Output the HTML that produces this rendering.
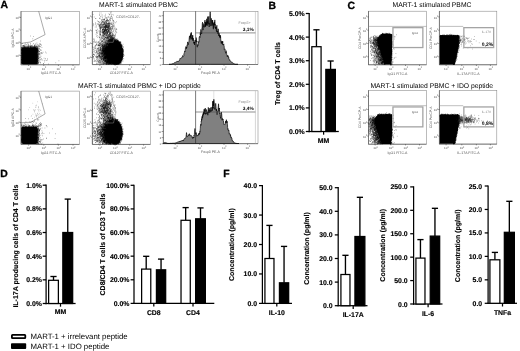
<!DOCTYPE html>
<html><head><meta charset="utf-8"><title>Figure</title>
<style>
html,body{margin:0;padding:0;background:#fff;}
body{width:520px;height:351px;overflow:hidden;font-family:"Liberation Sans",sans-serif;}
svg{display:block;will-change:transform;}
svg text{font-family:"Liberation Sans",sans-serif;text-rendering:geometricPrecision;}
</style></head><body>
<svg width="520" height="351" viewBox="0 0 520 351">
<rect width="520" height="351" fill="#fff"/>
<text x="0.5" y="8.4" font-size="10.4" font-weight="bold" text-anchor="start" fill="#000" stroke="#000" stroke-width="0.3">A</text>
<text x="268.6" y="8.9" font-size="10.4" font-weight="bold" text-anchor="start" fill="#000" stroke="#000" stroke-width="0.3">B</text>
<text x="347.4" y="8.6" font-size="10.4" font-weight="bold" text-anchor="start" fill="#000" stroke="#000" stroke-width="0.3">C</text>
<text x="0.2" y="176.6" font-size="10.4" font-weight="bold" text-anchor="start" fill="#000" stroke="#000" stroke-width="0.3">D</text>
<text x="90.7" y="177.0" font-size="10.4" font-weight="bold" text-anchor="start" fill="#000" stroke="#000" stroke-width="0.3">E</text>
<text x="223.2" y="177.0" font-size="10.4" font-weight="bold" text-anchor="start" fill="#000" stroke="#000" stroke-width="0.3">F</text>
<text x="138.5" y="7.4" font-size="6.78" font-weight="normal" text-anchor="middle" fill="#000">MART-1 stimulated PBMC</text>
<text x="139.4" y="87.6" font-size="6.78" font-weight="normal" text-anchor="middle" fill="#000">MART-1 stimulated PBMC + IDO peptide</text>
<text x="432" y="7.4" font-size="6.78" font-weight="normal" text-anchor="middle" fill="#000">MART-1 stimulated PBMC</text>
<text x="431.8" y="88.2" font-size="6.78" font-weight="normal" text-anchor="middle" fill="#000">MART-1 stimulated PBMC + IDO peptide</text>
<rect x="21.0" y="11.3" width="58.5" height="53.5" fill="#fff" stroke="#858585" stroke-width="0.55"/>
<path d="M21.0,11.3V64.8H79.5" fill="none" stroke="#4a4a4a" stroke-width="0.6"/>
<polyline points="21,43.4 30.5,42 45.1,34.6 38.7,11.3" fill="none" stroke="#444" stroke-width="0.45"/>
<rect x="21.3" y="47.199999999999996" width="16.3" height="17.300000000000004" rx="1.8" fill="#000"/>
<path d="M30 36h.5M33.2 36.5h.5M32.6 38.75h.5M40.1 41h.5M36.7 43h.5M24.9 43.25h.5M22.2 43.5h.5m7.3 0h.5m2.5 0h.5M27.1 43.75h.5m8 0h.5m3.4 0h.5M28.4 44h.5m11.2 0h.5M39.9 44.25h.5M26.1 44.5h.5m1.3 0h.5m6.5 0h.5m5.3 0h.5M25.4 44.75h.5m4.5 0h.5m6 0h.5m1.4 0h.5M24.6 45h.5m7.6 0h.5m.8 0h.5m2.3 0h.5M24.5 45.25h.5m3.4 0h.5m8.9 0h.5m3.1 0h.5M22.3 45.5h.5m.4 0h.5m-.4 0h.5M23.2 45.75h.5m.5 0h.5m2.2 0h.5m1 0h.5m1.8 0h.5m.5 0h.5m-.1 0h.5m1.6 0h.5m-.3 0h.5m-.2 0h.5m.4 0h.5m2.3 0h.5M23.3 46h.5m1.4 0h.5m.9 0h.5m.9 0h.5m.2 0h.5m-.3 0h.5m.2 0h.5m-.2 0h.5m-.2 0h.5m.3 0h.5m-.3 0h.5m-.4 0h.5m2.2 0h.5m1.9 0h.5m1.7 0h.5m0 0h.5m-.3 0h.5M22.3 46.25h.5m.7 0h.5m.3 0h.5m2 0h.5m3.1 0h.5m3.4 0h.5m-.4 0h.5m-.3 0h.5m.3 0h.5m-.3 0h.5m.1 0h.5m3.9 0h.5M24.7 46.5h.5m.2 0h.5m2.3 0h.5m-.1 0h.5m-.4 0h.5m.1 0h.5m.6 0h.5m1.1 0h.5m1 0h.5m-.3 0h.5m-.2 0h.5m2.3 0h.5m.2 0h.5m.6 0h.5M23.2 46.75h.5m.5 0h.5m.9 0h.5m.4 0h.5m-.2 0h.5m0 0h.5m2.3 0h.5m-.2 0h.5m0 0h.5m.1 0h.5m-.3 0h.5m0 0h.5m.2 0h.5m2.5 0h.5m.5 0h.5m1.7 0h.5m.6 0h.5M22.3 47h.5m.5 0h.5m0 0h.5m-.2 0h.5m-.4 0h.5m-.2 0h.5m-.3 0h.5m1.5 0h.5m-.2 0h.5m.7 0h.5m0 0h.5m.7 0h.5m.2 0h.5m-.1 0h.5m.7 0h.5m-.1 0h.5m.7 0h.5m.9 0h.5m-.2 0h.5m-.3 0h.5m-.1 0h.5m-.2 0h.5m1.8 0h.5M21.6 47.25h.5m.2 0h.5m.6 0h.5m-.1 0h.5m1.9 0h.5m.3 0h.5m-.3 0h.5m-.4 0h.5m.9 0h.5m1 0h.5m-.2 0h.5m1.7 0h.5m.3 0h.5m-.3 0h.5m-.4 0h.5m.4 0h.5m-.2 0h.5m.4 0h.5m.9 0h.5m0 0h.5M21.6 47.5h.5m-.3 0h.5m2 0h.5m-.1 0h.5m0 0h.5m-.3 0h.5m2.3 0h.5m-.2 0h.5m1 0h.5m-.1 0h.5m.3 0h.5m.3 0h.5m.7 0h.5m.3 0h.5m-.2 0h.5m-.2 0h.5m6.6 0h.5M21.6 47.75h.5m3.7 0h.5m5 0h.5m1.3 0h.5m.7 0h.5m.4 0h.5m1.1 0h.5m-.3 0h.5m0 0h.5m-.3 0h.5M21.6 48h.5M21.2 48.25h.5m0 0h.5m14.4 0h.5m0 0h.5m-.3 0h.5m-.1 0h.5m.4 0h.5M36.8 48.5h.5m2.2 0h.5M36.5 48.75h.5m0 0h.5m1.1 0h.5M37.1 49h.5m-.4 0h.5m-.4 0h.5m.8 0h.5M37.6 49.25h.5m.3 0h.5m.4 0h.5M21.2 49.5h.5m-.2 0h.5m14.9 0h.5m-.1 0h.5m2.5 0h.5M21.2 49.75h.5m-.3 0h.5m15.1 0h.5m-.1 0h.5m-.4 0h.5M37.3 50h.5m-.4 0h.5m-.2 0h.5m-.3 0h.5M21.3 50.25h.5m-.3 0h.5m-.4 0h.5m15.3 0h.5m.2 0h.5m2.8 0h.5M21.7 50.5h.5m-.4 0h.5m14.3 0h.5m-.1 0h.5m2.9 0h.5M36.7 50.75h.5m-.4 0h.5m.1 0h.5m-.4 0h.5m.2 0h.5m-.1 0h.5M36.6 51h.5m-.1 0h.5m.1 0h.5m-.3 0h.5m.1 0h.5M37 51.25h.5m.1 0h.5m-.4 0h.5m.4 0h.5m-.1 0h.5M21.1 51.5h.5m15.7 0h.5m.2 0h.5m.3 0h.5m-.2 0h.5M37.3 51.75h.5m-.4 0h.5m1.3 0h.5M21.5 52h.5m14.6 0h.5m-.3 0h.5m-.4 0h.5m7.8 0h.5M21.2 52.25h.5m14.8 0h.5m.4 0h.5m4.9 0h.5M21 52.5h.5m15.5 0h.5m.1 0h.5m-.4 0h.5m-.3 0h.5m3.1 0h.5M38.3 52.75h.5m1.3 0h.5M21.2 53h.5m0 0h.5m14.9 0h.5m.1 0h.5m.3 0h.5m.5 0h.5m5.9 0h.5M36.6 53.25h.5m4.3 0h.5m-.2 0h.5m-.3 0h.5M21.2 53.5h.5m-.1 0h.5m17.3 0h.5M21.6 53.75h.5m-.4 0h.5m14.7 0h.5m.1 0h.5m-.3 0h.5m.1 0h.5m1.1 0h.5M36.9 54h.5m.3 0h.5m-.4 0h.5m.1 0h.5m-.4 0h.5m-.4 0h.5m.3 0h.5M37 54.25h.5m-.2 0h.5M21.8 54.5h.5m14.3 0h.5m.4 0h.5m1.3 0h.5M36.5 54.75h.5m-.2 0h.5m-.1 0h.5m.2 0h.5m-.3 0h.5m.2 0h.5M21.1 55h.5m15 0h.5m.3 0h.5m2.7 0h.5M21.3 55.25h.5m14.8 0h.5m-.1 0h.5M21.4 55.5h.5m15.5 0h.5M36.7 55.75h.5m.2 0h.5m-.2 0h.5m-.2 0h.5m-.1 0h.5M21.4 56h.5m15.4 0h.5m-.4 0h.5m.7 0h.5m-.2 0h.5M21.4 56.25h.5m15.1 0h.5m-.4 0h.5m-.4 0h.5m.1 0h.5M37.1 56.5h.5m3.1 0h.5M21.3 56.75h.5m16 0h.5m-.2 0h.5M36.6 57h.5m-.1 0h.5m.1 0h.5m0 0h.5M21 57.25h.5m-.4 0h.5m15.1 0h.5m0 0h.5m-.4 0h.5M21.3 57.5h.5m14.8 0h.5m0 0h.5m1.5 0h.5m.4 0h.5M37.2 57.75h.5m.3 0h.5m-.2 0h.5m.2 0h.5M21.7 58h.5m14.7 0h.5m-.3 0h.5m.5 0h.5M36.5 58.25h.5m0 0h.5m-.3 0h.5m.2 0h.5m5.4 0h.5M21.8 58.5h.5m15.5 0h.5m-.3 0h.5m.2 0h.5m2.2 0h.5m3.4 0h.5M36.9 58.75h.5m.6 0h.5m8.6 0h.5M21 59h.5m-.3 0h.5m14.8 0h.5m-.4 0h.5m0 0h.5M21.2 59.25h.5m-.1 0h.5m14.5 0h.5m.2 0h.5m-.4 0h.5m-.2 0h.5m.4 0h.5m1 0h.5M21 59.5h.5m.1 0h.5m14.7 0h.5m-.4 0h.5m-.1 0h.5M21.6 59.75h.5m-.4 0h.5m14.6 0h.5m-.1 0h.5m0 0h.5m1.4 0h.5m1.1 0h.5M36.6 60h.5m1.4 0h.5m.8 0h.5m2 0h.5m2.1 0h.5m1.6 0h.5M36.6 60.25h.5M21.4 60.5h.5m-.4 0h.5m15.1 0h.5m-.2 0h.5m-.2 0h.5m.1 0h.5m5.1 0h.5m2 0h.5M36.7 60.75h.5m21.5 0h.5M21.6 61h.5m14.6 0h.5m-.4 0h.5m-.1 0h.5m.8 0h.5m0 0h.5M21.3 61.25h.5m14.7 0h.5m.2 0h.5m-.2 0h.5m-.3 0h.5m-.3 0h.5M36.7 61.5h.5m.2 0h.5M21.5 61.75h.5m14.5 0h.5m0 0h.5m.1 0h.5m-.3 0h.5M21.2 62h.5m15.3 0h.5m1.2 0h.5m.6 0h.5m4.2 0h.5M37.4 62.25h.5M21.8 62.5h.5m16.2 0h.5m.9 0h.5M21.4 62.75h.5m16.1 0h.5m-.1 0h.5m16.7 0h.5M21.1 63h.5m-.3 0h.5m-.3 0h.5m14.6 0h.5m-.1 0h.5m-.3 0h.5m0 0h.5m-.3 0h.5m1.7 0h.5M37 63.25h.5m.2 0h.5M21.1 63.5h.5m15 0h.5m-.4 0h.5m1.3 0h.5m4.2 0h.5M36.9 63.75h.5m-.3 0h.5m5.8 0h.5M36.8 64h.5m.3 0h.5m10.2 0h.5M36.6 64.5h.5" stroke="#000" stroke-width="0.5" fill="none" opacity="1.0"/>
<path d="" stroke="#777" stroke-width="0.5" fill="none" opacity="1.0"/>
<text x="45.2" y="18.5" font-size="3.2" font-weight="normal" text-anchor="start" fill="#555">IgG1</text>
<line x1="28.6" y1="64.8" x2="28.6" y2="66.0" stroke="#333" stroke-width="0.5"/>
<text x="26.6" y="69.8" font-size="3.0" font-weight="normal" text-anchor="start" fill="#555">10</text>
<text x="29.900000000000002" y="68.39999999999999" font-size="2.2" font-weight="normal" text-anchor="start" fill="#555">2</text>
<line x1="43.8" y1="64.8" x2="43.8" y2="66.0" stroke="#333" stroke-width="0.5"/>
<text x="41.8" y="69.8" font-size="3.0" font-weight="normal" text-anchor="start" fill="#555">10</text>
<text x="45.099999999999994" y="68.39999999999999" font-size="2.2" font-weight="normal" text-anchor="start" fill="#555">2</text>
<line x1="58.4" y1="64.8" x2="58.4" y2="66.0" stroke="#333" stroke-width="0.5"/>
<text x="56.4" y="69.8" font-size="3.0" font-weight="normal" text-anchor="start" fill="#555">10</text>
<text x="59.699999999999996" y="68.39999999999999" font-size="2.2" font-weight="normal" text-anchor="start" fill="#555">2</text>
<line x1="73.0" y1="64.8" x2="73.0" y2="66.0" stroke="#333" stroke-width="0.5"/>
<text x="71.0" y="69.8" font-size="3.0" font-weight="normal" text-anchor="start" fill="#555">10</text>
<text x="74.3" y="68.39999999999999" font-size="2.2" font-weight="normal" text-anchor="start" fill="#555">2</text>
<line x1="19.8" y1="17.4" x2="21.0" y2="17.4" stroke="#333" stroke-width="0.5"/>
<text x="15.4" y="19.0" font-size="3.0" font-weight="normal" text-anchor="start" fill="#555">10</text>
<text x="18.5" y="17.5" font-size="2.2" font-weight="normal" text-anchor="start" fill="#555">2</text>
<line x1="19.8" y1="30.1" x2="21.0" y2="30.1" stroke="#333" stroke-width="0.5"/>
<text x="15.4" y="31.700000000000003" font-size="3.0" font-weight="normal" text-anchor="start" fill="#555">10</text>
<text x="18.5" y="30.200000000000003" font-size="2.2" font-weight="normal" text-anchor="start" fill="#555">2</text>
<line x1="19.8" y1="42.8" x2="21.0" y2="42.8" stroke="#333" stroke-width="0.5"/>
<text x="15.4" y="44.4" font-size="3.0" font-weight="normal" text-anchor="start" fill="#555">10</text>
<text x="18.5" y="42.9" font-size="2.2" font-weight="normal" text-anchor="start" fill="#555">2</text>
<line x1="19.8" y1="55.5" x2="21.0" y2="55.5" stroke="#333" stroke-width="0.5"/>
<text x="15.4" y="57.1" font-size="3.0" font-weight="normal" text-anchor="start" fill="#555">10</text>
<text x="18.5" y="55.6" font-size="2.2" font-weight="normal" text-anchor="start" fill="#555">2</text>
<text x="50.8" y="74.2" font-size="3.5" font-weight="normal" text-anchor="middle" fill="#555">IgG1 FITC-A</text>
<text x="13.7" y="38.05" font-size="3.5" font-weight="normal" text-anchor="middle" fill="#555" transform="rotate(-90 13.7 38.05)">IgG1 APC-A</text>
<rect x="21.0" y="91.1" width="58.5" height="53.30000000000001" fill="#fff" stroke="#858585" stroke-width="0.55"/>
<path d="M21.0,91.1V144.4H79.5" fill="none" stroke="#4a4a4a" stroke-width="0.6"/>
<polyline points="21,122.8 31.1,122.2 45.1,113.9 38.7,91.1" fill="none" stroke="#444" stroke-width="0.45"/>
<rect x="21.3" y="126.80000000000001" width="16.3" height="17.299999999999983" rx="1.8" fill="#000"/>
<path d="M36.2 115.25h.5M25.1 118.5h.5m6.8 0h.5M28.4 118.75h.5M37.4 119.75h.5m.7 0h.5M34.4 120h.5m2.8 0h.5M32.5 121.5h.5m-.2 0h.5m1.2 0h.5M25.7 121.75h.5m5 0h.5M29.3 122h.5M30.5 122.25h.5M33.5 122.5h.5m6.1 0h.5M35.7 123h.5M31.9 123.25h.5m3.7 0h.5M24.5 123.75h.5m14.3 0h.5m-.2 0h.5m.6 0h.5m-.2 0h.5M27.7 124h.5M22.7 124.25h.5m2.3 0h.5m-.3 0h.5m14.3 0h.5m.3 0h.5M40.5 124.5h.5M21.3 124.75h.5m10.3 0h.5m.4 0h.5m1.7 0h.5m2.5 0h.5m1.9 0h.5M28.3 125h.5m3.8 0h.5m6.7 0h.5M21.5 125.25h.5m1 0h.5m1.1 0h.5m.9 0h.5m1.2 0h.5m4.2 0h.5m1.7 0h.5m-.3 0h.5m3.4 0h.5M22.9 125.5h.5m-.3 0h.5m.8 0h.5m4.4 0h.5m-.1 0h.5m9.6 0h.5m.7 0h.5m4.4 0h.5M28.2 125.75h.5m.6 0h.5m2.3 0h.5m-.1 0h.5m-.3 0h.5m-.3 0h.5m2.8 0h.5m.4 0h.5m1.1 0h.5m6.9 0h.5M21.5 126h.5m-.3 0h.5m.4 0h.5m.9 0h.5m1 0h.5m3.1 0h.5m1.4 0h.5m1.3 0h.5m.2 0h.5m-.4 0h.5m-.1 0h.5m1.2 0h.5m.1 0h.5m1.6 0h.5m-.1 0h.5m-.4 0h.5m.9 0h.5M22.2 126.25h.5m2.2 0h.5m.2 0h.5m.3 0h.5m-.3 0h.5m1.4 0h.5m1 0h.5m.4 0h.5m.7 0h.5m.3 0h.5m.2 0h.5m1.7 0h.5M25.5 126.5h.5m2.1 0h.5m1.1 0h.5m2.7 0h.5m1.8 0h.5m0 0h.5m.8 0h.5m-.4 0h.5m.3 0h.5M21.9 126.75h.5m-.1 0h.5m.1 0h.5m-.2 0h.5m-.2 0h.5m1 0h.5m1.1 0h.5m-.4 0h.5m.9 0h.5m.3 0h.5m-.2 0h.5m-.3 0h.5m0 0h.5m.7 0h.5m1.4 0h.5m-.3 0h.5m0 0h.5m0 0h.5m2.1 0h.5m-.2 0h.5m.3 0h.5m1.4 0h.5m6.5 0h.5M24 127h.5m0 0h.5m-.4 0h.5m0 0h.5m.8 0h.5m0 0h.5m.5 0h.5m.2 0h.5m-.1 0h.5m1.8 0h.5m0 0h.5m2.3 0h.5m-.3 0h.5m-.4 0h.5m.6 0h.5m-.2 0h.5m-.3 0h.5m-.1 0h.5m.7 0h.5M22.9 127.25h.5m-.4 0h.5m2.4 0h.5m-.3 0h.5m.2 0h.5m-.2 0h.5m.9 0h.5m1.6 0h.5m-.4 0h.5m-.1 0h.5m.4 0h.5m0 0h.5m-.1 0h.5m0 0h.5M21.1 127.5h.5m16.2 0h.5M21.6 127.75h.5M41.8 128h.5m2.4 0h.5M38.4 128.25h.5m-.3 0h.5M21 128.5h.5m.2 0h.5m14.5 0h.5m1 0h.5m1.7 0h.5M36.9 128.75h.5m.4 0h.5m.3 0h.5m13.2 0h.5M36.9 129h.5m0 0h.5m1.8 0h.5M21.2 129.25h.5m14.8 0h.5m-.3 0h.5m-.1 0h.5m.8 0h.5M37 129.5h.5m.1 0h.5m-.4 0h.5m-.3 0h.5m.2 0h.5m.4 0h.5m-.1 0h.5M21.2 129.75h.5m15.6 0h.5m-.4 0h.5M37.1 130h.5m0 0h.5m.6 0h.5m-.3 0h.5M37.1 130.25h.5m.7 0h.5m.4 0h.5m-.2 0h.5M21.3 130.5h.5m14.9 0h.5m-.4 0h.5m-.2 0h.5m-.3 0h.5m.3 0h.5m.7 0h.5M21.7 130.75h.5m14.7 0h.5m.1 0h.5m-.3 0h.5m.8 0h.5m-.4 0h.5m2.1 0h.5M21.3 131h.5m-.1 0h.5m14.6 0h.5m-.2 0h.5m-.4 0h.5m-.1 0h.5m-.3 0h.5m.4 0h.5M21.6 131.25h.5m14.4 0h.5m-.1 0h.5m.6 0h.5m.5 0h.5M37.2 131.5h.5m-.3 0h.5m.8 0h.5M36.7 131.75h.5m-.2 0h.5M21.4 132h.5m-.2 0h.5m14.7 0h.5m-.1 0h.5m0 0h.5m-.4 0h.5m-.4 0h.5M21.2 132.25h.5m-.1 0h.5m14.6 0h.5m.1 0h.5m0 0h.5m.1 0h.5m3.4 0h.5M37.6 132.5h.5m-.3 0h.5M21.5 132.75h.5m14.9 0h.5m-.4 0h.5M36.5 133h.5m0 0h.5m1.7 0h.5m-.3 0h.5m9.5 0h.5M21 133.25h.5m.2 0h.5m15.2 0h.5m.5 0h.5m.5 0h.5m1.8 0h.5M37.6 133.5h.5m5.6 0h.5M21.1 133.75h.5m14.9 0h.5m-.4 0h.5m.1 0h.5m1.6 0h.5m2 0h.5m12.8 0h.5M36.9 134h.5m-.1 0h.5m-.4 0h.5m-.1 0h.5m-.4 0h.5m-.2 0h.5M21.5 134.25h.5m-.4 0h.5m-.3 0h.5m14.7 0h.5m.1 0h.5m.3 0h.5m-.1 0h.5M38.8 134.5h.5M21.7 134.75h.5m14.4 0h.5m-.4 0h.5m-.4 0h.5m-.2 0h.5m0 0h.5m.6 0h.5M21.4 135h.5m14.9 0h.5m-.3 0h.5m0 0h.5m.4 0h.5m-.4 0h.5M21.6 135.25h.5m14.4 0h.5m1.5 0h.5m1.6 0h.5M21.5 135.5h.5m14.6 0h.5m.1 0h.5M36.9 135.75h.5m.4 0h.5m.1 0h.5m0 0h.5m0 0h.5m2.4 0h.5M21.7 136h.5m16.4 0h.5M21 136.25h.5m15.4 0h.5m.1 0h.5m1.1 0h.5M36.6 136.75h.5m1.2 0h.5M21.4 137h.5m14.8 0h.5m-.2 0h.5m-.4 0h.5m-.4 0h.5m-.1 0h.5m-.3 0h.5m.5 0h.5M21.2 137.25h.5m16.3 0h.5m-.2 0h.5m-.3 0h.5M36.9 137.5h.5m-.3 0h.5m-.1 0h.5m-.2 0h.5M36.5 137.75h.5m1.1 0h.5m-.3 0h.5m1.4 0h.5M21.3 138h.5m16 0h.5m.3 0h.5m7.3 0h.5M21.5 138.25h.5m14.7 0h.5m-.1 0h.5m-.3 0h.5m-.1 0h.5m-.3 0h.5M21.7 138.5h.5m15.6 0h.5m.3 0h.5m7.2 0h.5m8 0h.5M21.6 138.75h.5m15.1 0h.5m0 0h.5m-.1 0h.5M37.1 139h.5m.1 0h.5m.8 0h.5m3.8 0h.5M21.3 139.25h.5m-.4 0h.5m16.3 0h.5m1 0h.5M21.1 139.5h.5m-.2 0h.5m16 0h.5m.1 0h.5m2.5 0h.5M21.2 139.75h.5m15.2 0h.5m-.4 0h.5m.5 0h.5m-.2 0h.5m1.4 0h.5m1.3 0h.5M21.1 140h.5m15 0h.5m-.1 0h.5m-.3 0h.5m.4 0h.5M21.4 140.25h.5m14.7 0h.5m.8 0h.5m2.4 0h.5M37.1 140.5h.5m-.2 0h.5m.2 0h.5M21.2 140.75h.5m14.8 0h.5M21.3 141h.5m-.3 0h.5m14.7 0h.5m-.4 0h.5m-.1 0h.5m.8 0h.5m.1 0h.5m.7 0h.5m0 0h.5M21.7 141.25h.5m14.4 0h.5m.8 0h.5M36.6 141.5h.5m1.5 0h.5m.1 0h.5m-.4 0h.5m.2 0h.5M36.6 141.75h.5m.2 0h.5m-.2 0h.5m-.2 0h.5m.7 0h.5M36.6 142h.5m-.2 0h.5M36.8 142.25h.5M37.4 142.5h.5m-.2 0h.5M36.6 142.75h.5m.5 0h.5m-.3 0h.5m-.4 0h.5m1.7 0h.5m-.3 0h.5M37.2 143h.5m0 0h.5m.9 0h.5m3 0h.5M21.3 143.25h.5m15.8 0h.5m-.4 0h.5m-.4 0h.5m0 0h.5M36.8 143.5h.5m.8 0h.5M37.1 143.75h.5m3.2 0h.5M36.6 144h.5m1.3 0h.5m0 0h.5m1.6 0h.5m16.2 0h.5" stroke="#000" stroke-width="0.5" fill="none" opacity="1.0"/>
<path d="M37 101.75h.5M32.6 103.25h.5M42.5 103.75h.5M36.4 105h.5M35.1 105.75h.5m.9 0h.5M38.5 106.75h.5M38.5 107h.5M35.2 107.25h.5M29.1 107.5h.5m6.1 0h.5m1.8 0h.5M38.6 109h.5M33.3 109.5h.5m3.9 0h.5M28.5 109.75h.5m6.2 0h.5m4 0h.5M34.6 110h.5M33.7 110.5h.5m4.3 0h.5m1 0h.5M34.5 110.75h.5M34.4 111.25h.5M38.7 111.75h.5M34.5 112h.5M37 113.25h.5M37.1 113.5h.5m1.4 0h.5M35 113.75h.5M32.7 114.25h.5M38.4 114.5h.5M40.7 114.75h.5M35.2 115h.5m1.7 0h.5m1.8 0h.5M36.8 115.25h.5M31.1 115.5h.5M35.8 116h.5M38.1 116.25h.5M30.9 116.5h.5m5.1 0h.5M36.2 117h.5M34.1 117.25h.5M37.2 119h.5" stroke="#777" stroke-width="0.5" fill="none" opacity="1.0"/>
<text x="45.2" y="98.3" font-size="3.2" font-weight="normal" text-anchor="start" fill="#555">IgG1</text>
<line x1="28.6" y1="144.4" x2="28.6" y2="145.6" stroke="#333" stroke-width="0.5"/>
<text x="26.6" y="149.4" font-size="3.0" font-weight="normal" text-anchor="start" fill="#555">10</text>
<text x="29.900000000000002" y="148.0" font-size="2.2" font-weight="normal" text-anchor="start" fill="#555">2</text>
<line x1="43.8" y1="144.4" x2="43.8" y2="145.6" stroke="#333" stroke-width="0.5"/>
<text x="41.8" y="149.4" font-size="3.0" font-weight="normal" text-anchor="start" fill="#555">10</text>
<text x="45.099999999999994" y="148.0" font-size="2.2" font-weight="normal" text-anchor="start" fill="#555">2</text>
<line x1="58.4" y1="144.4" x2="58.4" y2="145.6" stroke="#333" stroke-width="0.5"/>
<text x="56.4" y="149.4" font-size="3.0" font-weight="normal" text-anchor="start" fill="#555">10</text>
<text x="59.699999999999996" y="148.0" font-size="2.2" font-weight="normal" text-anchor="start" fill="#555">2</text>
<line x1="73.0" y1="144.4" x2="73.0" y2="145.6" stroke="#333" stroke-width="0.5"/>
<text x="71.0" y="149.4" font-size="3.0" font-weight="normal" text-anchor="start" fill="#555">10</text>
<text x="74.3" y="148.0" font-size="2.2" font-weight="normal" text-anchor="start" fill="#555">2</text>
<line x1="19.8" y1="97.19999999999999" x2="21.0" y2="97.19999999999999" stroke="#333" stroke-width="0.5"/>
<text x="15.4" y="98.79999999999998" font-size="3.0" font-weight="normal" text-anchor="start" fill="#555">10</text>
<text x="18.5" y="97.29999999999998" font-size="2.2" font-weight="normal" text-anchor="start" fill="#555">2</text>
<line x1="19.8" y1="109.89999999999999" x2="21.0" y2="109.89999999999999" stroke="#333" stroke-width="0.5"/>
<text x="15.4" y="111.49999999999999" font-size="3.0" font-weight="normal" text-anchor="start" fill="#555">10</text>
<text x="18.5" y="109.99999999999999" font-size="2.2" font-weight="normal" text-anchor="start" fill="#555">2</text>
<line x1="19.8" y1="122.6" x2="21.0" y2="122.6" stroke="#333" stroke-width="0.5"/>
<text x="15.4" y="124.19999999999999" font-size="3.0" font-weight="normal" text-anchor="start" fill="#555">10</text>
<text x="18.5" y="122.69999999999999" font-size="2.2" font-weight="normal" text-anchor="start" fill="#555">2</text>
<line x1="19.8" y1="135.3" x2="21.0" y2="135.3" stroke="#333" stroke-width="0.5"/>
<text x="15.4" y="136.9" font-size="3.0" font-weight="normal" text-anchor="start" fill="#555">10</text>
<text x="18.5" y="135.4" font-size="2.2" font-weight="normal" text-anchor="start" fill="#555">2</text>
<text x="50.8" y="153.8" font-size="3.5" font-weight="normal" text-anchor="middle" fill="#555">IgG1 FITC-A</text>
<text x="13.7" y="117.75" font-size="3.5" font-weight="normal" text-anchor="middle" fill="#555" transform="rotate(-90 13.7 117.75)">IgG1 APC-A</text>
<rect x="92.3" y="11.3" width="58.2" height="53.3" fill="#fff" stroke="#858585" stroke-width="0.55"/>
<path d="M92.3,11.3V64.6H150.5" fill="none" stroke="#4a4a4a" stroke-width="0.6"/>
<clipPath id="cp9211"><rect x="92.3" y="11.3" width="58.2" height="53.0"/></clipPath>
<ellipse cx="114.2" cy="53" rx="7.4" ry="11.2" fill="#000" clip-path="url(#cp9211)"/>
<path d="M111.3 12h.5M99.2 13h.5m1.1 0h.5M108.7 13.75h.5M105.2 14.25h.5M92.8 14.5h.5m15.9 0h.5m2.1 0h.5M99 14.75h.5m9.6 0h.5M100.9 15h.5m1.1 0h.5m10.5 0h.5M99.1 15.25h.5M105.2 15.75h.5M103.9 16h.5M110.7 16.5h.5m.1 0h.5M100 16.75h.5m.3 0h.5m6.5 0h.5M93.9 17h.5m7.7 0h.5m2.6 0h.5m2.6 0h.5M108.8 17.25h.5M106.8 17.5h.5m2.6 0h.5M105.7 17.75h.5m.1 0h.5M99.4 18h.5m2.5 0h.5m9.5 0h.5M104.7 18.25h.5m4.9 0h.5M95.1 18.5h.5m.1 0h.5m3.2 0h.5m6 0h.5m3.5 0h.5m.8 0h.5M99.9 18.75h.5M107.2 19h.5m2 0h.5M103.7 19.25h.5m-.3 0h.5m0 0h.5m1.8 0h.5M103.4 19.5h.5m.2 0h.5m2.9 0h.5M101.4 19.75h.5m-.2 0h.5m0 0h.5m.5 0h.5m.4 0h.5m4.9 0h.5m-.3 0h.5m-.3 0h.5M102.1 20h.5m3.4 0h.5m.8 0h.5m4.5 0h.5M104 20.25h.5M101.1 20.5h.5m4.2 0h.5m-.2 0h.5m.4 0h.5m.1 0h.5m-.3 0h.5m-.2 0h.5m1.4 0h.5m2.7 0h.5M103.1 20.75h.5m2.4 0h.5m.2 0h.5m.6 0h.5m.4 0h.5m4.2 0h.5M97.4 21h.5m7 0h.5m1.2 0h.5m2.7 0h.5M105.6 21.25h.5m.1 0h.5m-.3 0h.5m1 0h.5m4.8 0h.5M98.3 21.5h.5m3 0h.5m-.3 0h.5m.2 0h.5m3.9 0h.5M98 21.75h.5m2.2 0h.5m2.2 0h.5m.6 0h.5m-.3 0h.5m.1 0h.5m2.9 0h.5m7.1 0h.5M101.9 22h.5m-.1 0h.5m.2 0h.5m1.6 0h.5m3.7 0h.5m4.2 0h.5M99.1 22.25h.5m-.3 0h.5m2.7 0h.5m.6 0h.5m.9 0h.5m5.3 0h.5M100.9 22.5h.5m1.9 0h.5m.4 0h.5m1.4 0h.5m1.7 0h.5M95.4 22.75h.5m5.4 0h.5m2.3 0h.5m0 0h.5m-.4 0h.5m.7 0h.5m-.3 0h.5m-.2 0h.5m2 0h.5m6 0h.5M101.2 23h.5m.2 0h.5m3.4 0h.5m3.3 0h.5m-.4 0h.5m.7 0h.5m.8 0h.5M98 23.25h.5m5.5 0h.5m1.8 0h.5m.2 0h.5m.2 0h.5m-.1 0h.5m0 0h.5M96.9 23.5h.5m4.2 0h.5m1.6 0h.5m-.2 0h.5m1.3 0h.5m.7 0h.5m.3 0h.5m.1 0h.5m-.1 0h.5m-.2 0h.5m.5 0h.5m2.5 0h.5M93.1 23.75h.5m1.6 0h.5m5.1 0h.5m2.2 0h.5m.4 0h.5m1.3 0h.5m1 0h.5m.3 0h.5m.1 0h.5m1.4 0h.5M99.9 24h.5m2.5 0h.5m.6 0h.5m.4 0h.5m-.4 0h.5m0 0h.5m-.4 0h.5m.5 0h.5m-.3 0h.5m.5 0h.5m-.1 0h.5m.8 0h.5m-.2 0h.5m.4 0h.5m.4 0h.5M99 24.25h.5m.3 0h.5m-.3 0h.5m1.2 0h.5m1.7 0h.5m-.4 0h.5m1.9 0h.5m.4 0h.5m1.2 0h.5m3.3 0h.5M96.9 24.5h.5m.9 0h.5m1.5 0h.5m.7 0h.5m.5 0h.5m-.3 0h.5m-.4 0h.5m.1 0h.5m-.1 0h.5m1.6 0h.5m.6 0h.5m.6 0h.5m2.6 0h.5M93 24.75h.5m1.4 0h.5m3.1 0h.5m.7 0h.5m1.4 0h.5m1.4 0h.5m.3 0h.5m.1 0h.5m-.4 0h.5m3.1 0h.5m.6 0h.5m1.9 0h.5M99.7 25h.5m2.9 0h.5m1.6 0h.5m.8 0h.5m.6 0h.5m1.5 0h.5m-.3 0h.5m1.5 0h.5M100.8 25.25h.5m.4 0h.5m-.4 0h.5m1.2 0h.5m1.3 0h.5m.7 0h.5m-.4 0h.5m.2 0h.5m0 0h.5m-.4 0h.5m-.4 0h.5m.1 0h.5m-.4 0h.5m.3 0h.5M99.6 25.5h.5m4.7 0h.5m-.1 0h.5m-.1 0h.5m.2 0h.5m0 0h.5m-.3 0h.5m.6 0h.5m.8 0h.5m2.2 0h.5m.9 0h.5M92.9 25.75h.5m2.7 0h.5m2.8 0h.5m-.3 0h.5m1.8 0h.5m-.1 0h.5m1.8 0h.5m.6 0h.5m.1 0h.5m-.3 0h.5m2.2 0h.5M98.7 26h.5m-.3 0h.5m.1 0h.5m-.2 0h.5m0 0h.5m-.3 0h.5m1.7 0h.5m1.7 0h.5m-.1 0h.5m.3 0h.5m-.2 0h.5m.5 0h.5m.8 0h.5M100 26.25h.5m1.1 0h.5m.2 0h.5m.4 0h.5m.1 0h.5m.4 0h.5m-.1 0h.5m-.4 0h.5m0 0h.5m1.1 0h.5m.4 0h.5m.7 0h.5m-.3 0h.5m3.1 0h.5m-.3 0h.5M104.4 26.5h.5m-.3 0h.5m-.1 0h.5m.2 0h.5m.2 0h.5m-.1 0h.5m-.3 0h.5m.1 0h.5m-.2 0h.5m-.2 0h.5m-.2 0h.5m-.4 0h.5m-.2 0h.5m-.3 0h.5m1.8 0h.5m.3 0h.5M99.4 26.75h.5m1.3 0h.5m-.1 0h.5m0 0h.5m.7 0h.5m-.3 0h.5m.5 0h.5m.3 0h.5m.3 0h.5m-.3 0h.5m4.3 0h.5m.7 0h.5M94.9 27h.5m.9 0h.5m4.2 0h.5m2.2 0h.5m0 0h.5m-.3 0h.5m-.1 0h.5m-.1 0h.5m.3 0h.5m-.3 0h.5m.1 0h.5m.5 0h.5m1.4 0h.5m.1 0h.5M99.2 27.25h.5m-.1 0h.5m.2 0h.5m0 0h.5m3.2 0h.5m.3 0h.5m-.4 0h.5m-.1 0h.5m-.4 0h.5m-.3 0h.5m.4 0h.5m-.3 0h.5m-.1 0h.5m-.2 0h.5m-.1 0h.5m1.1 0h.5m.5 0h.5m.6 0h.5m.3 0h.5M102.7 27.5h.5m.1 0h.5m.4 0h.5m.2 0h.5m.1 0h.5m.2 0h.5m.2 0h.5m.1 0h.5m-.3 0h.5m-.3 0h.5m-.4 0h.5m-.3 0h.5m0 0h.5m0 0h.5M100 27.75h.5m-.3 0h.5m-.4 0h.5m.2 0h.5m.2 0h.5m-.3 0h.5m.2 0h.5m-.2 0h.5m.9 0h.5m.5 0h.5m.1 0h.5m.3 0h.5m.6 0h.5m.8 0h.5m.8 0h.5M100.6 28h.5m-.4 0h.5m.3 0h.5m.2 0h.5m.9 0h.5m-.2 0h.5m.2 0h.5m-.1 0h.5m2 0h.5m2.5 0h.5m1.2 0h.5m0 0h.5M99.6 28.25h.5m.4 0h.5m2.7 0h.5m.7 0h.5m-.1 0h.5m1.9 0h.5m.6 0h.5M100.6 28.5h.5m2 0h.5m1.3 0h.5m-.3 0h.5m-.2 0h.5m2.1 0h.5m-.3 0h.5m.1 0h.5m.2 0h.5m1.4 0h.5m.4 0h.5m3.2 0h.5M99.1 28.75h.5m.8 0h.5m4.3 0h.5m-.1 0h.5m.9 0h.5m1.2 0h.5m-.3 0h.5m.6 0h.5m-.2 0h.5m3 0h.5M103.2 29h.5m0 0h.5m2.3 0h.5m-.1 0h.5m-.1 0h.5m.7 0h.5m.1 0h.5m.7 0h.5m0 0h.5m.2 0h.5m0 0h.5m1.8 0h.5M97.1 29.25h.5m2.7 0h.5m1.7 0h.5m.3 0h.5m-.1 0h.5m.9 0h.5m-.4 0h.5m.5 0h.5m-.2 0h.5m-.1 0h.5m.3 0h.5m.2 0h.5m.2 0h.5m.8 0h.5m-.2 0h.5m1.4 0h.5M100 29.5h.5m1.5 0h.5m-.3 0h.5m-.3 0h.5m-.4 0h.5m.2 0h.5m0 0h.5m0 0h.5m.3 0h.5m0 0h.5m-.3 0h.5m.1 0h.5m.3 0h.5m-.3 0h.5m-.1 0h.5m.7 0h.5m.1 0h.5m6.1 0h.5m0 0h.5M99.9 29.75h.5m2.4 0h.5m0 0h.5m.2 0h.5m0 0h.5m.4 0h.5m.6 0h.5m-.1 0h.5m1.1 0h.5M104.2 30h.5m-.3 0h.5m.2 0h.5m-.1 0h.5m.6 0h.5m-.2 0h.5m.7 0h.5m2.1 0h.5m-.4 0h.5m2.2 0h.5M95.6 30.25h.5m.5 0h.5m3.4 0h.5m.8 0h.5m.2 0h.5m-.2 0h.5m.3 0h.5m.2 0h.5m-.1 0h.5m-.1 0h.5m-.1 0h.5m-.3 0h.5m-.2 0h.5m2.1 0h.5m1.9 0h.5M96 30.5h.5m7.9 0h.5m-.4 0h.5m-.4 0h.5m-.4 0h.5m-.4 0h.5m.6 0h.5m-.4 0h.5m-.2 0h.5m1.3 0h.5m-.2 0h.5m-.1 0h.5M100.5 30.75h.5m.7 0h.5m-.2 0h.5m3 0h.5m.3 0h.5m-.2 0h.5m.7 0h.5m-.4 0h.5m-.4 0h.5m.6 0h.5m.1 0h.5m1.3 0h.5m.9 0h.5m1.4 0h.5M97.9 31h.5m.7 0h.5m-.4 0h.5m2.8 0h.5m.1 0h.5m.1 0h.5m-.2 0h.5m-.4 0h.5m-.1 0h.5m-.1 0h.5m-.1 0h.5m.6 0h.5m.4 0h.5m-.2 0h.5m-.1 0h.5m-.2 0h.5m.5 0h.5m-.1 0h.5M99.7 31.25h.5m0 0h.5m1.3 0h.5m.5 0h.5m1.7 0h.5m-.2 0h.5m.3 0h.5m.3 0h.5m1.1 0h.5m1 0h.5m.1 0h.5M103.3 31.5h.5m0 0h.5m-.1 0h.5m-.3 0h.5m-.4 0h.5m-.3 0h.5m1.3 0h.5m-.4 0h.5m1.3 0h.5m-.1 0h.5m2.5 0h.5m.9 0h.5m1.9 0h.5M96.5 31.75h.5m3.2 0h.5m.1 0h.5m1 0h.5m.6 0h.5m-.4 0h.5m.1 0h.5m-.3 0h.5m1.6 0h.5m.3 0h.5m-.1 0h.5m-.3 0h.5m-.3 0h.5m1 0h.5M97.6 32h.5m2 0h.5m1.2 0h.5m.1 0h.5m-.2 0h.5m.5 0h.5m-.3 0h.5m.5 0h.5m.7 0h.5m.1 0h.5m-.3 0h.5m.7 0h.5m1.7 0h.5M100.8 32.25h.5m1.9 0h.5m.1 0h.5m2.6 0h.5m-.2 0h.5m0 0h.5m.5 0h.5m0 0h.5m-.1 0h.5m1 0h.5m.9 0h.5M96.7 32.5h.5m1.8 0h.5m2.7 0h.5m-.4 0h.5m.5 0h.5m1.1 0h.5m-.1 0h.5m.2 0h.5m.7 0h.5m1 0h.5m.3 0h.5m.3 0h.5m5.8 0h.5M96 32.75h.5m4.2 0h.5m1.3 0h.5m0 0h.5m.2 0h.5m.3 0h.5m-.2 0h.5m-.2 0h.5m0 0h.5m-.2 0h.5m-.1 0h.5m.6 0h.5m-.3 0h.5m-.4 0h.5m1.9 0h.5m-.2 0h.5m.1 0h.5m-.3 0h.5m2.1 0h.5M102.9 33h.5m-.3 0h.5m-.4 0h.5m-.3 0h.5m2 0h.5m-.4 0h.5m3.3 0h.5M99.5 33.25h.5m-.1 0h.5m.1 0h.5m1.8 0h.5m-.4 0h.5m.3 0h.5m-.4 0h.5m.2 0h.5m-.4 0h.5m.2 0h.5m1.2 0h.5m-.2 0h.5m1.5 0h.5m.5 0h.5m0 0h.5m.8 0h.5M96.9 33.5h.5m4.6 0h.5m3 0h.5m-.4 0h.5m.7 0h.5m0 0h.5m-.4 0h.5m1.6 0h.5m-.2 0h.5m-.3 0h.5m0 0h.5M103.9 33.75h.5m-.3 0h.5m1.1 0h.5m.2 0h.5m.2 0h.5m1.2 0h.5m-.2 0h.5m-.2 0h.5m2.5 0h.5M104.1 34h.5m-.3 0h.5m-.1 0h.5m1.1 0h.5m.5 0h.5m1.1 0h.5m1 0h.5m1.7 0h.5m-.2 0h.5M95.8 34.25h.5m3 0h.5m-.3 0h.5m.3 0h.5m2.3 0h.5m.9 0h.5m.4 0h.5m-.3 0h.5m0 0h.5m2.4 0h.5m2.7 0h.5M100 34.5h.5m-.3 0h.5m-.1 0h.5m1.1 0h.5m.3 0h.5m.1 0h.5m0 0h.5m.2 0h.5m1.1 0h.5m.7 0h.5m-.1 0h.5m-.4 0h.5m.6 0h.5m1 0h.5m.5 0h.5m1 0h.5M104.7 34.75h.5m1 0h.5m2 0h.5m.1 0h.5m2.1 0h.5m3.1 0h.5M102.5 35h.5m1.1 0h.5m2.2 0h.5m-.4 0h.5m1.9 0h.5m.3 0h.5m-.1 0h.5m-.4 0h.5M100.4 35.25h.5m2.1 0h.5m.5 0h.5m.9 0h.5m1.1 0h.5m.5 0h.5m.6 0h.5m-.4 0h.5m.3 0h.5m-.2 0h.5m1.6 0h.5m.8 0h.5m-.3 0h.5M96.9 35.5h.5m2.5 0h.5m1.3 0h.5m.3 0h.5m.1 0h.5m-.2 0h.5m1.1 0h.5m.5 0h.5m-.1 0h.5m-.3 0h.5m.1 0h.5m2.4 0h.5m.5 0h.5m.8 0h.5m1 0h.5M102.5 35.75h.5m.2 0h.5m2.4 0h.5m1.7 0h.5m-.2 0h.5m.3 0h.5m0 0h.5m.5 0h.5m.6 0h.5m-.3 0h.5m-.3 0h.5m.4 0h.5M99.5 36h.5m3.2 0h.5m.6 0h.5m.5 0h.5m2.3 0h.5m-.4 0h.5m-.3 0h.5m.9 0h.5m.8 0h.5m0 0h.5m-.4 0h.5m1.1 0h.5m0 0h.5m1 0h.5M96.5 36.25h.5m4.2 0h.5m.1 0h.5m4.5 0h.5m-.4 0h.5m1 0h.5m.3 0h.5m.9 0h.5m.1 0h.5m2.1 0h.5M103.1 36.5h.5m1 0h.5m2.1 0h.5m1.1 0h.5m-.2 0h.5m-.2 0h.5m-.2 0h.5m.6 0h.5M98.7 36.75h.5m2.9 0h.5m.3 0h.5m.4 0h.5m5.4 0h.5m.1 0h.5m-.3 0h.5m.2 0h.5m-.3 0h.5m-.1 0h.5m-.2 0h.5m0 0h.5M100.3 37h.5m3.3 0h.5m0 0h.5m.1 0h.5m.2 0h.5m-.1 0h.5m.2 0h.5m-.4 0h.5m0 0h.5m-.1 0h.5m0 0h.5m.1 0h.5m.4 0h.5m.3 0h.5m.5 0h.5m1.7 0h.5M97.2 37.25h.5m3.7 0h.5m.4 0h.5m2.5 0h.5m.9 0h.5m.2 0h.5m.9 0h.5m-.4 0h.5m.8 0h.5m-.1 0h.5m-.1 0h.5m-.1 0h.5m2.2 0h.5M99.2 37.5h.5m-.3 0h.5m3.1 0h.5m1.4 0h.5m-.2 0h.5m-.4 0h.5m.3 0h.5m.1 0h.5m-.3 0h.5m.6 0h.5m0 0h.5m1.5 0h.5m.2 0h.5m0 0h.5m-.3 0h.5m-.2 0h.5m.1 0h.5m.3 0h.5m.3 0h.5M101.5 37.75h.5m3.2 0h.5m1.3 0h.5m-.4 0h.5m.3 0h.5m.2 0h.5m1.5 0h.5m-.1 0h.5m1.1 0h.5m.8 0h.5M99.5 38h.5m1 0h.5m.7 0h.5m1.1 0h.5m1.1 0h.5m1.3 0h.5m-.3 0h.5m1.4 0h.5m-.2 0h.5m-.2 0h.5m-.2 0h.5m-.4 0h.5m.4 0h.5m.4 0h.5m-.4 0h.5m-.1 0h.5m0 0h.5m-.4 0h.5m.1 0h.5M100.4 38.25h.5m3.6 0h.5m.9 0h.5m-.4 0h.5m-.4 0h.5m.4 0h.5m.1 0h.5m1.3 0h.5m1.7 0h.5m.6 0h.5m-.4 0h.5m-.3 0h.5m-.3 0h.5m1.9 0h.5M102.1 38.5h.5m0 0h.5m1.4 0h.5m.7 0h.5m.3 0h.5m0 0h.5m1 0h.5m1.6 0h.5m.3 0h.5m-.2 0h.5m.3 0h.5m1 0h.5M93.6 38.75h.5m7.3 0h.5m1.6 0h.5m.4 0h.5m2.9 0h.5m-.3 0h.5m-.3 0h.5m0 0h.5m1.3 0h.5m-.2 0h.5m-.2 0h.5m0 0h.5m-.2 0h.5m-.1 0h.5m0 0h.5m0 0h.5m-.4 0h.5m-.3 0h.5m-.4 0h.5m-.3 0h.5m-.2 0h.5m1 0h.5M103.2 39h.5m.2 0h.5m4 0h.5m.5 0h.5m-.1 0h.5m-.3 0h.5m-.4 0h.5m-.4 0h.5m0 0h.5m-.2 0h.5m-.1 0h.5m.1 0h.5m-.2 0h.5m-.4 0h.5m0 0h.5m0 0h.5m.1 0h.5m2.6 0h.5M94.2 39.25h.5m6 0h.5m2.8 0h.5m2.3 0h.5m2.5 0h.5m.7 0h.5m-.2 0h.5m.3 0h.5m0 0h.5m-.4 0h.5m.3 0h.5m-.4 0h.5m-.1 0h.5m.8 0h.5M103.2 39.5h.5m.6 0h.5m1.7 0h.5m.5 0h.5m-.2 0h.5m.4 0h.5m-.2 0h.5m.3 0h.5m-.3 0h.5m-.3 0h.5m.9 0h.5m.4 0h.5m1.5 0h.5m-.2 0h.5m-.3 0h.5m.7 0h.5m-.4 0h.5m-.2 0h.5M93.3 39.75h.5m6.7 0h.5m2.5 0h.5m-.4 0h.5m1 0h.5m0 0h.5m.6 0h.5m1.7 0h.5m-.4 0h.5m-.3 0h.5m-.3 0h.5m-.4 0h.5m.1 0h.5m-.2 0h.5m-.1 0h.5m-.3 0h.5m-.3 0h.5m-.3 0h.5m.1 0h.5m-.3 0h.5m-.2 0h.5m-.3 0h.5m-.4 0h.5m.2 0h.5m-.4 0h.5m-.4 0h.5m-.2 0h.5m-.3 0h.5m-.4 0h.5m-.3 0h.5m.3 0h.5m.7 0h.5M99.2 40h.5m1.6 0h.5m.8 0h.5m1.6 0h.5m3.1 0h.5m-.3 0h.5m-.3 0h.5m-.4 0h.5m.3 0h.5m-.2 0h.5m-.3 0h.5m-.2 0h.5m-.3 0h.5m-.2 0h.5m0 0h.5m-.2 0h.5m-.3 0h.5m0 0h.5m-.4 0h.5m-.3 0h.5m-.4 0h.5m.5 0h.5m.1 0h.5m.2 0h.5m.1 0h.5m.7 0h.5m.2 0h.5M100.3 40.25h.5m3.6 0h.5m.7 0h.5m.2 0h.5m.6 0h.5m.6 0h.5m.1 0h.5m-.3 0h.5m-.2 0h.5m-.3 0h.5m.1 0h.5m0 0h.5m-.4 0h.5m-.4 0h.5m-.2 0h.5m.2 0h.5m.7 0h.5m0 0h.5m0 0h.5m-.4 0h.5m-.2 0h.5m-.4 0h.5m0 0h.5m1.8 0h.5m-.3 0h.5M102.3 40.5h.5m2.5 0h.5m.3 0h.5m.8 0h.5m-.3 0h.5m0 0h.5m.1 0h.5m-.4 0h.5m1 0h.5m-.3 0h.5m-.4 0h.5m-.2 0h.5m-.2 0h.5m0 0h.5m-.2 0h.5m-.4 0h.5m-.2 0h.5m.1 0h.5m.1 0h.5m-.2 0h.5m.1 0h.5m-.4 0h.5m-.2 0h.5m-.4 0h.5m-.3 0h.5m-.3 0h.5m.5 0h.5m-.2 0h.5m-.3 0h.5m-.1 0h.5m-.4 0h.5m0 0h.5M101.4 40.75h.5m.3 0h.5m.7 0h.5m2.6 0h.5m.2 0h.5m.3 0h.5m-.2 0h.5m-.2 0h.5m-.3 0h.5m0 0h.5m-.3 0h.5m-.1 0h.5m0 0h.5m-.1 0h.5m-.2 0h.5m-.1 0h.5m-.4 0h.5m-.1 0h.5m.9 0h.5m.5 0h.5m-.3 0h.5m-.4 0h.5m-.2 0h.5m1 0h.5m-.1 0h.5m-.2 0h.5m-.2 0h.5m.1 0h.5M94 41h.5m0 0h.5m8.9 0h.5m2.3 0h.5m-.4 0h.5m-.4 0h.5m.7 0h.5m0 0h.5m-.3 0h.5m.2 0h.5m.2 0h.5m-.3 0h.5m-.1 0h.5m0 0h.5m.1 0h.5m-.1 0h.5m-.2 0h.5m-.3 0h.5m-.4 0h.5m-.4 0h.5m.1 0h.5m.2 0h.5m-.4 0h.5m-.3 0h.5m-.3 0h.5m-.2 0h.5m-.4 0h.5m-.4 0h.5m-.4 0h.5m-.4 0h.5m-.4 0h.5m-.2 0h.5m-.4 0h.5m-.4 0h.5m-.3 0h.5m.2 0h.5M95.9 41.25h.5m2.8 0h.5m1.2 0h.5m.6 0h.5m1.7 0h.5m1.9 0h.5m.9 0h.5m-.3 0h.5m-.1 0h.5m-.4 0h.5m.2 0h.5m0 0h.5m-.3 0h.5m-.4 0h.5m-.2 0h.5m-.3 0h.5m-.3 0h.5m-.2 0h.5m-.4 0h.5m-.2 0h.5m.4 0h.5m-.4 0h.5m0 0h.5m-.2 0h.5m-.4 0h.5m-.3 0h.5m-.2 0h.5m-.2 0h.5m-.4 0h.5m0 0h.5m-.1 0h.5m-.1 0h.5m-.2 0h.5m-.4 0h.5m-.4 0h.5m-.4 0h.5m-.4 0h.5m-.2 0h.5m-.4 0h.5m-.4 0h.5m-.4 0h.5m0 0h.5m-.4 0h.5m-.4 0h.5m-.1 0h.5m-.3 0h.5M93.5 41.5h.5m7.2 0h.5m.1 0h.5m0 0h.5m0 0h.5m2.6 0h.5m1.2 0h.5m.5 0h.5m-.1 0h.5m-.4 0h.5m0 0h.5m-.3 0h.5m-.2 0h.5m-.4 0h.5m0 0h.5m-.2 0h.5m-.2 0h.5m-.3 0h.5m-.2 0h.5m-.2 0h.5m.6 0h.5m-.4 0h.5m-.4 0h.5m-.3 0h.5m0 0h.5m-.4 0h.5m-.4 0h.5m-.4 0h.5m-.4 0h.5m-.4 0h.5m-.3 0h.5m-.4 0h.5m-.4 0h.5m-.4 0h.5m-.1 0h.5m0 0h.5m-.4 0h.5m-.2 0h.5m-.4 0h.5m-.4 0h.5m-.4 0h.5m-.4 0h.5m-.4 0h.5m-.4 0h.5m-.4 0h.5m-.2 0h.5m-.4 0h.5m-.2 0h.5m-.4 0h.5m-.4 0h.5m1.2 0h.5M98.5 41.75h.5m2.7 0h.5m-.1 0h.5m2.5 0h.5m-.3 0h.5m.8 0h.5m0 0h.5m-.3 0h.5m-.4 0h.5m.6 0h.5m-.2 0h.5m.1 0h.5m-.2 0h.5m-.3 0h.5m0 0h.5m.6 0h.5m-.3 0h.5m-.3 0h.5m-.3 0h.5m-.2 0h.5m-.4 0h.5m-.3 0h.5m0 0h.5m.6 0h.5m-.4 0h.5m-.4 0h.5m-.4 0h.5m-.4 0h.5m-.4 0h.5m-.4 0h.5m-.4 0h.5m-.4 0h.5m-.3 0h.5m-.4 0h.5m-.3 0h.5m-.3 0h.5m-.1 0h.5m-.2 0h.5m-.4 0h.5m-.4 0h.5m.1 0h.5m.6 0h.5m-.2 0h.5m-.1 0h.5m.8 0h.5M97.9 42h.5m6.1 0h.5m-.2 0h.5m-.3 0h.5m0 0h.5m1.6 0h.5m-.2 0h.5m-.1 0h.5m-.3 0h.5m-.1 0h.5m-.4 0h.5m-.3 0h.5m.4 0h.5m.3 0h.5m-.3 0h.5m-.4 0h.5m0 0h.5m.1 0h.5m0 0h.5m.5 0h.5m-.3 0h.5m-.2 0h.5m-.3 0h.5m-.3 0h.5m-.3 0h.5m-.3 0h.5m-.4 0h.5m-.4 0h.5m-.4 0h.5m-.3 0h.5m-.4 0h.5m0 0h.5m-.4 0h.5m-.2 0h.5m-.4 0h.5m-.3 0h.5m-.4 0h.5m-.4 0h.5m-.4 0h.5m-.3 0h.5m-.4 0h.5m.3 0h.5m-.3 0h.5m-.4 0h.5m-.1 0h.5m-.3 0h.5m.3 0h.5m.2 0h.5M95.3 42.25h.5m2.8 0h.5m2 0h.5m1.7 0h.5m-.2 0h.5m.3 0h.5m.5 0h.5m-.3 0h.5m-.3 0h.5m1 0h.5m-.3 0h.5m0 0h.5m-.2 0h.5m.3 0h.5m-.4 0h.5m-.2 0h.5m-.3 0h.5m-.3 0h.5m-.4 0h.5m-.3 0h.5m.4 0h.5m-.1 0h.5m-.2 0h.5m-.4 0h.5m-.4 0h.5m-.4 0h.5m-.4 0h.5m.4 0h.5m-.3 0h.5m.2 0h.5m-.2 0h.5m0 0h.5m-.4 0h.5m-.2 0h.5m-.4 0h.5m-.2 0h.5m-.2 0h.5m-.2 0h.5m-.4 0h.5m-.3 0h.5m-.4 0h.5m-.4 0h.5m-.4 0h.5m-.4 0h.5m-.3 0h.5m-.4 0h.5m-.3 0h.5m-.4 0h.5m-.4 0h.5m0 0h.5m-.4 0h.5m-.4 0h.5m-.3 0h.5m-.4 0h.5m-.4 0h.5m-.2 0h.5m.2 0h.5M99.9 42.5h.5m3.1 0h.5m.5 0h.5m0 0h.5m-.3 0h.5m-.4 0h.5m-.4 0h.5m.2 0h.5m0 0h.5m.2 0h.5m-.2 0h.5m-.2 0h.5m-.1 0h.5m-.3 0h.5m-.3 0h.5m.3 0h.5m-.3 0h.5m-.3 0h.5m-.4 0h.5m-.1 0h.5m-.3 0h.5m-.3 0h.5m.4 0h.5m-.3 0h.5m-.3 0h.5m-.2 0h.5m2.8 0h.5m-.4 0h.5m-.3 0h.5m-.4 0h.5m-.4 0h.5m-.4 0h.5m-.4 0h.5m-.4 0h.5m-.3 0h.5m-.2 0h.5m-.1 0h.5m.2 0h.5m.3 0h.5m-.4 0h.5m-.1 0h.5m-.3 0h.5m-.2 0h.5m0 0h.5M103.8 42.75h.5m1.6 0h.5m-.3 0h.5m0 0h.5m.5 0h.5m-.4 0h.5m-.2 0h.5m-.4 0h.5m0 0h.5m-.1 0h.5m-.3 0h.5m-.3 0h.5m-.2 0h.5m-.3 0h.5m-.4 0h.5m-.3 0h.5m0 0h.5m-.2 0h.5m-.1 0h.5m.1 0h.5m4.2 0h.5m-.3 0h.5m-.3 0h.5m-.4 0h.5m-.1 0h.5m-.4 0h.5m-.4 0h.5m-.4 0h.5m-.3 0h.5m-.4 0h.5m-.4 0h.5m-.3 0h.5m-.3 0h.5m-.2 0h.5m.1 0h.5m.2 0h.5m-.3 0h.5m-.3 0h.5M98.6 43h.5m1.7 0h.5m3.4 0h.5m-.4 0h.5m0 0h.5m.7 0h.5m.6 0h.5m-.3 0h.5m-.3 0h.5m-.4 0h.5m.3 0h.5m.2 0h.5m-.3 0h.5m0 0h.5m-.1 0h.5m-.4 0h.5m.5 0h.5m4.5 0h.5m-.3 0h.5m-.3 0h.5m-.4 0h.5m-.4 0h.5m-.4 0h.5m-.3 0h.5m-.4 0h.5m-.2 0h.5m-.4 0h.5m-.3 0h.5m-.4 0h.5m-.4 0h.5m-.2 0h.5m-.3 0h.5m-.1 0h.5M99.3 43.25h.5m.2 0h.5m2.1 0h.5m2.7 0h.5m.3 0h.5m-.3 0h.5m0 0h.5m-.2 0h.5m.2 0h.5m-.3 0h.5m0 0h.5m-.2 0h.5m-.4 0h.5m-.4 0h.5m-.4 0h.5m-.1 0h.5m0 0h.5m0 0h.5m-.4 0h.5m5.6 0h.5m-.3 0h.5m-.4 0h.5m-.4 0h.5m-.4 0h.5m-.4 0h.5m-.4 0h.5m-.4 0h.5m-.3 0h.5m-.4 0h.5m-.4 0h.5m-.4 0h.5m-.3 0h.5m-.3 0h.5m-.2 0h.5m-.4 0h.5m-.4 0h.5m-.4 0h.5m-.2 0h.5m-.3 0h.5m-.3 0h.5M99.5 43.5h.5m-.2 0h.5m2.4 0h.5m.4 0h.5m.1 0h.5m.7 0h.5m-.2 0h.5m-.4 0h.5m.3 0h.5m0 0h.5m-.3 0h.5m-.3 0h.5m-.4 0h.5m.6 0h.5m.2 0h.5m-.4 0h.5m-.3 0h.5m.1 0h.5m-.2 0h.5m-.4 0h.5m-.4 0h.5m6.1 0h.5m0 0h.5m-.4 0h.5m-.3 0h.5m-.3 0h.5m0 0h.5m-.4 0h.5m-.4 0h.5m-.4 0h.5m-.4 0h.5m-.4 0h.5m0 0h.5M96.5 43.75h.5m2.7 0h.5m-.4 0h.5m.6 0h.5m1.2 0h.5m3.6 0h.5m-.3 0h.5m-.3 0h.5m.2 0h.5m.7 0h.5m-.4 0h.5m-.1 0h.5m-.3 0h.5m-.1 0h.5m-.4 0h.5m7.3 0h.5m-.4 0h.5m-.3 0h.5m-.4 0h.5m-.2 0h.5m-.3 0h.5m-.3 0h.5m-.4 0h.5m-.4 0h.5m.5 0h.5m-.4 0h.5M92.8 44h.5m3.5 0h.5m5.2 0h.5m.3 0h.5m.6 0h.5m.4 0h.5m-.3 0h.5m.2 0h.5m-.2 0h.5m.6 0h.5m-.3 0h.5m-.2 0h.5m.3 0h.5m-.1 0h.5m-.2 0h.5m-.4 0h.5m-.3 0h.5m-.3 0h.5m-.2 0h.5m7.3 0h.5m-.4 0h.5m-.3 0h.5m-.2 0h.5m-.4 0h.5m-.3 0h.5m.1 0h.5m-.1 0h.5m.9 0h.5M97.8 44.25h.5m.4 0h.5m1.2 0h.5m0 0h.5m-.1 0h.5m-.1 0h.5m.1 0h.5m2.4 0h.5m.1 0h.5m-.3 0h.5m-.4 0h.5m-.1 0h.5m-.3 0h.5m-.4 0h.5m-.3 0h.5m-.1 0h.5m-.3 0h.5m-.4 0h.5m-.1 0h.5m0 0h.5m-.4 0h.5m-.3 0h.5m-.4 0h.5m-.2 0h.5m-.4 0h.5m-.2 0h.5m0 0h.5m7.8 0h.5m-.4 0h.5m-.3 0h.5m-.4 0h.5m-.4 0h.5m-.4 0h.5m-.4 0h.5m-.4 0h.5m-.2 0h.5m-.4 0h.5m-.3 0h.5m-.4 0h.5m0 0h.5m.5 0h.5m.8 0h.5M99.6 44.5h.5m2.4 0h.5m.6 0h.5m0 0h.5m.1 0h.5m-.1 0h.5m1.4 0h.5m-.3 0h.5m.3 0h.5m-.3 0h.5m-.3 0h.5m-.2 0h.5m0 0h.5m-.3 0h.5m-.2 0h.5m-.4 0h.5m-.4 0h.5m7.9 0h.5m-.2 0h.5m-.4 0h.5m-.4 0h.5m-.4 0h.5m-.3 0h.5m-.4 0h.5m-.4 0h.5m-.4 0h.5m-.3 0h.5m-.4 0h.5m-.3 0h.5m-.2 0h.5M96.1 44.75h.5m-.1 0h.5m1.6 0h.5m1.4 0h.5m-.2 0h.5m1.6 0h.5m0 0h.5m.6 0h.5m.8 0h.5m-.2 0h.5m-.1 0h.5m-.3 0h.5m.1 0h.5m-.2 0h.5m-.4 0h.5m-.1 0h.5m-.4 0h.5m-.2 0h.5m-.1 0h.5m-.1 0h.5m8.7 0h.5m-.2 0h.5m-.3 0h.5m-.3 0h.5m-.4 0h.5m-.4 0h.5m0 0h.5m-.1 0h.5m0 0h.5m-.3 0h.5M96.1 45h.5m2.3 0h.5m1.5 0h.5m.4 0h.5m1.2 0h.5m-.1 0h.5m-.2 0h.5m-.3 0h.5m0 0h.5m.3 0h.5m-.4 0h.5m-.2 0h.5m.7 0h.5m-.1 0h.5m-.3 0h.5m-.3 0h.5m-.4 0h.5m-.1 0h.5m9.8 0h.5m-.3 0h.5m-.3 0h.5m-.4 0h.5m-.3 0h.5m-.4 0h.5m-.4 0h.5m-.4 0h.5m-.4 0h.5m-.1 0h.5m-.4 0h.5m-.4 0h.5m-.4 0h.5m-.4 0h.5m-.2 0h.5m-.4 0h.5M95.5 45.25h.5m1.9 0h.5m-.1 0h.5m-.3 0h.5m.4 0h.5m0 0h.5m1.5 0h.5m0 0h.5m.9 0h.5m-.1 0h.5m.1 0h.5m-.4 0h.5m-.2 0h.5m.2 0h.5m-.2 0h.5m1.1 0h.5m.1 0h.5m-.3 0h.5m-.3 0h.5m-.4 0h.5m-.4 0h.5m-.4 0h.5m-.3 0h.5m9.2 0h.5m-.4 0h.5m-.3 0h.5m.1 0h.5m-.3 0h.5m-.2 0h.5m-.4 0h.5m-.3 0h.5m-.4 0h.5m1.1 0h.5M97.9 45.5h.5m.4 0h.5m.2 0h.5m-.1 0h.5m1.3 0h.5m-.2 0h.5m-.1 0h.5m.4 0h.5m-.1 0h.5m.3 0h.5m-.2 0h.5m-.2 0h.5m.1 0h.5m0 0h.5m-.2 0h.5m.1 0h.5m0 0h.5m-.1 0h.5m.2 0h.5m10 0h.5m-.4 0h.5m-.3 0h.5m0 0h.5m-.4 0h.5m-.3 0h.5m-.1 0h.5m-.4 0h.5m-.2 0h.5m-.2 0h.5M95.3 45.75h.5m1.8 0h.5m.6 0h.5m-.2 0h.5m2.6 0h.5m-.2 0h.5m-.3 0h.5m1.2 0h.5m-.4 0h.5m1.2 0h.5m.5 0h.5m0 0h.5m-.3 0h.5m-.4 0h.5m-.1 0h.5m-.4 0h.5m-.1 0h.5m10 0h.5m-.3 0h.5m-.4 0h.5m-.4 0h.5m-.3 0h.5m-.2 0h.5m-.4 0h.5m-.4 0h.5m.1 0h.5m.5 0h.5M94.8 46h.5m3.6 0h.5m2 0h.5m-.4 0h.5m.1 0h.5m.8 0h.5m0 0h.5m.8 0h.5m-.1 0h.5m-.2 0h.5m0 0h.5m-.4 0h.5m-.3 0h.5m-.4 0h.5m.2 0h.5m-.1 0h.5m-.4 0h.5m-.1 0h.5m-.4 0h.5m0 0h.5m9.9 0h.5m-.4 0h.5m-.4 0h.5m-.4 0h.5m-.3 0h.5m-.4 0h.5m-.4 0h.5m-.2 0h.5m-.4 0h.5m-.2 0h.5m0 0h.5m-.3 0h.5M92.4 46.25h.5m2.5 0h.5m4.1 0h.5m1.3 0h.5m.1 0h.5m-.3 0h.5m-.1 0h.5m-.4 0h.5m-.2 0h.5m.1 0h.5m-.4 0h.5m-.4 0h.5m-.3 0h.5m0 0h.5m-.2 0h.5m-.4 0h.5m-.3 0h.5m-.2 0h.5m-.2 0h.5m-.2 0h.5m-.1 0h.5m-.1 0h.5m0 0h.5m-.3 0h.5m-.3 0h.5m-.3 0h.5m-.3 0h.5m-.4 0h.5m11.1 0h.5m-.4 0h.5m-.3 0h.5m-.1 0h.5m-.3 0h.5m-.3 0h.5m-.2 0h.5m-.3 0h.5M101.2 46.5h.5m.2 0h.5m-.1 0h.5m.4 0h.5m-.4 0h.5m-.3 0h.5m.4 0h.5m-.2 0h.5m.5 0h.5m-.4 0h.5m.2 0h.5m-.4 0h.5m-.1 0h.5m.4 0h.5m-.4 0h.5m-.4 0h.5m-.4 0h.5m-.4 0h.5m-.3 0h.5m10.7 0h.5m-.3 0h.5m-.4 0h.5m-.4 0h.5m-.3 0h.5m-.4 0h.5m.1 0h.5m-.4 0h.5m.3 0h.5M100.9 46.75h.5m1.2 0h.5m.7 0h.5m-.3 0h.5m.2 0h.5m.9 0h.5m.3 0h.5m-.4 0h.5m0 0h.5m-.3 0h.5m-.4 0h.5m-.4 0h.5m-.4 0h.5m-.4 0h.5m-.4 0h.5m-.4 0h.5m11.2 0h.5m-.4 0h.5m-.4 0h.5m-.4 0h.5m-.3 0h.5m-.4 0h.5m-.3 0h.5m.3 0h.5m-.4 0h.5m1.3 0h.5M94.1 47h.5m8.4 0h.5m.1 0h.5m.2 0h.5m.5 0h.5m-.1 0h.5m-.3 0h.5m0 0h.5m-.3 0h.5m-.4 0h.5m-.3 0h.5m-.3 0h.5m-.1 0h.5m-.4 0h.5m-.3 0h.5m-.4 0h.5m-.4 0h.5m-.4 0h.5m-.4 0h.5m11.4 0h.5m-.2 0h.5m-.4 0h.5m-.4 0h.5m-.3 0h.5m-.3 0h.5m-.3 0h.5m-.4 0h.5M93.6 47.25h.5m4.6 0h.5m.2 0h.5m.3 0h.5m-.3 0h.5m.6 0h.5m.5 0h.5m.2 0h.5m.1 0h.5m-.4 0h.5m.2 0h.5m-.4 0h.5m-.4 0h.5m-.4 0h.5m-.1 0h.5m-.4 0h.5m-.4 0h.5m-.4 0h.5m-.2 0h.5m-.1 0h.5m-.4 0h.5m-.1 0h.5m-.4 0h.5m-.4 0h.5m0 0h.5m-.4 0h.5m-.3 0h.5m11.8 0h.5m-.4 0h.5m-.2 0h.5m-.3 0h.5m-.3 0h.5m-.3 0h.5m-.3 0h.5m-.2 0h.5m0 0h.5m.4 0h.5M92.6 47.5h.5m4.8 0h.5m1.9 0h.5m1.9 0h.5m-.4 0h.5m-.4 0h.5m-.4 0h.5m-.3 0h.5m2 0h.5m-.3 0h.5m-.3 0h.5m-.4 0h.5m-.1 0h.5m-.4 0h.5m-.3 0h.5m-.4 0h.5m.1 0h.5m-.4 0h.5m-.4 0h.5m-.4 0h.5m-.2 0h.5m11.6 0h.5m-.3 0h.5m-.4 0h.5m-.4 0h.5m-.2 0h.5m-.3 0h.5m-.4 0h.5m-.2 0h.5M94.8 47.75h.5m5.1 0h.5m1.2 0h.5m-.1 0h.5m-.4 0h.5m-.4 0h.5m.2 0h.5m-.1 0h.5m-.2 0h.5m-.4 0h.5m-.3 0h.5m.4 0h.5m-.1 0h.5m-.4 0h.5m-.2 0h.5m-.4 0h.5m0 0h.5m0 0h.5m-.3 0h.5m-.3 0h.5m-.3 0h.5m-.4 0h.5m-.4 0h.5m11.7 0h.5m-.4 0h.5m-.3 0h.5m-.4 0h.5m-.3 0h.5m-.4 0h.5m-.3 0h.5m-.4 0h.5m-.3 0h.5m-.4 0h.5M95.7 48h.5m2.6 0h.5m1 0h.5m1.2 0h.5m-.3 0h.5m.2 0h.5m1 0h.5m-.3 0h.5m-.2 0h.5m-.3 0h.5m0 0h.5m0 0h.5m-.4 0h.5m-.3 0h.5m-.4 0h.5m-.4 0h.5m-.4 0h.5m-.1 0h.5m-.4 0h.5m-.3 0h.5m-.3 0h.5m-.4 0h.5m12.4 0h.5m-.4 0h.5m-.4 0h.5m-.3 0h.5m-.4 0h.5m-.4 0h.5m-.3 0h.5m-.4 0h.5m-.3 0h.5m.5 0h.5M95.6 48.25h.5m1.8 0h.5m1.7 0h.5m0 0h.5m.2 0h.5m-.2 0h.5m-.1 0h.5m-.1 0h.5m.5 0h.5m-.1 0h.5m-.2 0h.5m.1 0h.5m-.4 0h.5m-.3 0h.5m-.3 0h.5m-.4 0h.5m-.4 0h.5m-.4 0h.5m-.2 0h.5m-.4 0h.5m-.2 0h.5m-.3 0h.5m-.1 0h.5m-.1 0h.5m.1 0h.5m-.4 0h.5m12 0h.5m.1 0h.5m-.4 0h.5m-.4 0h.5m-.4 0h.5m0 0h.5m-.1 0h.5M94.8 48.5h.5m1.9 0h.5m-.2 0h.5m.2 0h.5m2.1 0h.5m.7 0h.5m.2 0h.5m-.2 0h.5m-.1 0h.5m-.4 0h.5m-.4 0h.5m-.3 0h.5m-.1 0h.5m-.3 0h.5m-.3 0h.5m-.3 0h.5m-.2 0h.5m.4 0h.5m-.2 0h.5m-.4 0h.5m-.1 0h.5m-.4 0h.5m-.3 0h.5m-.3 0h.5m-.2 0h.5m-.2 0h.5m12.3 0h.5m-.4 0h.5m-.4 0h.5m-.2 0h.5m-.4 0h.5m-.3 0h.5m0 0h.5m-.1 0h.5m-.3 0h.5M99.6 48.75h.5m-.3 0h.5m-.2 0h.5m1.1 0h.5m-.2 0h.5m1.2 0h.5m-.1 0h.5m.1 0h.5m-.4 0h.5m-.4 0h.5m.3 0h.5m-.4 0h.5m-.3 0h.5m-.2 0h.5m-.3 0h.5m-.4 0h.5m-.3 0h.5m-.4 0h.5m-.2 0h.5m-.4 0h.5m-.3 0h.5m-.3 0h.5m12.4 0h.5m-.4 0h.5m-.2 0h.5m-.4 0h.5m-.4 0h.5m.1 0h.5m-.4 0h.5M92.9 49h.5m.7 0h.5m2.2 0h.5m.6 0h.5m-.4 0h.5m4.4 0h.5m-.4 0h.5m0 0h.5m-.4 0h.5m.9 0h.5m-.4 0h.5m-.3 0h.5m-.4 0h.5m-.4 0h.5m-.3 0h.5m-.3 0h.5m-.4 0h.5m-.4 0h.5m-.4 0h.5m-.4 0h.5m-.3 0h.5m-.2 0h.5m-.4 0h.5m-.2 0h.5m0 0h.5m12.7 0h.5m-.4 0h.5m.1 0h.5m-.4 0h.5m-.3 0h.5m-.2 0h.5m-.4 0h.5m-.1 0h.5M100.6 49.25h.5m.1 0h.5m.2 0h.5m.2 0h.5m-.4 0h.5m-.3 0h.5m-.3 0h.5m-.4 0h.5m-.2 0h.5m.1 0h.5m.2 0h.5m-.3 0h.5m-.2 0h.5m0 0h.5m-.3 0h.5m-.3 0h.5m-.2 0h.5m-.3 0h.5m-.4 0h.5m-.1 0h.5m-.4 0h.5m-.4 0h.5m-.4 0h.5m12.8 0h.5m-.3 0h.5m-.4 0h.5m-.3 0h.5m-.4 0h.5m-.4 0h.5m-.1 0h.5m-.2 0h.5m-.4 0h.5M93.1 49.5h.5m6.4 0h.5m1.5 0h.5m-.3 0h.5m.6 0h.5m0 0h.5m-.1 0h.5m-.4 0h.5m-.2 0h.5m-.2 0h.5m-.4 0h.5m-.1 0h.5m-.1 0h.5m-.4 0h.5m-.4 0h.5m-.3 0h.5m-.4 0h.5m-.3 0h.5m-.4 0h.5m-.4 0h.5m-.2 0h.5m-.3 0h.5m13.1 0h.5m-.4 0h.5m-.4 0h.5m-.1 0h.5m-.1 0h.5m-.4 0h.5m-.4 0h.5m.3 0h.5m-.4 0h.5M98 49.75h.5m.3 0h.5m.2 0h.5m.1 0h.5m-.1 0h.5m-.3 0h.5m-.2 0h.5m.8 0h.5m-.3 0h.5m-.3 0h.5m.4 0h.5m.2 0h.5m-.3 0h.5m-.4 0h.5m.3 0h.5m-.4 0h.5m-.4 0h.5m-.1 0h.5m.1 0h.5m-.4 0h.5m-.2 0h.5m-.4 0h.5m-.4 0h.5m-.1 0h.5m13.1 0h.5m-.4 0h.5m-.4 0h.5m-.4 0h.5m-.4 0h.5m-.3 0h.5m0 0h.5m-.4 0h.5M96 50h.5m.4 0h.5m.1 0h.5m1.4 0h.5m.1 0h.5m-.1 0h.5m0 0h.5m1.1 0h.5m-.1 0h.5m-.3 0h.5m.1 0h.5m-.4 0h.5m-.2 0h.5m-.1 0h.5m-.3 0h.5m-.4 0h.5m-.2 0h.5m-.1 0h.5m-.3 0h.5m-.4 0h.5m-.4 0h.5m-.3 0h.5m0 0h.5m-.3 0h.5m-.4 0h.5m0 0h.5m-.4 0h.5m12.9 0h.5m.2 0h.5m-.4 0h.5m-.1 0h.5m-.3 0h.5m.3 0h.5M95 50.25h.5m4.1 0h.5m0 0h.5m.3 0h.5m.4 0h.5m-.4 0h.5m-.4 0h.5m-.3 0h.5m-.4 0h.5m-.3 0h.5m.3 0h.5m-.3 0h.5m-.3 0h.5m-.2 0h.5m-.3 0h.5m-.4 0h.5m.8 0h.5m-.3 0h.5m-.3 0h.5m-.4 0h.5m-.4 0h.5m-.2 0h.5m-.2 0h.5m-.1 0h.5m-.3 0h.5m13.4 0h.5m-.4 0h.5m-.3 0h.5m-.3 0h.5m-.4 0h.5m-.3 0h.5m-.4 0h.5m-.3 0h.5m-.3 0h.5m-.4 0h.5m-.2 0h.5M93.9 50.5h.5m4 0h.5m-.1 0h.5m1.1 0h.5m.8 0h.5m-.3 0h.5m-.2 0h.5m.9 0h.5m-.4 0h.5m-.4 0h.5m-.4 0h.5m.4 0h.5m-.2 0h.5m-.2 0h.5m.2 0h.5m-.4 0h.5m-.3 0h.5m-.4 0h.5m-.4 0h.5m-.2 0h.5m-.4 0h.5m-.4 0h.5m13.7 0h.5m-.4 0h.5m-.4 0h.5m-.4 0h.5m-.4 0h.5m-.2 0h.5M96.5 50.75h.5m1.2 0h.5m.8 0h.5m.7 0h.5m.3 0h.5m.3 0h.5m-.1 0h.5m-.1 0h.5m-.1 0h.5m-.4 0h.5m-.4 0h.5m-.4 0h.5m-.4 0h.5m-.3 0h.5m-.3 0h.5m-.2 0h.5m-.1 0h.5m-.2 0h.5m-.3 0h.5m-.4 0h.5m-.4 0h.5m.3 0h.5m.2 0h.5m13.4 0h.5m-.2 0h.5m-.4 0h.5m-.2 0h.5m-.2 0h.5m-.4 0h.5m0 0h.5m.1 0h.5M101 51h.5m.7 0h.5m-.3 0h.5m-.2 0h.5m.2 0h.5m-.4 0h.5m-.3 0h.5m-.4 0h.5m.2 0h.5m-.4 0h.5m-.4 0h.5m-.4 0h.5m-.2 0h.5m-.4 0h.5m-.3 0h.5m-.4 0h.5m.1 0h.5m-.4 0h.5m-.1 0h.5m-.3 0h.5m-.3 0h.5m-.3 0h.5m-.4 0h.5m-.4 0h.5m13.3 0h.5m-.4 0h.5m-.3 0h.5m-.3 0h.5m-.4 0h.5m1 0h.5M93.3 51.25h.5m7.6 0h.5m-.2 0h.5m.2 0h.5m0 0h.5m-.4 0h.5m-.4 0h.5m0 0h.5m-.2 0h.5m0 0h.5m0 0h.5m0 0h.5m-.3 0h.5m-.3 0h.5m-.4 0h.5m-.4 0h.5m-.4 0h.5m-.1 0h.5m-.3 0h.5m-.3 0h.5m-.4 0h.5m-.4 0h.5m-.3 0h.5m13.2 0h.5m-.4 0h.5m-.4 0h.5m-.4 0h.5m-.4 0h.5m.3 0h.5m-.4 0h.5m.2 0h.5M96.6 51.5h.5m1.7 0h.5m.9 0h.5m.6 0h.5m-.1 0h.5m-.1 0h.5m.1 0h.5m-.4 0h.5m-.2 0h.5m-.1 0h.5m-.1 0h.5m-.4 0h.5m-.1 0h.5m-.1 0h.5m-.1 0h.5m-.1 0h.5m-.4 0h.5m-.4 0h.5m-.4 0h.5m-.1 0h.5m-.3 0h.5m-.4 0h.5m-.2 0h.5m-.1 0h.5m13.6 0h.5m-.3 0h.5m-.4 0h.5m-.4 0h.5m-.4 0h.5m-.4 0h.5m-.4 0h.5m-.4 0h.5m0 0h.5m-.2 0h.5M94.4 51.75h.5m1.5 0h.5m.6 0h.5m-.2 0h.5m-.4 0h.5m4.9 0h.5m-.4 0h.5m-.1 0h.5m-.3 0h.5m-.4 0h.5m.2 0h.5m-.3 0h.5m-.2 0h.5m-.2 0h.5m-.3 0h.5m-.2 0h.5m-.3 0h.5m-.3 0h.5m-.4 0h.5m-.3 0h.5m-.4 0h.5m-.3 0h.5m13.6 0h.5m-.1 0h.5m-.3 0h.5m-.2 0h.5M96.1 52h.5m2.3 0h.5m.4 0h.5m1.4 0h.5m-.2 0h.5m-.4 0h.5m.5 0h.5m-.4 0h.5m-.3 0h.5m-.1 0h.5m-.3 0h.5m.2 0h.5m-.2 0h.5m-.4 0h.5m-.2 0h.5m-.3 0h.5m-.3 0h.5m-.3 0h.5m-.2 0h.5m-.4 0h.5m-.3 0h.5m-.4 0h.5m-.4 0h.5m-.4 0h.5m13.9 0h.5m-.1 0h.5m-.3 0h.5m-.2 0h.5m-.4 0h.5m0 0h.5M92.4 52.25h.5m.9 0h.5m2.1 0h.5m1.8 0h.5m1.1 0h.5m-.4 0h.5m.7 0h.5m-.1 0h.5m-.1 0h.5m.3 0h.5m-.4 0h.5m-.4 0h.5m-.3 0h.5m-.1 0h.5m.4 0h.5m.1 0h.5m-.3 0h.5m-.4 0h.5m-.4 0h.5m-.3 0h.5m-.2 0h.5m-.4 0h.5m-.2 0h.5m-.4 0h.5m-.4 0h.5m-.3 0h.5m13.4 0h.5m-.4 0h.5m-.4 0h.5m-.4 0h.5m-.1 0h.5m-.3 0h.5m-.4 0h.5m-.4 0h.5m0 0h.5m-.2 0h.5M96.8 52.5h.5m2.4 0h.5m.6 0h.5m.5 0h.5m-.2 0h.5m.7 0h.5m-.1 0h.5m-.3 0h.5m.1 0h.5m-.3 0h.5m-.1 0h.5m-.4 0h.5m-.3 0h.5m0 0h.5m-.4 0h.5m-.4 0h.5m-.1 0h.5m-.4 0h.5m-.4 0h.5m-.4 0h.5m-.2 0h.5m13.6 0h.5m-.2 0h.5m-.3 0h.5m-.2 0h.5M95 52.75h.5m3.8 0h.5m1.4 0h.5m-.1 0h.5m0 0h.5m-.4 0h.5m-.3 0h.5m.3 0h.5m-.1 0h.5m-.2 0h.5m-.4 0h.5m-.4 0h.5m-.1 0h.5m.3 0h.5m-.3 0h.5m.1 0h.5m-.4 0h.5m-.3 0h.5m-.4 0h.5m-.3 0h.5m-.4 0h.5m-.4 0h.5m-.3 0h.5m-.4 0h.5m13.4 0h.5m-.4 0h.5m-.3 0h.5m.1 0h.5m-.4 0h.5m-.4 0h.5m.2 0h.5M95.7 53h.5m1.3 0h.5m1 0h.5m-.4 0h.5m0 0h.5m.4 0h.5m-.1 0h.5m-.3 0h.5m.5 0h.5m1.3 0h.5m-.4 0h.5m-.4 0h.5m.1 0h.5m-.2 0h.5m-.3 0h.5m-.4 0h.5m-.1 0h.5m-.4 0h.5m-.3 0h.5m-.4 0h.5m-.4 0h.5m-.4 0h.5m-.2 0h.5m-.2 0h.5m-.3 0h.5m13.8 0h.5m-.4 0h.5m-.4 0h.5m-.4 0h.5m-.4 0h.5m-.4 0h.5m-.4 0h.5m-.2 0h.5m.1 0h.5M98.6 53.25h.5m0 0h.5m1.2 0h.5m-.4 0h.5m-.1 0h.5m-.1 0h.5m.4 0h.5m0 0h.5m0 0h.5m-.2 0h.5m-.2 0h.5m-.3 0h.5m-.4 0h.5m.5 0h.5m-.4 0h.5m-.2 0h.5m-.3 0h.5m-.3 0h.5m-.4 0h.5m-.3 0h.5m-.2 0h.5m-.2 0h.5m13.7 0h.5m-.1 0h.5m-.4 0h.5m-.4 0h.5m0 0h.5M97 53.5h.5m.9 0h.5m1.6 0h.5m-.1 0h.5m-.2 0h.5m-.2 0h.5m.1 0h.5m-.4 0h.5m-.2 0h.5m-.4 0h.5m-.3 0h.5m-.2 0h.5m.5 0h.5m-.3 0h.5m-.3 0h.5m-.3 0h.5m0 0h.5m-.3 0h.5m-.4 0h.5m-.2 0h.5m-.4 0h.5m-.3 0h.5m-.2 0h.5m-.2 0h.5m-.4 0h.5m-.3 0h.5m-.4 0h.5m13.5 0h.5m-.4 0h.5m-.4 0h.5m0 0h.5m-.3 0h.5m-.4 0h.5m-.4 0h.5m.2 0h.5M96.9 53.75h.5m1.4 0h.5m.7 0h.5m0 0h.5m.5 0h.5m0 0h.5m-.4 0h.5m-.3 0h.5m.5 0h.5m-.3 0h.5m-.4 0h.5m.2 0h.5m-.4 0h.5m-.2 0h.5m-.2 0h.5m-.3 0h.5m.1 0h.5m-.4 0h.5m-.4 0h.5m-.4 0h.5m-.3 0h.5m.2 0h.5m13.8 0h.5m-.4 0h.5m-.4 0h.5m-.4 0h.5m-.4 0h.5m-.1 0h.5m-.4 0h.5m-.4 0h.5m-.3 0h.5m-.4 0h.5m-.4 0h.5M93.1 54h.5m4.9 0h.5m.8 0h.5m1.7 0h.5m.7 0h.5m-.4 0h.5m.1 0h.5m-.4 0h.5m.2 0h.5m-.2 0h.5m-.3 0h.5m-.4 0h.5m.7 0h.5m-.1 0h.5m-.4 0h.5m-.2 0h.5m13.5 0h.5m0 0h.5m-.4 0h.5m.4 0h.5M93.8 54.25h.5m1.8 0h.5m4.2 0h.5m.2 0h.5m1.2 0h.5m.2 0h.5m-.2 0h.5m.1 0h.5m-.2 0h.5m-.1 0h.5m-.2 0h.5m.1 0h.5m-.4 0h.5m-.2 0h.5m-.4 0h.5m-.4 0h.5m-.3 0h.5m13.8 0h.5m-.1 0h.5m-.3 0h.5m-.1 0h.5M93.1 54.5h.5m-.2 0h.5m.5 0h.5m4.6 0h.5m.6 0h.5m.4 0h.5m.3 0h.5m-.1 0h.5m-.2 0h.5m0 0h.5m-.4 0h.5m-.2 0h.5m-.3 0h.5m0 0h.5m.1 0h.5m-.4 0h.5m0 0h.5m-.1 0h.5m-.4 0h.5m-.4 0h.5m0 0h.5m-.4 0h.5m-.4 0h.5m13.6 0h.5m-.4 0h.5m-.4 0h.5m-.4 0h.5m-.3 0h.5m-.3 0h.5m-.2 0h.5m-.3 0h.5m-.1 0h.5m0 0h.5M97.2 54.75h.5m.7 0h.5m.4 0h.5m-.2 0h.5m.7 0h.5m.5 0h.5m-.2 0h.5m.1 0h.5m.6 0h.5m-.4 0h.5m-.1 0h.5m-.3 0h.5m-.3 0h.5m-.4 0h.5m-.1 0h.5m-.3 0h.5m-.4 0h.5m-.3 0h.5m0 0h.5m-.4 0h.5m-.4 0h.5m-.4 0h.5m-.3 0h.5m-.3 0h.5m13.7 0h.5m-.2 0h.5m-.4 0h.5m-.4 0h.5m-.4 0h.5m-.4 0h.5m-.4 0h.5m-.2 0h.5m.3 0h.5m-.2 0h.5M99.4 55h.5m.8 0h.5m0 0h.5m.1 0h.5m.7 0h.5m-.4 0h.5m.4 0h.5m-.1 0h.5m-.3 0h.5m1 0h.5m-.4 0h.5m-.4 0h.5m-.4 0h.5m-.3 0h.5m-.4 0h.5m-.4 0h.5m13.7 0h.5m-.3 0h.5m-.4 0h.5m-.4 0h.5m-.4 0h.5m-.4 0h.5m-.4 0h.5m-.4 0h.5m-.3 0h.5m-.4 0h.5m-.4 0h.5m-.2 0h.5M98.3 55.25h.5m.1 0h.5m2 0h.5m.3 0h.5m-.3 0h.5m.9 0h.5m-.4 0h.5m-.2 0h.5m.3 0h.5m-.3 0h.5m-.2 0h.5m-.1 0h.5m0 0h.5m-.4 0h.5m-.4 0h.5m-.4 0h.5m-.3 0h.5m13.7 0h.5m-.3 0h.5m-.4 0h.5m-.4 0h.5m-.4 0h.5m-.4 0h.5m-.3 0h.5m-.3 0h.5m.1 0h.5m.4 0h.5m-.2 0h.5M94.1 55.5h.5m3.9 0h.5m-.3 0h.5m-.2 0h.5m-.3 0h.5m2.8 0h.5m0 0h.5m-.4 0h.5m.4 0h.5m-.1 0h.5m.2 0h.5m-.4 0h.5m.2 0h.5m-.4 0h.5m-.4 0h.5m-.3 0h.5m-.4 0h.5m-.2 0h.5m-.3 0h.5m-.3 0h.5m13.8 0h.5m-.3 0h.5m-.4 0h.5m-.3 0h.5m-.4 0h.5M92.6 55.75h.5m3 0h.5m2.8 0h.5m.2 0h.5m1 0h.5m-.3 0h.5m.3 0h.5m-.1 0h.5m-.1 0h.5m-.3 0h.5m.2 0h.5m-.1 0h.5m-.3 0h.5m-.4 0h.5m-.1 0h.5m-.2 0h.5m-.3 0h.5m-.2 0h.5m-.2 0h.5m-.4 0h.5m-.3 0h.5m-.2 0h.5m13.4 0h.5m-.3 0h.5m-.3 0h.5m-.3 0h.5m-.3 0h.5m-.4 0h.5m-.2 0h.5m-.3 0h.5m-.3 0h.5m-.4 0h.5M92.6 56h.5m5.8 0h.5m.3 0h.5m1 0h.5m.9 0h.5m-.3 0h.5m-.4 0h.5m.1 0h.5m-.4 0h.5m-.3 0h.5m.2 0h.5m.4 0h.5m-.2 0h.5m-.4 0h.5m.2 0h.5m-.2 0h.5m-.4 0h.5m-.4 0h.5m-.3 0h.5m-.4 0h.5m-.4 0h.5m-.3 0h.5m12.7 0h.5m.2 0h.5m-.4 0h.5m-.4 0h.5m-.4 0h.5m.5 0h.5M95 56.25h.5m1.3 0h.5m.7 0h.5m.8 0h.5m-.4 0h.5m-.2 0h.5m.3 0h.5m0 0h.5m1.2 0h.5m2.1 0h.5m-.4 0h.5m.1 0h.5m-.3 0h.5m-.4 0h.5m0 0h.5m-.2 0h.5m-.4 0h.5m-.3 0h.5m-.4 0h.5m13 0h.5m-.4 0h.5m-.3 0h.5m.1 0h.5m-.4 0h.5m-.3 0h.5m-.4 0h.5m-.3 0h.5m-.1 0h.5m-.3 0h.5M93.3 56.5h.5m3.7 0h.5m-.2 0h.5m1.3 0h.5m-.1 0h.5m.1 0h.5m-.4 0h.5m.2 0h.5m-.2 0h.5m.1 0h.5m-.3 0h.5m-.4 0h.5m-.3 0h.5m.9 0h.5m-.4 0h.5m-.3 0h.5m.1 0h.5m-.3 0h.5m-.3 0h.5m-.2 0h.5m-.4 0h.5m-.4 0h.5m-.4 0h.5m-.3 0h.5m-.3 0h.5m-.4 0h.5m0 0h.5m-.4 0h.5m-.3 0h.5m-.3 0h.5m12.7 0h.5m-.2 0h.5m-.3 0h.5m-.4 0h.5m-.4 0h.5m-.4 0h.5m-.4 0h.5m-.4 0h.5m-.4 0h.5m-.4 0h.5m.1 0h.5m-.2 0h.5M93.2 56.75h.5m2.2 0h.5m.4 0h.5m0 0h.5m0 0h.5m.1 0h.5m.7 0h.5m2.2 0h.5m-.4 0h.5m1 0h.5m-.4 0h.5m-.3 0h.5m-.3 0h.5m-.1 0h.5m-.1 0h.5m-.2 0h.5m-.4 0h.5m-.3 0h.5m-.3 0h.5m-.4 0h.5m-.4 0h.5m-.4 0h.5m-.3 0h.5m-.4 0h.5m-.2 0h.5m-.4 0h.5m-.3 0h.5m-.3 0h.5m-.4 0h.5m12.7 0h.5m-.4 0h.5m-.1 0h.5m-.4 0h.5m-.2 0h.5m-.3 0h.5m-.4 0h.5m-.3 0h.5M93 57h.5m2.2 0h.5m.1 0h.5m0 0h.5m4 0h.5m.1 0h.5m-.2 0h.5m.8 0h.5m.1 0h.5m-.2 0h.5m-.3 0h.5m-.4 0h.5m-.3 0h.5m-.3 0h.5m-.4 0h.5m.1 0h.5m-.4 0h.5m-.4 0h.5m-.3 0h.5m0 0h.5m-.4 0h.5m0 0h.5m-.3 0h.5m-.4 0h.5m-.3 0h.5m12.4 0h.5m-.3 0h.5m-.4 0h.5m-.2 0h.5m-.3 0h.5m-.4 0h.5m-.1 0h.5m-.4 0h.5m-.3 0h.5M92.9 57.25h.5m6.1 0h.5m-.3 0h.5m1.4 0h.5m-.3 0h.5m.3 0h.5m.2 0h.5m-.4 0h.5m-.4 0h.5m.3 0h.5m-.4 0h.5m-.3 0h.5m-.1 0h.5m.2 0h.5m-.4 0h.5m-.2 0h.5m-.3 0h.5m-.1 0h.5m-.3 0h.5m-.4 0h.5m-.4 0h.5m-.4 0h.5m-.3 0h.5m-.4 0h.5m-.3 0h.5m-.4 0h.5m12.3 0h.5m-.4 0h.5m-.3 0h.5m-.3 0h.5m-.4 0h.5m-.3 0h.5m-.4 0h.5m-.4 0h.5m-.3 0h.5m-.3 0h.5m-.3 0h.5m-.2 0h.5M96.2 57.5h.5m.4 0h.5m1.3 0h.5m.9 0h.5m-.2 0h.5m2.3 0h.5m.2 0h.5m.1 0h.5m-.4 0h.5m-.4 0h.5m-.2 0h.5m-.4 0h.5m-.3 0h.5m-.4 0h.5m-.2 0h.5m-.3 0h.5m-.1 0h.5m-.3 0h.5m-.2 0h.5m-.2 0h.5m-.3 0h.5m-.4 0h.5m-.3 0h.5m12.3 0h.5m-.4 0h.5m-.4 0h.5m-.4 0h.5m-.3 0h.5m-.4 0h.5m-.4 0h.5m-.4 0h.5m-.4 0h.5m-.4 0h.5m-.4 0h.5m0 0h.5m-.1 0h.5M98.1 57.75h.5m1.3 0h.5m-.1 0h.5m.5 0h.5m-.4 0h.5m1.2 0h.5m.2 0h.5m-.4 0h.5m-.3 0h.5m-.4 0h.5m-.4 0h.5m-.4 0h.5m.5 0h.5m-.4 0h.5m-.1 0h.5m-.3 0h.5m-.3 0h.5m-.3 0h.5m-.4 0h.5m-.2 0h.5m-.4 0h.5m-.2 0h.5m-.3 0h.5m-.4 0h.5m-.3 0h.5m12.1 0h.5m-.3 0h.5m-.4 0h.5m-.4 0h.5m-.4 0h.5m0 0h.5m-.4 0h.5m-.4 0h.5m-.2 0h.5m-.4 0h.5m-.1 0h.5M96 58h.5m.9 0h.5m2.2 0h.5m.4 0h.5m-.2 0h.5m.5 0h.5m.3 0h.5m0 0h.5m-.1 0h.5m-.3 0h.5m.5 0h.5m-.3 0h.5m-.3 0h.5m.4 0h.5m-.1 0h.5m-.2 0h.5m-.4 0h.5m-.3 0h.5m12.4 0h.5m-.2 0h.5m-.4 0h.5m-.4 0h.5m-.4 0h.5m-.3 0h.5m-.3 0h.5m-.4 0h.5m-.3 0h.5m-.3 0h.5m-.3 0h.5m-.4 0h.5M97.6 58.25h.5m1.6 0h.5m2.4 0h.5m.1 0h.5m.3 0h.5m.4 0h.5m-.3 0h.5m-.4 0h.5m-.4 0h.5m-.4 0h.5m-.4 0h.5m-.3 0h.5m-.4 0h.5m-.4 0h.5m-.3 0h.5m.2 0h.5m-.4 0h.5m-.1 0h.5m12.8 0h.5m-.4 0h.5m-.4 0h.5m-.3 0h.5m-.4 0h.5m-.3 0h.5m-.4 0h.5m-.3 0h.5m-.3 0h.5m-.4 0h.5m0 0h.5M99.4 58.5h.5m.3 0h.5m.5 0h.5m.2 0h.5m.1 0h.5m0 0h.5m-.1 0h.5m-.4 0h.5m-.1 0h.5m-.4 0h.5m.1 0h.5m-.4 0h.5m-.3 0h.5m.3 0h.5m-.4 0h.5m0 0h.5m-.3 0h.5m-.3 0h.5m-.3 0h.5m-.4 0h.5m-.2 0h.5m-.4 0h.5m-.2 0h.5m-.4 0h.5m-.4 0h.5m-.3 0h.5m-.4 0h.5m-.4 0h.5m11.3 0h.5m-.4 0h.5m-.2 0h.5m-.4 0h.5m-.4 0h.5m-.4 0h.5m-.3 0h.5m-.2 0h.5m-.4 0h.5m-.4 0h.5m-.2 0h.5m.5 0h.5M93.6 58.75h.5m6.4 0h.5m1.1 0h.5m.5 0h.5m.3 0h.5m.4 0h.5m-.4 0h.5m0 0h.5m-.4 0h.5m.8 0h.5m-.3 0h.5m-.4 0h.5m-.4 0h.5m-.3 0h.5m-.2 0h.5m-.3 0h.5m-.2 0h.5m-.4 0h.5m11.5 0h.5m-.4 0h.5m-.2 0h.5m-.2 0h.5m-.4 0h.5m-.4 0h.5m1.9 0h.5M94.4 59h.5m3 0h.5m2.9 0h.5m-.3 0h.5m-.2 0h.5m.4 0h.5m.1 0h.5m-.1 0h.5m-.4 0h.5m-.3 0h.5m-.2 0h.5m-.1 0h.5m-.4 0h.5m-.4 0h.5m-.4 0h.5m0 0h.5m.7 0h.5m-.3 0h.5m-.3 0h.5m-.1 0h.5m-.3 0h.5m.1 0h.5m-.4 0h.5m11.2 0h.5m-.4 0h.5m-.4 0h.5m-.4 0h.5m-.3 0h.5m-.4 0h.5m.2 0h.5M96.1 59.25h.5m.5 0h.5m3.4 0h.5m-.2 0h.5m0 0h.5m1 0h.5m-.4 0h.5m2.2 0h.5m-.4 0h.5m-.4 0h.5m-.2 0h.5m.6 0h.5m-.2 0h.5m-.4 0h.5m-.2 0h.5m-.3 0h.5m10.7 0h.5m-.2 0h.5m-.4 0h.5m-.2 0h.5m-.2 0h.5m-.4 0h.5m-.4 0h.5m-.4 0h.5m-.2 0h.5m.1 0h.5m-.4 0h.5M101.1 59.5h.5m.8 0h.5m.5 0h.5m-.4 0h.5m-.3 0h.5m.3 0h.5m-.4 0h.5m2.3 0h.5m-.1 0h.5m-.4 0h.5m-.4 0h.5m11.2 0h.5m-.4 0h.5m-.1 0h.5m-.4 0h.5m-.4 0h.5m-.1 0h.5m.1 0h.5m-.4 0h.5m.1 0h.5M98.6 59.75h.5m.9 0h.5m.9 0h.5m.9 0h.5m-.1 0h.5m1.1 0h.5m0 0h.5m-.2 0h.5m-.4 0h.5m-.3 0h.5m-.4 0h.5m.2 0h.5m0 0h.5m-.4 0h.5m-.4 0h.5m-.3 0h.5m-.4 0h.5m-.3 0h.5m-.4 0h.5m0 0h.5m10.6 0h.5m-.4 0h.5m-.1 0h.5m-.4 0h.5m-.4 0h.5m-.3 0h.5m-.4 0h.5m-.4 0h.5m-.3 0h.5m-.4 0h.5m-.2 0h.5m-.4 0h.5m-.4 0h.5m-.3 0h.5m-.3 0h.5m-.4 0h.5M96.2 60h.5m2.1 0h.5m.3 0h.5m.7 0h.5m1.7 0h.5m.3 0h.5m.3 0h.5m.3 0h.5m-.1 0h.5m-.2 0h.5m0 0h.5m-.4 0h.5m-.4 0h.5m.2 0h.5m-.3 0h.5m-.4 0h.5m-.2 0h.5m-.3 0h.5m-.3 0h.5m-.4 0h.5m10.7 0h.5m-.3 0h.5m-.4 0h.5m-.2 0h.5m-.3 0h.5m-.4 0h.5m-.3 0h.5m-.3 0h.5m-.2 0h.5M99.6 60.25h.5m.6 0h.5m.1 0h.5m.8 0h.5m.1 0h.5m-.3 0h.5m-.4 0h.5m.4 0h.5m-.4 0h.5m0 0h.5m-.4 0h.5m.3 0h.5m0 0h.5m.3 0h.5m-.3 0h.5m-.4 0h.5m.2 0h.5m.1 0h.5m-.1 0h.5m9.6 0h.5m-.3 0h.5m-.2 0h.5m-.4 0h.5m-.4 0h.5m-.4 0h.5m-.2 0h.5m-.4 0h.5m-.2 0h.5m-.4 0h.5m-.2 0h.5M97.3 60.5h.5m1.3 0h.5m2.6 0h.5m.3 0h.5m1.4 0h.5m-.3 0h.5m-.2 0h.5m-.3 0h.5m-.4 0h.5m.3 0h.5m-.1 0h.5m-.1 0h.5m-.4 0h.5m.1 0h.5m-.4 0h.5m-.4 0h.5m.1 0h.5m-.4 0h.5m-.4 0h.5m-.3 0h.5m9.4 0h.5m-.4 0h.5m-.3 0h.5m-.3 0h.5m-.3 0h.5m-.3 0h.5m.2 0h.5M94.1 60.75h.5m.5 0h.5m2.7 0h.5m4.1 0h.5m.9 0h.5m-.4 0h.5m-.4 0h.5m-.4 0h.5m-.2 0h.5m-.4 0h.5m-.2 0h.5m-.4 0h.5m.4 0h.5m0 0h.5m.1 0h.5m0 0h.5m-.1 0h.5m-.3 0h.5m-.3 0h.5m-.1 0h.5m-.3 0h.5m-.3 0h.5m9 0h.5m-.4 0h.5m-.1 0h.5m-.4 0h.5m-.4 0h.5m-.4 0h.5m-.4 0h.5m-.4 0h.5m-.4 0h.5m-.4 0h.5m-.4 0h.5m-.3 0h.5m-.3 0h.5m-.4 0h.5m-.3 0h.5m-.3 0h.5m-.4 0h.5M95.3 61h.5m1.4 0h.5m1.6 0h.5m.2 0h.5m.3 0h.5m3.9 0h.5m-.4 0h.5m-.2 0h.5m.1 0h.5m-.4 0h.5m-.1 0h.5m-.4 0h.5m-.1 0h.5m-.4 0h.5m0 0h.5m-.2 0h.5m-.4 0h.5m-.4 0h.5m-.3 0h.5m0 0h.5m-.4 0h.5m-.4 0h.5m-.4 0h.5m-.3 0h.5m8.9 0h.5m-.4 0h.5m-.4 0h.5m-.4 0h.5m-.2 0h.5m-.3 0h.5m-.4 0h.5m-.4 0h.5m-.2 0h.5m-.2 0h.5m-.3 0h.5m.8 0h.5m.3 0h.5M93.8 61.25h.5m-.4 0h.5m3.4 0h.5m1.2 0h.5m.4 0h.5m1.6 0h.5m.1 0h.5m.7 0h.5m-.1 0h.5m.9 0h.5m-.2 0h.5m-.4 0h.5m-.3 0h.5m.2 0h.5m-.4 0h.5m-.3 0h.5m-.2 0h.5m-.4 0h.5m-.2 0h.5m-.3 0h.5m-.4 0h.5m-.4 0h.5m-.4 0h.5m-.3 0h.5m-.4 0h.5m-.4 0h.5m-.4 0h.5m8.9 0h.5m-.4 0h.5m-.4 0h.5m-.4 0h.5m-.1 0h.5m-.3 0h.5m-.4 0h.5m-.4 0h.5m-.1 0h.5m-.2 0h.5m-.1 0h.5M96.4 61.5h.5m.9 0h.5m.1 0h.5m3.4 0h.5m1.9 0h.5m-.3 0h.5m-.4 0h.5m-.3 0h.5m-.3 0h.5m.1 0h.5m.2 0h.5m-.4 0h.5m-.2 0h.5m-.3 0h.5m-.3 0h.5m-.1 0h.5m-.4 0h.5m.1 0h.5m-.4 0h.5m-.3 0h.5m-.3 0h.5m-.1 0h.5m-.2 0h.5m-.4 0h.5m8.1 0h.5m-.4 0h.5m-.3 0h.5m-.4 0h.5m-.4 0h.5m-.3 0h.5m-.3 0h.5m-.2 0h.5m-.3 0h.5m-.4 0h.5m-.3 0h.5m-.3 0h.5M100.1 61.75h.5m.5 0h.5m0 0h.5m1.5 0h.5m0 0h.5m.2 0h.5m-.1 0h.5m.3 0h.5m-.3 0h.5m.1 0h.5m-.1 0h.5m.1 0h.5m-.4 0h.5m-.4 0h.5m-.4 0h.5m-.4 0h.5m-.1 0h.5m-.4 0h.5m-.4 0h.5m-.4 0h.5m-.2 0h.5m-.3 0h.5m-.3 0h.5m-.3 0h.5m-.4 0h.5m-.2 0h.5m7.6 0h.5m-.2 0h.5m-.2 0h.5m-.3 0h.5m-.3 0h.5m-.4 0h.5m-.4 0h.5m-.1 0h.5m.2 0h.5m-.3 0h.5m0 0h.5M99.5 62h.5m2.1 0h.5m-.4 0h.5m1.7 0h.5m-.3 0h.5m.7 0h.5m-.2 0h.5m.4 0h.5m-.2 0h.5m-.4 0h.5m-.3 0h.5m-.4 0h.5m-.4 0h.5m-.4 0h.5m-.2 0h.5m-.3 0h.5m-.4 0h.5m-.3 0h.5m-.4 0h.5m-.4 0h.5m0 0h.5m-.4 0h.5m-.4 0h.5m-.4 0h.5m0 0h.5m7.3 0h.5m-.4 0h.5m-.4 0h.5m-.4 0h.5m-.4 0h.5m-.4 0h.5m-.2 0h.5m-.3 0h.5m-.4 0h.5m-.4 0h.5m-.2 0h.5m-.2 0h.5m-.2 0h.5m0 0h.5M98.1 62.25h.5m.6 0h.5m3 0h.5m.1 0h.5m1.5 0h.5m.1 0h.5m-.2 0h.5m-.4 0h.5m-.1 0h.5m0 0h.5m-.3 0h.5m-.3 0h.5m.4 0h.5m-.1 0h.5m-.3 0h.5m-.3 0h.5m-.3 0h.5m-.4 0h.5m-.3 0h.5m.1 0h.5m-.4 0h.5m7 0h.5m-.3 0h.5m-.2 0h.5m-.4 0h.5m-.4 0h.5m-.4 0h.5m-.4 0h.5m-.2 0h.5m-.2 0h.5m-.4 0h.5m-.1 0h.5m-.3 0h.5m-.4 0h.5M99.9 62.5h.5m3.2 0h.5m1.6 0h.5m-.2 0h.5m-.3 0h.5m-.2 0h.5m-.1 0h.5m-.4 0h.5m.1 0h.5m0 0h.5m.1 0h.5m-.4 0h.5m.2 0h.5m.2 0h.5m6.7 0h.5m-.3 0h.5m-.1 0h.5m-.3 0h.5m-.4 0h.5m-.4 0h.5m-.3 0h.5m-.1 0h.5m-.4 0h.5m-.3 0h.5m0 0h.5m.1 0h.5m-.3 0h.5m-.2 0h.5M98.3 62.75h.5m.1 0h.5m.9 0h.5m-.4 0h.5m2.1 0h.5m.8 0h.5m2.1 0h.5m-.4 0h.5m-.2 0h.5m.2 0h.5m.2 0h.5m-.2 0h.5m-.2 0h.5m-.4 0h.5m-.1 0h.5m-.4 0h.5m-.3 0h.5m-.3 0h.5m-.2 0h.5m-.4 0h.5m-.4 0h.5m5.6 0h.5m-.3 0h.5m-.3 0h.5m0 0h.5m0 0h.5m-.3 0h.5m-.3 0h.5m.1 0h.5m-.4 0h.5m-.4 0h.5m-.3 0h.5m-.2 0h.5m.1 0h.5M96.6 63h.5m1.7 0h.5m1.7 0h.5m-.2 0h.5m.9 0h.5m-.4 0h.5m.7 0h.5m.4 0h.5m.2 0h.5m-.4 0h.5m-.4 0h.5m-.2 0h.5m-.3 0h.5m-.1 0h.5m.5 0h.5m-.2 0h.5m-.3 0h.5m-.2 0h.5m.3 0h.5m-.1 0h.5m-.4 0h.5m-.4 0h.5m-.4 0h.5m-.4 0h.5m-.4 0h.5m-.4 0h.5m-.4 0h.5m-.1 0h.5m5.4 0h.5m-.2 0h.5m-.3 0h.5m-.4 0h.5m-.4 0h.5m-.4 0h.5m-.4 0h.5m-.3 0h.5m-.4 0h.5m-.3 0h.5m-.4 0h.5m-.3 0h.5m-.3 0h.5m-.4 0h.5m-.4 0h.5m.5 0h.5m-.2 0h.5M97.1 63.25h.5m6.6 0h.5m1.1 0h.5m-.2 0h.5m.1 0h.5m-.4 0h.5m0 0h.5m-.2 0h.5m-.3 0h.5m-.3 0h.5m-.2 0h.5m.4 0h.5m-.3 0h.5m-.2 0h.5m-.4 0h.5m-.3 0h.5m.1 0h.5m-.4 0h.5m.8 0h.5m4.1 0h.5m-.4 0h.5m-.1 0h.5m-.3 0h.5m-.4 0h.5m-.4 0h.5m-.3 0h.5m-.4 0h.5m-.2 0h.5m-.3 0h.5m-.4 0h.5m-.3 0h.5m-.3 0h.5m-.2 0h.5m0 0h.5m-.1 0h.5M98.9 63.5h.5m2.6 0h.5m1.3 0h.5m.1 0h.5m0 0h.5m.8 0h.5m2.4 0h.5m-.3 0h.5m-.3 0h.5m-.4 0h.5m-.1 0h.5m-.2 0h.5m-.4 0h.5m0 0h.5m-.4 0h.5m-.2 0h.5m-.4 0h.5m-.1 0h.5m-.3 0h.5m-.3 0h.5m0 0h.5m1.9 0h.5m-.1 0h.5m-.3 0h.5m-.4 0h.5m-.4 0h.5m-.4 0h.5m-.4 0h.5m0 0h.5m-.3 0h.5m-.4 0h.5m-.2 0h.5m-.4 0h.5m-.4 0h.5m-.3 0h.5m-.3 0h.5m-.1 0h.5m-.4 0h.5m-.1 0h.5m-.4 0h.5m.1 0h.5m1 0h.5M96 63.75h.5m3.8 0h.5m2.2 0h.5m-.2 0h.5m-.4 0h.5m.7 0h.5m0 0h.5m.1 0h.5m-.4 0h.5m.6 0h.5m-.3 0h.5m0 0h.5m-.3 0h.5m-.4 0h.5m0 0h.5m-.3 0h.5m-.4 0h.5m-.2 0h.5m.1 0h.5m0 0h.5m-.2 0h.5m-.1 0h.5m-.3 0h.5m-.2 0h.5m0 0h.5m-.4 0h.5m-.3 0h.5m-.4 0h.5m-.3 0h.5m0 0h.5m-.4 0h.5m-.2 0h.5m-.4 0h.5m-.2 0h.5m-.3 0h.5m-.2 0h.5m-.3 0h.5m-.3 0h.5m-.4 0h.5m-.3 0h.5m-.3 0h.5m-.1 0h.5m-.4 0h.5m-.4 0h.5m-.4 0h.5m-.2 0h.5m-.3 0h.5m-.3 0h.5m-.2 0h.5m-.3 0h.5m-.4 0h.5m-.4 0h.5m-.4 0h.5m-.4 0h.5m-.3 0h.5m-.4 0h.5m-.4 0h.5m-.4 0h.5m-.4 0h.5m0 0h.5m-.4 0h.5m-.1 0h.5M100.7 64h.5m0 0h.5m.6 0h.5m2.9 0h.5m-.2 0h.5m-.3 0h.5m.5 0h.5m-.2 0h.5m-.2 0h.5m.1 0h.5m-.4 0h.5m-.3 0h.5m-.4 0h.5m-.2 0h.5m-.4 0h.5m.6 0h.5m-.3 0h.5m.2 0h.5m-.4 0h.5m-.2 0h.5m.1 0h.5m-.1 0h.5m-.4 0h.5m-.3 0h.5m-.4 0h.5m.6 0h.5m-.4 0h.5m-.4 0h.5m-.4 0h.5m-.4 0h.5m-.4 0h.5m-.4 0h.5m-.4 0h.5m-.4 0h.5m-.3 0h.5m-.2 0h.5m-.4 0h.5m-.3 0h.5m-.4 0h.5m-.4 0h.5m-.2 0h.5m-.3 0h.5m-.4 0h.5m-.3 0h.5m-.3 0h.5m-.4 0h.5m-.4 0h.5m-.2 0h.5m.2 0h.5m-.2 0h.5m.3 0h.5m-.4 0h.5m.7 0h.5M103.3 64.25h.5m2.2 0h.5m-.4 0h.5m.1 0h.5m1.3 0h.5m.3 0h.5m.6 0h.5m.4 0h.5m-.2 0h.5m1 0h.5m-.4 0h.5m0 0h.5m-.3 0h.5m-.4 0h.5m-.2 0h.5m-.4 0h.5m-.2 0h.5m-.2 0h.5m-.3 0h.5m-.4 0h.5m-.4 0h.5m-.3 0h.5m0 0h.5m-.4 0h.5m-.4 0h.5m-.4 0h.5m-.4 0h.5m-.4 0h.5m-.3 0h.5m.3 0h.5m-.3 0h.5m-.4 0h.5m-.1 0h.5" stroke="#000" stroke-width="0.5" fill="none" opacity="1.0"/>
<polyline points="92.3,42.3 113.2,42.3 116.2,32 110.2,11.3" fill="none" stroke="#8a8a8a" stroke-width="0.5"/>
<text x="116.3" y="17.9" font-size="3.6" font-weight="normal" text-anchor="start" fill="#555">CD25+CD127-</text>
<line x1="99.8" y1="64.6" x2="99.8" y2="65.8" stroke="#333" stroke-width="0.5"/>
<text x="97.8" y="69.6" font-size="3.0" font-weight="normal" text-anchor="start" fill="#555">10</text>
<text x="101.1" y="68.19999999999999" font-size="2.2" font-weight="normal" text-anchor="start" fill="#555">2</text>
<line x1="115.1" y1="64.6" x2="115.1" y2="65.8" stroke="#333" stroke-width="0.5"/>
<text x="113.1" y="69.6" font-size="3.0" font-weight="normal" text-anchor="start" fill="#555">10</text>
<text x="116.39999999999999" y="68.19999999999999" font-size="2.2" font-weight="normal" text-anchor="start" fill="#555">2</text>
<line x1="129.7" y1="64.6" x2="129.7" y2="65.8" stroke="#333" stroke-width="0.5"/>
<text x="127.69999999999999" y="69.6" font-size="3.0" font-weight="normal" text-anchor="start" fill="#555">10</text>
<text x="131.0" y="68.19999999999999" font-size="2.2" font-weight="normal" text-anchor="start" fill="#555">2</text>
<line x1="143.6" y1="64.6" x2="143.6" y2="65.8" stroke="#333" stroke-width="0.5"/>
<text x="141.6" y="69.6" font-size="3.0" font-weight="normal" text-anchor="start" fill="#555">10</text>
<text x="144.9" y="68.19999999999999" font-size="2.2" font-weight="normal" text-anchor="start" fill="#555">2</text>
<line x1="91.1" y1="16.9" x2="92.3" y2="16.9" stroke="#333" stroke-width="0.5"/>
<text x="86.7" y="18.5" font-size="3.0" font-weight="normal" text-anchor="start" fill="#555">10</text>
<text x="89.8" y="17.0" font-size="2.2" font-weight="normal" text-anchor="start" fill="#555">2</text>
<line x1="91.1" y1="30.8" x2="92.3" y2="30.8" stroke="#333" stroke-width="0.5"/>
<text x="86.7" y="32.4" font-size="3.0" font-weight="normal" text-anchor="start" fill="#555">10</text>
<text x="89.8" y="30.900000000000002" font-size="2.2" font-weight="normal" text-anchor="start" fill="#555">2</text>
<line x1="91.1" y1="43.5" x2="92.3" y2="43.5" stroke="#333" stroke-width="0.5"/>
<text x="86.7" y="45.1" font-size="3.0" font-weight="normal" text-anchor="start" fill="#555">10</text>
<text x="89.8" y="43.6" font-size="2.2" font-weight="normal" text-anchor="start" fill="#555">2</text>
<line x1="91.1" y1="57.5" x2="92.3" y2="57.5" stroke="#333" stroke-width="0.5"/>
<text x="86.7" y="59.1" font-size="3.0" font-weight="normal" text-anchor="start" fill="#555">10</text>
<text x="89.8" y="57.6" font-size="2.2" font-weight="normal" text-anchor="start" fill="#555">2</text>
<text x="121.3" y="74.19999999999999" font-size="3.5" font-weight="normal" text-anchor="middle" fill="#555">CD127 FITC-A</text>
<text x="85.6" y="37.949999999999996" font-size="3.5" font-weight="normal" text-anchor="middle" fill="#555" transform="rotate(-90 85.6 37.949999999999996)">CD25 APC-A</text>
<rect x="92.3" y="91.1" width="58.2" height="53.30000000000001" fill="#fff" stroke="#858585" stroke-width="0.55"/>
<path d="M92.3,91.1V144.4H150.5" fill="none" stroke="#4a4a4a" stroke-width="0.6"/>
<clipPath id="cp9291"><rect x="92.3" y="91.1" width="58.2" height="53.000000000000014"/></clipPath>
<ellipse cx="113.4" cy="132.5" rx="7.4" ry="11.2" fill="#000" clip-path="url(#cp9291)"/>
<path d="M95.5 92.75h.5M108.9 93h.5M104.4 93.25h.5m.8 0h.5m1.8 0h.5M105.5 93.5h.5M105.3 94h.5M108.7 94.25h.5m0 0h.5M111.8 94.5h.5M94 94.75h.5m12.7 0h.5m3.7 0h.5M100.2 95h.5m2.8 0h.5M100.3 95.25h.5m9.3 0h.5M105.6 95.5h.5m2 0h.5M99.1 95.75h.5m7.6 0h.5m.1 0h.5m4.1 0h.5M104 96h.5m2.5 0h.5M106.7 96.25h.5m1.3 0h.5M98.3 96.5h.5m7.9 0h.5M104 96.75h.5M104.1 97h.5m2.9 0h.5M106.2 97.25h.5m6.9 0h.5M98.5 97.5h.5m4.7 0h.5M105.3 97.75h.5m0 0h.5m1.6 0h.5M105.4 98h.5m-.3 0h.5m6.4 0h.5M101.1 98.25h.5m1.2 0h.5m3.5 0h.5M105.7 98.5h.5m-.3 0h.5m5.4 0h.5M95.6 98.75h.5m10.2 0h.5M93.4 99h.5m4.7 0h.5m7.2 0h.5M99.6 99.25h.5m1.5 0h.5m3.4 0h.5m1.6 0h.5M103 99.5h.5m3.8 0h.5M98.6 99.75h.5m6 0h.5m-.3 0h.5m5.8 0h.5m.1 0h.5M98.9 100h.5m.8 0h.5m.6 0h.5m3.3 0h.5m-.4 0h.5m-.2 0h.5m.3 0h.5m2.6 0h.5m2 0h.5M103 100.25h.5m-.1 0h.5m.8 0h.5M101.7 100.5h.5m2.1 0h.5m1.4 0h.5M98.4 100.75h.5m.9 0h.5m3.8 0h.5m3.2 0h.5m-.2 0h.5M102.6 101h.5m.7 0h.5m.9 0h.5m-.1 0h.5m-.1 0h.5m0 0h.5m.5 0h.5m2 0h.5m1.5 0h.5M105.1 101.25h.5m.8 0h.5m2.1 0h.5m-.3 0h.5M100.2 101.5h.5m1.9 0h.5m2.1 0h.5m.3 0h.5m.7 0h.5m1.3 0h.5m2.4 0h.5M101.5 101.75h.5m1.7 0h.5m3.2 0h.5m1.4 0h.5m4.6 0h.5M97.3 102h.5m-.1 0h.5m1.4 0h.5m4 0h.5m-.3 0h.5m1.8 0h.5m-.2 0h.5m4.2 0h.5M97.6 102.25h.5m4.8 0h.5m.1 0h.5m.3 0h.5m1.7 0h.5m-.2 0h.5m.2 0h.5m.1 0h.5m2.3 0h.5M105.6 102.5h.5m-.3 0h.5m1.7 0h.5m.4 0h.5m1.1 0h.5m-.3 0h.5m.7 0h.5M99.2 102.75h.5m3.6 0h.5m.4 0h.5m.1 0h.5m.6 0h.5m-.2 0h.5m1.7 0h.5m.2 0h.5m-.3 0h.5m-.4 0h.5M99.1 103h.5m2.4 0h.5m1.3 0h.5m.4 0h.5m.4 0h.5m.8 0h.5m-.4 0h.5m1.7 0h.5m1.1 0h.5M93.9 103.25h.5m5.4 0h.5m2.5 0h.5m0 0h.5m.1 0h.5m.5 0h.5m-.4 0h.5m.2 0h.5m-.3 0h.5m-.2 0h.5m0 0h.5m.3 0h.5m1.3 0h.5m.5 0h.5M102.1 103.5h.5m3.5 0h.5m0 0h.5m.5 0h.5m1.3 0h.5m-.2 0h.5m.6 0h.5M95.8 103.75h.5m1.4 0h.5m2.2 0h.5m2.3 0h.5m1 0h.5m1.1 0h.5m.4 0h.5m0 0h.5m.1 0h.5m1.3 0h.5m-.4 0h.5m1.4 0h.5M98.6 104h.5m2.5 0h.5m2.5 0h.5m1 0h.5m.2 0h.5m0 0h.5m-.1 0h.5m-.4 0h.5m-.2 0h.5m-.2 0h.5m-.4 0h.5m-.1 0h.5m-.4 0h.5m-.2 0h.5M98.1 104.25h.5m3.5 0h.5m1.2 0h.5m.5 0h.5m1.7 0h.5m.5 0h.5m-.1 0h.5m2.3 0h.5M100.8 104.5h.5m-.4 0h.5m1.1 0h.5m.3 0h.5m-.2 0h.5m-.2 0h.5m.6 0h.5m-.2 0h.5m-.4 0h.5m0 0h.5m-.4 0h.5m.6 0h.5m.4 0h.5m-.3 0h.5m.1 0h.5m.2 0h.5m-.2 0h.5m-.4 0h.5m.1 0h.5M95 104.75h.5m1.7 0h.5m3.7 0h.5m-.3 0h.5m.7 0h.5m.2 0h.5m-.3 0h.5m-.3 0h.5m1.1 0h.5m0 0h.5m.4 0h.5m.4 0h.5m-.2 0h.5m0 0h.5m1.8 0h.5m2.3 0h.5M96.7 105h.5m3.8 0h.5m4.1 0h.5m-.1 0h.5m0 0h.5m.2 0h.5m-.2 0h.5m-.1 0h.5m.7 0h.5m1.6 0h.5m-.3 0h.5m3 0h.5M97.4 105.25h.5m.9 0h.5m1.6 0h.5m1.6 0h.5m-.4 0h.5m-.4 0h.5m.3 0h.5m-.2 0h.5m4.8 0h.5m.1 0h.5m-.3 0h.5m-.1 0h.5M97.1 105.5h.5m2.4 0h.5m-.2 0h.5m1.1 0h.5m-.2 0h.5m0 0h.5m1.5 0h.5m-.2 0h.5m-.4 0h.5m0 0h.5m.1 0h.5m-.1 0h.5m.1 0h.5m.6 0h.5m1.2 0h.5m2.9 0h.5M100.2 105.75h.5m-.3 0h.5m1.6 0h.5m0 0h.5m0 0h.5m2.1 0h.5m.7 0h.5m1.9 0h.5m0 0h.5m3.6 0h.5M101.2 106h.5m.2 0h.5m0 0h.5m.9 0h.5m-.1 0h.5m-.2 0h.5m-.2 0h.5m-.2 0h.5m0 0h.5m.7 0h.5m.4 0h.5m1.5 0h.5M98.9 106.25h.5m.5 0h.5m.6 0h.5m1 0h.5m.4 0h.5m-.2 0h.5m.8 0h.5m-.4 0h.5m-.3 0h.5m.1 0h.5m0 0h.5m1 0h.5m.3 0h.5m.9 0h.5m-.4 0h.5m-.1 0h.5m.2 0h.5m2.6 0h.5M100.4 106.5h.5m.6 0h.5m-.3 0h.5m.1 0h.5m-.3 0h.5m-.3 0h.5m2 0h.5m0 0h.5m-.4 0h.5m1 0h.5m.6 0h.5m1 0h.5m.3 0h.5M96.7 106.75h.5m-.2 0h.5m.4 0h.5m3.3 0h.5m.1 0h.5m-.1 0h.5m.7 0h.5m2.4 0h.5m3.2 0h.5m2.9 0h.5M94.3 107h.5m9.3 0h.5m-.4 0h.5m0 0h.5m.2 0h.5m1.4 0h.5m-.3 0h.5m-.3 0h.5m1.5 0h.5m.2 0h.5m1.2 0h.5M98.4 107.25h.5m2.9 0h.5m.2 0h.5m-.1 0h.5m0 0h.5m.2 0h.5m-.3 0h.5m.1 0h.5m1.1 0h.5m0 0h.5m-.1 0h.5m.4 0h.5m-.4 0h.5m.2 0h.5M101 107.5h.5m1.6 0h.5m-.2 0h.5m0 0h.5m.4 0h.5m-.4 0h.5m-.3 0h.5m-.3 0h.5m.8 0h.5m1 0h.5m-.1 0h.5M99.9 107.75h.5m3 0h.5m.2 0h.5m0 0h.5m-.3 0h.5m-.4 0h.5m.8 0h.5m3.8 0h.5m2.1 0h.5m1.5 0h.5M98.2 108h.5m.7 0h.5m-.1 0h.5m1.7 0h.5m.4 0h.5m-.3 0h.5m-.4 0h.5m-.4 0h.5m.2 0h.5m-.2 0h.5m0 0h.5m.6 0h.5m-.2 0h.5m-.4 0h.5m-.2 0h.5m.5 0h.5m-.3 0h.5m-.1 0h.5m.1 0h.5m5.6 0h.5M96.8 108.25h.5m3.7 0h.5m-.4 0h.5m.1 0h.5m.2 0h.5m0 0h.5m1.6 0h.5m-.2 0h.5m.3 0h.5m.4 0h.5m1.5 0h.5m0 0h.5m-.1 0h.5m.3 0h.5m4.3 0h.5M94 108.5h.5m3.5 0h.5m2.6 0h.5m.3 0h.5m.6 0h.5m-.2 0h.5m-.3 0h.5m0 0h.5m-.2 0h.5m.3 0h.5m1 0h.5m-.4 0h.5m0 0h.5m0 0h.5m.7 0h.5m-.4 0h.5m.3 0h.5m2.3 0h.5M99.5 108.75h.5m-.4 0h.5m3.2 0h.5m-.4 0h.5m.1 0h.5m1.3 0h.5m-.4 0h.5m.5 0h.5m.2 0h.5m5.6 0h.5M96.8 109h.5m2.9 0h.5m.2 0h.5m-.2 0h.5m2.3 0h.5m-.4 0h.5m-.4 0h.5m-.4 0h.5m-.3 0h.5m1.5 0h.5m.5 0h.5m1.2 0h.5m0 0h.5m-.4 0h.5M99.9 109.25h.5m1.2 0h.5m.4 0h.5m-.3 0h.5m.2 0h.5m.2 0h.5m0 0h.5m.5 0h.5m.2 0h.5m0 0h.5m.4 0h.5M92.4 109.5h.5m4.6 0h.5m5.8 0h.5m-.2 0h.5m3.3 0h.5m2.1 0h.5m.4 0h.5m1.8 0h.5M101.6 109.75h.5m4.2 0h.5m.3 0h.5m-.3 0h.5m-.2 0h.5m-.2 0h.5m.1 0h.5m.7 0h.5m-.3 0h.5m.6 0h.5M98.8 110h.5m-.1 0h.5m-.2 0h.5m-.1 0h.5m-.2 0h.5m-.4 0h.5m0 0h.5m.3 0h.5m-.1 0h.5m-.1 0h.5m-.2 0h.5m-.2 0h.5m1.7 0h.5m0 0h.5m1 0h.5m-.1 0h.5m.2 0h.5m-.4 0h.5m4.8 0h.5M98.4 110.25h.5m2.8 0h.5m0 0h.5m-.2 0h.5m.6 0h.5m-.1 0h.5m.5 0h.5m.2 0h.5m-.3 0h.5m-.1 0h.5m-.3 0h.5m.7 0h.5m0 0h.5m.3 0h.5m.2 0h.5m0 0h.5m-.3 0h.5m.6 0h.5m.1 0h.5M99.5 110.5h.5m3.8 0h.5m.3 0h.5m.2 0h.5m.6 0h.5m-.1 0h.5m.1 0h.5m-.3 0h.5m0 0h.5m1.2 0h.5m-.2 0h.5M101.8 110.75h.5m.5 0h.5m-.3 0h.5m.5 0h.5m-.4 0h.5m-.3 0h.5m-.4 0h.5m-.4 0h.5m.1 0h.5m.9 0h.5m.6 0h.5m-.4 0h.5m1.6 0h.5m4.2 0h.5M101.7 111h.5m3.8 0h.5m-.2 0h.5m-.2 0h.5m-.2 0h.5m3.7 0h.5M98.3 111.25h.5m1.6 0h.5m-.2 0h.5m-.3 0h.5m-.4 0h.5m.3 0h.5m.1 0h.5m.3 0h.5m-.4 0h.5m-.1 0h.5m.4 0h.5m-.2 0h.5m-.1 0h.5m-.4 0h.5m1.3 0h.5m-.3 0h.5m-.4 0h.5m.5 0h.5m1 0h.5m-.4 0h.5m4.1 0h.5M98.9 111.5h.5m2.3 0h.5m-.3 0h.5m1.8 0h.5m.2 0h.5m-.2 0h.5m-.3 0h.5m-.1 0h.5m2.3 0h.5m.3 0h.5m-.1 0h.5m-.3 0h.5m.9 0h.5M100.4 111.75h.5m.1 0h.5m1.1 0h.5m.2 0h.5m.3 0h.5m-.1 0h.5m.2 0h.5m.5 0h.5m-.1 0h.5m-.2 0h.5m2.1 0h.5m.6 0h.5m.7 0h.5m-.1 0h.5M99.3 112h.5m-.4 0h.5m.6 0h.5m.5 0h.5m-.2 0h.5m-.1 0h.5m1.6 0h.5m.3 0h.5m-.1 0h.5m0 0h.5m.4 0h.5m-.4 0h.5m.1 0h.5m-.3 0h.5m.4 0h.5m1.2 0h.5m-.2 0h.5M97.7 112.25h.5m2.2 0h.5m.6 0h.5m-.2 0h.5m-.2 0h.5m.7 0h.5m-.3 0h.5m-.2 0h.5m.6 0h.5m3.4 0h.5m-.3 0h.5m.3 0h.5m5.2 0h.5M99.2 112.5h.5m2.2 0h.5m0 0h.5m.1 0h.5m.7 0h.5m.2 0h.5m-.1 0h.5m.1 0h.5m-.4 0h.5m-.2 0h.5m.3 0h.5m.6 0h.5m.1 0h.5m.7 0h.5m1.3 0h.5M100 112.75h.5m-.3 0h.5m.3 0h.5m1.3 0h.5m-.3 0h.5m.9 0h.5m-.4 0h.5m.4 0h.5m-.2 0h.5m.1 0h.5m.5 0h.5m.1 0h.5m2.2 0h.5m2.3 0h.5M100.2 113h.5m2.1 0h.5m-.2 0h.5m-.4 0h.5m.4 0h.5m-.3 0h.5m.7 0h.5m-.2 0h.5m-.2 0h.5m-.1 0h.5m.5 0h.5m0 0h.5m.3 0h.5m.5 0h.5m2.6 0h.5M99 113.25h.5m3.8 0h.5m2.3 0h.5m-.4 0h.5m-.2 0h.5m1.5 0h.5m-.2 0h.5m.5 0h.5M103 113.5h.5m.2 0h.5m-.4 0h.5m1.3 0h.5m1.3 0h.5m0 0h.5m0 0h.5m-.3 0h.5m.5 0h.5m.3 0h.5m-.1 0h.5M96.4 113.75h.5m8.4 0h.5m-.1 0h.5m-.3 0h.5m.3 0h.5m-.3 0h.5m1.1 0h.5m-.4 0h.5m-.3 0h.5m-.3 0h.5m-.4 0h.5m.1 0h.5m.2 0h.5M101.5 114h.5m.5 0h.5m.7 0h.5m.9 0h.5m-.3 0h.5m3.3 0h.5m.6 0h.5m-.2 0h.5m.8 0h.5M96.6 114.25h.5m3.6 0h.5m1.7 0h.5m.8 0h.5m.1 0h.5m1.4 0h.5m.8 0h.5m-.4 0h.5m.6 0h.5m2.3 0h.5M98.3 114.5h.5m2.9 0h.5m2.5 0h.5m-.4 0h.5m1.5 0h.5m.7 0h.5m-.4 0h.5m2.8 0h.5m2.7 0h.5M97.8 114.75h.5m2.8 0h.5m.1 0h.5m-.4 0h.5m.4 0h.5m3.9 0h.5m1.6 0h.5m1 0h.5m0 0h.5m.1 0h.5m-.1 0h.5M100.8 115h.5m2 0h.5m.3 0h.5m.7 0h.5m-.1 0h.5m-.3 0h.5m-.2 0h.5m.6 0h.5m1.2 0h.5m-.2 0h.5m.6 0h.5m-.3 0h.5m1.9 0h.5M101.6 115.25h.5m2 0h.5m.2 0h.5m1.1 0h.5m-.1 0h.5m-.1 0h.5m-.2 0h.5m.8 0h.5m2.8 0h.5m-.4 0h.5M101 115.5h.5m.2 0h.5m1.2 0h.5m3.2 0h.5m-.4 0h.5m.5 0h.5m.8 0h.5m-.2 0h.5m.2 0h.5m.4 0h.5M99.5 115.75h.5m2.8 0h.5m.1 0h.5m-.4 0h.5m1.1 0h.5m4.7 0h.5M99.4 116h.5m3.6 0h.5m.3 0h.5m-.2 0h.5m-.2 0h.5m.5 0h.5m1 0h.5m-.3 0h.5m-.1 0h.5m.1 0h.5m-.4 0h.5m.8 0h.5m-.3 0h.5m.2 0h.5m-.2 0h.5m.6 0h.5M106.5 116.25h.5m-.2 0h.5m.3 0h.5m.4 0h.5m0 0h.5m3.8 0h.5M99 116.5h.5m1.6 0h.5m1.8 0h.5m1 0h.5m-.1 0h.5m.4 0h.5m-.1 0h.5m-.1 0h.5m1.4 0h.5m.6 0h.5m-.2 0h.5m.7 0h.5m.2 0h.5m-.4 0h.5M102.4 116.75h.5m1 0h.5m-.3 0h.5m1.6 0h.5m.1 0h.5m-.2 0h.5m1.6 0h.5m1 0h.5m2 0h.5M99.5 117h.5m2.2 0h.5m1.4 0h.5m-.4 0h.5m.2 0h.5m1.1 0h.5m.1 0h.5m1 0h.5m1.5 0h.5m3 0h.5M102.8 117.25h.5m1.2 0h.5m4.9 0h.5m.5 0h.5m.6 0h.5m-.1 0h.5m-.1 0h.5M98.2 117.5h.5m5.3 0h.5m.3 0h.5m.4 0h.5m.1 0h.5m.2 0h.5m-.3 0h.5m-.1 0h.5m-.2 0h.5m-.3 0h.5m-.1 0h.5m-.3 0h.5m.2 0h.5m.6 0h.5m-.3 0h.5m-.4 0h.5m.5 0h.5m1 0h.5M96.3 117.75h.5m2.6 0h.5m.3 0h.5m1.8 0h.5m4.8 0h.5m-.2 0h.5m0 0h.5m.3 0h.5m-.2 0h.5m.1 0h.5m-.1 0h.5m-.1 0h.5m.2 0h.5m-.3 0h.5m-.3 0h.5M100.9 118h.5m2.5 0h.5m.1 0h.5m.4 0h.5m-.4 0h.5m1.2 0h.5m.1 0h.5m-.2 0h.5m-.4 0h.5m-.4 0h.5m-.4 0h.5m-.1 0h.5m-.1 0h.5m.3 0h.5m-.4 0h.5m-.1 0h.5m.5 0h.5m-.2 0h.5m.3 0h.5m-.4 0h.5m1.5 0h.5M100.5 118.25h.5m-.1 0h.5m1.3 0h.5m.4 0h.5m.6 0h.5m1 0h.5m.9 0h.5m-.4 0h.5m-.2 0h.5m-.3 0h.5m.9 0h.5m-.3 0h.5m-.2 0h.5m-.4 0h.5m-.2 0h.5m.3 0h.5m-.1 0h.5m0 0h.5m-.3 0h.5m2.7 0h.5M101.4 118.5h.5m.8 0h.5m.4 0h.5m1.2 0h.5m.8 0h.5m-.3 0h.5m-.1 0h.5m2 0h.5m.3 0h.5m.7 0h.5m-.4 0h.5m0 0h.5m.1 0h.5m.1 0h.5m.4 0h.5m.2 0h.5M99.5 118.75h.5m1.1 0h.5m0 0h.5m.9 0h.5m-.2 0h.5m-.4 0h.5m-.3 0h.5m2.7 0h.5m.6 0h.5m-.3 0h.5m.6 0h.5m2 0h.5m-.2 0h.5m.3 0h.5m.5 0h.5m-.3 0h.5m-.2 0h.5m-.2 0h.5M98.7 119h.5m.5 0h.5m3.8 0h.5m1.1 0h.5m-.2 0h.5m1.1 0h.5m.2 0h.5m.7 0h.5m-.1 0h.5m.7 0h.5m.4 0h.5m-.4 0h.5m-.4 0h.5m-.1 0h.5m.3 0h.5M101.6 119.25h.5m1.4 0h.5m.5 0h.5m0 0h.5m.5 0h.5m0 0h.5m2.1 0h.5m-.1 0h.5m-.4 0h.5m-.2 0h.5m.9 0h.5m-.2 0h.5m-.3 0h.5m-.4 0h.5m-.2 0h.5m.1 0h.5m-.2 0h.5m.7 0h.5m.3 0h.5m-.1 0h.5M104.7 119.5h.5m1 0h.5m.8 0h.5m-.4 0h.5m.1 0h.5m.4 0h.5m0 0h.5m0 0h.5m1 0h.5m.4 0h.5m-.4 0h.5m-.4 0h.5m-.4 0h.5m-.3 0h.5m-.2 0h.5m-.2 0h.5m.2 0h.5m.7 0h.5m-.1 0h.5m.2 0h.5m-.4 0h.5m-.4 0h.5m-.4 0h.5m-.2 0h.5M94.7 119.75h.5m3.6 0h.5m4 0h.5m.2 0h.5m0 0h.5m-.1 0h.5m2.5 0h.5m.1 0h.5m1.2 0h.5m.4 0h.5m.1 0h.5m-.3 0h.5m-.3 0h.5m-.3 0h.5m-.4 0h.5m0 0h.5m-.1 0h.5m-.2 0h.5m-.4 0h.5m0 0h.5m.1 0h.5m-.2 0h.5m-.4 0h.5m-.3 0h.5m-.2 0h.5m.4 0h.5m.8 0h.5M98.7 120h.5m0 0h.5m2.3 0h.5m.8 0h.5m1.2 0h.5m-.4 0h.5m-.1 0h.5m1.6 0h.5m.9 0h.5m-.4 0h.5m.2 0h.5m0 0h.5m-.4 0h.5m.1 0h.5m-.4 0h.5m-.3 0h.5m.1 0h.5m.4 0h.5m-.2 0h.5m-.2 0h.5m0 0h.5m-.2 0h.5m-.3 0h.5m0 0h.5m.2 0h.5m.1 0h.5m.1 0h.5m-.4 0h.5m-.1 0h.5M105 120.25h.5m1.4 0h.5m-.3 0h.5m.6 0h.5m-.4 0h.5m-.3 0h.5m-.1 0h.5m-.3 0h.5m0 0h.5m-.4 0h.5m-.4 0h.5m-.2 0h.5m.1 0h.5m-.3 0h.5m0 0h.5m-.4 0h.5m-.3 0h.5m-.2 0h.5m-.3 0h.5m-.3 0h.5m.5 0h.5m-.4 0h.5m-.2 0h.5m-.4 0h.5m-.1 0h.5m-.4 0h.5m-.3 0h.5m-.3 0h.5m0 0h.5m-.4 0h.5m-.3 0h.5m-.4 0h.5M97.7 120.5h.5m0 0h.5m5 0h.5m-.3 0h.5m.3 0h.5m.3 0h.5m-.3 0h.5m.7 0h.5m1.8 0h.5m-.4 0h.5m-.4 0h.5m-.1 0h.5m-.4 0h.5m-.3 0h.5m-.4 0h.5m-.3 0h.5m-.1 0h.5m-.3 0h.5m-.4 0h.5m.2 0h.5m.5 0h.5m-.3 0h.5m-.4 0h.5m-.3 0h.5m-.4 0h.5m-.2 0h.5m-.4 0h.5m-.3 0h.5m-.1 0h.5m-.4 0h.5m-.4 0h.5m-.3 0h.5m-.2 0h.5m-.3 0h.5m.2 0h.5m.4 0h.5m-.4 0h.5m-.1 0h.5m-.4 0h.5M103 120.75h.5m-.4 0h.5m.1 0h.5m0 0h.5m-.2 0h.5m.4 0h.5m-.3 0h.5m.2 0h.5m-.3 0h.5m.1 0h.5m0 0h.5m.9 0h.5m-.4 0h.5m-.2 0h.5m-.4 0h.5m-.2 0h.5m-.1 0h.5m-.3 0h.5m-.4 0h.5m-.2 0h.5m.2 0h.5m-.4 0h.5m-.2 0h.5m.1 0h.5m-.1 0h.5m-.4 0h.5m-.2 0h.5m-.4 0h.5m-.3 0h.5m-.4 0h.5m-.4 0h.5m-.4 0h.5m-.4 0h.5m-.2 0h.5m0 0h.5m-.4 0h.5m-.4 0h.5m-.2 0h.5m0 0h.5m-.3 0h.5m-.4 0h.5m-.4 0h.5m-.1 0h.5m-.4 0h.5m.5 0h.5M105.3 121h.5m-.1 0h.5m.6 0h.5m-.4 0h.5m-.3 0h.5m-.2 0h.5m-.3 0h.5m.2 0h.5m0 0h.5m-.4 0h.5m.4 0h.5m-.3 0h.5m-.1 0h.5m-.4 0h.5m-.3 0h.5m-.3 0h.5m-.4 0h.5m-.3 0h.5m-.3 0h.5m-.4 0h.5m-.3 0h.5m-.3 0h.5m-.1 0h.5m-.4 0h.5m-.2 0h.5m.3 0h.5m-.4 0h.5m-.4 0h.5m-.4 0h.5m-.4 0h.5m-.4 0h.5m-.1 0h.5m-.3 0h.5m-.4 0h.5m-.4 0h.5m-.3 0h.5m-.3 0h.5m0 0h.5m-.4 0h.5m-.1 0h.5m-.3 0h.5m.2 0h.5m-.4 0h.5m-.4 0h.5m-.3 0h.5m1 0h.5M97.3 121.25h.5m1.5 0h.5m4.3 0h.5m1.4 0h.5m-.4 0h.5m-.3 0h.5m.6 0h.5m.2 0h.5m-.1 0h.5m-.3 0h.5m-.1 0h.5m-.4 0h.5m.8 0h.5m-.2 0h.5m-.3 0h.5m-.3 0h.5m0 0h.5m-.1 0h.5m.1 0h.5m-.1 0h.5m-.1 0h.5m-.3 0h.5m-.4 0h.5m-.4 0h.5m-.4 0h.5m-.3 0h.5m-.4 0h.5m-.4 0h.5m-.4 0h.5m.2 0h.5m-.4 0h.5m-.3 0h.5m-.3 0h.5m-.4 0h.5m-.1 0h.5m-.1 0h.5m-.4 0h.5m-.3 0h.5m1 0h.5M98.9 121.5h.5m3.8 0h.5m2.1 0h.5m.4 0h.5m.8 0h.5m-.4 0h.5m-.4 0h.5m0 0h.5m-.4 0h.5m0 0h.5m-.2 0h.5m-.4 0h.5m-.4 0h.5m-.4 0h.5m.1 0h.5m-.3 0h.5m-.3 0h.5m-.3 0h.5m-.3 0h.5m-.4 0h.5m-.2 0h.5m-.2 0h.5m-.3 0h.5m-.3 0h.5m0 0h.5m-.4 0h.5m-.4 0h.5m-.4 0h.5m-.4 0h.5m-.4 0h.5m-.1 0h.5m-.3 0h.5m-.4 0h.5m-.3 0h.5m-.4 0h.5m-.4 0h.5m-.4 0h.5m-.4 0h.5m-.4 0h.5m-.4 0h.5m-.4 0h.5m-.3 0h.5m-.3 0h.5m-.4 0h.5m-.4 0h.5m-.3 0h.5m-.4 0h.5m-.4 0h.5m-.3 0h.5m-.3 0h.5m0 0h.5m.8 0h.5m-.4 0h.5M95.4 121.75h.5m3.5 0h.5m3 0h.5m.3 0h.5m.5 0h.5m1.3 0h.5m.2 0h.5m.5 0h.5m.3 0h.5m-.1 0h.5m-.4 0h.5m-.2 0h.5m.3 0h.5m-.2 0h.5m.2 0h.5m-.3 0h.5m-.4 0h.5m-.4 0h.5m-.2 0h.5m-.4 0h.5m-.2 0h.5m-.1 0h.5m-.3 0h.5m-.4 0h.5m-.1 0h.5m-.1 0h.5m-.3 0h.5m-.4 0h.5m-.4 0h.5m-.4 0h.5m-.4 0h.5m-.4 0h.5m-.4 0h.5m-.4 0h.5m-.4 0h.5m-.3 0h.5m-.3 0h.5m-.4 0h.5m-.4 0h.5m-.3 0h.5m-.4 0h.5m-.4 0h.5m-.4 0h.5m-.2 0h.5m-.2 0h.5m-.3 0h.5m.1 0h.5m-.4 0h.5m-.1 0h.5m-.2 0h.5m0 0h.5M100.3 122h.5m.1 0h.5m1.4 0h.5m.3 0h.5m-.2 0h.5m.6 0h.5m.1 0h.5m-.1 0h.5m-.1 0h.5m-.4 0h.5m-.3 0h.5m.1 0h.5m-.4 0h.5m-.1 0h.5m.1 0h.5m-.2 0h.5m-.1 0h.5m-.3 0h.5m-.4 0h.5m-.2 0h.5m-.2 0h.5m-.4 0h.5m-.3 0h.5m-.2 0h.5m-.4 0h.5m.1 0h.5m-.4 0h.5m.1 0h.5m2.4 0h.5m-.3 0h.5m-.4 0h.5m-.4 0h.5m-.4 0h.5m-.3 0h.5m-.3 0h.5m.2 0h.5m-.3 0h.5m-.4 0h.5m-.2 0h.5m.1 0h.5m-.3 0h.5M95.1 122.25h.5m3.1 0h.5m4.3 0h.5m1.4 0h.5m-.1 0h.5m.5 0h.5m-.4 0h.5m.3 0h.5m-.4 0h.5m-.4 0h.5m-.1 0h.5m0 0h.5m-.2 0h.5m-.4 0h.5m-.1 0h.5m-.4 0h.5m-.2 0h.5m-.4 0h.5m.1 0h.5m-.3 0h.5m-.4 0h.5m-.4 0h.5m-.2 0h.5m3.4 0h.5m-.4 0h.5m-.4 0h.5m-.1 0h.5m-.3 0h.5m-.4 0h.5m-.4 0h.5m-.1 0h.5m-.4 0h.5m-.1 0h.5m-.4 0h.5m-.3 0h.5m-.2 0h.5m-.1 0h.5m.1 0h.5m-.2 0h.5M94.4 122.5h.5m4.7 0h.5m.2 0h.5m3.1 0h.5m1 0h.5m-.4 0h.5m.1 0h.5m0 0h.5m-.3 0h.5m0 0h.5m1 0h.5m-.4 0h.5m-.4 0h.5m-.2 0h.5m-.1 0h.5m-.2 0h.5m-.4 0h.5m-.4 0h.5m-.1 0h.5m5.1 0h.5m-.2 0h.5m-.4 0h.5m-.4 0h.5m-.3 0h.5m-.4 0h.5m-.4 0h.5m-.4 0h.5m-.4 0h.5m-.1 0h.5m-.4 0h.5m-.3 0h.5m-.2 0h.5m0 0h.5m-.3 0h.5M97.7 122.75h.5m-.3 0h.5m4.9 0h.5m1.8 0h.5m-.2 0h.5m-.4 0h.5m.1 0h.5m-.3 0h.5m.1 0h.5m.1 0h.5m.1 0h.5m-.4 0h.5m-.4 0h.5m-.4 0h.5m-.4 0h.5m.1 0h.5m-.4 0h.5m-.3 0h.5m5.9 0h.5m-.3 0h.5m-.3 0h.5m-.4 0h.5m-.3 0h.5m-.4 0h.5m-.2 0h.5m-.2 0h.5m-.2 0h.5m-.3 0h.5m-.4 0h.5m-.3 0h.5m1.2 0h.5M99.3 123h.5m3.8 0h.5m.7 0h.5m-.2 0h.5m-.4 0h.5m-.3 0h.5m-.4 0h.5m-.4 0h.5m.4 0h.5m.5 0h.5m.1 0h.5m-.4 0h.5m.3 0h.5m-.4 0h.5m-.4 0h.5m0 0h.5m-.4 0h.5m-.4 0h.5m6.2 0h.5m-.2 0h.5m-.2 0h.5m-.2 0h.5m-.4 0h.5m-.4 0h.5m-.4 0h.5m-.3 0h.5m-.2 0h.5m-.4 0h.5m-.2 0h.5m-.4 0h.5m-.1 0h.5m-.4 0h.5m0 0h.5m.3 0h.5M100.7 123.25h.5m1.2 0h.5m-.2 0h.5m1.4 0h.5m-.4 0h.5m0 0h.5m-.4 0h.5m-.4 0h.5m-.2 0h.5m-.4 0h.5m-.4 0h.5m.4 0h.5m-.4 0h.5m0 0h.5m.3 0h.5m-.4 0h.5m0 0h.5m-.3 0h.5m-.2 0h.5m-.2 0h.5m-.3 0h.5m-.3 0h.5m6.5 0h.5m-.3 0h.5m-.4 0h.5m-.4 0h.5m-.3 0h.5m-.2 0h.5m-.4 0h.5m-.2 0h.5m-.4 0h.5m.1 0h.5m2.3 0h.5M100 123.5h.5m0 0h.5m2 0h.5m-.1 0h.5m0 0h.5m-.2 0h.5m-.1 0h.5m.3 0h.5m.4 0h.5m-.1 0h.5m0 0h.5m-.2 0h.5m-.2 0h.5m-.3 0h.5m-.4 0h.5m-.3 0h.5m-.3 0h.5m-.4 0h.5m-.4 0h.5m-.3 0h.5m-.4 0h.5m-.4 0h.5m0 0h.5m-.3 0h.5m7.1 0h.5m0 0h.5m-.1 0h.5m-.3 0h.5m-.3 0h.5M103 123.75h.5m-.1 0h.5m-.1 0h.5m-.1 0h.5m-.2 0h.5m-.4 0h.5m-.4 0h.5m-.2 0h.5m-.4 0h.5m-.3 0h.5m-.2 0h.5m-.4 0h.5m-.1 0h.5m.1 0h.5m-.3 0h.5m-.4 0h.5m-.2 0h.5m-.3 0h.5m-.2 0h.5m-.4 0h.5m-.1 0h.5m-.4 0h.5m-.1 0h.5m-.3 0h.5m7.9 0h.5m-.3 0h.5m-.4 0h.5m-.4 0h.5m-.4 0h.5m-.4 0h.5m-.4 0h.5m-.2 0h.5m-.4 0h.5m-.1 0h.5m-.2 0h.5m-.4 0h.5m-.3 0h.5M95.9 124h.5m.8 0h.5m4.2 0h.5m.1 0h.5m0 0h.5m-.2 0h.5m-.1 0h.5m.1 0h.5m-.4 0h.5m-.1 0h.5m1.1 0h.5m-.1 0h.5m-.3 0h.5m-.2 0h.5m-.4 0h.5m.1 0h.5m-.2 0h.5m-.1 0h.5m-.2 0h.5m8.6 0h.5m-.4 0h.5m-.3 0h.5m-.4 0h.5m-.4 0h.5m-.3 0h.5m-.3 0h.5m-.4 0h.5m-.2 0h.5m0 0h.5M104.1 124.25h.5m-.3 0h.5m-.2 0h.5m-.4 0h.5m.4 0h.5m-.1 0h.5m-.3 0h.5m.2 0h.5m.5 0h.5m-.3 0h.5m-.4 0h.5m-.4 0h.5m-.3 0h.5m-.3 0h.5m-.4 0h.5m-.4 0h.5m8.6 0h.5m-.1 0h.5m-.2 0h.5m-.4 0h.5m-.4 0h.5m-.4 0h.5m-.1 0h.5m-.4 0h.5m-.1 0h.5m-.2 0h.5M100.3 124.5h.5m.7 0h.5m-.3 0h.5m1.5 0h.5m0 0h.5m-.3 0h.5m.1 0h.5m-.1 0h.5m-.4 0h.5m-.3 0h.5m-.1 0h.5m-.3 0h.5m-.1 0h.5m-.4 0h.5m-.4 0h.5m.6 0h.5m-.4 0h.5m-.4 0h.5m9.5 0h.5m-.2 0h.5m-.3 0h.5m.2 0h.5m-.1 0h.5m-.3 0h.5m-.2 0h.5m.5 0h.5M96.9 124.75h.5m1.9 0h.5m-.1 0h.5m1 0h.5m.2 0h.5m.1 0h.5m-.1 0h.5m1.7 0h.5m-.2 0h.5m-.4 0h.5m-.3 0h.5m-.4 0h.5m0 0h.5m-.3 0h.5m-.3 0h.5m0 0h.5m-.3 0h.5m-.2 0h.5m-.3 0h.5m-.3 0h.5m-.1 0h.5m9.1 0h.5m-.4 0h.5m-.3 0h.5m-.4 0h.5m-.4 0h.5m-.4 0h.5m-.4 0h.5m-.4 0h.5m-.2 0h.5m-.4 0h.5m-.4 0h.5m-.2 0h.5m-.1 0h.5m.1 0h.5m0 0h.5M96.5 125h.5m.2 0h.5m2.1 0h.5m.9 0h.5m-.3 0h.5m.2 0h.5m.2 0h.5m-.2 0h.5m-.4 0h.5m.6 0h.5m.4 0h.5m-.4 0h.5m-.2 0h.5m.6 0h.5m.1 0h.5m-.2 0h.5m-.1 0h.5m-.3 0h.5m9.7 0h.5m-.4 0h.5m-.4 0h.5m-.4 0h.5m-.1 0h.5m-.4 0h.5m-.1 0h.5m-.4 0h.5m-.2 0h.5m-.2 0h.5M97.2 125.25h.5m1.9 0h.5m.9 0h.5m3.5 0h.5m.3 0h.5m-.1 0h.5m.5 0h.5m-.4 0h.5m-.4 0h.5m-.1 0h.5m-.2 0h.5m-.3 0h.5m9.6 0h.5m.1 0h.5m-.4 0h.5m-.4 0h.5m-.4 0h.5m-.4 0h.5m-.3 0h.5m-.4 0h.5m-.4 0h.5m-.3 0h.5m-.4 0h.5m0 0h.5m.1 0h.5M93.5 125.5h.5m5.3 0h.5m.4 0h.5m3.7 0h.5m.1 0h.5m-.3 0h.5m-.4 0h.5m-.1 0h.5m-.3 0h.5m-.4 0h.5m-.4 0h.5m-.4 0h.5m-.2 0h.5m-.2 0h.5m.6 0h.5m-.2 0h.5m10.1 0h.5m-.4 0h.5m-.4 0h.5m-.4 0h.5m-.4 0h.5m-.2 0h.5m-.4 0h.5m-.3 0h.5m-.3 0h.5m-.2 0h.5M94.8 125.75h.5m5 0h.5m-.2 0h.5m1.2 0h.5m.1 0h.5m-.2 0h.5m-.4 0h.5m-.2 0h.5m0 0h.5m.1 0h.5m-.3 0h.5m.3 0h.5m-.3 0h.5m0 0h.5m-.2 0h.5m-.2 0h.5m-.4 0h.5m-.2 0h.5m-.2 0h.5m-.4 0h.5m-.3 0h.5m10.5 0h.5m-.3 0h.5m-.4 0h.5m-.1 0h.5m-.4 0h.5m-.3 0h.5m-.4 0h.5m-.4 0h.5m-.2 0h.5M92.6 126h.5m5.3 0h.5m1.2 0h.5m.8 0h.5m.7 0h.5m-.3 0h.5m.5 0h.5m-.1 0h.5m-.2 0h.5m-.2 0h.5m.1 0h.5m-.2 0h.5m-.3 0h.5m-.3 0h.5m0 0h.5m-.4 0h.5m-.4 0h.5m-.1 0h.5m11.4 0h.5m-.4 0h.5m-.3 0h.5m-.3 0h.5m-.4 0h.5m-.3 0h.5m-.4 0h.5m-.4 0h.5m0 0h.5M98.2 126.25h.5m1.6 0h.5m1.6 0h.5m.3 0h.5m.8 0h.5m-.4 0h.5m-.4 0h.5m.2 0h.5m-.4 0h.5m-.4 0h.5m-.3 0h.5m-.4 0h.5m.1 0h.5m-.3 0h.5m-.2 0h.5m-.1 0h.5m-.4 0h.5m11.2 0h.5m-.4 0h.5m-.3 0h.5m-.4 0h.5m-.4 0h.5m-.4 0h.5m-.3 0h.5m-.3 0h.5m-.4 0h.5m-.3 0h.5m-.3 0h.5m.6 0h.5M96.7 126.5h.5m2.4 0h.5m.3 0h.5m-.1 0h.5m0 0h.5m-.1 0h.5m.8 0h.5m1 0h.5m.5 0h.5m-.4 0h.5m-.2 0h.5m-.4 0h.5m0 0h.5m.2 0h.5m11.7 0h.5m-.4 0h.5m-.3 0h.5m-.4 0h.5m-.4 0h.5m.5 0h.5m.3 0h.5M97.2 126.75h.5m-.1 0h.5m.2 0h.5m.3 0h.5m1.4 0h.5m-.3 0h.5m-.2 0h.5m-.2 0h.5m-.3 0h.5m.8 0h.5m-.2 0h.5m-.1 0h.5m-.1 0h.5m-.2 0h.5m-.4 0h.5m.3 0h.5m-.4 0h.5m-.3 0h.5m.3 0h.5m-.4 0h.5m-.4 0h.5m-.3 0h.5m-.4 0h.5m-.4 0h.5m11.8 0h.5m-.4 0h.5m-.4 0h.5m-.3 0h.5m-.3 0h.5m.4 0h.5m-.3 0h.5m-.2 0h.5M97.2 127h.5m.5 0h.5m.1 0h.5m.3 0h.5m1.3 0h.5m-.1 0h.5m-.3 0h.5m.6 0h.5m-.4 0h.5m-.1 0h.5m0 0h.5m-.4 0h.5m-.3 0h.5m0 0h.5m-.4 0h.5m-.1 0h.5m-.3 0h.5m-.4 0h.5m-.2 0h.5m-.3 0h.5m-.4 0h.5m-.2 0h.5m-.2 0h.5m0 0h.5m11.5 0h.5m-.4 0h.5m-.4 0h.5m-.3 0h.5m-.4 0h.5m-.4 0h.5m-.4 0h.5m-.4 0h.5m.1 0h.5M98.9 127.25h.5m.2 0h.5m-.3 0h.5m0 0h.5m-.1 0h.5m.1 0h.5m.6 0h.5m-.4 0h.5m-.1 0h.5m1 0h.5m.2 0h.5m-.4 0h.5m-.3 0h.5m-.1 0h.5m-.4 0h.5m-.2 0h.5m-.4 0h.5m-.4 0h.5m-.1 0h.5m12.2 0h.5m-.2 0h.5m-.4 0h.5m-.3 0h.5m-.4 0h.5m-.4 0h.5m-.4 0h.5m-.4 0h.5m0 0h.5m-.2 0h.5M92.7 127.5h.5m2.2 0h.5m1.1 0h.5m.7 0h.5m-.3 0h.5m2.4 0h.5m.2 0h.5m.4 0h.5m-.3 0h.5m-.3 0h.5m.1 0h.5m-.1 0h.5m-.4 0h.5m0 0h.5m-.3 0h.5m-.3 0h.5m0 0h.5m-.1 0h.5m-.3 0h.5m-.3 0h.5m-.3 0h.5m-.3 0h.5m-.3 0h.5m11.9 0h.5m-.4 0h.5m-.4 0h.5m-.4 0h.5m-.4 0h.5m-.4 0h.5m-.3 0h.5m-.2 0h.5m-.4 0h.5m-.3 0h.5m.3 0h.5M93.2 127.75h.5m.6 0h.5m3.3 0h.5m2.3 0h.5m.2 0h.5m.1 0h.5m-.3 0h.5m.5 0h.5m0 0h.5m-.4 0h.5m-.4 0h.5m-.4 0h.5m-.3 0h.5m-.3 0h.5m-.2 0h.5m-.3 0h.5m-.4 0h.5m-.2 0h.5m0 0h.5m-.2 0h.5m-.3 0h.5m-.4 0h.5m-.3 0h.5m-.2 0h.5m-.4 0h.5m12 0h.5m-.2 0h.5m-.4 0h.5m-.4 0h.5m-.3 0h.5m-.4 0h.5m-.4 0h.5m-.1 0h.5m.1 0h.5M93.1 128h.5m.8 0h.5m3.5 0h.5m1.7 0h.5m.4 0h.5m.3 0h.5m-.3 0h.5m.3 0h.5m-.1 0h.5m.1 0h.5m-.4 0h.5m-.4 0h.5m-.3 0h.5m-.3 0h.5m-.1 0h.5m-.3 0h.5m-.3 0h.5m-.4 0h.5m-.1 0h.5m-.2 0h.5m-.2 0h.5m-.2 0h.5m12.1 0h.5m-.1 0h.5m.2 0h.5m-.4 0h.5m-.4 0h.5m-.1 0h.5m-.3 0h.5M93.5 128.25h.5m1 0h.5m1.7 0h.5m-.3 0h.5m.5 0h.5m2.9 0h.5m.2 0h.5m0 0h.5m.1 0h.5m.4 0h.5m-.2 0h.5m.6 0h.5m-.4 0h.5m-.2 0h.5m-.4 0h.5m-.4 0h.5m-.4 0h.5m-.2 0h.5m-.4 0h.5m12.5 0h.5m-.4 0h.5m-.3 0h.5m-.3 0h.5m-.3 0h.5m-.4 0h.5m-.4 0h.5m-.4 0h.5m.1 0h.5m-.4 0h.5M96.2 128.5h.5m3.8 0h.5m.6 0h.5m.3 0h.5m-.3 0h.5m.5 0h.5m.8 0h.5m-.2 0h.5m-.1 0h.5m0 0h.5m-.3 0h.5m-.1 0h.5m12.6 0h.5m-.2 0h.5m-.4 0h.5m.2 0h.5m-.4 0h.5m-.2 0h.5m-.2 0h.5m-.3 0h.5M96 128.75h.5m3.3 0h.5m2.1 0h.5m-.3 0h.5m-.3 0h.5m-.2 0h.5m.1 0h.5m-.1 0h.5m-.1 0h.5m1 0h.5m-.3 0h.5m-.4 0h.5m-.1 0h.5m-.3 0h.5m12.5 0h.5m-.4 0h.5m-.4 0h.5m-.3 0h.5m-.3 0h.5m-.3 0h.5m-.1 0h.5m-.3 0h.5M93.9 129h.5m2.1 0h.5m-.4 0h.5m-.2 0h.5m-.4 0h.5m1.9 0h.5m-.1 0h.5m.5 0h.5m-.2 0h.5m-.3 0h.5m.2 0h.5m.1 0h.5m-.4 0h.5m0 0h.5m-.1 0h.5m-.4 0h.5m.6 0h.5m.1 0h.5m-.2 0h.5m.1 0h.5m-.4 0h.5m-.1 0h.5m12.7 0h.5m-.3 0h.5m-.4 0h.5m-.4 0h.5m-.2 0h.5m-.4 0h.5m-.4 0h.5m-.3 0h.5m-.4 0h.5m-.3 0h.5m-.2 0h.5m.7 0h.5M93.6 129.25h.5m3.3 0h.5m1.3 0h.5m1 0h.5m0 0h.5m.4 0h.5m-.2 0h.5m.4 0h.5m-.1 0h.5m-.3 0h.5m-.2 0h.5m-.2 0h.5m-.3 0h.5m-.4 0h.5m-.3 0h.5m-.4 0h.5m-.3 0h.5m-.4 0h.5m-.1 0h.5m.1 0h.5m13.1 0h.5m-.4 0h.5m-.4 0h.5m-.4 0h.5m-.4 0h.5m-.4 0h.5m-.4 0h.5m-.4 0h.5m.1 0h.5m-.1 0h.5M96.3 129.5h.5m1.2 0h.5m0 0h.5m.6 0h.5m-.4 0h.5m-.1 0h.5m0 0h.5m-.1 0h.5m.5 0h.5m-.1 0h.5m-.3 0h.5m-.3 0h.5m-.3 0h.5m0 0h.5m-.3 0h.5m-.3 0h.5m-.4 0h.5m-.3 0h.5m-.3 0h.5m.1 0h.5m-.4 0h.5m-.4 0h.5m-.4 0h.5m-.4 0h.5m-.4 0h.5m-.4 0h.5m-.4 0h.5m-.4 0h.5m.3 0h.5m-.4 0h.5m13.3 0h.5m-.3 0h.5m-.4 0h.5m-.4 0h.5m-.4 0h.5m-.3 0h.5m-.1 0h.5m-.3 0h.5m.3 0h.5M98.8 129.75h.5m.1 0h.5m.9 0h.5m-.4 0h.5m.3 0h.5m-.2 0h.5m.5 0h.5m-.2 0h.5m-.4 0h.5m-.2 0h.5m-.2 0h.5m-.3 0h.5m-.3 0h.5m-.2 0h.5m-.4 0h.5m-.1 0h.5m-.3 0h.5m-.4 0h.5m-.1 0h.5m13.7 0h.5m-.4 0h.5m-.3 0h.5m-.4 0h.5m-.4 0h.5m-.4 0h.5m-.4 0h.5m-.4 0h.5m-.2 0h.5m-.4 0h.5m-.1 0h.5m-.3 0h.5M93.4 130h.5m5.3 0h.5m1.4 0h.5m.4 0h.5m-.3 0h.5m.2 0h.5m-.1 0h.5m-.3 0h.5m-.4 0h.5m-.4 0h.5m-.4 0h.5m-.3 0h.5m-.4 0h.5m-.4 0h.5m-.4 0h.5m-.4 0h.5m-.3 0h.5m-.1 0h.5m-.4 0h.5m.2 0h.5m-.1 0h.5m-.4 0h.5m-.4 0h.5m-.4 0h.5m13.4 0h.5m-.4 0h.5m-.4 0h.5m-.3 0h.5m-.3 0h.5m-.3 0h.5M97.4 130.25h.5m-.4 0h.5m0 0h.5m.1 0h.5m0 0h.5m.2 0h.5m.8 0h.5m.3 0h.5m0 0h.5m.3 0h.5m-.4 0h.5m-.3 0h.5m-.4 0h.5m-.2 0h.5m-.3 0h.5m-.4 0h.5m-.4 0h.5m-.4 0h.5m-.4 0h.5m-.4 0h.5m-.4 0h.5m-.4 0h.5m-.1 0h.5m-.2 0h.5m-.4 0h.5m.1 0h.5m-.2 0h.5m13.3 0h.5m-.4 0h.5m-.4 0h.5m-.4 0h.5m-.4 0h.5m-.3 0h.5m.1 0h.5m-.4 0h.5M94.6 130.5h.5m.9 0h.5m1.8 0h.5m0 0h.5m.4 0h.5m.4 0h.5m-.4 0h.5m2.4 0h.5m.5 0h.5m-.4 0h.5m-.2 0h.5m-.4 0h.5m-.1 0h.5m-.4 0h.5m-.2 0h.5m-.4 0h.5m-.4 0h.5m-.2 0h.5m-.3 0h.5m13.3 0h.5m-.4 0h.5m-.4 0h.5m-.3 0h.5m-.3 0h.5m-.2 0h.5m-.2 0h.5m-.4 0h.5m-.3 0h.5M94.3 130.75h.5m-.1 0h.5m1.8 0h.5m2.9 0h.5m.8 0h.5m-.2 0h.5m-.4 0h.5m-.1 0h.5m-.1 0h.5m1.1 0h.5m.1 0h.5m-.4 0h.5m-.2 0h.5m-.3 0h.5m-.4 0h.5m-.4 0h.5m13.9 0h.5m-.4 0h.5m-.4 0h.5m-.1 0h.5m-.4 0h.5m.2 0h.5M95.5 131h.5m.9 0h.5m0 0h.5m.1 0h.5m-.2 0h.5m1.6 0h.5m-.4 0h.5m-.2 0h.5m0 0h.5m-.3 0h.5m-.2 0h.5m-.4 0h.5m.1 0h.5m.4 0h.5m-.4 0h.5m-.1 0h.5m-.4 0h.5m-.4 0h.5m0 0h.5m0 0h.5m-.2 0h.5m-.4 0h.5m-.2 0h.5m-.3 0h.5m-.4 0h.5m-.2 0h.5m13.7 0h.5m-.3 0h.5m0 0h.5m-.4 0h.5m-.4 0h.5m-.4 0h.5m.3 0h.5M93.4 131.25h.5m.8 0h.5m2.1 0h.5m.1 0h.5m2 0h.5m1.3 0h.5m.3 0h.5m.4 0h.5m.3 0h.5m-.3 0h.5m-.4 0h.5m-.2 0h.5m-.1 0h.5m-.2 0h.5m-.4 0h.5m-.3 0h.5m13.6 0h.5m-.3 0h.5m-.4 0h.5m-.4 0h.5m-.4 0h.5m-.4 0h.5m-.4 0h.5m0 0h.5m-.3 0h.5M94.5 131.5h.5m0 0h.5m1.5 0h.5m-.3 0h.5m2.2 0h.5m.4 0h.5m.3 0h.5m-.1 0h.5m-.3 0h.5m-.3 0h.5m.3 0h.5m.6 0h.5m-.2 0h.5m-.4 0h.5m-.4 0h.5m-.2 0h.5m-.4 0h.5m-.4 0h.5m-.4 0h.5m-.3 0h.5m.4 0h.5m13.4 0h.5m-.2 0h.5m-.3 0h.5m-.4 0h.5m-.4 0h.5m-.4 0h.5m-.4 0h.5m-.2 0h.5m-.3 0h.5m-.2 0h.5m-.2 0h.5M93 131.75h.5m1.1 0h.5m-.1 0h.5m1 0h.5m.5 0h.5m1 0h.5m.2 0h.5m0 0h.5m-.1 0h.5m.8 0h.5m.1 0h.5m0 0h.5m.5 0h.5m.2 0h.5m-.3 0h.5m-.2 0h.5m-.4 0h.5m-.4 0h.5m.6 0h.5m13.3 0h.5m-.2 0h.5m-.3 0h.5m-.4 0h.5m-.4 0h.5m-.3 0h.5m-.2 0h.5m-.1 0h.5M97.6 132h.5m-.3 0h.5m.1 0h.5m.7 0h.5m-.1 0h.5m-.4 0h.5m.3 0h.5m.2 0h.5m.2 0h.5m-.3 0h.5m-.2 0h.5m-.3 0h.5m-.2 0h.5m-.2 0h.5m-.3 0h.5m-.2 0h.5m-.2 0h.5m-.2 0h.5m-.4 0h.5m-.3 0h.5m-.4 0h.5m-.2 0h.5m-.3 0h.5m0 0h.5m-.1 0h.5m13.3 0h.5m-.3 0h.5m-.4 0h.5m-.4 0h.5m-.2 0h.5m-.3 0h.5m-.3 0h.5m-.4 0h.5m0 0h.5m-.1 0h.5m.2 0h.5M95.4 132.25h.5m3.4 0h.5m.5 0h.5m-.2 0h.5m.2 0h.5m-.4 0h.5m-.4 0h.5m.2 0h.5m-.4 0h.5m.5 0h.5m-.1 0h.5m-.2 0h.5m-.3 0h.5m-.3 0h.5m-.4 0h.5m-.1 0h.5m-.4 0h.5m-.4 0h.5m-.4 0h.5m-.4 0h.5m-.4 0h.5m-.3 0h.5m-.4 0h.5m-.3 0h.5m-.4 0h.5m-.4 0h.5m-.4 0h.5m-.4 0h.5m-.3 0h.5m13.3 0h.5m-.3 0h.5m-.2 0h.5m-.4 0h.5m-.3 0h.5m-.3 0h.5m-.1 0h.5m-.1 0h.5M93.2 132.5h.5m4.8 0h.5m.5 0h.5m-.3 0h.5m.7 0h.5m-.3 0h.5m-.3 0h.5m-.4 0h.5m-.4 0h.5m.9 0h.5m.3 0h.5m-.4 0h.5m-.4 0h.5m-.3 0h.5m-.3 0h.5m-.2 0h.5m-.1 0h.5m.3 0h.5m-.4 0h.5m-.4 0h.5m-.4 0h.5m-.3 0h.5m13.6 0h.5m-.3 0h.5m-.4 0h.5m-.4 0h.5m-.1 0h.5m-.4 0h.5m-.4 0h.5M97.3 132.75h.5m-.3 0h.5m1.5 0h.5m-.4 0h.5m-.2 0h.5m-.1 0h.5m-.2 0h.5m2.7 0h.5m-.2 0h.5m-.4 0h.5m-.4 0h.5m-.2 0h.5m-.4 0h.5m-.4 0h.5m-.1 0h.5m-.4 0h.5m-.2 0h.5m-.3 0h.5m-.4 0h.5m-.4 0h.5m-.2 0h.5m13.5 0h.5m-.4 0h.5m-.4 0h.5m-.4 0h.5m-.3 0h.5m-.3 0h.5m-.4 0h.5m-.4 0h.5m-.4 0h.5m-.4 0h.5m-.4 0h.5M94 133h.5m.2 0h.5m0 0h.5m-.2 0h.5m-.2 0h.5m1.3 0h.5m1.2 0h.5m-.4 0h.5m.7 0h.5m-.4 0h.5m-.2 0h.5m0 0h.5m.9 0h.5m-.4 0h.5m-.3 0h.5m0 0h.5m-.2 0h.5m-.1 0h.5m.2 0h.5m-.4 0h.5m-.4 0h.5m-.4 0h.5m-.3 0h.5m-.4 0h.5m-.4 0h.5m-.4 0h.5m-.4 0h.5m-.4 0h.5m-.3 0h.5m13.7 0h.5m-.3 0h.5m.3 0h.5m-.3 0h.5m-.4 0h.5m-.3 0h.5m0 0h.5M92.5 133.25h.5m-.3 0h.5m4.1 0h.5m-.2 0h.5m-.2 0h.5m.2 0h.5m.2 0h.5m-.2 0h.5m-.2 0h.5m.7 0h.5m0 0h.5m.6 0h.5m0 0h.5m-.2 0h.5m-.4 0h.5m-.3 0h.5m-.3 0h.5m-.4 0h.5m-.4 0h.5m-.3 0h.5m-.4 0h.5m.1 0h.5m-.1 0h.5m-.4 0h.5m-.4 0h.5m-.4 0h.5m-.4 0h.5m-.1 0h.5m13.6 0h.5m-.2 0h.5m-.3 0h.5m-.3 0h.5m-.3 0h.5m-.2 0h.5m-.1 0h.5m0 0h.5M94.4 133.5h.5m0 0h.5m2.5 0h.5m0 0h.5m1.3 0h.5m-.2 0h.5m0 0h.5m0 0h.5m-.1 0h.5m.5 0h.5m-.1 0h.5m.5 0h.5m-.2 0h.5m-.4 0h.5m-.3 0h.5m-.4 0h.5m-.3 0h.5m-.4 0h.5m-.3 0h.5m-.4 0h.5m-.2 0h.5m.1 0h.5m13.3 0h.5m-.3 0h.5m-.3 0h.5m-.4 0h.5m-.4 0h.5m-.3 0h.5m-.3 0h.5m-.2 0h.5m-.4 0h.5m-.3 0h.5m.2 0h.5M92.6 133.75h.5m.9 0h.5m3.2 0h.5m1.8 0h.5m.2 0h.5m-.3 0h.5m-.4 0h.5m.4 0h.5m-.4 0h.5m-.3 0h.5m.3 0h.5m.1 0h.5m-.4 0h.5m-.4 0h.5m.3 0h.5m-.3 0h.5m-.1 0h.5m-.3 0h.5m-.1 0h.5m-.4 0h.5m-.2 0h.5m-.3 0h.5m-.4 0h.5m13.2 0h.5m-.2 0h.5m-.4 0h.5m-.4 0h.5m-.3 0h.5m.2 0h.5m.6 0h.5M96.6 134h.5m1.9 0h.5m-.2 0h.5m1.7 0h.5m-.2 0h.5m0 0h.5m-.3 0h.5m.1 0h.5m-.4 0h.5m-.1 0h.5m-.4 0h.5m0 0h.5m-.3 0h.5m-.2 0h.5m0 0h.5m-.3 0h.5m-.4 0h.5m-.4 0h.5m-.3 0h.5m-.4 0h.5m-.4 0h.5m-.3 0h.5m-.4 0h.5m13.6 0h.5m-.4 0h.5m.2 0h.5m-.3 0h.5m-.4 0h.5m.1 0h.5m-.3 0h.5M98.2 134.25h.5m-.4 0h.5m-.1 0h.5m-.4 0h.5m0 0h.5m.3 0h.5m-.4 0h.5m-.2 0h.5m-.2 0h.5m-.2 0h.5m.6 0h.5m-.4 0h.5m-.1 0h.5m.1 0h.5m-.2 0h.5m.2 0h.5m-.3 0h.5m-.1 0h.5m-.3 0h.5m-.4 0h.5m.1 0h.5m-.4 0h.5m-.3 0h.5m-.2 0h.5m-.4 0h.5m13.2 0h.5m-.3 0h.5m-.4 0h.5m-.4 0h.5m-.2 0h.5m-.3 0h.5m-.4 0h.5m-.2 0h.5m-.3 0h.5m-.3 0h.5m.1 0h.5m-.3 0h.5m-.1 0h.5M95 134.5h.5m.6 0h.5m.8 0h.5m.4 0h.5m.3 0h.5m0 0h.5m-.2 0h.5m-.4 0h.5m-.2 0h.5m.7 0h.5m-.1 0h.5m-.2 0h.5m-.1 0h.5m-.4 0h.5m-.4 0h.5m0 0h.5m0 0h.5m-.2 0h.5m-.3 0h.5m.3 0h.5m-.4 0h.5m-.2 0h.5m-.4 0h.5m-.4 0h.5m-.3 0h.5m-.2 0h.5m13.5 0h.5m-.4 0h.5m-.4 0h.5m-.3 0h.5m-.4 0h.5m-.2 0h.5m-.2 0h.5m-.4 0h.5m-.4 0h.5m0 0h.5m-.1 0h.5M96 134.75h.5m3.6 0h.5m0 0h.5m.3 0h.5m-.2 0h.5m-.4 0h.5m.1 0h.5m-.3 0h.5m0 0h.5m.2 0h.5m-.4 0h.5m-.2 0h.5m-.3 0h.5m-.4 0h.5m-.1 0h.5m-.3 0h.5m-.4 0h.5m-.3 0h.5m-.1 0h.5m-.4 0h.5m-.4 0h.5m-.4 0h.5m-.3 0h.5m-.4 0h.5m-.4 0h.5m13.2 0h.5m-.3 0h.5m-.4 0h.5m-.4 0h.5m-.3 0h.5m-.3 0h.5m-.1 0h.5m-.4 0h.5m-.3 0h.5M93.1 135h.5m3.5 0h.5m-.1 0h.5m2.4 0h.5m.6 0h.5m1.6 0h.5m-.1 0h.5m-.3 0h.5m-.3 0h.5m-.4 0h.5m.2 0h.5m-.4 0h.5m-.4 0h.5m-.3 0h.5m-.2 0h.5m-.4 0h.5m-.1 0h.5m13.7 0h.5m-.4 0h.5m-.4 0h.5m-.2 0h.5m-.4 0h.5m-.4 0h.5m-.3 0h.5m-.4 0h.5m0 0h.5M94.6 135.25h.5m3.7 0h.5m-.3 0h.5m-.2 0h.5m.8 0h.5m-.3 0h.5m0 0h.5m.3 0h.5m-.3 0h.5m-.4 0h.5m-.3 0h.5m-.4 0h.5m-.3 0h.5m.3 0h.5m.1 0h.5m-.1 0h.5m-.4 0h.5m-.2 0h.5m-.2 0h.5m-.4 0h.5m-.3 0h.5m-.4 0h.5m.2 0h.5m13.4 0h.5m-.3 0h.5m-.3 0h.5m-.4 0h.5m-.4 0h.5m0 0h.5m-.2 0h.5m-.4 0h.5M95.3 135.5h.5m-.1 0h.5m1 0h.5m-.2 0h.5m.4 0h.5m1.5 0h.5m.5 0h.5m-.4 0h.5m-.3 0h.5m0 0h.5m.1 0h.5m-.4 0h.5m.1 0h.5m-.3 0h.5m-.4 0h.5m-.3 0h.5m0 0h.5m-.3 0h.5m-.4 0h.5m-.1 0h.5m-.4 0h.5m-.1 0h.5m-.3 0h.5m-.3 0h.5m-.3 0h.5m-.3 0h.5m13.2 0h.5m-.1 0h.5m-.4 0h.5m-.3 0h.5m-.2 0h.5m-.4 0h.5m-.4 0h.5m-.3 0h.5m.4 0h.5M92.4 135.75h.5m2.5 0h.5m5.1 0h.5m-.3 0h.5m0 0h.5m0 0h.5m.5 0h.5m-.1 0h.5m-.1 0h.5m-.3 0h.5m-.4 0h.5m-.4 0h.5m0 0h.5m-.3 0h.5m-.3 0h.5m.1 0h.5m-.2 0h.5m-.4 0h.5m13.6 0h.5m-.3 0h.5m-.3 0h.5m-.4 0h.5m-.4 0h.5m-.3 0h.5m.8 0h.5M93.5 136h.5m-.4 0h.5m1.3 0h.5m0 0h.5m.8 0h.5m1 0h.5m.6 0h.5m-.2 0h.5m-.3 0h.5m-.4 0h.5m0 0h.5m-.4 0h.5m.8 0h.5m-.3 0h.5m.4 0h.5m.8 0h.5m-.4 0h.5m-.1 0h.5m-.3 0h.5m-.4 0h.5m.3 0h.5m-.2 0h.5m-.4 0h.5m12.8 0h.5m-.1 0h.5m-.4 0h.5m-.4 0h.5m-.2 0h.5M93.4 136.25h.5m.6 0h.5m5.5 0h.5m-.2 0h.5m-.3 0h.5m1 0h.5m-.1 0h.5m-.1 0h.5m.5 0h.5m.4 0h.5m-.3 0h.5m-.4 0h.5m-.3 0h.5m-.3 0h.5m-.3 0h.5m-.3 0h.5m-.2 0h.5m-.2 0h.5m12.6 0h.5m-.3 0h.5m-.4 0h.5m.1 0h.5m-.3 0h.5m-.4 0h.5m-.4 0h.5m-.2 0h.5m.1 0h.5m-.1 0h.5M94.2 136.5h.5m4.5 0h.5m1.3 0h.5m.8 0h.5m-.4 0h.5m-.4 0h.5m.5 0h.5m-.3 0h.5m0 0h.5m-.3 0h.5m-.4 0h.5m-.2 0h.5m-.1 0h.5m-.2 0h.5m-.4 0h.5m-.3 0h.5m-.4 0h.5m-.1 0h.5m-.1 0h.5m-.4 0h.5m-.4 0h.5m12.4 0h.5m-.1 0h.5m-.2 0h.5m-.4 0h.5m-.2 0h.5m-.1 0h.5m.2 0h.5M95.5 136.75h.5m.7 0h.5m1.9 0h.5m.2 0h.5m0 0h.5m0 0h.5m-.4 0h.5m.2 0h.5m-.2 0h.5m-.3 0h.5m-.1 0h.5m.2 0h.5m-.4 0h.5m-.3 0h.5m-.1 0h.5m0 0h.5m.1 0h.5m-.4 0h.5m-.1 0h.5m-.4 0h.5m-.3 0h.5m-.3 0h.5m-.4 0h.5m-.2 0h.5m-.4 0h.5m-.3 0h.5m12.6 0h.5m-.4 0h.5m-.4 0h.5m-.4 0h.5m-.4 0h.5m-.4 0h.5m-.3 0h.5m-.4 0h.5m-.4 0h.5m.3 0h.5M94.6 137h.5m.8 0h.5m6.6 0h.5m-.4 0h.5m-.4 0h.5m.2 0h.5m-.2 0h.5m-.2 0h.5m-.2 0h.5m-.3 0h.5m-.4 0h.5m-.4 0h.5m-.4 0h.5m-.3 0h.5m-.3 0h.5m-.4 0h.5m-.4 0h.5m.4 0h.5m-.2 0h.5m12.6 0h.5m-.4 0h.5m-.3 0h.5m-.3 0h.5m-.3 0h.5m-.4 0h.5M95.3 137.25h.5m1 0h.5m0 0h.5m-.2 0h.5m-.2 0h.5m0 0h.5m-.2 0h.5m-.4 0h.5m1.4 0h.5m.2 0h.5m.4 0h.5m.7 0h.5m-.4 0h.5m-.4 0h.5m-.4 0h.5m-.1 0h.5m0 0h.5m-.2 0h.5m-.4 0h.5m-.2 0h.5m-.1 0h.5m0 0h.5m-.4 0h.5m-.3 0h.5m-.1 0h.5m12.4 0h.5m-.4 0h.5m-.4 0h.5m-.4 0h.5m-.3 0h.5m-.3 0h.5m-.2 0h.5m-.3 0h.5m.4 0h.5M97.9 137.5h.5m1.2 0h.5m2.2 0h.5m.1 0h.5m-.1 0h.5m-.4 0h.5m.4 0h.5m-.4 0h.5m-.2 0h.5m-.4 0h.5m-.4 0h.5m-.2 0h.5m-.3 0h.5m0 0h.5m-.3 0h.5m-.3 0h.5m-.2 0h.5m-.1 0h.5m12.4 0h.5m-.3 0h.5m-.4 0h.5m-.3 0h.5m-.2 0h.5m-.4 0h.5m-.1 0h.5m.1 0h.5M97.6 137.75h.5m.3 0h.5m.4 0h.5m.5 0h.5m-.3 0h.5m1.5 0h.5m-.3 0h.5m-.2 0h.5m-.3 0h.5m-.3 0h.5m-.4 0h.5m.7 0h.5m-.2 0h.5m-.4 0h.5m-.1 0h.5m-.4 0h.5m-.2 0h.5m-.2 0h.5m-.4 0h.5m-.3 0h.5m-.4 0h.5m-.2 0h.5m-.4 0h.5m-.2 0h.5m11.7 0h.5m-.4 0h.5m-.4 0h.5m-.3 0h.5m-.4 0h.5m-.4 0h.5m-.3 0h.5m-.4 0h.5m-.4 0h.5m-.3 0h.5m-.3 0h.5m-.4 0h.5M95.8 138h.5m.7 0h.5m0 0h.5m4.5 0h.5m-.4 0h.5m-.1 0h.5m-.3 0h.5m.1 0h.5m-.1 0h.5m-.1 0h.5m-.2 0h.5m-.4 0h.5m-.2 0h.5m-.2 0h.5m-.4 0h.5m-.2 0h.5m-.4 0h.5m.1 0h.5m-.4 0h.5m-.2 0h.5m-.3 0h.5m-.3 0h.5m11.4 0h.5m-.4 0h.5m-.4 0h.5m-.4 0h.5m-.3 0h.5m-.4 0h.5m-.4 0h.5m-.1 0h.5m-.4 0h.5m-.4 0h.5m-.4 0h.5m0 0h.5M94.1 138.25h.5m-.2 0h.5m2.3 0h.5m.9 0h.5m.9 0h.5m0 0h.5m.2 0h.5m0 0h.5m-.2 0h.5m-.3 0h.5m.4 0h.5m0 0h.5m-.2 0h.5m.4 0h.5m-.3 0h.5m-.2 0h.5m-.4 0h.5m0 0h.5m-.4 0h.5m-.4 0h.5m-.4 0h.5m-.3 0h.5m-.4 0h.5m-.4 0h.5m-.4 0h.5m-.4 0h.5m-.4 0h.5m-.2 0h.5m-.2 0h.5m11.2 0h.5m-.4 0h.5m-.4 0h.5m-.4 0h.5m-.3 0h.5m-.4 0h.5m-.3 0h.5m-.4 0h.5m0 0h.5m0 0h.5M93.7 138.5h.5m1.6 0h.5m.4 0h.5m1.6 0h.5m1.4 0h.5m1.1 0h.5m-.3 0h.5m-.4 0h.5m.2 0h.5m.4 0h.5m0 0h.5m-.2 0h.5m-.4 0h.5m.1 0h.5m-.2 0h.5m-.4 0h.5m.1 0h.5m-.2 0h.5m-.4 0h.5m-.4 0h.5m11.5 0h.5m-.3 0h.5m-.2 0h.5m-.3 0h.5m-.3 0h.5m-.4 0h.5m-.3 0h.5m.2 0h.5m-.4 0h.5m-.4 0h.5m-.4 0h.5m-.2 0h.5M96 138.75h.5m2.2 0h.5m2.1 0h.5m.3 0h.5m-.2 0h.5m0 0h.5m.6 0h.5m0 0h.5m-.4 0h.5m-.4 0h.5m-.2 0h.5m.4 0h.5m-.4 0h.5m-.4 0h.5m-.3 0h.5m-.4 0h.5m-.4 0h.5m-.3 0h.5m-.2 0h.5m-.3 0h.5m-.4 0h.5m-.4 0h.5m-.2 0h.5m10.8 0h.5m-.4 0h.5m-.4 0h.5m-.4 0h.5m-.4 0h.5m-.4 0h.5m-.1 0h.5m-.2 0h.5m-.4 0h.5m-.3 0h.5m-.3 0h.5m-.1 0h.5M93 139h.5m5.8 0h.5m.6 0h.5m-.2 0h.5m0 0h.5m.2 0h.5m-.4 0h.5m.2 0h.5m.3 0h.5m-.4 0h.5m-.3 0h.5m.1 0h.5m-.2 0h.5m-.4 0h.5m-.4 0h.5m-.3 0h.5m-.3 0h.5m-.1 0h.5m-.3 0h.5m-.3 0h.5m-.4 0h.5m-.4 0h.5m-.4 0h.5m-.4 0h.5m-.2 0h.5m.1 0h.5m-.1 0h.5m10.7 0h.5m-.3 0h.5m-.4 0h.5m-.2 0h.5m-.1 0h.5m-.3 0h.5m-.4 0h.5m-.4 0h.5m-.2 0h.5m-.3 0h.5m-.1 0h.5M94.3 139.25h.5m.4 0h.5m1.8 0h.5m.3 0h.5m2.3 0h.5m-.2 0h.5m.2 0h.5m.6 0h.5m0 0h.5m0 0h.5m-.2 0h.5m.1 0h.5m-.2 0h.5m-.1 0h.5m-.2 0h.5m-.3 0h.5m-.1 0h.5m-.4 0h.5m-.4 0h.5m-.2 0h.5m-.2 0h.5m0 0h.5m10.3 0h.5m-.4 0h.5m-.2 0h.5m-.3 0h.5m-.2 0h.5m-.4 0h.5m-.1 0h.5m-.2 0h.5m-.1 0h.5m-.2 0h.5m-.2 0h.5m-.4 0h.5m-.2 0h.5M100.9 139.5h.5m-.3 0h.5m.7 0h.5m.2 0h.5m.5 0h.5m.2 0h.5m-.2 0h.5m.6 0h.5m-.4 0h.5m.1 0h.5m-.3 0h.5m-.4 0h.5m-.4 0h.5m0 0h.5m-.2 0h.5m10.2 0h.5m-.4 0h.5m-.3 0h.5m-.3 0h.5m-.4 0h.5m-.4 0h.5m-.3 0h.5m-.4 0h.5m-.2 0h.5m0 0h.5m-.2 0h.5m-.4 0h.5M92.7 139.75h.5m2.9 0h.5m1.2 0h.5m1 0h.5m2.1 0h.5m.1 0h.5m.5 0h.5m.1 0h.5m.2 0h.5m-.2 0h.5m-.4 0h.5m-.3 0h.5m-.3 0h.5m-.1 0h.5m-.3 0h.5m-.2 0h.5m-.4 0h.5m-.2 0h.5m.4 0h.5m-.4 0h.5m10.4 0h.5m-.4 0h.5m-.4 0h.5m.3 0h.5m.1 0h.5m-.3 0h.5m-.3 0h.5M95.7 140h.5m.3 0h.5m.4 0h.5m.6 0h.5m-.1 0h.5m0 0h.5m1.6 0h.5m-.3 0h.5m.4 0h.5m0 0h.5m-.4 0h.5m-.3 0h.5m.8 0h.5m-.4 0h.5m-.3 0h.5m-.1 0h.5m-.2 0h.5m-.4 0h.5m-.2 0h.5m-.4 0h.5m-.3 0h.5m.4 0h.5m-.2 0h.5m-.3 0h.5m-.3 0h.5m-.4 0h.5m-.3 0h.5m9.8 0h.5m-.2 0h.5m-.3 0h.5m-.4 0h.5m-.4 0h.5m-.1 0h.5m.5 0h.5M95.5 140.25h.5m5 0h.5m-.4 0h.5m.1 0h.5m-.4 0h.5m.6 0h.5m0 0h.5m-.1 0h.5m-.3 0h.5m0 0h.5m-.4 0h.5m-.4 0h.5m-.4 0h.5m.1 0h.5m0 0h.5m-.2 0h.5m-.4 0h.5m-.4 0h.5m-.4 0h.5m.2 0h.5m-.2 0h.5m-.3 0h.5m-.4 0h.5m-.4 0h.5m9.8 0h.5m-.3 0h.5m-.4 0h.5m-.3 0h.5m-.4 0h.5m-.4 0h.5m-.4 0h.5m-.4 0h.5m-.3 0h.5m-.4 0h.5m-.4 0h.5M94.1 140.5h.5m.9 0h.5m.6 0h.5m2.4 0h.5m.4 0h.5m2.4 0h.5m-.4 0h.5m-.1 0h.5m-.3 0h.5m-.3 0h.5m-.4 0h.5m-.1 0h.5m-.4 0h.5m-.2 0h.5m-.3 0h.5m-.1 0h.5m-.1 0h.5m.1 0h.5m-.4 0h.5m-.2 0h.5m-.3 0h.5m-.3 0h.5m-.1 0h.5m-.4 0h.5m.1 0h.5m9.2 0h.5m-.4 0h.5m-.4 0h.5m-.4 0h.5m-.3 0h.5m-.4 0h.5m-.4 0h.5m-.3 0h.5m-.2 0h.5m-.4 0h.5m.1 0h.5m-.4 0h.5m.8 0h.5M94.7 140.75h.5m1.7 0h.5m2.2 0h.5m.7 0h.5m-.4 0h.5m.2 0h.5m-.4 0h.5m.6 0h.5m.2 0h.5m-.2 0h.5m-.1 0h.5m-.1 0h.5m-.2 0h.5m.3 0h.5m-.2 0h.5m-.4 0h.5m-.2 0h.5m-.2 0h.5m-.2 0h.5m.3 0h.5m-.4 0h.5m-.3 0h.5m-.4 0h.5m-.2 0h.5m-.2 0h.5m8.7 0h.5m-.3 0h.5m-.4 0h.5m-.3 0h.5m-.4 0h.5m-.3 0h.5m-.1 0h.5m-.2 0h.5m-.2 0h.5m.8 0h.5M96.4 141h.5m-.1 0h.5m0 0h.5m-.4 0h.5m-.4 0h.5m-.2 0h.5m-.4 0h.5m-.4 0h.5m.2 0h.5m.7 0h.5m3 0h.5m-.3 0h.5m.5 0h.5m-.3 0h.5m-.4 0h.5m.5 0h.5m-.1 0h.5m-.3 0h.5m-.2 0h.5m-.4 0h.5m-.4 0h.5m-.4 0h.5m-.4 0h.5m.2 0h.5m-.1 0h.5m-.2 0h.5m-.4 0h.5m-.1 0h.5m8.3 0h.5m-.4 0h.5m-.4 0h.5m-.3 0h.5m-.4 0h.5m0 0h.5m-.1 0h.5m-.1 0h.5m-.4 0h.5m-.4 0h.5M92.7 141.25h.5m6.4 0h.5m.5 0h.5m.8 0h.5m-.4 0h.5m0 0h.5m-.2 0h.5m-.4 0h.5m.1 0h.5m-.4 0h.5m0 0h.5m-.2 0h.5m0 0h.5m-.3 0h.5m.5 0h.5m.1 0h.5m-.3 0h.5m-.4 0h.5m-.3 0h.5m-.4 0h.5m-.4 0h.5m-.1 0h.5m-.3 0h.5m-.3 0h.5m-.3 0h.5m-.4 0h.5m-.4 0h.5m-.4 0h.5m-.2 0h.5m8 0h.5m-.2 0h.5m-.4 0h.5m-.2 0h.5m-.4 0h.5m0 0h.5m-.3 0h.5m-.4 0h.5m-.2 0h.5m-.2 0h.5M96.5 141.5h.5m4.8 0h.5m.7 0h.5m-.2 0h.5m.1 0h.5m-.4 0h.5m-.4 0h.5m-.3 0h.5m-.3 0h.5m-.4 0h.5m-.2 0h.5m-.3 0h.5m-.3 0h.5m.2 0h.5m-.4 0h.5m.5 0h.5m0 0h.5m-.1 0h.5m0 0h.5m-.4 0h.5m-.3 0h.5m7.8 0h.5m-.4 0h.5m-.4 0h.5m-.3 0h.5m-.4 0h.5m-.3 0h.5m.2 0h.5m-.4 0h.5m-.4 0h.5m-.1 0h.5m-.3 0h.5m1 0h.5M96.9 141.75h.5m2.2 0h.5m0 0h.5m0 0h.5m2.2 0h.5m-.1 0h.5m-.2 0h.5m-.2 0h.5m1.3 0h.5m.5 0h.5m.4 0h.5m.2 0h.5m-.2 0h.5m-.2 0h.5m-.2 0h.5m-.1 0h.5m6.4 0h.5m-.2 0h.5m-.2 0h.5m-.4 0h.5m-.4 0h.5m-.4 0h.5m-.4 0h.5m-.4 0h.5m-.3 0h.5m-.3 0h.5m-.2 0h.5m-.3 0h.5m-.4 0h.5m-.4 0h.5m-.4 0h.5m-.3 0h.5M100.7 142h.5m-.3 0h.5m1.7 0h.5m.7 0h.5m-.3 0h.5m-.2 0h.5m.3 0h.5m-.4 0h.5m-.4 0h.5m-.2 0h.5m-.1 0h.5m-.3 0h.5m-.2 0h.5m-.4 0h.5m-.4 0h.5m-.4 0h.5m-.3 0h.5m-.1 0h.5m-.2 0h.5m-.3 0h.5m-.1 0h.5m-.4 0h.5m-.2 0h.5m-.3 0h.5m6.9 0h.5m-.3 0h.5m-.4 0h.5m-.3 0h.5m-.4 0h.5m-.4 0h.5m-.4 0h.5m-.3 0h.5m.1 0h.5m-.4 0h.5m-.4 0h.5m-.1 0h.5M96.7 142.25h.5m2.3 0h.5m.4 0h.5m.3 0h.5m1.9 0h.5m.4 0h.5m-.3 0h.5m.8 0h.5m-.4 0h.5m-.1 0h.5m-.4 0h.5m-.4 0h.5m-.2 0h.5m-.1 0h.5m-.2 0h.5m.1 0h.5m-.3 0h.5m-.1 0h.5m-.1 0h.5m-.4 0h.5m-.4 0h.5m.3 0h.5m5.5 0h.5m-.4 0h.5m-.4 0h.5m-.2 0h.5m-.4 0h.5m-.2 0h.5m-.4 0h.5m-.4 0h.5m-.4 0h.5m-.4 0h.5m-.4 0h.5m-.4 0h.5m-.4 0h.5m-.3 0h.5m-.4 0h.5m-.4 0h.5m.1 0h.5m-.2 0h.5m-.2 0h.5m-.2 0h.5m0 0h.5M95.2 142.5h.5m-.2 0h.5m3.2 0h.5m-.1 0h.5m2.3 0h.5m.7 0h.5m-.1 0h.5m.1 0h.5m.1 0h.5m-.2 0h.5m-.4 0h.5m-.3 0h.5m-.1 0h.5m-.2 0h.5m-.2 0h.5m.2 0h.5m-.1 0h.5m-.4 0h.5m0 0h.5m-.4 0h.5m-.2 0h.5m-.3 0h.5m-.4 0h.5m-.2 0h.5m-.2 0h.5m5.5 0h.5m-.3 0h.5m-.4 0h.5m-.4 0h.5m-.4 0h.5m-.4 0h.5m-.4 0h.5m-.4 0h.5m-.2 0h.5m-.2 0h.5m-.4 0h.5m-.4 0h.5m-.2 0h.5m-.4 0h.5m-.4 0h.5m-.4 0h.5m.5 0h.5m.4 0h.5M98.3 142.75h.5m3.4 0h.5m-.4 0h.5m.8 0h.5m.6 0h.5m.7 0h.5m-.4 0h.5m.1 0h.5m.4 0h.5m-.2 0h.5m-.4 0h.5m-.4 0h.5m-.4 0h.5m-.4 0h.5m0 0h.5m-.3 0h.5m-.3 0h.5m-.2 0h.5m-.3 0h.5m-.3 0h.5m-.3 0h.5m-.4 0h.5m-.3 0h.5m-.1 0h.5m-.4 0h.5m-.4 0h.5m4.2 0h.5m-.4 0h.5m-.4 0h.5m-.4 0h.5m-.4 0h.5m-.4 0h.5m-.4 0h.5m-.4 0h.5m-.4 0h.5m-.4 0h.5m-.3 0h.5m-.2 0h.5m-.4 0h.5m-.4 0h.5m-.3 0h.5m-.4 0h.5m-.1 0h.5m0 0h.5m.3 0h.5M92.5 143h.5m9.4 0h.5m.8 0h.5m-.2 0h.5m.2 0h.5m-.2 0h.5m0 0h.5m1.6 0h.5m.5 0h.5m-.2 0h.5m-.4 0h.5m.1 0h.5m-.4 0h.5m-.4 0h.5m-.3 0h.5m-.3 0h.5m-.3 0h.5m.1 0h.5m-.4 0h.5m-.3 0h.5m2.6 0h.5m-.4 0h.5m-.3 0h.5m-.2 0h.5m-.2 0h.5m-.1 0h.5m-.4 0h.5m-.4 0h.5m-.3 0h.5m-.4 0h.5m-.4 0h.5m-.4 0h.5m-.4 0h.5m-.4 0h.5m-.2 0h.5m-.3 0h.5m-.4 0h.5m.4 0h.5m-.2 0h.5m-.3 0h.5m0 0h.5M99.3 143.25h.5m5.7 0h.5m-.1 0h.5m-.2 0h.5m-.1 0h.5m-.3 0h.5m-.4 0h.5m-.1 0h.5m-.4 0h.5m-.2 0h.5m.5 0h.5m-.4 0h.5m-.4 0h.5m-.1 0h.5m.2 0h.5m-.4 0h.5m-.4 0h.5m-.4 0h.5m0 0h.5m.2 0h.5m.4 0h.5m1.1 0h.5m-.4 0h.5m0 0h.5m-.4 0h.5m-.3 0h.5m-.3 0h.5m-.4 0h.5m-.4 0h.5m-.4 0h.5m-.4 0h.5m-.2 0h.5m-.4 0h.5m-.4 0h.5m-.4 0h.5m-.1 0h.5m-.4 0h.5m-.3 0h.5m-.4 0h.5m-.1 0h.5m-.1 0h.5m-.4 0h.5m-.3 0h.5m-.3 0h.5m.9 0h.5m-.3 0h.5m.2 0h.5M100.1 143.5h.5m1.4 0h.5m.4 0h.5m.1 0h.5m1.4 0h.5m.3 0h.5m-.4 0h.5m.8 0h.5m.7 0h.5m-.3 0h.5m.3 0h.5m-.4 0h.5m.5 0h.5m.8 0h.5m-.4 0h.5m-.4 0h.5m-.2 0h.5m-.4 0h.5m-.2 0h.5m-.2 0h.5m-.4 0h.5m-.2 0h.5m-.3 0h.5m-.3 0h.5m-.3 0h.5m-.4 0h.5m-.3 0h.5m-.4 0h.5m-.4 0h.5m-.3 0h.5m-.4 0h.5m-.4 0h.5m-.4 0h.5m-.2 0h.5m-.4 0h.5m-.4 0h.5m-.4 0h.5m-.4 0h.5m-.3 0h.5m-.4 0h.5m-.4 0h.5m-.3 0h.5m-.3 0h.5m-.1 0h.5m-.2 0h.5m-.4 0h.5m-.3 0h.5m.3 0h.5M102 143.75h.5m2.4 0h.5m.5 0h.5m-.1 0h.5m0 0h.5m.5 0h.5m-.3 0h.5m.4 0h.5m-.1 0h.5m-.3 0h.5m-.3 0h.5m-.1 0h.5m.1 0h.5m.9 0h.5m0 0h.5m-.2 0h.5m-.2 0h.5m-.3 0h.5m-.4 0h.5m-.4 0h.5m-.3 0h.5m-.1 0h.5m-.4 0h.5m-.4 0h.5m-.3 0h.5m-.4 0h.5m-.1 0h.5m-.3 0h.5m-.4 0h.5m-.4 0h.5m-.4 0h.5m-.4 0h.5m-.2 0h.5m-.4 0h.5m-.3 0h.5m-.4 0h.5m-.3 0h.5m.2 0h.5m-.4 0h.5m.2 0h.5M98.3 144h.5m3.7 0h.5m-.4 0h.5m1 0h.5m.9 0h.5m.1 0h.5m-.2 0h.5m.8 0h.5m-.2 0h.5m-.4 0h.5m-.3 0h.5m.2 0h.5m-.4 0h.5m.2 0h.5m-.2 0h.5m-.2 0h.5m-.4 0h.5m-.4 0h.5m-.3 0h.5m-.4 0h.5m-.1 0h.5m.1 0h.5m.1 0h.5m0 0h.5m0 0h.5m-.4 0h.5m-.3 0h.5m-.4 0h.5m-.3 0h.5m-.4 0h.5m-.3 0h.5m-.4 0h.5m-.3 0h.5m-.2 0h.5m-.4 0h.5m-.4 0h.5m-.2 0h.5m-.3 0h.5m-.4 0h.5m-.4 0h.5m-.4 0h.5m-.4 0h.5m-.1 0h.5m1.4 0h.5" stroke="#000" stroke-width="0.5" fill="none" opacity="1.0"/>
<polyline points="92.3,123 113.5,123 116,112 110,91.1" fill="none" stroke="#8a8a8a" stroke-width="0.5"/>
<text x="116.3" y="97.69999999999999" font-size="3.6" font-weight="normal" text-anchor="start" fill="#555">CD25+CD127-</text>
<line x1="99.8" y1="144.4" x2="99.8" y2="145.6" stroke="#333" stroke-width="0.5"/>
<text x="97.8" y="149.4" font-size="3.0" font-weight="normal" text-anchor="start" fill="#555">10</text>
<text x="101.1" y="148.0" font-size="2.2" font-weight="normal" text-anchor="start" fill="#555">2</text>
<line x1="115.1" y1="144.4" x2="115.1" y2="145.6" stroke="#333" stroke-width="0.5"/>
<text x="113.1" y="149.4" font-size="3.0" font-weight="normal" text-anchor="start" fill="#555">10</text>
<text x="116.39999999999999" y="148.0" font-size="2.2" font-weight="normal" text-anchor="start" fill="#555">2</text>
<line x1="129.7" y1="144.4" x2="129.7" y2="145.6" stroke="#333" stroke-width="0.5"/>
<text x="127.69999999999999" y="149.4" font-size="3.0" font-weight="normal" text-anchor="start" fill="#555">10</text>
<text x="131.0" y="148.0" font-size="2.2" font-weight="normal" text-anchor="start" fill="#555">2</text>
<line x1="143.6" y1="144.4" x2="143.6" y2="145.6" stroke="#333" stroke-width="0.5"/>
<text x="141.6" y="149.4" font-size="3.0" font-weight="normal" text-anchor="start" fill="#555">10</text>
<text x="144.9" y="148.0" font-size="2.2" font-weight="normal" text-anchor="start" fill="#555">2</text>
<line x1="91.1" y1="96.69999999999999" x2="92.3" y2="96.69999999999999" stroke="#333" stroke-width="0.5"/>
<text x="86.7" y="98.29999999999998" font-size="3.0" font-weight="normal" text-anchor="start" fill="#555">10</text>
<text x="89.8" y="96.79999999999998" font-size="2.2" font-weight="normal" text-anchor="start" fill="#555">2</text>
<line x1="91.1" y1="110.6" x2="92.3" y2="110.6" stroke="#333" stroke-width="0.5"/>
<text x="86.7" y="112.19999999999999" font-size="3.0" font-weight="normal" text-anchor="start" fill="#555">10</text>
<text x="89.8" y="110.69999999999999" font-size="2.2" font-weight="normal" text-anchor="start" fill="#555">2</text>
<line x1="91.1" y1="123.3" x2="92.3" y2="123.3" stroke="#333" stroke-width="0.5"/>
<text x="86.7" y="124.89999999999999" font-size="3.0" font-weight="normal" text-anchor="start" fill="#555">10</text>
<text x="89.8" y="123.39999999999999" font-size="2.2" font-weight="normal" text-anchor="start" fill="#555">2</text>
<line x1="91.1" y1="137.3" x2="92.3" y2="137.3" stroke="#333" stroke-width="0.5"/>
<text x="86.7" y="138.9" font-size="3.0" font-weight="normal" text-anchor="start" fill="#555">10</text>
<text x="89.8" y="137.4" font-size="2.2" font-weight="normal" text-anchor="start" fill="#555">2</text>
<text x="121.3" y="154.0" font-size="3.5" font-weight="normal" text-anchor="middle" fill="#555">CD127 FITC-A</text>
<text x="85.6" y="117.75" font-size="3.5" font-weight="normal" text-anchor="middle" fill="#555" transform="rotate(-90 85.6 117.75)">CD25 APC-A</text>
<rect x="163.3" y="11.3" width="94.69999999999999" height="53.2" fill="#fff" stroke="#858585" stroke-width="0.55"/>
<path d="M163.3,11.3V64.5H258" fill="none" stroke="#4a4a4a" stroke-width="0.6"/>
<line x1="210.2" y1="11.3" x2="210.2" y2="64.5" stroke="#bbb" stroke-width="0.45"/>
<polygon points="169.0,64.3 169.0,64.3 169.5,64.3 170.0,64.3 170.5,64.3 171.0,64.3 171.4,64.2 171.9,64.0 172.4,63.8 172.9,63.5 173.5,63.4 174.0,62.9 174.5,62.7 175.0,62.6 175.5,62.3 175.9,62.3 176.3,62.0 176.7,61.9 176.8,61.5 177.0,61.7 177.0,61.6 177.2,61.4 177.3,61.2 177.4,61.2 177.4,61.3 177.4,61.3 177.5,61.3 177.7,61.2 177.8,61.3 177.8,61.4 177.9,61.2 178.0,61.3 178.1,61.2 178.1,61.4 178.3,61.5 178.5,61.2 178.6,61.3 179.1,60.4 179.5,60.4 179.6,59.8 179.8,59.4 179.9,58.6 180.0,58.8 180.3,58.5 180.4,58.6 180.5,58.4 180.9,58.5 180.9,58.2 181.2,57.8 181.7,57.7 182.2,57.6 182.2,57.3 182.6,55.7 182.8,55.5 183.0,56.4 183.3,56.6 183.4,56.2 183.8,55.7 183.9,53.7 184.2,53.3 184.2,53.0 184.4,52.5 184.5,51.4 184.6,51.2 184.7,51.5 184.8,51.3 184.9,50.9 185.2,51.5 185.2,50.5 185.3,49.9 185.4,48.5 185.8,47.5 185.9,46.6 186.3,48.9 186.4,46.9 186.7,48.0 187.1,45.2 187.2,45.6 187.5,43.1 187.6,41.9 188.1,43.1 188.2,44.8 188.5,43.5 189.0,41.1 189.2,38.3 189.5,36.0 189.6,36.3 189.8,36.4 189.9,37.2 190.1,39.4 190.2,35.9 190.3,35.3 190.4,36.7 190.6,37.7 190.8,33.5 190.9,35.0 190.9,36.6 191.0,35.1 191.3,32.3 191.4,33.8 191.4,33.5 191.5,35.7 191.7,36.1 191.9,39.1 191.9,37.4 192.1,37.4 192.2,39.7 192.3,39.3 192.6,36.6 192.6,37.1 192.7,35.0 192.7,35.7 193.0,41.0 193.2,38.6 193.2,38.7 193.2,37.9 193.6,40.2 193.7,40.2 193.7,41.8 193.7,43.4 193.9,42.6 194.1,41.9 194.2,42.8 194.3,42.6 194.6,44.2 194.6,45.0 194.6,41.8 194.7,42.8 194.8,41.9 195.0,42.3 195.1,40.4 195.1,40.9 195.3,40.4 195.4,40.7 195.5,40.7 195.5,40.0 195.6,40.0 195.8,41.4 195.8,40.9 195.9,41.4 196.2,39.0 196.2,37.6 196.3,38.5 196.8,42.1 196.8,41.0 196.8,43.8 197.2,46.7 197.3,47.2 197.7,44.6 197.8,45.1 198.1,45.5 198.1,44.6 198.3,44.5 198.5,41.6 198.6,42.3 199.0,42.3 199.1,39.1 199.1,37.9 199.5,36.4 199.6,37.0 199.9,37.5 200.0,37.6 200.3,35.5 200.3,32.5 200.4,35.2 200.9,29.9 200.9,29.5 200.9,29.3 201.3,33.8 201.4,32.8 201.5,33.0 201.7,33.6 201.9,29.4 201.9,28.1 202.1,27.8 202.1,27.9 202.3,23.5 202.5,23.0 202.5,22.2 202.7,25.1 203.0,30.1 203.1,28.3 203.2,26.7 203.4,25.6 203.5,26.6 203.8,23.5 204.0,25.1 204.2,25.5 204.4,27.3 204.5,26.7 204.8,21.9 205.0,20.1 205.0,22.9 205.1,21.8 205.3,23.2 205.5,22.4 205.5,26.8 205.6,23.5 205.8,23.1 205.8,25.5 205.8,25.1 205.8,23.5 206.0,25.3 206.1,22.8 206.2,23.4 206.3,24.1 206.4,24.7 206.6,21.7 206.7,18.8 206.9,22.7 207.0,21.8 207.0,23.6 207.0,20.7 207.2,23.3 207.2,25.7 207.3,22.1 207.5,22.4 207.6,17.8 207.7,16.6 207.9,20.4 208.2,22.2 208.3,24.3 208.4,19.5 208.8,16.4 208.9,19.5 209.2,27.0 209.4,23.4 209.6,24.3 209.9,15.7 210.2,11.8 210.3,13.5 210.8,26.1 210.8,25.4 210.9,24.5 211.2,19.6 211.4,18.4 211.6,22.2 211.7,23.9 211.7,25.2 211.9,25.7 212.1,24.3 212.2,20.8 212.3,20.0 212.3,23.4 212.6,20.5 212.7,20.2 212.7,21.1 213.0,25.4 213.0,22.5 213.1,27.4 213.4,29.2 213.5,27.9 213.8,23.4 213.8,27.9 214.0,23.7 214.2,24.2 214.4,21.8 214.4,23.0 214.5,23.8 214.7,24.7 214.8,20.4 214.8,19.9 214.8,21.3 215.1,25.4 215.1,24.7 215.2,24.8 215.2,24.4 215.3,24.5 215.6,28.4 215.7,27.0 215.7,28.7 216.1,26.8 216.1,27.0 216.3,30.4 216.5,31.7 216.6,27.2 216.9,25.3 216.9,26.7 217.4,32.3 217.4,31.2 217.7,32.1 217.8,32.0 217.9,33.9 218.2,28.8 218.4,30.9 218.4,31.1 218.6,34.9 218.7,35.8 218.8,35.9 218.8,36.0 219.0,33.1 219.2,33.0 219.2,33.3 219.3,34.0 219.4,35.0 219.7,36.8 219.7,35.7 219.7,35.0 219.7,36.6 219.9,37.2 220.1,36.5 220.2,38.1 220.3,36.2 220.4,35.3 220.6,36.8 220.6,36.8 220.8,40.4 221.0,41.2 221.0,40.8 221.3,43.4 221.5,41.4 221.7,42.1 221.8,42.1 221.9,43.2 222.1,43.6 222.1,41.9 222.3,41.7 222.4,41.4 222.4,43.5 222.7,42.6 222.7,41.2 222.8,44.6 222.9,44.1 223.0,44.7 223.2,45.1 223.3,44.8 223.4,44.6 223.6,44.1 223.8,43.9 224.0,45.9 224.2,46.3 224.3,49.5 224.6,49.1 224.8,48.8 225.2,49.5 225.2,51.4 225.6,51.9 225.7,53.3 225.8,53.2 226.1,51.3 226.2,50.7 226.2,51.6 226.6,53.2 226.6,53.7 226.7,54.4 227.0,55.4 227.1,55.4 227.3,56.6 227.6,55.9 227.6,55.5 227.8,56.0 227.8,55.7 227.9,56.2 228.0,55.9 228.1,56.7 228.2,56.2 228.2,56.5 228.3,56.8 228.5,57.5 228.6,58.1 228.8,57.6 228.9,59.0 229.3,59.7 229.3,59.8 229.8,60.1 229.8,59.8 230.2,60.8 230.7,61.6 231.2,61.9 231.3,61.8 231.6,62.2 231.8,61.9 231.9,61.9 232.3,62.5 232.4,62.9 232.9,63.2 233.3,63.3 233.8,63.6 234.1,63.7 234.6,64.0 235.0,64.2 235.4,64.3 235.8,64.3 236.2,64.3 236.6,64.3 237.0,64.3 237.6,64.3 238.0,64.3" fill="#808080" stroke="#000" stroke-width="0.65" stroke-linejoin="round"/>
<line x1="255.4" y1="11.3" x2="255.4" y2="64.5" stroke="#aaa" stroke-width="0.5"/>
<line x1="195.6" y1="11.3" x2="195.6" y2="64.5" stroke="#222" stroke-width="0.6"/>
<line x1="195.6" y1="32.9" x2="255.4" y2="32.9" stroke="#444" stroke-width="0.6"/>
<text x="238.4" y="23.9" font-size="3.7" font-weight="normal" text-anchor="start" fill="#888">Foxp3+</text>
<text x="253.8" y="31.0" font-size="4.8" font-weight="bold" text-anchor="end" fill="#000">3,1%</text>
<line x1="175.2" y1="64.5" x2="175.2" y2="65.7" stroke="#333" stroke-width="0.5"/>
<text x="173.2" y="69.5" font-size="3.0" font-weight="normal" text-anchor="start" fill="#555">10</text>
<text x="176.5" y="68.1" font-size="2.2" font-weight="normal" text-anchor="start" fill="#555">2</text>
<line x1="199.7" y1="64.5" x2="199.7" y2="65.7" stroke="#333" stroke-width="0.5"/>
<text x="197.7" y="69.5" font-size="3.0" font-weight="normal" text-anchor="start" fill="#555">10</text>
<text x="201.0" y="68.1" font-size="2.2" font-weight="normal" text-anchor="start" fill="#555">2</text>
<line x1="224" y1="64.5" x2="224" y2="65.7" stroke="#333" stroke-width="0.5"/>
<text x="222.0" y="69.5" font-size="3.0" font-weight="normal" text-anchor="start" fill="#555">10</text>
<text x="225.3" y="68.1" font-size="2.2" font-weight="normal" text-anchor="start" fill="#555">2</text>
<line x1="247.6" y1="64.5" x2="247.6" y2="65.7" stroke="#333" stroke-width="0.5"/>
<text x="245.6" y="69.5" font-size="3.0" font-weight="normal" text-anchor="start" fill="#555">10</text>
<text x="248.9" y="68.1" font-size="2.2" font-weight="normal" text-anchor="start" fill="#555">2</text>
<line x1="161.70000000000002" y1="64.5" x2="163.3" y2="64.5" stroke="#333" stroke-width="0.5"/>
<text x="161.3" y="65.5" font-size="2.6" font-weight="normal" text-anchor="end" fill="#555">0</text>
<line x1="161.70000000000002" y1="58.4" x2="163.3" y2="58.4" stroke="#333" stroke-width="0.5"/>
<text x="161.3" y="59.4" font-size="2.6" font-weight="normal" text-anchor="end" fill="#555">5</text>
<line x1="161.70000000000002" y1="52.3" x2="163.3" y2="52.3" stroke="#333" stroke-width="0.5"/>
<text x="161.3" y="53.3" font-size="2.6" font-weight="normal" text-anchor="end" fill="#555">10</text>
<line x1="161.70000000000002" y1="46.2" x2="163.3" y2="46.2" stroke="#333" stroke-width="0.5"/>
<text x="161.3" y="47.2" font-size="2.6" font-weight="normal" text-anchor="end" fill="#555">15</text>
<line x1="161.70000000000002" y1="40.1" x2="163.3" y2="40.1" stroke="#333" stroke-width="0.5"/>
<text x="161.3" y="41.1" font-size="2.6" font-weight="normal" text-anchor="end" fill="#555">20</text>
<line x1="161.70000000000002" y1="34.0" x2="163.3" y2="34.0" stroke="#333" stroke-width="0.5"/>
<text x="161.3" y="35.0" font-size="2.6" font-weight="normal" text-anchor="end" fill="#555">25</text>
<line x1="161.70000000000002" y1="27.900000000000006" x2="163.3" y2="27.900000000000006" stroke="#333" stroke-width="0.5"/>
<text x="161.3" y="28.900000000000006" font-size="2.6" font-weight="normal" text-anchor="end" fill="#555">30</text>
<line x1="161.70000000000002" y1="21.800000000000004" x2="163.3" y2="21.800000000000004" stroke="#333" stroke-width="0.5"/>
<text x="161.3" y="22.800000000000004" font-size="2.6" font-weight="normal" text-anchor="end" fill="#555">35</text>
<line x1="161.70000000000002" y1="15.700000000000003" x2="163.3" y2="15.700000000000003" stroke="#333" stroke-width="0.5"/>
<text x="161.3" y="16.700000000000003" font-size="2.6" font-weight="normal" text-anchor="end" fill="#555">40</text>
<text x="210.5" y="73.7" font-size="3.5" font-weight="normal" text-anchor="middle" fill="#555">Foxp3 PE-A</text>
<text x="159.0" y="37.9" font-size="3.3" font-weight="normal" text-anchor="middle" fill="#555" transform="rotate(-90 159.0 37.9)">Count</text>
<rect x="163.3" y="90.8" width="94.69999999999999" height="52.89999999999999" fill="#fff" stroke="#858585" stroke-width="0.55"/>
<path d="M163.3,90.8V143.7H258" fill="none" stroke="#4a4a4a" stroke-width="0.6"/>
<line x1="213.8" y1="90.8" x2="213.8" y2="143.7" stroke="#bbb" stroke-width="0.45"/>
<polygon points="163.3,143.5 163.3,143.0 163.8,142.9 164.2,142.7 164.6,142.5 165.1,142.4 165.7,142.7 166.1,142.8 166.6,142.9 167.1,143.1 167.5,143.3 168.0,143.4 168.3,143.4 168.9,143.4 169.3,143.4 169.8,143.4 170.3,143.3 170.8,143.3 171.2,143.3 171.3,143.3 171.7,143.3 171.7,143.3 172.1,143.3 172.1,143.3 172.6,143.2 173.0,143.3 173.3,143.2 173.8,143.2 173.9,143.2 174.2,143.2 174.4,143.1 174.7,143.1 174.9,143.1 175.2,143.0 175.4,143.0 175.6,142.8 175.8,142.7 176.1,142.7 176.1,142.7 176.5,142.6 176.9,142.4 177.3,142.2 177.7,142.1 178.1,141.9 178.5,141.8 178.5,141.8 178.7,141.7 178.9,141.4 179.0,141.4 179.2,141.5 179.3,141.6 179.5,141.6 179.5,141.4 179.7,141.4 179.7,141.0 179.8,141.2 180.0,140.9 180.3,141.1 180.3,141.2 180.6,141.3 180.7,141.3 180.8,141.3 181.1,141.3 181.2,141.2 181.3,141.2 181.4,140.9 181.6,140.9 181.7,140.7 181.7,140.7 181.8,140.8 181.9,140.6 181.9,140.6 182.0,140.6 182.1,140.7 182.1,140.7 182.2,140.6 182.2,140.5 182.3,140.5 182.3,140.5 182.4,140.8 182.5,140.8 182.7,140.4 182.8,140.6 182.8,140.8 182.8,140.6 183.0,140.8 183.3,140.7 183.4,141.0 183.6,140.3 183.9,139.4 184.1,139.4 184.2,139.3 184.4,139.1 184.5,138.6 184.6,138.6 184.9,139.0 185.0,138.8 185.2,138.5 185.8,137.4 186.0,137.3 186.3,134.5 186.5,132.6 186.8,134.5 187.0,136.6 187.3,136.6 187.7,136.1 188.2,136.0 188.5,134.8 188.7,135.2 189.0,135.5 189.0,134.6 189.1,134.7 189.2,135.0 189.4,133.7 189.5,134.2 189.6,134.2 189.9,134.8 190.0,135.3 190.1,135.2 190.4,135.8 190.8,136.0 190.9,135.5 191.4,135.7 191.5,135.7 191.8,136.1 192.0,136.3 192.2,137.4 192.3,138.0 192.5,138.3 192.5,138.0 192.7,137.9 192.7,138.0 192.8,137.6 192.8,137.4 192.9,137.9 192.9,138.1 192.9,137.9 193.1,138.0 193.1,137.7 193.2,137.8 193.2,137.8 193.3,137.9 193.3,137.6 193.4,137.5 193.4,137.6 193.6,138.0 193.6,137.7 193.6,137.4 193.8,137.4 193.8,137.8 193.9,137.4 194.0,135.2 194.0,135.1 194.0,135.6 194.4,135.0 194.4,134.2 194.4,133.8 194.5,132.8 194.9,129.4 194.9,128.5 194.9,128.6 195.1,131.4 195.2,131.5 195.4,134.2 195.5,134.1 195.7,133.1 195.8,133.7 196.1,132.7 196.2,133.0 196.2,132.8 196.7,135.8 196.7,136.2 196.9,135.8 197.2,135.7 197.3,135.9 197.4,136.0 197.6,135.9 197.8,135.3 197.8,135.6 197.9,135.2 198.0,135.4 198.4,134.3 198.4,134.8 198.4,134.6 198.7,133.8 198.7,134.2 198.9,133.6 199.0,133.1 199.1,133.6 199.3,133.4 199.3,133.1 199.5,134.4 199.8,131.5 199.9,132.2 200.2,129.3 200.3,128.4 200.4,126.0 200.6,125.0 200.7,124.2 200.9,124.3 201.1,125.4 201.2,124.3 201.2,121.1 201.3,121.4 201.5,120.5 201.6,121.0 201.6,119.3 201.7,118.7 201.7,120.0 202.0,117.4 202.0,118.2 202.1,117.2 202.2,116.2 202.2,116.9 202.5,117.5 202.6,118.1 202.6,116.0 202.7,114.9 202.8,116.5 203.1,113.5 203.2,115.0 203.5,112.0 203.6,111.8 203.6,111.9 203.7,114.4 204.0,111.4 204.0,109.4 204.2,110.7 204.2,112.9 204.4,112.8 204.5,113.6 204.6,109.4 204.8,110.0 204.9,111.8 205.2,108.5 205.2,108.3 205.3,108.0 205.4,109.9 205.5,112.8 205.7,114.4 205.8,113.2 205.9,113.8 206.2,112.4 206.4,109.5 206.5,109.8 206.8,111.6 206.9,113.7 207.3,111.9 207.7,112.8 207.8,115.2 208.1,110.1 208.3,107.4 208.6,109.2 208.7,113.0 208.8,111.3 209.0,109.7 209.2,110.0 209.3,112.7 209.4,110.7 209.7,109.9 209.8,108.1 209.9,111.3 210.2,112.2 210.4,110.6 210.6,111.5 210.7,109.4 211.0,107.3 211.2,111.5 211.4,110.5 211.7,110.7 212.0,110.2 212.1,109.5 212.1,107.3 212.2,110.7 212.5,105.8 212.6,101.2 212.7,103.3 212.7,103.5 212.9,108.1 213.0,107.2 213.2,108.4 213.2,104.7 213.4,105.8 213.5,101.0 213.5,105.6 213.8,99.3 214.0,99.8 214.0,100.9 214.4,104.0 214.4,108.3 214.6,108.0 214.9,108.0 214.9,109.6 215.3,106.5 215.6,103.4 215.8,103.5 215.9,104.9 216.2,109.2 216.3,111.1 216.4,109.0 216.7,111.8 216.9,113.7 217.1,114.7 217.4,112.1 217.7,110.8 218.0,110.1 218.1,107.5 218.2,107.5 218.5,103.8 218.5,103.8 218.6,104.7 218.8,108.7 218.9,111.1 219.0,111.5 219.0,109.4 219.2,108.1 219.2,109.1 219.3,108.3 219.4,109.8 219.5,111.1 219.6,111.7 219.7,113.5 219.9,113.9 219.9,113.4 220.0,113.0 220.3,116.4 220.7,118.4 220.8,116.5 221.2,113.9 221.3,112.0 221.7,114.1 221.9,117.0 222.1,120.2 222.4,118.6 222.5,118.5 222.9,119.1 222.9,119.6 223.0,119.1 223.2,119.6 223.2,120.7 223.5,120.9 223.6,123.4 223.6,124.2 224.1,124.2 224.6,124.8 225.1,124.1 225.6,121.6 225.6,122.7 225.6,121.5 226.0,120.9 226.1,122.3 226.3,121.0 226.4,119.7 226.4,119.8 226.6,121.3 226.8,122.1 226.9,123.0 227.0,122.0 227.1,121.2 227.2,123.1 227.5,124.4 227.6,127.5 227.7,129.3 228.1,128.7 228.4,130.7 228.6,130.8 228.8,130.2 228.9,130.3 229.1,131.8 229.2,134.1 229.4,133.8 229.8,133.6 229.9,133.7 229.9,133.8 230.2,134.0 230.3,135.4 230.3,134.9 230.7,136.0 230.7,135.8 230.8,137.1 230.8,136.8 231.2,137.6 231.2,137.3 231.3,137.2 231.7,138.1 231.8,138.0 232.2,140.4 232.3,140.2 232.4,140.3 232.6,140.9 232.7,140.8 232.9,141.0 233.1,141.3 233.2,141.1 233.5,142.3 233.7,142.4 234.2,142.6 234.6,142.7 235.1,143.0 235.6,143.2 236.0,143.4 236.5,143.4 236.9,143.5 237.4,143.5 237.9,143.5 238.3,143.5 238.7,143.5 239.0,143.5" fill="#808080" stroke="#000" stroke-width="0.65" stroke-linejoin="round"/>
<line x1="255.4" y1="90.8" x2="255.4" y2="143.7" stroke="#aaa" stroke-width="0.5"/>
<line x1="195.6" y1="90.8" x2="195.6" y2="143.7" stroke="#222" stroke-width="0.6"/>
<line x1="195.6" y1="112" x2="255.4" y2="112" stroke="#444" stroke-width="0.6"/>
<text x="238.4" y="102.5" font-size="3.7" font-weight="normal" text-anchor="start" fill="#888">Foxp3+</text>
<text x="253.8" y="109.6" font-size="4.8" font-weight="bold" text-anchor="end" fill="#000">3,4%</text>
<line x1="175.2" y1="143.7" x2="175.2" y2="144.89999999999998" stroke="#333" stroke-width="0.5"/>
<text x="173.2" y="148.7" font-size="3.0" font-weight="normal" text-anchor="start" fill="#555">10</text>
<text x="176.5" y="147.29999999999998" font-size="2.2" font-weight="normal" text-anchor="start" fill="#555">2</text>
<line x1="199.7" y1="143.7" x2="199.7" y2="144.89999999999998" stroke="#333" stroke-width="0.5"/>
<text x="197.7" y="148.7" font-size="3.0" font-weight="normal" text-anchor="start" fill="#555">10</text>
<text x="201.0" y="147.29999999999998" font-size="2.2" font-weight="normal" text-anchor="start" fill="#555">2</text>
<line x1="224" y1="143.7" x2="224" y2="144.89999999999998" stroke="#333" stroke-width="0.5"/>
<text x="222.0" y="148.7" font-size="3.0" font-weight="normal" text-anchor="start" fill="#555">10</text>
<text x="225.3" y="147.29999999999998" font-size="2.2" font-weight="normal" text-anchor="start" fill="#555">2</text>
<line x1="247.6" y1="143.7" x2="247.6" y2="144.89999999999998" stroke="#333" stroke-width="0.5"/>
<text x="245.6" y="148.7" font-size="3.0" font-weight="normal" text-anchor="start" fill="#555">10</text>
<text x="248.9" y="147.29999999999998" font-size="2.2" font-weight="normal" text-anchor="start" fill="#555">2</text>
<line x1="161.70000000000002" y1="143.7" x2="163.3" y2="143.7" stroke="#333" stroke-width="0.5"/>
<text x="161.3" y="144.7" font-size="2.6" font-weight="normal" text-anchor="end" fill="#555">0</text>
<line x1="161.70000000000002" y1="137.6" x2="163.3" y2="137.6" stroke="#333" stroke-width="0.5"/>
<text x="161.3" y="138.6" font-size="2.6" font-weight="normal" text-anchor="end" fill="#555">5</text>
<line x1="161.70000000000002" y1="131.5" x2="163.3" y2="131.5" stroke="#333" stroke-width="0.5"/>
<text x="161.3" y="132.5" font-size="2.6" font-weight="normal" text-anchor="end" fill="#555">10</text>
<line x1="161.70000000000002" y1="125.39999999999999" x2="163.3" y2="125.39999999999999" stroke="#333" stroke-width="0.5"/>
<text x="161.3" y="126.39999999999999" font-size="2.6" font-weight="normal" text-anchor="end" fill="#555">15</text>
<line x1="161.70000000000002" y1="119.29999999999998" x2="163.3" y2="119.29999999999998" stroke="#333" stroke-width="0.5"/>
<text x="161.3" y="120.29999999999998" font-size="2.6" font-weight="normal" text-anchor="end" fill="#555">20</text>
<line x1="161.70000000000002" y1="113.19999999999999" x2="163.3" y2="113.19999999999999" stroke="#333" stroke-width="0.5"/>
<text x="161.3" y="114.19999999999999" font-size="2.6" font-weight="normal" text-anchor="end" fill="#555">25</text>
<line x1="161.70000000000002" y1="107.1" x2="163.3" y2="107.1" stroke="#333" stroke-width="0.5"/>
<text x="161.3" y="108.1" font-size="2.6" font-weight="normal" text-anchor="end" fill="#555">30</text>
<line x1="161.70000000000002" y1="101.0" x2="163.3" y2="101.0" stroke="#333" stroke-width="0.5"/>
<text x="161.3" y="102.0" font-size="2.6" font-weight="normal" text-anchor="end" fill="#555">35</text>
<line x1="161.70000000000002" y1="94.89999999999999" x2="163.3" y2="94.89999999999999" stroke="#333" stroke-width="0.5"/>
<text x="161.3" y="95.89999999999999" font-size="2.6" font-weight="normal" text-anchor="end" fill="#555">40</text>
<text x="210.5" y="152.89999999999998" font-size="3.5" font-weight="normal" text-anchor="middle" fill="#555">Foxp3 PE-A</text>
<text x="159.0" y="117.25" font-size="3.3" font-weight="normal" text-anchor="middle" fill="#555" transform="rotate(-90 159.0 117.25)">Count</text>
<rect x="368.5" y="11.2" width="58.0" height="53.599999999999994" fill="#fff" stroke="#858585" stroke-width="0.55"/>
<path d="M368.5,11.2V64.8H426.5" fill="none" stroke="#4a4a4a" stroke-width="0.6"/>
<line x1="368.5" y1="26.4" x2="426.5" y2="26.4" stroke="#8a8a8a" stroke-width="0.55"/>
<path d="M377.5,41.4 L377.8,38.4 L379.1,36.2 L382.0,34.9 L389.0,34.4 L390.9,35.2 L391.5,37.4 L391.3,50.4 L390.5,64.5 L384.7,64.5 L381.7,55.4 L379.1,47.4 Z" fill="#000"/>
<path d="M388.8 33h.5M382.1 33.25h.5m2.6 0h.5m.6 0h.5M382 33.5h.5m.1 0h.5m3.8 0h.5m1.2 0h.5m.2 0h.5m.1 0h.5M381.9 33.75h.5m-.4 0h.5m.3 0h.5m-.2 0h.5m0 0h.5m1.8 0h.5m0 0h.5m.2 0h.5m.2 0h.5m1.3 0h.5M382.1 34h.5m-.1 0h.5m1 0h.5m.1 0h.5m-.3 0h.5m-.4 0h.5m.3 0h.5m-.3 0h.5m-.2 0h.5m-.4 0h.5m-.4 0h.5m-.2 0h.5m-.3 0h.5m-.2 0h.5m-.1 0h.5m.3 0h.5M381.8 34.25h.5m-.4 0h.5m0 0h.5m.1 0h.5m-.3 0h.5m-.2 0h.5m-.2 0h.5m-.4 0h.5m-.1 0h.5m-.1 0h.5m-.3 0h.5m-.4 0h.5m-.1 0h.5m-.4 0h.5m-.2 0h.5m.4 0h.5m-.4 0h.5m-.4 0h.5m-.2 0h.5m-.1 0h.5m-.4 0h.5m.2 0h.5m-.2 0h.5m-.4 0h.5m.1 0h.5m-.4 0h.5m-.4 0h.5m-.4 0h.5m.7 0h.5M381 34.5h.5m.1 0h.5m-.4 0h.5m-.2 0h.5m0 0h.5m-.4 0h.5m-.2 0h.5m-.4 0h.5m.1 0h.5m-.1 0h.5m0 0h.5m-.3 0h.5m-.4 0h.5m-.4 0h.5m-.4 0h.5m-.2 0h.5m-.3 0h.5m-.4 0h.5m-.3 0h.5m-.3 0h.5m-.2 0h.5m-.4 0h.5m-.3 0h.5m0 0h.5m-.4 0h.5m-.4 0h.5m-.2 0h.5m-.3 0h.5m.2 0h.5m-.4 0h.5m0 0h.5m.2 0h.5m-.3 0h.5m-.3 0h.5m-.4 0h.5m-.3 0h.5m-.4 0h.5m-.4 0h.5m-.4 0h.5m-.4 0h.5m-.4 0h.5m-.3 0h.5m.4 0h.5M380.4 34.75h.5m-.1 0h.5m-.4 0h.5m-.4 0h.5m-.2 0h.5m-.3 0h.5m-.4 0h.5m-.2 0h.5m-.2 0h.5m-.4 0h.5m-.4 0h.5m0 0h.5m0 0h.5m-.1 0h.5m-.3 0h.5m-.4 0h.5m-.2 0h.5m-.4 0h.5m-.2 0h.5m-.4 0h.5m-.2 0h.5m-.2 0h.5m-.1 0h.5m-.4 0h.5m-.4 0h.5m.2 0h.5m-.3 0h.5m-.3 0h.5m.1 0h.5m.1 0h.5m-.4 0h.5m-.4 0h.5m-.4 0h.5m-.3 0h.5m.2 0h.5m-.4 0h.5m-.3 0h.5m-.2 0h.5m-.3 0h.5m-.4 0h.5m0 0h.5m-.4 0h.5m-.1 0h.5m4 0h.5M380.7 35h.5m.4 0h.5m-.4 0h.5m-.3 0h.5m-.3 0h.5m-.2 0h.5m-.4 0h.5m-.4 0h.5m-.2 0h.5m-.4 0h.5m-.4 0h.5m-.4 0h.5m-.3 0h.5m-.4 0h.5m-.2 0h.5m-.4 0h.5m-.4 0h.5m-.1 0h.5m-.3 0h.5m-.4 0h.5m-.4 0h.5m-.4 0h.5m-.2 0h.5m-.4 0h.5m-.3 0h.5m-.3 0h.5m-.4 0h.5m-.4 0h.5m-.4 0h.5m-.3 0h.5m-.3 0h.5m-.3 0h.5m-.2 0h.5m-.4 0h.5m-.2 0h.5m-.3 0h.5m-.4 0h.5m-.4 0h.5m-.4 0h.5m-.3 0h.5m-.2 0h.5m-.2 0h.5m-.4 0h.5m-.4 0h.5m-.3 0h.5m-.4 0h.5m-.2 0h.5m-.3 0h.5m-.3 0h.5m-.4 0h.5m-.4 0h.5m-.4 0h.5m-.4 0h.5m-.4 0h.5m-.3 0h.5m-.3 0h.5m-.4 0h.5m-.4 0h.5m-.4 0h.5m-.3 0h.5m-.3 0h.5M379.6 35.25h.5m.3 0h.5m-.4 0h.5m-.4 0h.5m-.4 0h.5m-.4 0h.5m-.3 0h.5m-.1 0h.5m-.4 0h.5m-.2 0h.5m-.3 0h.5m-.4 0h.5m-.4 0h.5m-.2 0h.5m-.4 0h.5m-.4 0h.5m-.4 0h.5m-.2 0h.5m-.4 0h.5m-.4 0h.5m-.3 0h.5m-.4 0h.5m-.4 0h.5m-.3 0h.5m-.1 0h.5m0 0h.5m-.4 0h.5m-.3 0h.5m-.3 0h.5m-.4 0h.5m-.3 0h.5m-.4 0h.5m-.4 0h.5m0 0h.5m-.3 0h.5m-.4 0h.5m-.4 0h.5m-.4 0h.5m-.4 0h.5m-.2 0h.5m-.4 0h.5m-.4 0h.5m.1 0h.5m-.4 0h.5m0 0h.5m-.3 0h.5m-.4 0h.5m-.3 0h.5m-.3 0h.5m-.4 0h.5m-.2 0h.5m-.4 0h.5m-.4 0h.5m-.3 0h.5m-.3 0h.5m-.4 0h.5m-.3 0h.5m-.4 0h.5m-.3 0h.5m-.4 0h.5m-.1 0h.5m.1 0h.5M374.2 35.5h.5m4.9 0h.5m-.4 0h.5m-.3 0h.5m-.3 0h.5m.1 0h.5m-.4 0h.5m-.4 0h.5m-.3 0h.5m-.3 0h.5m-.4 0h.5m.4 0h.5m2.9 0h.5m.1 0h.5m.2 0h.5m1.7 0h.5m-.4 0h.5m-.1 0h.5m-.1 0h.5m-.4 0h.5m-.4 0h.5m-.4 0h.5m-.4 0h.5m-.4 0h.5m-.2 0h.5m-.4 0h.5m-.3 0h.5m-.4 0h.5m-.4 0h.5m-.4 0h.5m-.2 0h.5M375.6 35.75h.5m14.7 0h.5m-.4 0h.5m-.2 0h.5m-.4 0h.5m-.4 0h.5m-.1 0h.5M376.9 36h.5m1.6 0h.5m-.3 0h.5m11.3 0h.5m-.4 0h.5m-.3 0h.5m0 0h.5m-.3 0h.5M373 36.25h.5m4.9 0h.5m.2 0h.5m11.2 0h.5m-.3 0h.5m-.4 0h.5m-.4 0h.5m-.3 0h.5m-.4 0h.5m-.4 0h.5m-.4 0h.5m1.6 0h.5M375.4 36.5h.5m.3 0h.5m2 0h.5m11.7 0h.5m-.4 0h.5m-.4 0h.5m-.4 0h.5m-.4 0h.5m-.3 0h.5m-.4 0h.5M373.4 36.75h.5m5.2 0h.5m11.2 0h.5m-.4 0h.5m-.1 0h.5m-.4 0h.5m-.3 0h.5m2.7 0h.5M370.8 37h.5m1.4 0h.5m-.3 0h.5m.3 0h.5m1.5 0h.5m2.8 0h.5m11.3 0h.5m-.3 0h.5m-.4 0h.5m-.4 0h.5m-.2 0h.5m-.4 0h.5m-.4 0h.5m-.2 0h.5m1.9 0h.5M371.1 37.25h.5m2.2 0h.5m1 0h.5m.8 0h.5m-.3 0h.5m-.3 0h.5m1.3 0h.5m-.3 0h.5m11.4 0h.5m-.4 0h.5m-.4 0h.5m.2 0h.5M376.2 37.5h.5m.6 0h.5m-.1 0h.5m-.2 0h.5m-.2 0h.5m12.1 0h.5m-.2 0h.5m-.4 0h.5m-.4 0h.5m-.4 0h.5M370.7 37.75h.5m2.2 0h.5m.6 0h.5m-.1 0h.5m1.3 0h.5m-.3 0h.5m.2 0h.5m.2 0h.5m-.3 0h.5m-.3 0h.5m11.6 0h.5m-.3 0h.5m-.3 0h.5m-.4 0h.5m-.3 0h.5m-.4 0h.5m-.3 0h.5M370.4 38h.5m2.5 0h.5m-.3 0h.5m.9 0h.5m-.2 0h.5m1.1 0h.5m.1 0h.5m.4 0h.5m-.4 0h.5m-.3 0h.5m-.4 0h.5m11.6 0h.5m-.2 0h.5m0 0h.5M369 38.25h.5m4.4 0h.5m-.3 0h.5m1.8 0h.5m-.2 0h.5m-.3 0h.5m1 0h.5m-.4 0h.5m-.4 0h.5m11.7 0h.5m-.4 0h.5m-.2 0h.5m.2 0h.5M369.9 38.5h.5m2.7 0h.5m2.4 0h.5m1.1 0h.5m.4 0h.5m11.8 0h.5m-.4 0h.5m-.3 0h.5m-.4 0h.5m-.2 0h.5M373.6 38.75h.5m.3 0h.5m0 0h.5m-.1 0h.5m.4 0h.5m.3 0h.5m-.2 0h.5m-.1 0h.5m-.3 0h.5m-.2 0h.5m-.4 0h.5m-.4 0h.5m-.4 0h.5m12.4 0h.5m-.4 0h.5M373.1 39h.5m1 0h.5m.5 0h.5m-.1 0h.5m.4 0h.5m-.3 0h.5m.6 0h.5m-.3 0h.5m-.4 0h.5m12 0h.5m-.3 0h.5m-.4 0h.5m2.3 0h.5M369.9 39.25h.5m3.2 0h.5m.1 0h.5m.5 0h.5m.3 0h.5m1 0h.5m-.4 0h.5m-.4 0h.5m0 0h.5m-.4 0h.5m12.2 0h.5m-.4 0h.5m-.4 0h.5m-.4 0h.5m-.4 0h.5m-.3 0h.5m.1 0h.5M374.6 39.5h.5m-.1 0h.5m-.3 0h.5m0 0h.5m-.2 0h.5m1.2 0h.5m-.1 0h.5m-.4 0h.5m-.4 0h.5m12 0h.5m-.4 0h.5m-.4 0h.5m-.3 0h.5m-.4 0h.5m-.3 0h.5m-.4 0h.5M371 39.75h.5m1.9 0h.5m.5 0h.5m-.3 0h.5m-.4 0h.5m-.2 0h.5m1.2 0h.5m-.4 0h.5m-.4 0h.5m-.3 0h.5m-.3 0h.5m-.2 0h.5m-.4 0h.5m-.2 0h.5m12.3 0h.5m-.3 0h.5m.1 0h.5M369.3 40h.5m.5 0h.5m1.3 0h.5m.9 0h.5m.8 0h.5m.5 0h.5m.4 0h.5m0 0h.5m-.1 0h.5m-.2 0h.5m-.4 0h.5m-.3 0h.5m12.1 0h.5m-.2 0h.5m-.4 0h.5m-.3 0h.5M370.6 40.25h.5m.5 0h.5m.7 0h.5m.5 0h.5m.1 0h.5m.3 0h.5m-.2 0h.5m-.1 0h.5m-.2 0h.5m-.3 0h.5m-.4 0h.5m.3 0h.5m13 0h.5m-.3 0h.5m-.2 0h.5m-.3 0h.5M369.4 40.5h.5m3.1 0h.5m.7 0h.5m-.3 0h.5m.3 0h.5m-.4 0h.5m0 0h.5m-.2 0h.5m-.1 0h.5m-.2 0h.5m0 0h.5m-.3 0h.5m-.4 0h.5m-.4 0h.5m-.4 0h.5m12.5 0h.5m-.3 0h.5m-.1 0h.5M369.3 40.75h.5m1.5 0h.5m1.7 0h.5m-.1 0h.5m.2 0h.5m1.4 0h.5m-.1 0h.5m-.4 0h.5m.1 0h.5m12.7 0h.5m-.4 0h.5m-.4 0h.5m-.4 0h.5m-.3 0h.5m-.4 0h.5m-.3 0h.5M374.7 41h.5m.5 0h.5m.2 0h.5m-.2 0h.5m.2 0h.5m-.3 0h.5m-.2 0h.5m12.4 0h.5m-.4 0h.5m-.4 0h.5m-.3 0h.5m.1 0h.5M372.7 41.25h.5m-.1 0h.5m.2 0h.5m1 0h.5m-.3 0h.5m-.3 0h.5m.2 0h.5m1.1 0h.5m12.4 0h.5m-.4 0h.5m-.4 0h.5m-.4 0h.5m1 0h.5M369.9 41.5h.5m-.4 0h.5m3.3 0h.5m.1 0h.5m.2 0h.5m.1 0h.5m.1 0h.5m.4 0h.5m-.1 0h.5m12.8 0h.5m-.3 0h.5m.3 0h.5m-.4 0h.5M370.5 41.75h.5m.4 0h.5m.8 0h.5m.6 0h.5m1 0h.5m1.7 0h.5m12.8 0h.5m-.4 0h.5m-.4 0h.5m-.3 0h.5m-.4 0h.5M369.8 42h.5m3.2 0h.5m.7 0h.5m-.2 0h.5m1.5 0h.5m-.1 0h.5m-.4 0h.5m-.4 0h.5m12.7 0h.5m-.4 0h.5m-.4 0h.5m-.4 0h.5m-.1 0h.5M370.9 42.25h.5m.3 0h.5m.8 0h.5m2.5 0h.5m-.1 0h.5m.1 0h.5m0 0h.5m-.1 0h.5m12.5 0h.5m-.4 0h.5m-.4 0h.5m-.4 0h.5m.6 0h.5M372.9 42.5h.5m-.2 0h.5m-.2 0h.5m-.2 0h.5m.7 0h.5m-.3 0h.5m0 0h.5m.4 0h.5m-.2 0h.5m.1 0h.5m.1 0h.5m12.6 0h.5m-.1 0h.5m-.1 0h.5M369.7 42.75h.5m0 0h.5m1.3 0h.5m-.3 0h.5m.1 0h.5m-.3 0h.5m-.3 0h.5m.3 0h.5m0 0h.5m.8 0h.5m-.3 0h.5m.4 0h.5m.1 0h.5m-.2 0h.5m.1 0h.5m12 0h.5m-.4 0h.5m-.2 0h.5m-.1 0h.5m-.3 0h.5M369.9 43h.5m2.2 0h.5m-.4 0h.5m.7 0h.5m.7 0h.5m-.1 0h.5m0 0h.5m-.4 0h.5m-.2 0h.5m-.4 0h.5m.1 0h.5m-.3 0h.5m-.2 0h.5m12.8 0h.5m-.4 0h.5m-.4 0h.5m-.4 0h.5m-.3 0h.5m-.2 0h.5M371.6 43.25h.5m1.5 0h.5m1 0h.5m.7 0h.5m.1 0h.5m-.2 0h.5m13.1 0h.5m-.4 0h.5m-.4 0h.5m-.4 0h.5m-.3 0h.5m-.4 0h.5m-.3 0h.5M370.2 43.5h.5m1.2 0h.5m.2 0h.5m-.1 0h.5m.8 0h.5m-.4 0h.5m.6 0h.5m.7 0h.5m-.3 0h.5m0 0h.5m-.3 0h.5m.3 0h.5m-.4 0h.5m11.9 0h.5m-.4 0h.5m-.3 0h.5m-.3 0h.5m-.4 0h.5m-.3 0h.5m-.2 0h.5M370.8 43.75h.5m1.7 0h.5m0 0h.5m.7 0h.5m1 0h.5m-.3 0h.5m-.1 0h.5m.1 0h.5m.1 0h.5m-.2 0h.5m-.4 0h.5m11.9 0h.5m-.4 0h.5m-.4 0h.5m-.4 0h.5m-.3 0h.5M371.7 44h.5m.9 0h.5m0 0h.5m-.2 0h.5m-.4 0h.5m-.1 0h.5m-.3 0h.5m-.2 0h.5m-.1 0h.5m2.5 0h.5m-.2 0h.5m11.8 0h.5m-.1 0h.5m-.3 0h.5m-.3 0h.5m-.4 0h.5m-.3 0h.5M374.2 44.25h.5m1 0h.5m-.4 0h.5m-.3 0h.5m.3 0h.5m-.1 0h.5m-.2 0h.5m0 0h.5m-.4 0h.5m-.3 0h.5m12 0h.5m-.4 0h.5m-.4 0h.5m-.4 0h.5m-.4 0h.5m-.3 0h.5m-.4 0h.5M373.4 44.5h.5m.4 0h.5m-.1 0h.5m0 0h.5m.6 0h.5m-.4 0h.5m.4 0h.5m13 0h.5m-.3 0h.5m-.3 0h.5m-.4 0h.5m-.1 0h.5m-.4 0h.5m-.3 0h.5M375.7 44.75h.5m0 0h.5m-.3 0h.5m-.1 0h.5m-.4 0h.5m-.2 0h.5m-.4 0h.5m-.3 0h.5m0 0h.5m0 0h.5m11.9 0h.5m-.4 0h.5m-.2 0h.5M373.1 45h.5m0 0h.5m.7 0h.5m-.4 0h.5m-.4 0h.5m1.1 0h.5m.4 0h.5m12.8 0h.5m-.3 0h.5m-.4 0h.5m-.4 0h.5m-.4 0h.5m-.4 0h.5m1.1 0h.5M370.8 45.25h.5m.4 0h.5m1.6 0h.5m1.3 0h.5m.9 0h.5m-.4 0h.5m-.2 0h.5m.4 0h.5m-.2 0h.5m-.3 0h.5m-.4 0h.5m11.4 0h.5m-.4 0h.5m-.4 0h.5m0 0h.5M370.6 45.5h.5m3.6 0h.5m-.1 0h.5m.3 0h.5m0 0h.5m0 0h.5m0 0h.5m-.2 0h.5m-.4 0h.5m-.2 0h.5m-.4 0h.5m-.4 0h.5m-.2 0h.5m-.4 0h.5m-.1 0h.5m11.2 0h.5m-.4 0h.5m-.4 0h.5m-.4 0h.5m-.1 0h.5m-.4 0h.5M373.8 45.75h.5m.1 0h.5m1.4 0h.5m0 0h.5m-.4 0h.5m.3 0h.5m-.3 0h.5m-.4 0h.5m-.2 0h.5m.3 0h.5m-.4 0h.5m11.2 0h.5m-.3 0h.5m-.3 0h.5M370 46h.5m.5 0h.5m-.1 0h.5m2.2 0h.5m.7 0h.5m.5 0h.5m-.1 0h.5m.4 0h.5m.3 0h.5m-.2 0h.5m-.4 0h.5m0 0h.5m11.1 0h.5m-.4 0h.5m-.4 0h.5m-.1 0h.5m-.3 0h.5m-.4 0h.5m-.3 0h.5M370.6 46.25h.5m2.3 0h.5m.6 0h.5m.2 0h.5m-.3 0h.5m.5 0h.5m.9 0h.5m-.4 0h.5m0 0h.5m11.9 0h.5m-.2 0h.5m-.3 0h.5m0 0h.5M372.3 46.5h.5m-.3 0h.5m1.4 0h.5m-.2 0h.5m.4 0h.5m-.2 0h.5m-.4 0h.5m1 0h.5m0 0h.5m-.2 0h.5m-.3 0h.5m-.1 0h.5m11.4 0h.5m-.3 0h.5m-.4 0h.5m-.3 0h.5m-.4 0h.5m-.1 0h.5M371 46.75h.5m.6 0h.5m3.1 0h.5m.9 0h.5m.6 0h.5m-.4 0h.5m-.4 0h.5m-.4 0h.5m0 0h.5m-.4 0h.5m-.4 0h.5m11.2 0h.5m-.4 0h.5m-.2 0h.5m-.3 0h.5M371.1 47h.5m.4 0h.5m3.8 0h.5m1.3 0h.5m-.4 0h.5m.5 0h.5m11.1 0h.5m-.4 0h.5m-.4 0h.5m-.3 0h.5m-.4 0h.5m.1 0h.5M370 47.25h.5m-.3 0h.5m3.1 0h.5m-.1 0h.5m1.3 0h.5m-.2 0h.5m0 0h.5m.4 0h.5m-.3 0h.5m-.3 0h.5m.1 0h.5m-.4 0h.5m11.6 0h.5m-.3 0h.5M373.4 47.5h.5m.7 0h.5m2.8 0h.5m0 0h.5m-.3 0h.5m.5 0h.5m11.1 0h.5m-.4 0h.5m.3 0h.5m.3 0h.5M372.7 47.75h.5m-.2 0h.5m1.4 0h.5m1 0h.5m.9 0h.5m12.5 0h.5m-.3 0h.5m-.4 0h.5m-.4 0h.5m-.4 0h.5m-.4 0h.5M372.5 48h.5m2.2 0h.5m0 0h.5m-.1 0h.5m.2 0h.5m.7 0h.5m-.4 0h.5m-.4 0h.5m-.3 0h.5m.2 0h.5m-.4 0h.5m11.3 0h.5m-.4 0h.5m-.1 0h.5m-.4 0h.5m.8 0h.5M372.7 48.25h.5m.1 0h.5m-.2 0h.5m.5 0h.5m.3 0h.5m1.4 0h.5m-.2 0h.5m0 0h.5m-.4 0h.5m-.4 0h.5m.1 0h.5m-.1 0h.5m0 0h.5m10.7 0h.5m-.1 0h.5m1.7 0h.5M373.8 48.5h.5m0 0h.5m2.2 0h.5m.4 0h.5m0 0h.5m-.4 0h.5m-.3 0h.5m0 0h.5m-.2 0h.5m-.1 0h.5m10.5 0h.5m-.4 0h.5m-.4 0h.5m-.4 0h.5m-.4 0h.5m-.4 0h.5m-.4 0h.5M371 48.75h.5m1.4 0h.5m1.2 0h.5m0 0h.5m-.3 0h.5m-.4 0h.5m.6 0h.5m2.3 0h.5m11 0h.5m-.4 0h.5m-.4 0h.5m-.4 0h.5M373.1 49h.5m3.2 0h.5m0 0h.5m-.4 0h.5m-.4 0h.5m.4 0h.5m.4 0h.5m-.3 0h.5m-.2 0h.5m10.5 0h.5m-.3 0h.5m-.4 0h.5m-.3 0h.5m-.3 0h.5M372.5 49.25h.5m2.1 0h.5m1.4 0h.5m.7 0h.5m-.4 0h.5m.6 0h.5m.1 0h.5m-.3 0h.5m10.2 0h.5m-.4 0h.5m-.1 0h.5m-.4 0h.5m1.8 0h.5M371 49.5h.5m3.3 0h.5m.4 0h.5m0 0h.5m1.1 0h.5m-.2 0h.5m-.4 0h.5m.2 0h.5m11.5 0h.5m-.4 0h.5m-.4 0h.5m-.4 0h.5m-.4 0h.5M371.1 49.75h.5m.8 0h.5m2.5 0h.5m1.4 0h.5m.2 0h.5m-.4 0h.5m.3 0h.5m-.2 0h.5m-.3 0h.5m-.4 0h.5m-.2 0h.5m-.2 0h.5m10.2 0h.5m-.4 0h.5m-.4 0h.5m0 0h.5m.4 0h.5M374.9 50h.5m.7 0h.5m0 0h.5m-.3 0h.5m1.4 0h.5m0 0h.5m-.1 0h.5m10.7 0h.5m-.3 0h.5m-.4 0h.5m-.4 0h.5m.4 0h.5M373.7 50.25h.5m1 0h.5m-.2 0h.5m1.2 0h.5m-.4 0h.5m.2 0h.5m.3 0h.5m.8 0h.5m-.3 0h.5m10 0h.5m-.3 0h.5m-.4 0h.5m-.4 0h.5M371.8 50.5h.5m2.6 0h.5m.4 0h.5m1.1 0h.5m.8 0h.5m11.6 0h.5m-.2 0h.5m-.3 0h.5M372.3 50.75h.5m.9 0h.5m.5 0h.5m.1 0h.5m.3 0h.5m.3 0h.5m2.6 0h.5m-.2 0h.5m10.2 0h.5M370.4 51h.5m1 0h.5m1.1 0h.5m.2 0h.5m1 0h.5m1.1 0h.5m-.3 0h.5m1.4 0h.5m.8 0h.5m9.6 0h.5m-.3 0h.5m-.3 0h.5m-.3 0h.5m-.4 0h.5m-.4 0h.5M372.9 51.25h.5m1.2 0h.5m-.2 0h.5m-.1 0h.5m2 0h.5m-.1 0h.5m0 0h.5m-.2 0h.5m-.4 0h.5m.1 0h.5m10.7 0h.5m-.4 0h.5m-.4 0h.5m-.4 0h.5m-.4 0h.5m-.3 0h.5m-.3 0h.5m.2 0h.5M370.6 51.5h.5m2.6 0h.5m2.5 0h.5m2.1 0h.5m-.1 0h.5m-.2 0h.5m-.3 0h.5m10.1 0h.5m-.4 0h.5m-.2 0h.5M373.7 51.75h.5m.5 0h.5m.8 0h.5m2.4 0h.5m.6 0h.5m-.1 0h.5m-.3 0h.5m-.4 0h.5m9.7 0h.5m-.3 0h.5m-.3 0h.5m-.4 0h.5m-.3 0h.5M374 52h.5m.8 0h.5m.1 0h.5m-.4 0h.5m-.3 0h.5m0 0h.5m0 0h.5m-.4 0h.5m0 0h.5m.3 0h.5m-.2 0h.5m-.2 0h.5m0 0h.5m.8 0h.5m9.2 0h.5m-.4 0h.5m-.4 0h.5m-.3 0h.5m-.1 0h.5m-.4 0h.5M372.4 52.25h.5m-.4 0h.5m.6 0h.5m-.1 0h.5m.4 0h.5m1.1 0h.5m-.4 0h.5m1.5 0h.5m.2 0h.5m.2 0h.5m-.4 0h.5m.3 0h.5m9.3 0h.5m-.4 0h.5m-.3 0h.5m-.3 0h.5m.4 0h.5M373.9 52.5h.5m.2 0h.5m1 0h.5m-.3 0h.5m1.1 0h.5m.3 0h.5m-.1 0h.5m0 0h.5m-.2 0h.5m0 0h.5m9.8 0h.5m-.2 0h.5m-.4 0h.5m-.2 0h.5M371.4 52.75h.5m1.8 0h.5m.6 0h.5m1 0h.5m1 0h.5m.3 0h.5m0 0h.5m.1 0h.5m.1 0h.5m-.2 0h.5m-.2 0h.5m9.3 0h.5m-.4 0h.5m-.4 0h.5m-.2 0h.5m-.4 0h.5m-.4 0h.5M373.8 53h.5m.2 0h.5m.2 0h.5m.8 0h.5m-.1 0h.5m.2 0h.5m.2 0h.5m-.1 0h.5m.1 0h.5m.2 0h.5m-.3 0h.5m-.1 0h.5m-.3 0h.5m-.2 0h.5m9.1 0h.5m-.4 0h.5m-.4 0h.5m-.4 0h.5m-.4 0h.5m-.4 0h.5M370.4 53.25h.5m5.3 0h.5m.6 0h.5m-.3 0h.5m.4 0h.5m.3 0h.5m.3 0h.5m.7 0h.5m-.2 0h.5m8.7 0h.5m-.3 0h.5m-.4 0h.5M375.8 53.5h.5m0 0h.5m-.1 0h.5m-.2 0h.5m.7 0h.5m.2 0h.5m.1 0h.5m.8 0h.5m-.4 0h.5m9.3 0h.5m-.4 0h.5m-.4 0h.5m-.1 0h.5m-.4 0h.5m-.2 0h.5m3.5 0h.5M376 53.75h.5m.4 0h.5m0 0h.5m.6 0h.5m-.4 0h.5m.7 0h.5m.4 0h.5m.1 0h.5m-.2 0h.5m8.5 0h.5m-.4 0h.5m-.4 0h.5m-.4 0h.5m-.4 0h.5m-.4 0h.5m-.3 0h.5m.8 0h.5M370.8 54h.5m3.2 0h.5m4 0h.5m.4 0h.5m-.3 0h.5m-.1 0h.5m.4 0h.5m-.4 0h.5m-.2 0h.5m8.3 0h.5m-.4 0h.5m-.4 0h.5m-.4 0h.5m-.4 0h.5m-.4 0h.5M374.9 54.25h.5m-.4 0h.5m.3 0h.5m.7 0h.5m.3 0h.5m.2 0h.5m-.3 0h.5m-.2 0h.5m-.4 0h.5m-.2 0h.5m.5 0h.5m-.2 0h.5m-.1 0h.5m-.3 0h.5m-.3 0h.5m-.2 0h.5m8.5 0h.5m-.4 0h.5m-.4 0h.5m-.4 0h.5m-.2 0h.5m.5 0h.5M376.8 54.5h.5m.1 0h.5m0 0h.5m.1 0h.5m-.3 0h.5m-.3 0h.5m1.5 0h.5m-.2 0h.5m9 0h.5m-.4 0h.5m-.4 0h.5m.1 0h.5M371.2 54.75h.5m.1 0h.5m4.4 0h.5m.5 0h.5m.2 0h.5m1.2 0h.5m-.2 0h.5m-.2 0h.5m-.4 0h.5m-.4 0h.5m-.1 0h.5m-.2 0h.5m8.8 0h.5M373 55h.5m2.2 0h.5m.9 0h.5m-.1 0h.5m1.3 0h.5m0 0h.5m-.2 0h.5m.2 0h.5m-.3 0h.5m.1 0h.5m8.5 0h.5m-.4 0h.5m-.4 0h.5m-.2 0h.5M371.2 55.25h.5m-.3 0h.5m2 0h.5m2.3 0h.5m.7 0h.5m-.1 0h.5m-.1 0h.5m.6 0h.5m.3 0h.5m.4 0h.5m-.3 0h.5m0 0h.5m7.9 0h.5m.1 0h.5M372.8 55.5h.5m1.9 0h.5m2.5 0h.5m1.4 0h.5m-.2 0h.5m.8 0h.5m.1 0h.5m7.7 0h.5m-.4 0h.5m-.4 0h.5m-.4 0h.5m-.3 0h.5M373.1 55.75h.5m1 0h.5m1.1 0h.5m0 0h.5m.6 0h.5m-.3 0h.5m1.2 0h.5m.8 0h.5m.1 0h.5m-.4 0h.5m-.1 0h.5m-.3 0h.5m7.8 0h.5m-.1 0h.5m-.2 0h.5m-.2 0h.5m.2 0h.5M374.2 56h.5m1 0h.5m.6 0h.5m-.1 0h.5m-.4 0h.5m.8 0h.5m0 0h.5m.1 0h.5m.4 0h.5m-.4 0h.5m-.3 0h.5m-.4 0h.5m9 0h.5m-.3 0h.5m-.3 0h.5m-.4 0h.5M375.5 56.25h.5m.3 0h.5m1.1 0h.5m-.2 0h.5m1.4 0h.5m.6 0h.5m-.2 0h.5m.3 0h.5m-.4 0h.5m7.6 0h.5m-.4 0h.5m-.3 0h.5m.4 0h.5M374.1 56.5h.5m1.6 0h.5m-.3 0h.5m0 0h.5m.3 0h.5m-.4 0h.5m.4 0h.5m.5 0h.5m.2 0h.5m.1 0h.5m-.2 0h.5m8.7 0h.5m-.3 0h.5m-.2 0h.5M374.5 56.75h.5m1.8 0h.5m1.1 0h.5m-.1 0h.5m1.8 0h.5m.2 0h.5m-.4 0h.5m-.4 0h.5m-.2 0h.5m7.7 0h.5m-.4 0h.5m-.4 0h.5m-.4 0h.5M374.4 57h.5m.6 0h.5m.3 0h.5m-.3 0h.5m.2 0h.5m0 0h.5m.1 0h.5m-.1 0h.5m0 0h.5m-.3 0h.5m-.3 0h.5m.9 0h.5m-.3 0h.5m-.2 0h.5m0 0h.5m-.4 0h.5m7.8 0h.5m-.4 0h.5m-.2 0h.5m-.4 0h.5M378.7 57.25h.5m.1 0h.5m.2 0h.5m-.1 0h.5m-.4 0h.5m-.3 0h.5m.7 0h.5m0 0h.5m7.5 0h.5m-.4 0h.5m-.4 0h.5m-.4 0h.5m-.4 0h.5m-.2 0h.5m-.2 0h.5m-.3 0h.5m3.6 0h.5M372.8 57.5h.5m3.6 0h.5m2.2 0h.5m1.4 0h.5m-.4 0h.5m-.2 0h.5m.5 0h.5m7.1 0h.5m-.4 0h.5m-.2 0h.5m-.2 0h.5m-.4 0h.5m.3 0h.5M373.9 57.75h.5m1.3 0h.5m.1 0h.5m-.1 0h.5m.4 0h.5m1 0h.5m.7 0h.5m-.4 0h.5m.2 0h.5m.5 0h.5m-.4 0h.5m-.1 0h.5m-.4 0h.5m7.2 0h.5m-.4 0h.5m-.3 0h.5m-.4 0h.5M372.2 58h.5m.5 0h.5m3 0h.5m1.3 0h.5m-.3 0h.5m-.4 0h.5m.1 0h.5m0 0h.5m.2 0h.5m.4 0h.5m.3 0h.5m-.4 0h.5m7.5 0h.5m-.4 0h.5m-.3 0h.5m-.4 0h.5m-.3 0h.5m.1 0h.5m1.7 0h.5m-.3 0h.5M375.1 58.25h.5m1.4 0h.5m.6 0h.5m.8 0h.5m0 0h.5m-.2 0h.5m-.1 0h.5m-.4 0h.5m-.3 0h.5m-.1 0h.5m.6 0h.5m7.6 0h.5m-.4 0h.5m-.3 0h.5m-.4 0h.5m-.2 0h.5M371.3 58.5h.5m4.6 0h.5m1.7 0h.5m1.7 0h.5m.2 0h.5m.9 0h.5m7 0h.5M374.2 58.75h.5m.5 0h.5m0 0h.5m1.5 0h.5m2.4 0h.5m.3 0h.5m-.2 0h.5m-.2 0h.5m-.2 0h.5m-.4 0h.5m7.5 0h.5m-.4 0h.5m0 0h.5M377.7 59h.5m-.3 0h.5m.1 0h.5m-.2 0h.5m1.8 0h.5m-.3 0h.5m-.1 0h.5m-.3 0h.5m0 0h.5m.1 0h.5m-.3 0h.5m-.3 0h.5m6.7 0h.5m-.4 0h.5m-.4 0h.5m-.4 0h.5m1.2 0h.5M373.3 59.25h.5m.3 0h.5m.3 0h.5m3.6 0h.5m-.4 0h.5m-.1 0h.5m.1 0h.5m.1 0h.5m.5 0h.5m0 0h.5m-.2 0h.5m-.4 0h.5m0 0h.5m7.1 0h.5m-.4 0h.5m-.4 0h.5m-.4 0h.5M376 59.5h.5m1.2 0h.5m.2 0h.5m.5 0h.5m.1 0h.5m-.1 0h.5m-.4 0h.5m-.3 0h.5m.2 0h.5m-.3 0h.5m-.4 0h.5m-.4 0h.5m-.1 0h.5m-.3 0h.5m-.2 0h.5m-.1 0h.5m-.2 0h.5m6.5 0h.5m-.4 0h.5m-.4 0h.5m-.4 0h.5m-.2 0h.5m.2 0h.5M375.7 59.75h.5m1.6 0h.5m-.3 0h.5m1.6 0h.5m-.4 0h.5m-.3 0h.5m.7 0h.5m-.3 0h.5m-.4 0h.5m1.1 0h.5m6.6 0h.5m-.2 0h.5m-.1 0h.5m-.3 0h.5m.7 0h.5M374.6 60h.5m2.5 0h.5m-.3 0h.5m.8 0h.5m-.2 0h.5m-.1 0h.5m-.1 0h.5m-.4 0h.5m1.1 0h.5m.8 0h.5m6.6 0h.5m-.3 0h.5m-.4 0h.5m-.4 0h.5m-.4 0h.5m-.4 0h.5M374.2 60.25h.5m.9 0h.5m2 0h.5m.6 0h.5m-.3 0h.5m0 0h.5m.6 0h.5m-.3 0h.5m.3 0h.5m-.4 0h.5m.2 0h.5m-.3 0h.5m0 0h.5m-.3 0h.5m6.1 0h.5m-.4 0h.5m-.4 0h.5m-.4 0h.5M370.4 60.5h.5m2.7 0h.5m3.5 0h.5m1.7 0h.5m-.2 0h.5m0 0h.5m-.3 0h.5m-.2 0h.5m-.4 0h.5m-.1 0h.5m.9 0h.5m6.8 0h.5m-.3 0h.5m-.4 0h.5m-.4 0h.5m-.4 0h.5m-.4 0h.5m-.2 0h.5M372.9 60.75h.5m2.1 0h.5m-.3 0h.5m-.3 0h.5m2.3 0h.5m.1 0h.5m-.2 0h.5m-.4 0h.5m.1 0h.5m.3 0h.5m.5 0h.5m.1 0h.5m.3 0h.5m-.3 0h.5m6 0h.5m-.4 0h.5m-.3 0h.5m.2 0h.5M372.8 61h.5m.7 0h.5m1.7 0h.5m1.2 0h.5m-.3 0h.5m0 0h.5m.8 0h.5m-.4 0h.5m-.2 0h.5m.5 0h.5m.3 0h.5m-.1 0h.5m-.2 0h.5m.6 0h.5m5.9 0h.5m-.3 0h.5m-.4 0h.5M377.2 61.25h.5m1 0h.5m2.8 0h.5m-.3 0h.5m1.4 0h.5m5.6 0h.5m-.4 0h.5m-.2 0h.5m-.4 0h.5m-.3 0h.5m-.4 0h.5m.1 0h.5m-.1 0h.5M373.4 61.5h.5m.1 0h.5m1.4 0h.5m.1 0h.5m.4 0h.5m1.1 0h.5m1.6 0h.5m.5 0h.5m-.2 0h.5m-.1 0h.5m-.2 0h.5m-.4 0h.5m-.2 0h.5m-.4 0h.5m-.4 0h.5m.1 0h.5m5.5 0h.5m-.3 0h.5M376.6 61.75h.5m.6 0h.5m.9 0h.5m-.2 0h.5m.4 0h.5m.1 0h.5m-.3 0h.5m.8 0h.5m-.1 0h.5m-.4 0h.5m-.3 0h.5m.1 0h.5m-.4 0h.5m-.2 0h.5m5.8 0h.5m-.2 0h.5m-.1 0h.5M376.5 62h.5m1.4 0h.5m1.5 0h.5m-.2 0h.5m-.2 0h.5m-.3 0h.5m.1 0h.5m0 0h.5m-.4 0h.5m-.3 0h.5m-.4 0h.5m-.4 0h.5m-.1 0h.5m-.4 0h.5m-.4 0h.5m.3 0h.5m5.5 0h.5m-.4 0h.5m-.1 0h.5m-.4 0h.5m1.6 0h.5M374.4 62.25h.5m.9 0h.5m1.8 0h.5m.7 0h.5m1.5 0h.5m.1 0h.5m0 0h.5m-.4 0h.5m-.1 0h.5m.8 0h.5m5.4 0h.5m-.4 0h.5m-.4 0h.5m.1 0h.5m.6 0h.5M376.1 62.5h.5m.1 0h.5m-.4 0h.5m.3 0h.5m1.1 0h.5m.1 0h.5m.9 0h.5m-.4 0h.5m.2 0h.5m-.1 0h.5m-.4 0h.5m.3 0h.5m-.2 0h.5m-.3 0h.5m-.4 0h.5m-.3 0h.5m-.1 0h.5m5.2 0h.5m-.2 0h.5m-.4 0h.5m-.4 0h.5m-.2 0h.5M374.5 62.75h.5m1.1 0h.5m-.4 0h.5m1.4 0h.5m2.1 0h.5m-.4 0h.5m1.4 0h.5m-.3 0h.5m.4 0h.5m-.3 0h.5m-.4 0h.5m5.6 0h.5m-.4 0h.5m-.4 0h.5m-.4 0h.5M373.3 63h.5m4.1 0h.5m1.5 0h.5m-.3 0h.5m.7 0h.5m-.4 0h.5m-.2 0h.5m-.2 0h.5m-.3 0h.5m0 0h.5m.3 0h.5m-.3 0h.5m-.1 0h.5m-.4 0h.5m-.1 0h.5m5.1 0h.5m-.3 0h.5m-.3 0h.5m1.1 0h.5M375.4 63.25h.5m2.1 0h.5m-.1 0h.5m-.3 0h.5m1.8 0h.5m-.3 0h.5m.1 0h.5m-.3 0h.5m.2 0h.5m0 0h.5m-.1 0h.5m-.3 0h.5m0 0h.5m-.4 0h.5m-.4 0h.5m-.3 0h.5m5.1 0h.5m0 0h.5m-.4 0h.5m.2 0h.5M378.2 63.5h.5m.4 0h.5m.5 0h.5m.2 0h.5m-.1 0h.5m-.3 0h.5m2.6 0h.5m-.4 0h.5m5 0h.5m-.3 0h.5m-.4 0h.5M375.9 63.75h.5m.2 0h.5m1.7 0h.5m-.2 0h.5m1.5 0h.5m.1 0h.5m-.3 0h.5m-.4 0h.5m-.4 0h.5m1.1 0h.5m-.1 0h.5m.3 0h.5m4.7 0h.5m-.4 0h.5m-.4 0h.5m-.4 0h.5m-.2 0h.5m-.3 0h.5m.3 0h.5M377.5 64h.5m.9 0h.5m-.1 0h.5m-.2 0h.5m1.9 0h.5m1.5 0h.5m-.4 0h.5m-.4 0h.5m.3 0h.5m4.8 0h.5m-.4 0h.5m-.3 0h.5m-.4 0h.5m-.4 0h.5M373.8 64.25h.5m4 0h.5m1.7 0h.5m1.4 0h.5m.3 0h.5m.2 0h.5m-.3 0h.5m-.1 0h.5m-.4 0h.5m5 0h.5m-.4 0h.5m-.1 0h.5m-.4 0h.5m-.3 0h.5m-.2 0h.5m-.3 0h.5m.3 0h.5M381.6 64.5h.5m1.3 0h.5m6.7 0h.5m-.4 0h.5" stroke="#000" stroke-width="0.5" fill="none" opacity="1.0"/>
<rect x="392.95" y="27.65" width="29.899999999999988" height="19.900000000000002" fill="none" stroke="#a4a4a4" stroke-width="1.3"/>
<text x="411.7" y="33.8" font-size="3.0" font-weight="normal" text-anchor="start" fill="#666">IgG1</text>
<line x1="375.2" y1="64.8" x2="375.2" y2="66.0" stroke="#333" stroke-width="0.5"/>
<text x="373.2" y="69.8" font-size="3.0" font-weight="normal" text-anchor="start" fill="#555">10</text>
<text x="376.5" y="68.39999999999999" font-size="2.2" font-weight="normal" text-anchor="start" fill="#555">2</text>
<line x1="390.9" y1="64.8" x2="390.9" y2="66.0" stroke="#333" stroke-width="0.5"/>
<text x="388.9" y="69.8" font-size="3.0" font-weight="normal" text-anchor="start" fill="#555">10</text>
<text x="392.2" y="68.39999999999999" font-size="2.2" font-weight="normal" text-anchor="start" fill="#555">2</text>
<line x1="405.5" y1="64.8" x2="405.5" y2="66.0" stroke="#333" stroke-width="0.5"/>
<text x="403.5" y="69.8" font-size="3.0" font-weight="normal" text-anchor="start" fill="#555">10</text>
<text x="406.8" y="68.39999999999999" font-size="2.2" font-weight="normal" text-anchor="start" fill="#555">2</text>
<line x1="419.5" y1="64.8" x2="419.5" y2="66.0" stroke="#333" stroke-width="0.5"/>
<text x="417.5" y="69.8" font-size="3.0" font-weight="normal" text-anchor="start" fill="#555">10</text>
<text x="420.8" y="68.39999999999999" font-size="2.2" font-weight="normal" text-anchor="start" fill="#555">2</text>
<line x1="367.3" y1="16.9" x2="368.5" y2="16.9" stroke="#333" stroke-width="0.5"/>
<text x="362.9" y="18.5" font-size="3.0" font-weight="normal" text-anchor="start" fill="#555">10</text>
<text x="366.0" y="17.0" font-size="2.2" font-weight="normal" text-anchor="start" fill="#555">2</text>
<line x1="367.3" y1="30.2" x2="368.5" y2="30.2" stroke="#333" stroke-width="0.5"/>
<text x="362.9" y="31.8" font-size="3.0" font-weight="normal" text-anchor="start" fill="#555">10</text>
<text x="366.0" y="30.3" font-size="2.2" font-weight="normal" text-anchor="start" fill="#555">2</text>
<line x1="367.3" y1="43.5" x2="368.5" y2="43.5" stroke="#333" stroke-width="0.5"/>
<text x="362.9" y="45.1" font-size="3.0" font-weight="normal" text-anchor="start" fill="#555">10</text>
<text x="366.0" y="43.6" font-size="2.2" font-weight="normal" text-anchor="start" fill="#555">2</text>
<line x1="367.3" y1="56.8" x2="368.5" y2="56.8" stroke="#333" stroke-width="0.5"/>
<text x="362.9" y="58.4" font-size="3.0" font-weight="normal" text-anchor="start" fill="#555">10</text>
<text x="366.0" y="56.9" font-size="2.2" font-weight="normal" text-anchor="start" fill="#555">2</text>
<text x="397.5" y="74.5" font-size="3.5" font-weight="normal" text-anchor="middle" fill="#555">IgG1 FITC-A</text>
<text x="360.8" y="38.0" font-size="3.5" font-weight="normal" text-anchor="middle" fill="#555" transform="rotate(-90 360.8 38.0)">CD4 PerCP-A</text>
<rect x="439.4" y="11.2" width="57.400000000000034" height="53.599999999999994" fill="#fff" stroke="#858585" stroke-width="0.55"/>
<path d="M439.4,11.2V64.8H496.8" fill="none" stroke="#4a4a4a" stroke-width="0.6"/>
<line x1="439.4" y1="26.4" x2="463.2" y2="26.4" stroke="#8a8a8a" stroke-width="0.55"/>
<path d="M439.7,36.4 L455.9,35.599999999999994 Q457.9,35.8 457.9,38.8 L457.29999999999995,45.8 L453.5,64.5 L439.7,64.5 Z" fill="#000"/>
<path d="M450.3 34.25h.5M449.6 34.5h.5M442.7 34.75h.5m1 0h.5m1.9 0h.5m1.6 0h.5m1.9 0h.5m.6 0h.5M446.8 35h.5m-.1 0h.5m1.1 0h.5m.5 0h.5m.4 0h.5m0 0h.5m3.1 0h.5m2.1 0h.5M440.4 35.25h.5m1.1 0h.5m.4 0h.5m-.2 0h.5m0 0h.5m-.3 0h.5m2.1 0h.5m-.2 0h.5m-.2 0h.5m1.9 0h.5m-.4 0h.5m.2 0h.5m.2 0h.5m-.1 0h.5m1 0h.5m.2 0h.5m-.4 0h.5m-.4 0h.5m1.9 0h.5M440.6 35.5h.5m-.3 0h.5m-.4 0h.5m.1 0h.5m-.4 0h.5m-.3 0h.5m-.1 0h.5m-.4 0h.5m-.3 0h.5m-.2 0h.5m0 0h.5m.3 0h.5m-.2 0h.5m0 0h.5m0 0h.5m.1 0h.5m-.1 0h.5m-.1 0h.5m-.4 0h.5m.3 0h.5m-.2 0h.5m.3 0h.5m-.4 0h.5m-.1 0h.5m.5 0h.5m-.4 0h.5m-.3 0h.5m-.1 0h.5m0 0h.5m-.2 0h.5m-.4 0h.5m.3 0h.5m-.2 0h.5m-.3 0h.5m-.4 0h.5m-.2 0h.5m-.4 0h.5m-.4 0h.5m0 0h.5m.4 0h.5m0 0h.5m.6 0h.5m.3 0h.5M439.9 35.75h.5m-.3 0h.5m-.4 0h.5m0 0h.5m-.4 0h.5m.3 0h.5m.2 0h.5m.4 0h.5m-.4 0h.5m-.3 0h.5m-.3 0h.5m.4 0h.5m-.2 0h.5m-.4 0h.5m-.4 0h.5m.1 0h.5m-.4 0h.5m-.2 0h.5m-.3 0h.5m-.4 0h.5m-.2 0h.5m-.2 0h.5m-.2 0h.5m-.2 0h.5m-.4 0h.5m-.3 0h.5m-.2 0h.5m-.4 0h.5m-.4 0h.5m-.4 0h.5m0 0h.5m-.3 0h.5m-.4 0h.5m.1 0h.5m-.2 0h.5m-.2 0h.5m-.2 0h.5m-.3 0h.5m-.3 0h.5m-.4 0h.5m-.2 0h.5m-.2 0h.5m-.4 0h.5m1.1 0h.5m-.3 0h.5m.5 0h.5m-.4 0h.5m-.2 0h.5m-.4 0h.5m0 0h.5m-.3 0h.5m-.4 0h.5m-.4 0h.5m.2 0h.5m-.4 0h.5m-.4 0h.5m-.4 0h.5m-.4 0h.5m-.4 0h.5m-.4 0h.5m-.4 0h.5m-.4 0h.5m-.4 0h.5m0 0h.5m-.2 0h.5M439.9 36h.5m-.2 0h.5m-.4 0h.5m-.4 0h.5m-.3 0h.5m-.4 0h.5m-.4 0h.5m-.3 0h.5m-.3 0h.5m-.4 0h.5m-.4 0h.5m-.3 0h.5m-.2 0h.5m-.3 0h.5m-.4 0h.5m-.4 0h.5m-.4 0h.5m-.4 0h.5m-.4 0h.5m-.4 0h.5m0 0h.5m-.3 0h.5m-.1 0h.5m-.4 0h.5m-.3 0h.5m-.3 0h.5m-.4 0h.5m-.4 0h.5m-.4 0h.5m-.4 0h.5m-.3 0h.5m-.4 0h.5m-.4 0h.5m.1 0h.5m0 0h.5m-.3 0h.5m.8 0h.5m-.4 0h.5m-.3 0h.5m0 0h.5m-.3 0h.5m-.3 0h.5m.1 0h.5m-.1 0h.5m-.3 0h.5m-.4 0h.5m-.4 0h.5m-.4 0h.5m0 0h.5m-.2 0h.5m-.3 0h.5m-.3 0h.5m-.3 0h.5m-.4 0h.5m.1 0h.5m-.4 0h.5m-.4 0h.5m-.1 0h.5m-.2 0h.5m-.4 0h.5m-.2 0h.5m-.3 0h.5m0 0h.5m0 0h.5m-.1 0h.5m-.1 0h.5m-.1 0h.5m-.4 0h.5m.1 0h.5m-.4 0h.5m-.4 0h.5m-.4 0h.5m-.3 0h.5m-.4 0h.5m-.4 0h.5m-.4 0h.5m-.4 0h.5m-.4 0h.5m-.4 0h.5m-.4 0h.5m-.3 0h.5M439.7 36.25h.5m-.4 0h.5m-.4 0h.5m-.4 0h.5m-.4 0h.5m-.4 0h.5m-.4 0h.5m-.4 0h.5m-.4 0h.5m-.3 0h.5m-.3 0h.5m-.4 0h.5m-.4 0h.5m-.4 0h.5m-.4 0h.5m-.4 0h.5m-.4 0h.5m-.4 0h.5m-.4 0h.5m-.4 0h.5m-.4 0h.5m-.4 0h.5m-.2 0h.5m-.3 0h.5m-.4 0h.5m-.4 0h.5m-.3 0h.5m-.1 0h.5m-.4 0h.5m-.4 0h.5m-.4 0h.5m-.4 0h.5m-.3 0h.5m-.4 0h.5m-.4 0h.5m-.4 0h.5m-.3 0h.5m-.4 0h.5m-.2 0h.5m-.4 0h.5m-.4 0h.5m-.4 0h.5m-.4 0h.5m-.4 0h.5m-.4 0h.5m-.4 0h.5m-.3 0h.5m-.3 0h.5m-.4 0h.5m-.4 0h.5m-.3 0h.5m-.3 0h.5m-.2 0h.5m-.2 0h.5m-.2 0h.5m-.4 0h.5m-.4 0h.5m-.4 0h.5m-.4 0h.5m-.3 0h.5m-.4 0h.5m-.3 0h.5m-.3 0h.5m-.4 0h.5m.6 0h.5m-.4 0h.5m-.3 0h.5m-.4 0h.5m-.3 0h.5m-.4 0h.5m-.4 0h.5m-.4 0h.5m.2 0h.5m-.3 0h.5m-.4 0h.5m-.2 0h.5m-.2 0h.5m-.2 0h.5m-.4 0h.5m-.4 0h.5m-.1 0h.5m-.1 0h.5m-.1 0h.5m-.4 0h.5m-.3 0h.5m-.4 0h.5m-.3 0h.5m-.4 0h.5m-.4 0h.5m-.4 0h.5m-.4 0h.5m-.4 0h.5m-.3 0h.5m-.3 0h.5m-.3 0h.5m0 0h.5m-.3 0h.5m-.4 0h.5m-.1 0h.5m-.4 0h.5m-.4 0h.5m-.4 0h.5m-.4 0h.5m-.4 0h.5m-.4 0h.5m-.4 0h.5m-.4 0h.5m-.3 0h.5m-.4 0h.5m-.4 0h.5m-.4 0h.5m-.4 0h.5m-.1 0h.5m.1 0h.5M439.9 36.5h.5m-.2 0h.5m-.3 0h.5m-.4 0h.5m-.4 0h.5m-.1 0h.5m-.2 0h.5m-.1 0h.5m-.4 0h.5m-.4 0h.5m-.2 0h.5m-.3 0h.5m-.3 0h.5m-.4 0h.5m-.3 0h.5m-.4 0h.5m-.4 0h.5m-.4 0h.5m-.4 0h.5m-.4 0h.5m-.4 0h.5m-.4 0h.5m-.4 0h.5m-.2 0h.5m0 0h.5m-.4 0h.5m-.4 0h.5m-.3 0h.5m-.4 0h.5m-.4 0h.5m-.2 0h.5m-.4 0h.5m-.4 0h.5m-.4 0h.5m-.4 0h.5m-.4 0h.5m-.4 0h.5m-.4 0h.5m-.4 0h.5m-.4 0h.5m-.2 0h.5m-.3 0h.5m-.4 0h.5m-.4 0h.5m-.4 0h.5m-.4 0h.5m-.4 0h.5m-.2 0h.5m-.4 0h.5m-.1 0h.5m-.2 0h.5m-.4 0h.5m-.2 0h.5m.1 0h.5m-.4 0h.5m-.1 0h.5m-.4 0h.5m-.4 0h.5m-.4 0h.5m-.4 0h.5m-.3 0h.5m-.4 0h.5m-.4 0h.5m-.4 0h.5m-.2 0h.5m-.4 0h.5m-.4 0h.5m-.4 0h.5m-.2 0h.5m-.2 0h.5m-.4 0h.5m-.4 0h.5m-.4 0h.5m-.3 0h.5m-.3 0h.5m-.3 0h.5m-.4 0h.5m-.3 0h.5m-.4 0h.5m-.3 0h.5m-.3 0h.5m-.1 0h.5m-.3 0h.5m-.4 0h.5m-.4 0h.5m-.4 0h.5m-.3 0h.5m-.4 0h.5m-.4 0h.5m-.3 0h.5m-.3 0h.5m-.4 0h.5m-.4 0h.5m-.3 0h.5m-.1 0h.5m-.4 0h.5m-.4 0h.5m-.3 0h.5m-.4 0h.5m-.2 0h.5m-.4 0h.5m-.4 0h.5m-.4 0h.5m-.4 0h.5m-.4 0h.5m-.4 0h.5m-.4 0h.5m-.4 0h.5m-.4 0h.5m-.4 0h.5m-.4 0h.5m-.2 0h.5m-.3 0h.5M439.9 36.75h.5m-.4 0h.5m-.4 0h.5m-.4 0h.5m.1 0h.5m-.3 0h.5m-.4 0h.5m-.4 0h.5m-.4 0h.5m-.4 0h.5m-.3 0h.5m-.3 0h.5m.1 0h.5m-.2 0h.5m-.3 0h.5m-.3 0h.5m-.4 0h.5m-.2 0h.5m-.4 0h.5m-.1 0h.5m-.3 0h.5m-.4 0h.5m-.3 0h.5m-.2 0h.5m-.4 0h.5m-.4 0h.5m-.4 0h.5m-.4 0h.5m-.4 0h.5m-.4 0h.5m-.4 0h.5m-.2 0h.5m-.4 0h.5m-.4 0h.5m-.4 0h.5m-.2 0h.5m-.4 0h.5m-.3 0h.5m-.3 0h.5m-.4 0h.5m-.3 0h.5m-.4 0h.5m-.3 0h.5m0 0h.5m.1 0h.5m-.2 0h.5m-.2 0h.5m-.4 0h.5m0 0h.5m-.2 0h.5m-.4 0h.5m-.4 0h.5m-.3 0h.5m-.3 0h.5m-.3 0h.5m-.3 0h.5m-.4 0h.5m-.4 0h.5m-.2 0h.5m-.4 0h.5m-.2 0h.5m-.4 0h.5m-.2 0h.5m-.4 0h.5m-.4 0h.5m-.4 0h.5m-.1 0h.5m-.4 0h.5m-.4 0h.5m-.4 0h.5m-.3 0h.5m-.2 0h.5m-.2 0h.5m-.3 0h.5m-.3 0h.5m-.3 0h.5m-.3 0h.5m-.4 0h.5m0 0h.5m-.4 0h.5m-.1 0h.5m-.4 0h.5m-.3 0h.5m-.3 0h.5m-.1 0h.5m-.4 0h.5m-.4 0h.5m-.4 0h.5m-.4 0h.5m-.4 0h.5m-.4 0h.5m-.4 0h.5m-.4 0h.5m-.4 0h.5m-.1 0h.5M457 37h.5m-.3 0h.5m0 0h.5m-.4 0h.5m-.3 0h.5m-.2 0h.5m-.3 0h.5M457.4 37.25h.5m-.3 0h.5m-.4 0h.5m-.4 0h.5m.2 0h.5M457.3 37.5h.5m-.4 0h.5m-.4 0h.5m-.4 0h.5m-.3 0h.5m-.4 0h.5m-.2 0h.5m-.4 0h.5m-.3 0h.5m-.4 0h.5m-.1 0h.5M457.2 37.75h.5m-.4 0h.5m-.2 0h.5m-.3 0h.5m-.4 0h.5m-.4 0h.5m.7 0h.5m-.4 0h.5m0 0h.5M457.3 38h.5m-.4 0h.5m-.3 0h.5m-.4 0h.5m-.3 0h.5m-.3 0h.5m0 0h.5m-.3 0h.5m-.4 0h.5M457.3 38.25h.5m-.3 0h.5m-.3 0h.5m-.4 0h.5m-.1 0h.5m-.4 0h.5m-.4 0h.5m-.4 0h.5m-.3 0h.5M457.2 38.5h.5m-.4 0h.5m-.1 0h.5m-.3 0h.5m-.1 0h.5m-.3 0h.5m-.4 0h.5m-.1 0h.5M457.3 38.75h.5m-.3 0h.5m-.4 0h.5m-.3 0h.5m-.4 0h.5m-.3 0h.5m-.4 0h.5m0 0h.5M457.2 39h.5m-.4 0h.5m-.3 0h.5m-.3 0h.5m-.4 0h.5m-.4 0h.5m-.4 0h.5m-.3 0h.5m0 0h.5m-.4 0h.5m.6 0h.5M457.2 39.25h.5m-.4 0h.5m-.3 0h.5m-.4 0h.5m0 0h.5m-.4 0h.5m-.4 0h.5m-.4 0h.5M457.3 39.5h.5m-.4 0h.5m-.3 0h.5m-.4 0h.5m-.4 0h.5m-.4 0h.5m-.3 0h.5m-.2 0h.5m-.1 0h.5M457.2 39.75h.5m-.4 0h.5m-.2 0h.5m-.3 0h.5m-.2 0h.5m-.3 0h.5m-.3 0h.5m-.1 0h.5M457.4 40h.5m-.4 0h.5m-.4 0h.5m-.4 0h.5m-.1 0h.5m.2 0h.5m-.4 0h.5M457.2 40.25h.5m-.3 0h.5m-.3 0h.5m-.4 0h.5m-.4 0h.5m-.4 0h.5m-.3 0h.5m-.4 0h.5m0 0h.5m-.4 0h.5M457.2 40.5h.5m-.4 0h.5m-.4 0h.5m-.4 0h.5m-.3 0h.5m-.4 0h.5m0 0h.5m-.2 0h.5m0 0h.5M458 40.75h.5m-.4 0h.5m-.4 0h.5m-.4 0h.5m-.4 0h.5m-.1 0h.5m0 0h.5M457.3 41h.5m-.4 0h.5m-.4 0h.5m-.4 0h.5m-.2 0h.5m-.4 0h.5m-.4 0h.5m-.4 0h.5m-.3 0h.5m-.2 0h.5M457.3 41.25h.5m-.2 0h.5m-.4 0h.5m-.3 0h.5m-.4 0h.5m-.4 0h.5M457.2 41.5h.5m-.3 0h.5m-.4 0h.5m-.4 0h.5m-.4 0h.5m-.4 0h.5m.1 0h.5m-.4 0h.5M457.3 41.75h.5m-.4 0h.5m-.4 0h.5m-.4 0h.5m-.3 0h.5m-.4 0h.5m-.4 0h.5m-.4 0h.5m-.2 0h.5m-.3 0h.5M457.2 42h.5m-.4 0h.5m-.4 0h.5m-.4 0h.5m-.4 0h.5m-.3 0h.5m1.1 0h.5M457.4 42.25h.5m-.4 0h.5m-.4 0h.5m-.4 0h.5m-.4 0h.5m-.3 0h.5m-.4 0h.5m-.2 0h.5m-.4 0h.5m-.1 0h.5M457.3 42.5h.5m-.4 0h.5m-.4 0h.5m-.4 0h.5m-.4 0h.5m-.3 0h.5m-.4 0h.5m-.2 0h.5m-.4 0h.5m.6 0h.5M457.3 42.75h.5m-.3 0h.5m-.1 0h.5m-.4 0h.5m-.2 0h.5m-.3 0h.5m-.2 0h.5M457.3 43h.5m-.4 0h.5m-.4 0h.5m-.4 0h.5m-.4 0h.5m-.4 0h.5m-.4 0h.5m-.4 0h.5m-.3 0h.5m.4 0h.5m-.4 0h.5M457.2 43.25h.5m-.4 0h.5m-.4 0h.5m-.4 0h.5m-.4 0h.5m-.4 0h.5m-.3 0h.5m-.4 0h.5m-.2 0h.5m-.4 0h.5m.1 0h.5m-.2 0h.5M457.3 43.5h.5m-.2 0h.5m-.4 0h.5m-.4 0h.5m-.4 0h.5m-.4 0h.5m-.3 0h.5m-.4 0h.5m.6 0h.5M457.3 43.75h.5m-.3 0h.5m-.4 0h.5m-.3 0h.5m-.1 0h.5M457.2 44h.5m-.4 0h.5m-.3 0h.5m-.3 0h.5m-.4 0h.5m-.4 0h.5m-.3 0h.5m-.1 0h.5M457.3 44.25h.5m-.4 0h.5m-.4 0h.5m-.4 0h.5m-.3 0h.5m-.4 0h.5m-.4 0h.5M457.2 44.5h.5m-.4 0h.5m-.4 0h.5m-.3 0h.5m-.4 0h.5m-.4 0h.5m-.4 0h.5m-.3 0h.5M457.2 44.75h.5m-.4 0h.5m-.4 0h.5m-.4 0h.5m-.3 0h.5m-.4 0h.5m-.3 0h.5m-.3 0h.5m-.4 0h.5m-.2 0h.5M457.3 45h.5m-.4 0h.5m-.4 0h.5m-.4 0h.5m-.4 0h.5m-.4 0h.5m-.4 0h.5m-.3 0h.5M457.2 45.25h.5m-.3 0h.5m-.4 0h.5m-.3 0h.5m-.4 0h.5m-.4 0h.5m-.4 0h.5m-.4 0h.5m-.4 0h.5m.6 0h.5M457.2 45.5h.5m-.4 0h.5m-.4 0h.5m-.3 0h.5m-.3 0h.5m-.3 0h.5m-.4 0h.5m-.3 0h.5M456.7 45.75h.5m-.4 0h.5m-.3 0h.5m.1 0h.5m-.4 0h.5m-.3 0h.5m-.4 0h.5m-.2 0h.5m-.3 0h.5m-.4 0h.5m-.2 0h.5M456.7 46h.5m-.4 0h.5m-.4 0h.5m.1 0h.5m.4 0h.5M456.6 46.25h.5m-.4 0h.5m-.3 0h.5m0 0h.5m-.3 0h.5m-.4 0h.5m-.4 0h.5m-.1 0h.5m-.4 0h.5M456.6 46.5h.5m-.3 0h.5m-.4 0h.5m-.4 0h.5m-.4 0h.5m-.2 0h.5m-.3 0h.5m-.3 0h.5m-.2 0h.5m-.1 0h.5m-.2 0h.5M456.5 46.75h.5m-.3 0h.5m-.4 0h.5m-.3 0h.5m-.2 0h.5m-.4 0h.5m.1 0h.5m-.4 0h.5M456.5 47h.5m-.4 0h.5m-.3 0h.5m-.4 0h.5m-.3 0h.5m-.4 0h.5m-.3 0h.5m-.3 0h.5M456.6 47.25h.5m-.3 0h.5m-.3 0h.5m-.3 0h.5m-.2 0h.5m-.2 0h.5m-.4 0h.5M456.5 47.5h.5m-.2 0h.5m-.3 0h.5m-.4 0h.5m-.4 0h.5m-.3 0h.5m-.4 0h.5m-.1 0h.5M456.6 47.75h.5m-.4 0h.5m-.4 0h.5m-.4 0h.5m-.4 0h.5m-.3 0h.5m-.3 0h.5m-.4 0h.5m.1 0h.5M456.4 48h.5m-.4 0h.5m-.4 0h.5m-.4 0h.5m-.3 0h.5m-.3 0h.5m-.3 0h.5m.1 0h.5m-.3 0h.5m-.2 0h.5M456.2 48.25h.5m-.4 0h.5m-.3 0h.5m-.4 0h.5m-.4 0h.5m-.3 0h.5m-.3 0h.5m-.2 0h.5m-.2 0h.5M456.2 48.5h.5m-.3 0h.5m-.3 0h.5m-.3 0h.5m-.1 0h.5m.5 0h.5M456.1 48.75h.5m-.4 0h.5m-.4 0h.5m-.4 0h.5m-.3 0h.5m-.4 0h.5m-.3 0h.5m-.4 0h.5m-.1 0h.5m-.4 0h.5m.3 0h.5M456.1 49h.5m-.4 0h.5m-.4 0h.5m-.4 0h.5m-.4 0h.5m-.4 0h.5m-.2 0h.5m-.4 0h.5m-.4 0h.5m-.3 0h.5m-.2 0h.5m-.2 0h.5M456 49.25h.5m-.4 0h.5m-.4 0h.5m-.4 0h.5m-.4 0h.5m-.4 0h.5m-.3 0h.5m-.2 0h.5m-.1 0h.5M456 49.5h.5m-.4 0h.5m-.2 0h.5m-.1 0h.5m-.4 0h.5m-.4 0h.5M455.9 49.75h.5m-.4 0h.5m-.4 0h.5m-.4 0h.5m-.4 0h.5m-.4 0h.5m-.4 0h.5m0 0h.5m0 0h.5m.4 0h.5M455.9 50h.5m-.2 0h.5m-.4 0h.5m-.4 0h.5m-.3 0h.5m-.4 0h.5m.1 0h.5m-.2 0h.5M455.8 50.25h.5m-.4 0h.5m-.4 0h.5m-.3 0h.5m.2 0h.5m-.1 0h.5m1 0h.5M455.8 50.5h.5m-.3 0h.5m-.2 0h.5m-.3 0h.5m-.4 0h.5m-.3 0h.5m-.3 0h.5m-.2 0h.5M455.8 50.75h.5m-.4 0h.5m-.4 0h.5m-.4 0h.5m-.4 0h.5m-.3 0h.5m0 0h.5m-.4 0h.5m-.2 0h.5m-.2 0h.5m-.4 0h.5M455.7 51h.5m-.4 0h.5m-.3 0h.5m-.4 0h.5m-.3 0h.5m-.3 0h.5M455.6 51.25h.5m-.4 0h.5m-.3 0h.5m-.4 0h.5m-.3 0h.5m-.4 0h.5m-.4 0h.5m-.3 0h.5m-.2 0h.5m-.3 0h.5m-.4 0h.5m-.3 0h.5M455.7 51.5h.5m-.4 0h.5m-.4 0h.5m-.4 0h.5m-.4 0h.5m-.4 0h.5m-.4 0h.5m-.1 0h.5m.1 0h.5m-.4 0h.5M455.5 51.75h.5m-.4 0h.5m-.4 0h.5m-.4 0h.5m0 0h.5m-.4 0h.5m-.4 0h.5M455.5 52h.5m-.2 0h.5m-.3 0h.5m-.4 0h.5m0 0h.5m-.4 0h.5m-.3 0h.5M455.5 52.25h.5m-.3 0h.5m-.3 0h.5m-.4 0h.5m-.3 0h.5m-.4 0h.5m.5 0h.5m.1 0h.5m-.4 0h.5M455.4 52.5h.5m-.4 0h.5m-.4 0h.5m-.4 0h.5m-.3 0h.5m-.4 0h.5m-.3 0h.5m-.4 0h.5m-.2 0h.5m-.1 0h.5m-.4 0h.5m-.2 0h.5M455.3 52.75h.5m-.4 0h.5m-.4 0h.5m-.2 0h.5m-.4 0h.5m-.1 0h.5m-.1 0h.5M455.3 53h.5m-.4 0h.5m-.4 0h.5m-.3 0h.5m-.4 0h.5m.3 0h.5m-.3 0h.5M455.2 53.25h.5m-.3 0h.5m-.4 0h.5m-.4 0h.5m-.4 0h.5m-.4 0h.5m-.3 0h.5m-.4 0h.5m-.4 0h.5m-.3 0h.5m-.4 0h.5M455.3 53.5h.5m-.4 0h.5m-.3 0h.5m-.4 0h.5m-.3 0h.5m-.3 0h.5m-.1 0h.5M455.1 53.75h.5m-.4 0h.5m-.3 0h.5m-.4 0h.5m-.4 0h.5m-.4 0h.5m.1 0h.5m0 0h.5m.2 0h.5M455.1 54h.5m-.4 0h.5m-.4 0h.5m-.4 0h.5m0 0h.5m-.4 0h.5m-.2 0h.5m-.4 0h.5M455 54.25h.5m-.3 0h.5m-.4 0h.5m-.3 0h.5m-.4 0h.5m-.4 0h.5m-.4 0h.5m-.2 0h.5M455.1 54.5h.5m-.4 0h.5m-.3 0h.5m-.4 0h.5m-.4 0h.5m-.4 0h.5m-.2 0h.5m-.1 0h.5M454.9 54.75h.5m-.4 0h.5m-.4 0h.5m-.3 0h.5m-.3 0h.5m-.2 0h.5m-.3 0h.5m-.1 0h.5m-.4 0h.5m-.2 0h.5M454.8 55h.5m-.4 0h.5m-.3 0h.5m-.3 0h.5m-.4 0h.5m-.4 0h.5m-.4 0h.5m-.3 0h.5m-.1 0h.5m-.1 0h.5m-.1 0h.5M455.2 55.25h.5m-.4 0h.5m-.4 0h.5m-.4 0h.5m-.3 0h.5m-.3 0h.5m-.2 0h.5M454.8 55.5h.5m-.4 0h.5m-.3 0h.5m-.2 0h.5m-.2 0h.5m0 0h.5m-.4 0h.5M454.7 55.75h.5m-.4 0h.5m-.4 0h.5m-.4 0h.5m-.4 0h.5m-.4 0h.5m-.4 0h.5m-.4 0h.5m-.3 0h.5m-.4 0h.5M454.7 56h.5m-.4 0h.5m-.4 0h.5m-.4 0h.5m-.4 0h.5m-.3 0h.5m-.2 0h.5m-.4 0h.5m-.4 0h.5m.3 0h.5m-.4 0h.5M454.7 56.25h.5m-.4 0h.5m-.2 0h.5m-.2 0h.5m-.4 0h.5m-.3 0h.5m-.4 0h.5M454.5 56.5h.5m-.4 0h.5m-.4 0h.5m.2 0h.5m-.4 0h.5m-.3 0h.5m-.2 0h.5m.4 0h.5M454.6 56.75h.5m-.2 0h.5m-.4 0h.5m-.3 0h.5m-.3 0h.5m-.4 0h.5m-.3 0h.5m-.2 0h.5m-.4 0h.5m-.2 0h.5m-.3 0h.5M454.5 57h.5m-.4 0h.5m-.4 0h.5m-.4 0h.5m-.1 0h.5m-.4 0h.5m-.4 0h.5m0 0h.5m-.4 0h.5M454.4 57.25h.5m-.4 0h.5m-.4 0h.5m-.1 0h.5m-.4 0h.5m-.3 0h.5m-.4 0h.5m.4 0h.5m-.4 0h.5M454.3 57.5h.5m-.4 0h.5m-.4 0h.5m-.4 0h.5m.1 0h.5m-.2 0h.5m-.4 0h.5m-.3 0h.5M454.3 57.75h.5m-.3 0h.5m-.3 0h.5m-.1 0h.5m-.4 0h.5m-.3 0h.5m-.4 0h.5m-.3 0h.5m-.3 0h.5M454.3 58h.5m-.4 0h.5m-.4 0h.5m-.3 0h.5m-.4 0h.5m-.4 0h.5m-.2 0h.5m-.4 0h.5m-.3 0h.5M454.2 58.25h.5m-.4 0h.5m-.4 0h.5m-.4 0h.5m-.4 0h.5m-.3 0h.5m-.4 0h.5m-.2 0h.5m-.2 0h.5m-.2 0h.5m-.3 0h.5m-.3 0h.5M454.2 58.5h.5m-.4 0h.5m-.3 0h.5m-.2 0h.5m-.4 0h.5m-.3 0h.5m-.2 0h.5m-.2 0h.5M454.1 58.75h.5m-.4 0h.5m-.3 0h.5m-.4 0h.5m-.4 0h.5m-.4 0h.5m-.3 0h.5m-.4 0h.5m-.4 0h.5m.5 0h.5M454 59h.5m-.4 0h.5m-.4 0h.5m-.4 0h.5m-.3 0h.5m-.3 0h.5m-.3 0h.5m-.2 0h.5m-.3 0h.5M454.1 59.25h.5m-.4 0h.5m-.4 0h.5m-.3 0h.5m-.4 0h.5m-.4 0h.5m-.3 0h.5m1.4 0h.5M454 59.5h.5m-.3 0h.5m-.4 0h.5m-.4 0h.5m-.3 0h.5m-.2 0h.5m-.3 0h.5M453.9 59.75h.5m-.1 0h.5m-.2 0h.5m-.4 0h.5m-.4 0h.5m-.3 0h.5m-.4 0h.5m.4 0h.5M454.3 60h.5m-.4 0h.5m-.4 0h.5m-.3 0h.5m-.4 0h.5M453.8 60.25h.5m-.4 0h.5m-.4 0h.5m-.4 0h.5m-.3 0h.5m-.4 0h.5m-.4 0h.5m0 0h.5m-.4 0h.5m-.3 0h.5m-.2 0h.5m.3 0h.5M453.7 60.5h.5m-.4 0h.5m-.4 0h.5m-.4 0h.5m-.4 0h.5m-.4 0h.5m-.4 0h.5m-.2 0h.5m-.2 0h.5M453.7 60.75h.5m-.4 0h.5m-.2 0h.5m-.4 0h.5m-.4 0h.5M453.7 61h.5m-.4 0h.5m-.4 0h.5m-.4 0h.5m-.4 0h.5m-.4 0h.5m-.3 0h.5m-.4 0h.5m0 0h.5m-.4 0h.5M453.6 61.25h.5m-.4 0h.5m-.4 0h.5m-.4 0h.5m-.4 0h.5m-.4 0h.5m-.4 0h.5m-.4 0h.5m-.4 0h.5m-.4 0h.5m-.4 0h.5m-.1 0h.5M453.6 61.5h.5m-.4 0h.5m-.2 0h.5m-.3 0h.5m0 0h.5m-.4 0h.5m-.3 0h.5m-.2 0h.5M453.5 61.75h.5m-.4 0h.5m-.4 0h.5m-.4 0h.5m-.3 0h.5m-.3 0h.5m-.3 0h.5m-.2 0h.5M453.6 62h.5m-.3 0h.5m-.3 0h.5m-.4 0h.5m-.4 0h.5m-.4 0h.5m-.2 0h.5M453.4 62.25h.5m-.2 0h.5m-.3 0h.5m-.3 0h.5m-.4 0h.5m-.3 0h.5m-.2 0h.5M453.6 62.5h.5m-.2 0h.5m-.4 0h.5m.2 0h.5M453.3 62.75h.5m-.4 0h.5m-.4 0h.5m-.4 0h.5m-.4 0h.5m-.4 0h.5m-.4 0h.5m1 0h.5M453.3 63h.5m.1 0h.5m-.4 0h.5m-.2 0h.5m-.3 0h.5m-.2 0h.5M453.2 63.25h.5m-.4 0h.5m-.4 0h.5m-.2 0h.5m-.4 0h.5m-.4 0h.5m-.4 0h.5m-.4 0h.5m-.4 0h.5M453.2 63.5h.5m-.1 0h.5m-.4 0h.5m-.3 0h.5m0 0h.5M453.1 63.75h.5m-.4 0h.5m-.4 0h.5m-.4 0h.5m-.4 0h.5m-.3 0h.5m.1 0h.5m-.4 0h.5M453.1 64h.5m-.4 0h.5m-.3 0h.5m-.4 0h.5m-.4 0h.5m-.4 0h.5m-.3 0h.5m-.4 0h.5m-.1 0h.5M453.7 64.25h.5m-.2 0h.5m-.2 0h.5M452.9 64.5h.5m-.1 0h.5m-.1 0h.5m-.2 0h.5" stroke="#000" stroke-width="0.5" fill="none" opacity="1.0"/>
<path d="M459.3 36h.5m-.2 0h.5m-.3 0h.5m1.8 0h.5m1.2 0h.5M461.1 36.25h.5m1.5 0h.5m.9 0h.5M458.9 36.5h.5m-.4 0h.5m2 0h.5m12.5 0h.5M459.9 36.75h.5m2.5 0h.5m1.1 0h.5M459.5 37.25h.5M461.8 37.75h.5m3.3 0h.5m.5 0h.5m1.7 0h.5M465.9 38h.5M458.6 38.25h.5m8 0h.5M462.5 38.5h.5m1.4 0h.5m1.3 0h.5m.5 0h.5m.3 0h.5M458.2 39h.5m.7 0h.5m.7 0h.5m10.2 0h.5M461 39.25h.5m.5 0h.5m1.5 0h.5M460.7 39.5h.5m3.1 0h.5m-.2 0h.5m7.9 0h.5m1 0h.5M458.5 39.75h.5m1.6 0h.5m1.9 0h.5m-.4 0h.5m1.3 0h.5m1.7 0h.5M459.6 40h.5m.4 0h.5M460.2 40.25h.5m-.4 0h.5m3 0h.5m.2 0h.5M459.3 40.5h.5m.2 0h.5m-.1 0h.5m.3 0h.5m.2 0h.5m1.8 0h.5m3.4 0h.5M460.1 40.75h.5m9.5 0h.5M458.1 41h.5m10.6 0h.5m6.2 0h.5M458.9 41.25h.5m.3 0h.5m-.4 0h.5m1.6 0h.5m.9 0h.5m3.3 0h.5M459.4 41.5h.5m.6 0h.5m1.5 0h.5m6.8 0h.5m.9 0h.5M465 41.75h.5m2.5 0h.5M458.9 42h.5m.3 0h.5m2.1 0h.5m7.4 0h.5M459.9 42.25h.5m1 0h.5M458.5 42.5h.5m-.2 0h.5m0 0h.5m2.3 0h.5m1.3 0h.5M459.1 42.75h.5m9.2 0h.5m9.6 0h.5M461 43h.5m2.5 0h.5m1.4 0h.5M458.4 43.25h.5M458.4 43.5h.5m.2 0h.5M471.3 43.75h.5M465.5 44h.5M461.4 44.25h.5m10.4 0h.5M460.7 44.5h.5M458.5 45h.5M458.4 45.5h.5M458.4 45.75h.5m11.4 0h.5M461.1 46h.5M458.5 46.25h.5M459.4 47h.5M459.3 47.75h.5M458.6 48h.5m8.6 0h.5M462.9 48.25h.5M472.3 49h.5" stroke="#222" stroke-width="0.5" fill="none" opacity="1.0"/>
<rect x="463.84999999999997" y="27.65" width="29.799999999999965" height="19.900000000000002" fill="none" stroke="#a4a4a4" stroke-width="1.3"/>
<text x="481.7" y="33.4" font-size="3.2" font-weight="normal" text-anchor="start" fill="#888">IL-17A</text>
<text x="493.2" y="46.0" font-size="5.0" font-weight="bold" text-anchor="end" fill="#000">0,2%</text>
<line x1="446.09999999999997" y1="64.8" x2="446.09999999999997" y2="66.0" stroke="#333" stroke-width="0.5"/>
<text x="444.09999999999997" y="69.8" font-size="3.0" font-weight="normal" text-anchor="start" fill="#555">10</text>
<text x="447.4" y="68.39999999999999" font-size="2.2" font-weight="normal" text-anchor="start" fill="#555">2</text>
<line x1="461.79999999999995" y1="64.8" x2="461.79999999999995" y2="66.0" stroke="#333" stroke-width="0.5"/>
<text x="459.79999999999995" y="69.8" font-size="3.0" font-weight="normal" text-anchor="start" fill="#555">10</text>
<text x="463.09999999999997" y="68.39999999999999" font-size="2.2" font-weight="normal" text-anchor="start" fill="#555">2</text>
<line x1="476.4" y1="64.8" x2="476.4" y2="66.0" stroke="#333" stroke-width="0.5"/>
<text x="474.4" y="69.8" font-size="3.0" font-weight="normal" text-anchor="start" fill="#555">10</text>
<text x="477.7" y="68.39999999999999" font-size="2.2" font-weight="normal" text-anchor="start" fill="#555">2</text>
<line x1="490.4" y1="64.8" x2="490.4" y2="66.0" stroke="#333" stroke-width="0.5"/>
<text x="488.4" y="69.8" font-size="3.0" font-weight="normal" text-anchor="start" fill="#555">10</text>
<text x="491.7" y="68.39999999999999" font-size="2.2" font-weight="normal" text-anchor="start" fill="#555">2</text>
<line x1="438.2" y1="16.9" x2="439.4" y2="16.9" stroke="#333" stroke-width="0.5"/>
<text x="433.79999999999995" y="18.5" font-size="3.0" font-weight="normal" text-anchor="start" fill="#555">10</text>
<text x="436.9" y="17.0" font-size="2.2" font-weight="normal" text-anchor="start" fill="#555">2</text>
<line x1="438.2" y1="30.2" x2="439.4" y2="30.2" stroke="#333" stroke-width="0.5"/>
<text x="433.79999999999995" y="31.8" font-size="3.0" font-weight="normal" text-anchor="start" fill="#555">10</text>
<text x="436.9" y="30.3" font-size="2.2" font-weight="normal" text-anchor="start" fill="#555">2</text>
<line x1="438.2" y1="43.5" x2="439.4" y2="43.5" stroke="#333" stroke-width="0.5"/>
<text x="433.79999999999995" y="45.1" font-size="3.0" font-weight="normal" text-anchor="start" fill="#555">10</text>
<text x="436.9" y="43.6" font-size="2.2" font-weight="normal" text-anchor="start" fill="#555">2</text>
<line x1="438.2" y1="56.8" x2="439.4" y2="56.8" stroke="#333" stroke-width="0.5"/>
<text x="433.79999999999995" y="58.4" font-size="3.0" font-weight="normal" text-anchor="start" fill="#555">10</text>
<text x="436.9" y="56.9" font-size="2.2" font-weight="normal" text-anchor="start" fill="#555">2</text>
<text x="468.4" y="74.5" font-size="3.5" font-weight="normal" text-anchor="middle" fill="#555">IL-17A FITC-A</text>
<text x="431.7" y="38.0" font-size="3.5" font-weight="normal" text-anchor="middle" fill="#555" transform="rotate(-90 431.7 38.0)">CD4 PerCP-A</text>
<rect x="368.5" y="90.5" width="58.0" height="53.69999999999999" fill="#fff" stroke="#858585" stroke-width="0.55"/>
<path d="M368.5,90.5V144.2H426.5" fill="none" stroke="#4a4a4a" stroke-width="0.6"/>
<line x1="368.5" y1="105.7" x2="426.5" y2="105.7" stroke="#8a8a8a" stroke-width="0.55"/>
<path d="M374.5,121.7 L374.8,118.7 L376.1,116.5 L379.0,115.2 L389.0,114.7 L390.9,115.5 L391.5,117.7 L391.3,130.7 L390.5,143.9 L381.7,143.9 L378.7,135.7 L376.1,127.7 Z" fill="#000"/>
<path d="M386 112.75h.5M379.5 113.5h.5m5.1 0h.5M388.1 113.75h.5m.6 0h.5m-.4 0h.5m.1 0h.5M379 114h.5m1.4 0h.5m.7 0h.5m.7 0h.5m.4 0h.5m4.1 0h.5M378 114.25h.5m1.6 0h.5m.2 0h.5m-.3 0h.5m-.1 0h.5m1.7 0h.5m1 0h.5m.1 0h.5m-.4 0h.5m-.1 0h.5m.1 0h.5m-.3 0h.5m.5 0h.5m-.3 0h.5m.3 0h.5m-.2 0h.5m.1 0h.5M378.6 114.5h.5m.5 0h.5m-.1 0h.5m0 0h.5m.2 0h.5m-.3 0h.5m.8 0h.5m-.4 0h.5m-.2 0h.5m-.2 0h.5m-.3 0h.5m.2 0h.5m-.3 0h.5m-.2 0h.5m.1 0h.5m0 0h.5m-.4 0h.5m.2 0h.5m-.2 0h.5m-.3 0h.5m-.2 0h.5m-.2 0h.5m.7 0h.5M377.6 114.75h.5m-.3 0h.5m-.1 0h.5m-.4 0h.5m.6 0h.5m-.1 0h.5m.1 0h.5m-.3 0h.5m.1 0h.5m-.4 0h.5m-.4 0h.5m0 0h.5m-.3 0h.5m-.2 0h.5m-.3 0h.5m.2 0h.5m-.2 0h.5m.4 0h.5m0 0h.5m-.1 0h.5m-.1 0h.5m-.4 0h.5m-.4 0h.5m-.4 0h.5m-.4 0h.5m-.4 0h.5m-.3 0h.5m-.4 0h.5m-.2 0h.5m-.3 0h.5m-.2 0h.5m-.4 0h.5m-.3 0h.5m0 0h.5m-.4 0h.5m-.4 0h.5m-.1 0h.5m-.3 0h.5m-.3 0h.5m-.3 0h.5m-.3 0h.5m-.4 0h.5m-.3 0h.5m-.3 0h.5m.1 0h.5m-.3 0h.5m-.3 0h.5m-.2 0h.5M377 115h.5m-.1 0h.5m0 0h.5m-.4 0h.5m-.2 0h.5m-.3 0h.5m-.3 0h.5m-.4 0h.5m0 0h.5m-.3 0h.5m-.2 0h.5m-.3 0h.5m-.1 0h.5m-.3 0h.5m-.3 0h.5m-.4 0h.5m-.2 0h.5m.1 0h.5m-.4 0h.5m.3 0h.5m-.4 0h.5m-.2 0h.5m0 0h.5m-.4 0h.5m-.1 0h.5m-.3 0h.5m-.2 0h.5m-.4 0h.5m-.2 0h.5m-.4 0h.5m-.3 0h.5m-.4 0h.5m-.4 0h.5m-.3 0h.5m-.3 0h.5m-.4 0h.5m.1 0h.5m.3 0h.5m.3 0h.5m-.4 0h.5m-.4 0h.5m-.4 0h.5m-.3 0h.5m-.3 0h.5m-.4 0h.5m0 0h.5m-.3 0h.5m-.4 0h.5m-.4 0h.5m-.4 0h.5m-.2 0h.5m-.1 0h.5m-.3 0h.5m-.4 0h.5m-.3 0h.5m-.4 0h.5m-.4 0h.5m-.4 0h.5M377.4 115.25h.5m-.4 0h.5m-.2 0h.5m-.4 0h.5m-.1 0h.5m.1 0h.5m-.4 0h.5m-.4 0h.5m-.2 0h.5m-.4 0h.5m-.4 0h.5m-.4 0h.5m-.4 0h.5m-.2 0h.5m-.3 0h.5m-.4 0h.5m-.1 0h.5m-.3 0h.5m-.1 0h.5m-.4 0h.5m-.4 0h.5m-.3 0h.5m-.4 0h.5m-.4 0h.5m-.3 0h.5m-.4 0h.5m-.4 0h.5m-.1 0h.5m.1 0h.5m.4 0h.5m.1 0h.5m-.4 0h.5m-.4 0h.5m-.1 0h.5m-.4 0h.5m-.3 0h.5m-.2 0h.5m-.4 0h.5m.2 0h.5m-.4 0h.5m-.3 0h.5m-.4 0h.5m-.4 0h.5m-.3 0h.5m-.4 0h.5m-.2 0h.5m-.4 0h.5m-.4 0h.5m-.4 0h.5m-.4 0h.5m-.4 0h.5m-.4 0h.5m-.1 0h.5m-.4 0h.5m-.4 0h.5m-.3 0h.5m-.3 0h.5m-.4 0h.5m-.3 0h.5m-.4 0h.5m-.3 0h.5m-.4 0h.5m-.3 0h.5m-.3 0h.5m-.4 0h.5m-.4 0h.5m-.3 0h.5m-.3 0h.5m-.3 0h.5m1.4 0h.5M377.1 115.5h.5m.2 0h.5m-.4 0h.5m-.3 0h.5m-.4 0h.5m-.3 0h.5m-.4 0h.5m-.4 0h.5m-.4 0h.5m-.4 0h.5m-.4 0h.5m-.4 0h.5m-.3 0h.5m-.4 0h.5m-.4 0h.5m-.4 0h.5m-.4 0h.5m-.4 0h.5m-.1 0h.5m-.4 0h.5m-.4 0h.5m-.3 0h.5m-.3 0h.5m-.3 0h.5m-.4 0h.5m-.4 0h.5m-.2 0h.5m-.4 0h.5m-.4 0h.5m-.4 0h.5m-.4 0h.5m-.3 0h.5m-.4 0h.5m-.4 0h.5m-.3 0h.5m-.2 0h.5m-.4 0h.5m-.4 0h.5m0 0h.5m.1 0h.5m-.3 0h.5m-.2 0h.5m-.3 0h.5m-.2 0h.5m-.3 0h.5m.1 0h.5m-.3 0h.5m-.4 0h.5m-.4 0h.5m-.4 0h.5m-.3 0h.5m-.4 0h.5m-.4 0h.5m-.3 0h.5m-.3 0h.5m-.2 0h.5m-.4 0h.5m-.4 0h.5m-.4 0h.5m-.3 0h.5m-.3 0h.5m-.4 0h.5m-.4 0h.5m-.4 0h.5m-.1 0h.5m-.4 0h.5m-.4 0h.5m-.3 0h.5m-.1 0h.5m-.4 0h.5m-.2 0h.5m-.3 0h.5m-.3 0h.5m-.4 0h.5m-.3 0h.5m-.4 0h.5m-.4 0h.5m-.4 0h.5m.3 0h.5M371.7 115.75h.5m4.9 0h.5m-.1 0h.5m-.4 0h.5m-.4 0h.5m-.4 0h.5m-.1 0h.5m-.2 0h.5m-.4 0h.5m0 0h.5m-.3 0h.5m-.4 0h.5m.2 0h.5m-.1 0h.5m.4 0h.5m-.3 0h.5m-.2 0h.5m-.1 0h.5m-.4 0h.5m.2 0h.5m.3 0h.5m-.3 0h.5m0 0h.5m1 0h.5m.8 0h.5m-.1 0h.5m-.1 0h.5m-.4 0h.5m-.2 0h.5m0 0h.5m0 0h.5m.4 0h.5m-.3 0h.5m-.3 0h.5m-.4 0h.5m-.4 0h.5m-.4 0h.5m-.4 0h.5m-.4 0h.5m-.3 0h.5M369.2 116h.5m.8 0h.5m2.3 0h.5m1.7 0h.5m14.8 0h.5m-.4 0h.5m-.4 0h.5m-.4 0h.5m-.4 0h.5m-.4 0h.5m-.4 0h.5M371.6 116.25h.5m4.2 0h.5m14.1 0h.5m-.4 0h.5m-.2 0h.5m-.1 0h.5M374.1 116.5h.5m1.4 0h.5m14.3 0h.5m-.4 0h.5m-.4 0h.5m-.4 0h.5m-.3 0h.5m-.4 0h.5m-.3 0h.5M371.9 116.75h.5m1.6 0h.5m1.5 0h.5m14.3 0h.5m-.4 0h.5m-.4 0h.5m-.4 0h.5M369.6 117h.5m2.9 0h.5m2.5 0h.5m14.3 0h.5m-.4 0h.5m-.4 0h.5m-.3 0h.5m-.4 0h.5m-.2 0h.5m0 0h.5M370.9 117.25h.5m1 0h.5m.4 0h.5m2.1 0h.5m-.3 0h.5m14.2 0h.5m-.4 0h.5m-.3 0h.5m-.4 0h.5m-.2 0h.5M370.2 117.5h.5m2.5 0h.5m-.3 0h.5m2 0h.5m14.4 0h.5m-.4 0h.5m-.3 0h.5m-.2 0h.5m-.4 0h.5M369.9 117.75h.5m1.8 0h.5m-.3 0h.5m.5 0h.5m-.4 0h.5m0 0h.5m1 0h.5m-.3 0h.5m14.9 0h.5m-.3 0h.5m-.1 0h.5M371.8 118h.5m1.4 0h.5m1 0h.5m-.2 0h.5m14.9 0h.5m-.3 0h.5m-.3 0h.5m-.2 0h.5M369.4 118.25h.5m2.3 0h.5m0 0h.5m.3 0h.5m-.2 0h.5m-.1 0h.5m-.2 0h.5m-.4 0h.5m-.4 0h.5m.3 0h.5m-.4 0h.5m-.4 0h.5m14.6 0h.5m-.4 0h.5m-.4 0h.5m-.4 0h.5m.1 0h.5M369.1 118.5h.5m.3 0h.5m-.3 0h.5m-.3 0h.5m.8 0h.5m1.3 0h.5m.8 0h.5m-.4 0h.5m-.2 0h.5m-.1 0h.5m-.4 0h.5m-.4 0h.5m14.7 0h.5m-.4 0h.5m-.4 0h.5m.1 0h.5m-.2 0h.5m.9 0h.5M370.1 118.75h.5m.1 0h.5m-.3 0h.5m1.2 0h.5m-.4 0h.5m1.8 0h.5m-.4 0h.5m15.2 0h.5m-.4 0h.5m-.4 0h.5m-.3 0h.5m-.4 0h.5m-.2 0h.5M371.8 119h.5m1.1 0h.5m0 0h.5m.1 0h.5m-.1 0h.5m0 0h.5m14.9 0h.5m-.1 0h.5M369.6 119.25h.5m.1 0h.5m.5 0h.5m.1 0h.5m.3 0h.5m.3 0h.5m.1 0h.5m0 0h.5m.1 0h.5m15.2 0h.5m-.4 0h.5m-.4 0h.5m-.4 0h.5M369.2 119.5h.5m-.4 0h.5m-.2 0h.5m1.3 0h.5m.3 0h.5m.5 0h.5m1.1 0h.5m-.4 0h.5m-.3 0h.5m-.4 0h.5m-.3 0h.5m14.9 0h.5m-.3 0h.5m-.1 0h.5M369.3 119.75h.5m.2 0h.5m.2 0h.5m-.4 0h.5m.7 0h.5m.1 0h.5m-.3 0h.5m-.3 0h.5m-.3 0h.5m.1 0h.5m-.3 0h.5m-.4 0h.5m0 0h.5m-.3 0h.5m15.5 0h.5m-.4 0h.5m-.4 0h.5m-.2 0h.5m-.2 0h.5m-.3 0h.5M370.7 120h.5m.9 0h.5m-.1 0h.5m-.4 0h.5m-.2 0h.5m.2 0h.5m.2 0h.5m.1 0h.5m-.4 0h.5m-.4 0h.5m15.3 0h.5m-.4 0h.5m-.4 0h.5m-.3 0h.5m-.4 0h.5m-.3 0h.5M368.6 120.25h.5m.3 0h.5m1.4 0h.5m-.1 0h.5m-.3 0h.5m-.2 0h.5m.1 0h.5m-.2 0h.5m-.2 0h.5m.3 0h.5m-.4 0h.5m-.3 0h.5m-.1 0h.5m-.3 0h.5m15.3 0h.5m-.4 0h.5m-.4 0h.5M369.1 120.5h.5m1 0h.5m0 0h.5m.3 0h.5m-.3 0h.5m.1 0h.5m-.3 0h.5m-.2 0h.5m-.3 0h.5m.1 0h.5m0 0h.5m-.2 0h.5m-.3 0h.5m15.3 0h.5m-.4 0h.5m-.3 0h.5m-.4 0h.5m-.3 0h.5M369.7 120.75h.5m.7 0h.5m1 0h.5m.1 0h.5m-.3 0h.5m17.2 0h.5m-.4 0h.5m-.4 0h.5M369 121h.5m.5 0h.5m.2 0h.5m1.1 0h.5m.2 0h.5m-.2 0h.5m.8 0h.5m-.2 0h.5m15.4 0h.5m-.4 0h.5m-.3 0h.5m-.4 0h.5m-.4 0h.5m-.3 0h.5m-.4 0h.5m-.1 0h.5M370.5 121.25h.5m.6 0h.5m-.2 0h.5m0 0h.5m.2 0h.5m.3 0h.5m-.4 0h.5m0 0h.5m-.4 0h.5m-.2 0h.5m-.4 0h.5m15.4 0h.5m-.4 0h.5m-.4 0h.5m-.4 0h.5m-.4 0h.5m0 0h.5M370.3 121.5h.5m.3 0h.5m.2 0h.5m.8 0h.5m-.2 0h.5m-.1 0h.5m.2 0h.5m15.9 0h.5m-.4 0h.5m-.3 0h.5m-.2 0h.5m-.2 0h.5M369.5 121.75h.5m1.2 0h.5m-.4 0h.5m-.1 0h.5m1 0h.5m-.4 0h.5m.9 0h.5m-.1 0h.5m15.3 0h.5m-.4 0h.5m-.2 0h.5M370.3 122h.5m-.3 0h.5m1 0h.5m-.4 0h.5m-.1 0h.5m.1 0h.5m-.3 0h.5m.3 0h.5m-.4 0h.5m-.4 0h.5m-.3 0h.5m-.2 0h.5m-.4 0h.5m15.5 0h.5m-.4 0h.5m-.4 0h.5m-.4 0h.5m-.4 0h.5M370 122.25h.5m1.4 0h.5m1 0h.5m-.4 0h.5m-.3 0h.5m.2 0h.5m15.9 0h.5m-.2 0h.5m-.3 0h.5m-.2 0h.5m1.8 0h.5M370.1 122.5h.5m-.3 0h.5m-.4 0h.5m-.2 0h.5m.8 0h.5m-.4 0h.5m0 0h.5m.1 0h.5m.7 0h.5m-.3 0h.5m15.8 0h.5m-.4 0h.5m-.4 0h.5m-.3 0h.5M370.5 122.75h.5m-.4 0h.5m0 0h.5m-.1 0h.5m-.3 0h.5m-.1 0h.5m-.3 0h.5m-.4 0h.5m.2 0h.5m1.6 0h.5m15.1 0h.5m-.4 0h.5m-.3 0h.5m-.2 0h.5m-.4 0h.5m1.2 0h.5m.7 0h.5M368.9 123h.5m-.1 0h.5m2.9 0h.5m-.4 0h.5m-.2 0h.5m-.3 0h.5m-.1 0h.5m-.1 0h.5m0 0h.5m-.3 0h.5m.1 0h.5m14.9 0h.5m-.4 0h.5m-.4 0h.5m-.4 0h.5m-.4 0h.5m-.4 0h.5m-.4 0h.5m-.4 0h.5M368.5 123.25h.5m-.4 0h.5m-.1 0h.5m.2 0h.5m1.7 0h.5m-.3 0h.5m-.4 0h.5m.1 0h.5m.6 0h.5m-.2 0h.5m-.3 0h.5m-.4 0h.5m-.4 0h.5m-.4 0h.5m16.1 0h.5m-.3 0h.5m-.1 0h.5M371.8 123.5h.5m.4 0h.5m.3 0h.5m-.2 0h.5m-.3 0h.5m.1 0h.5m-.3 0h.5m-.1 0h.5m15.4 0h.5m-.4 0h.5m-.3 0h.5M370 123.75h.5m0 0h.5m-.4 0h.5m-.2 0h.5m.2 0h.5m.1 0h.5m.5 0h.5m.8 0h.5m-.4 0h.5m.5 0h.5m14.8 0h.5m-.3 0h.5m-.2 0h.5m-.4 0h.5m-.4 0h.5m0 0h.5M371 124h.5m-.2 0h.5m1.7 0h.5m.1 0h.5m0 0h.5m15.7 0h.5m-.4 0h.5M368.9 124.25h.5m.2 0h.5m1.2 0h.5m.2 0h.5m-.4 0h.5m-.2 0h.5m.1 0h.5m.5 0h.5m-.2 0h.5m-.3 0h.5m.1 0h.5m15.2 0h.5m-.3 0h.5m-.4 0h.5m-.3 0h.5m-.4 0h.5m-.4 0h.5M368.7 124.5h.5m.3 0h.5m.5 0h.5m.2 0h.5m.9 0h.5m-.3 0h.5m.3 0h.5m-.3 0h.5m0 0h.5m-.4 0h.5m-.1 0h.5m.3 0h.5m14.7 0h.5m-.4 0h.5m-.4 0h.5m-.4 0h.5m-.4 0h.5m-.3 0h.5M372.8 124.75h.5m.8 0h.5m.5 0h.5m.1 0h.5m-.4 0h.5m14.5 0h.5m-.4 0h.5m-.4 0h.5m-.4 0h.5m-.3 0h.5m.1 0h.5M370.4 125h.5m0 0h.5m-.4 0h.5m.3 0h.5m.2 0h.5m-.4 0h.5m-.1 0h.5m.7 0h.5m-.4 0h.5m-.2 0h.5m0 0h.5m-.2 0h.5m-.1 0h.5m14.6 0h.5m-.4 0h.5m-.3 0h.5m0 0h.5M368.9 125.25h.5m1.7 0h.5m.1 0h.5m-.3 0h.5m-.2 0h.5m-.1 0h.5m-.3 0h.5m2.2 0h.5m-.3 0h.5m14.6 0h.5m-.4 0h.5m-.4 0h.5m-.4 0h.5m-.3 0h.5m-.4 0h.5M369.8 125.5h.5m1.1 0h.5m.3 0h.5m1.3 0h.5m.3 0h.5m-.2 0h.5m-.2 0h.5m-.2 0h.5m14.8 0h.5m-.3 0h.5m-.3 0h.5m-.3 0h.5m3.7 0h.5M369.2 125.75h.5m.3 0h.5m.6 0h.5m0 0h.5m1.2 0h.5m-.3 0h.5m0 0h.5m-.3 0h.5m.7 0h.5m-.3 0h.5m-.3 0h.5m14.6 0h.5m-.3 0h.5m-.2 0h.5m-.3 0h.5m-.4 0h.5M370.3 126h.5m.2 0h.5m-.2 0h.5m0 0h.5m.5 0h.5m-.2 0h.5m.5 0h.5m-.2 0h.5m.2 0h.5m.1 0h.5m14.6 0h.5m-.4 0h.5m-.4 0h.5m-.4 0h.5m-.4 0h.5m-.4 0h.5m-.3 0h.5m-.4 0h.5M369.3 126.25h.5m.5 0h.5m.2 0h.5m.7 0h.5m.6 0h.5m.5 0h.5m16 0h.5m-.4 0h.5m-.4 0h.5m-.3 0h.5m-.3 0h.5m-.3 0h.5m.2 0h.5M368.8 126.5h.5m3.1 0h.5m.8 0h.5m-.1 0h.5m-.3 0h.5m-.3 0h.5m.1 0h.5m.1 0h.5m.2 0h.5m13.9 0h.5m-.4 0h.5m-.4 0h.5m-.3 0h.5m-.4 0h.5m-.4 0h.5M368.9 126.75h.5m.9 0h.5m-.3 0h.5m.3 0h.5m1.1 0h.5m.7 0h.5m.1 0h.5m.7 0h.5m-.2 0h.5m14.1 0h.5m-.4 0h.5m-.4 0h.5m-.4 0h.5m-.3 0h.5m-.4 0h.5m-.3 0h.5m2.4 0h.5M369.6 127h.5m1.9 0h.5m-.2 0h.5m.8 0h.5m.5 0h.5m-.1 0h.5m-.2 0h.5m0 0h.5m14.8 0h.5m-.4 0h.5m3.4 0h.5M371.5 127.25h.5m-.3 0h.5m1 0h.5m-.4 0h.5m-.2 0h.5m-.4 0h.5m.6 0h.5m.3 0h.5m14.9 0h.5m0 0h.5M371 127.5h.5m.5 0h.5m0 0h.5m.3 0h.5m-.3 0h.5m.6 0h.5m-.1 0h.5m.1 0h.5m-.2 0h.5m-.3 0h.5m14.3 0h.5m-.4 0h.5m-.3 0h.5m.2 0h.5M368.9 127.75h.5m.5 0h.5m1.7 0h.5m.2 0h.5m.9 0h.5m-.3 0h.5m.3 0h.5m-.1 0h.5m-.4 0h.5m-.1 0h.5m-.1 0h.5m13.8 0h.5m-.3 0h.5m-.3 0h.5m-.2 0h.5M369.8 128h.5m-.1 0h.5m.1 0h.5m.2 0h.5m.4 0h.5m.7 0h.5m-.1 0h.5m.9 0h.5m.2 0h.5m-.4 0h.5m-.4 0h.5m-.4 0h.5m14 0h.5m-.4 0h.5m-.4 0h.5m-.4 0h.5m0 0h.5m-.4 0h.5M370.1 128.25h.5m-.4 0h.5m.3 0h.5m.2 0h.5m.5 0h.5m-.1 0h.5m0 0h.5m-.4 0h.5m.2 0h.5m0 0h.5m0 0h.5m.3 0h.5m-.2 0h.5m13.8 0h.5m-.4 0h.5m-.4 0h.5m-.4 0h.5m-.4 0h.5m-.3 0h.5m-.3 0h.5M369.9 128.5h.5m-.2 0h.5m.2 0h.5m3 0h.5m.3 0h.5m-.2 0h.5m.1 0h.5m-.4 0h.5m-.1 0h.5m13.7 0h.5m-.3 0h.5m-.3 0h.5M371 128.75h.5m0 0h.5m1.8 0h.5m-.4 0h.5m-.2 0h.5m-.4 0h.5m.6 0h.5m-.4 0h.5m-.3 0h.5m-.4 0h.5m.2 0h.5m13.9 0h.5m-.3 0h.5m-.3 0h.5m.7 0h.5M368.9 129h.5m1 0h.5m.6 0h.5m-.1 0h.5m.3 0h.5m.7 0h.5m0 0h.5m-.2 0h.5m-.4 0h.5m.1 0h.5m.6 0h.5m13.9 0h.5m-.4 0h.5m-.4 0h.5m-.4 0h.5m-.4 0h.5m-.4 0h.5M370.9 129.25h.5m.5 0h.5m.1 0h.5m-.4 0h.5m0 0h.5m1.4 0h.5m.7 0h.5m.4 0h.5m13.3 0h.5m-.4 0h.5m-.4 0h.5m-.4 0h.5m-.4 0h.5m-.3 0h.5m-.3 0h.5m-.3 0h.5M369.1 129.5h.5m.6 0h.5m.1 0h.5m1.9 0h.5m.2 0h.5m-.4 0h.5m-.2 0h.5m.1 0h.5m-.3 0h.5m-.4 0h.5m0 0h.5m-.4 0h.5m-.3 0h.5m.1 0h.5m0 0h.5m13.6 0h.5m-.2 0h.5m0 0h.5m-.1 0h.5M370.5 129.75h.5m-.4 0h.5m2.9 0h.5m.1 0h.5m.7 0h.5m-.3 0h.5m14.3 0h.5m-.4 0h.5m-.4 0h.5m-.4 0h.5m-.2 0h.5m-.3 0h.5m-.3 0h.5m3.3 0h.5M368.8 130h.5m4.5 0h.5m.1 0h.5m-.1 0h.5m-.4 0h.5m-.4 0h.5m.6 0h.5m.6 0h.5m13.1 0h.5m-.2 0h.5m-.4 0h.5m-.3 0h.5m-.4 0h.5m-.3 0h.5m4.3 0h.5M369.4 130.25h.5m2.6 0h.5m.1 0h.5m.1 0h.5m.3 0h.5m-.3 0h.5m.6 0h.5m0 0h.5m-.4 0h.5m.2 0h.5m-.4 0h.5m13.1 0h.5m-.3 0h.5m-.4 0h.5m-.4 0h.5m-.4 0h.5m-.3 0h.5m-.3 0h.5m-.3 0h.5M368.6 130.5h.5m3.6 0h.5m-.4 0h.5m.7 0h.5m-.1 0h.5m-.3 0h.5m-.1 0h.5m1.4 0h.5m13.5 0h.5m-.4 0h.5m-.1 0h.5m0 0h.5m1.9 0h.5M369.9 130.75h.5m-.1 0h.5m-.2 0h.5m1.1 0h.5m2.6 0h.5m-.2 0h.5m-.2 0h.5m.1 0h.5m-.2 0h.5m13.6 0h.5m-.4 0h.5m-.4 0h.5m-.4 0h.5m-.4 0h.5m-.1 0h.5M370.7 131h.5m-.4 0h.5m.4 0h.5m3 0h.5m.2 0h.5m-.3 0h.5m.5 0h.5m-.4 0h.5m13.2 0h.5m-.4 0h.5m-.4 0h.5m-.4 0h.5m-.4 0h.5M370 131.25h.5m1.5 0h.5m-.1 0h.5m1.5 0h.5m-.1 0h.5m.2 0h.5m.4 0h.5m-.3 0h.5m-.3 0h.5m-.3 0h.5m13.3 0h.5m-.3 0h.5m-.4 0h.5m-.4 0h.5m-.4 0h.5m-.4 0h.5m-.2 0h.5M369.5 131.5h.5m-.2 0h.5m1.5 0h.5m.8 0h.5m-.4 0h.5m1.3 0h.5m.3 0h.5m-.4 0h.5m-.4 0h.5m.9 0h.5m12.9 0h.5m-.4 0h.5m-.1 0h.5m-.3 0h.5M372.1 131.75h.5m-.3 0h.5m2.2 0h.5m-.2 0h.5m-.4 0h.5m.2 0h.5m-.4 0h.5m.8 0h.5m-.4 0h.5m-.4 0h.5m12.6 0h.5m-.4 0h.5m-.4 0h.5m-.4 0h.5m-.4 0h.5m-.4 0h.5m-.1 0h.5M368.5 132h.5m.6 0h.5m3.2 0h.5m1.6 0h.5m-.3 0h.5m-.1 0h.5m-.3 0h.5m.2 0h.5m-.1 0h.5m-.4 0h.5m12.9 0h.5m.1 0h.5M372.8 132.25h.5m0 0h.5m-.3 0h.5m.7 0h.5m.5 0h.5m0 0h.5m.8 0h.5m.1 0h.5m12.2 0h.5m-.3 0h.5m-.4 0h.5m-.4 0h.5m-.3 0h.5m.1 0h.5M370.5 132.5h.5m1.3 0h.5m.8 0h.5m-.1 0h.5m-.3 0h.5m-.4 0h.5m.2 0h.5m-.4 0h.5m1 0h.5m-.4 0h.5m-.2 0h.5m.1 0h.5m-.4 0h.5m12.5 0h.5m-.2 0h.5m-.4 0h.5m-.4 0h.5m-.3 0h.5m-.4 0h.5m-.2 0h.5M369.9 132.75h.5m1.5 0h.5m.8 0h.5m.3 0h.5m.4 0h.5m.9 0h.5m0 0h.5m0 0h.5m.2 0h.5m12.6 0h.5m-.3 0h.5m-.4 0h.5m-.1 0h.5M369.6 133h.5m3.3 0h.5m1 0h.5m-.4 0h.5m.4 0h.5m0 0h.5m-.4 0h.5m-.4 0h.5m-.3 0h.5m.2 0h.5m12.7 0h.5m-.3 0h.5m-.4 0h.5m-.4 0h.5m-.2 0h.5m-.4 0h.5m-.2 0h.5m-.1 0h.5M369.9 133.25h.5m2 0h.5m1.8 0h.5m0 0h.5m-.4 0h.5m.1 0h.5m1.5 0h.5m.1 0h.5m11.7 0h.5m-.3 0h.5m-.3 0h.5m-.3 0h.5m-.4 0h.5m2.5 0h.5M369.3 133.5h.5m3.2 0h.5m.2 0h.5m-.4 0h.5m0 0h.5m.4 0h.5m-.2 0h.5m.6 0h.5m-.4 0h.5m0 0h.5m0 0h.5m-.1 0h.5m-.4 0h.5m-.2 0h.5m11.9 0h.5m-.4 0h.5m-.4 0h.5m-.3 0h.5m-.2 0h.5m-.3 0h.5M369.8 133.75h.5m2.9 0h.5m.7 0h.5m.3 0h.5m.3 0h.5m-.2 0h.5m-.4 0h.5m.9 0h.5m.1 0h.5m11.8 0h.5m-.3 0h.5m-.4 0h.5m-.4 0h.5m-.4 0h.5m-.2 0h.5M371.1 134h.5m.9 0h.5m.3 0h.5m1 0h.5m1.1 0h.5m.2 0h.5m.9 0h.5m-.4 0h.5m11.5 0h.5m-.4 0h.5m-.3 0h.5m-.4 0h.5m-.3 0h.5m-.1 0h.5M371 134.25h.5m.2 0h.5m.2 0h.5m.8 0h.5m-.4 0h.5m-.3 0h.5m.2 0h.5m.2 0h.5m.2 0h.5m.5 0h.5m-.2 0h.5m.4 0h.5m11.8 0h.5m-.1 0h.5m-.4 0h.5m.1 0h.5M370.8 134.5h.5m1.2 0h.5m0 0h.5m-.4 0h.5m.2 0h.5m1.6 0h.5m-.1 0h.5m-.2 0h.5m.1 0h.5m0 0h.5m.4 0h.5m11.5 0h.5m-.4 0h.5m-.4 0h.5M369.5 134.75h.5m1 0h.5m2 0h.5m1.9 0h.5m.1 0h.5m-.1 0h.5m.2 0h.5m-.3 0h.5m.3 0h.5m-.4 0h.5m11.4 0h.5m-.4 0h.5m-.4 0h.5m-.4 0h.5m-.3 0h.5m.5 0h.5M369.7 135h.5m3.2 0h.5m0 0h.5m0 0h.5m.1 0h.5m.1 0h.5m-.4 0h.5m.3 0h.5m-.1 0h.5m-.2 0h.5m-.2 0h.5m-.1 0h.5m0 0h.5m11.6 0h.5m-.2 0h.5m-.1 0h.5m-.4 0h.5m1.2 0h.5M370.1 135.25h.5m.3 0h.5m2.4 0h.5m-.1 0h.5m-.4 0h.5m-.1 0h.5m-.4 0h.5m-.2 0h.5m0 0h.5m-.3 0h.5m-.1 0h.5m.2 0h.5m-.4 0h.5m-.4 0h.5m.8 0h.5m-.2 0h.5m-.3 0h.5m11.4 0h.5m-.4 0h.5m-.1 0h.5m-.2 0h.5m-.3 0h.5m-.4 0h.5m-.4 0h.5M373.1 135.5h.5m-.4 0h.5m.3 0h.5m.3 0h.5m-.3 0h.5m-.4 0h.5m.5 0h.5m-.1 0h.5m.5 0h.5m.5 0h.5m.2 0h.5m10.9 0h.5m-.4 0h.5m-.4 0h.5m-.4 0h.5M372.8 135.75h.5m-.1 0h.5m.1 0h.5m.4 0h.5m1.4 0h.5m.9 0h.5m12 0h.5m-.4 0h.5m-.3 0h.5m-.4 0h.5m-.4 0h.5m0 0h.5M371.8 136h.5m1 0h.5m1.8 0h.5m.4 0h.5m-.2 0h.5m.7 0h.5m-.4 0h.5m.4 0h.5m11 0h.5m-.4 0h.5m-.2 0h.5m-.4 0h.5M374.6 136.25h.5m-.3 0h.5m.2 0h.5m.1 0h.5m.4 0h.5m0 0h.5m-.4 0h.5m.9 0h.5m11.1 0h.5m-.4 0h.5m-.1 0h.5m.4 0h.5m4.4 0h.5M372.2 136.5h.5m-.2 0h.5m.2 0h.5m1.2 0h.5m.1 0h.5m.7 0h.5m.1 0h.5m.2 0h.5m.3 0h.5m-.4 0h.5m.1 0h.5m10.5 0h.5m-.3 0h.5m-.4 0h.5m-.4 0h.5m-.4 0h.5m-.3 0h.5m-.1 0h.5m1.2 0h.5M371 136.75h.5m3.8 0h.5m.2 0h.5m.4 0h.5m-.3 0h.5m-.4 0h.5m.2 0h.5m.2 0h.5m-.1 0h.5m11 0h.5m-.3 0h.5m-.3 0h.5M372.6 137h.5m0 0h.5m-.1 0h.5m2.1 0h.5m.5 0h.5m-.4 0h.5m-.4 0h.5m-.4 0h.5m.1 0h.5m-.3 0h.5m.5 0h.5m10.7 0h.5m-.4 0h.5m-.4 0h.5m-.3 0h.5m-.3 0h.5M375.3 137.25h.5m-.4 0h.5m-.2 0h.5m.3 0h.5m-.4 0h.5m.2 0h.5m-.4 0h.5m-.4 0h.5m.3 0h.5m-.3 0h.5m-.3 0h.5m-.3 0h.5m-.2 0h.5m-.2 0h.5m10.4 0h.5m-.2 0h.5m-.4 0h.5m-.3 0h.5m-.4 0h.5m-.2 0h.5m.7 0h.5M372.6 137.5h.5m1 0h.5m.4 0h.5m.9 0h.5m-.2 0h.5m-.2 0h.5m0 0h.5m-.3 0h.5m-.2 0h.5m.3 0h.5m-.4 0h.5m-.1 0h.5m-.4 0h.5m10.5 0h.5m-.3 0h.5m-.4 0h.5m-.2 0h.5m2.1 0h.5M371.4 137.75h.5m.3 0h.5m.9 0h.5m-.4 0h.5m-.1 0h.5m2 0h.5m-.3 0h.5m-.1 0h.5m-.3 0h.5m.1 0h.5m-.3 0h.5m0 0h.5m-.2 0h.5m10.9 0h.5m-.4 0h.5m-.4 0h.5m.3 0h.5M372.9 138h.5m0 0h.5m.2 0h.5m.7 0h.5m.8 0h.5m-.4 0h.5m.2 0h.5m0 0h.5m0 0h.5m1 0h.5m-.3 0h.5m9.8 0h.5m-.3 0h.5m.3 0h.5m1.6 0h.5M374.3 138.25h.5m.1 0h.5m-.4 0h.5m.6 0h.5m1.7 0h.5m.5 0h.5m0 0h.5m10.2 0h.5m-.4 0h.5m-.4 0h.5m-.2 0h.5m-.1 0h.5M370.7 138.5h.5m-.3 0h.5m.7 0h.5m2 0h.5m-.1 0h.5m1 0h.5m-.4 0h.5m-.1 0h.5m-.1 0h.5m0 0h.5m-.4 0h.5m-.3 0h.5m-.3 0h.5m-.3 0h.5m.2 0h.5m-.1 0h.5m-.2 0h.5m9.9 0h.5m-.4 0h.5m-.4 0h.5m-.4 0h.5m-.1 0h.5m-.2 0h.5m-.3 0h.5M370.8 138.75h.5m1.4 0h.5m2.5 0h.5m.1 0h.5m.3 0h.5m.4 0h.5m-.2 0h.5m-.1 0h.5m-.2 0h.5m.5 0h.5m-.3 0h.5m9.9 0h.5m-.3 0h.5m-.1 0h.5M370.4 139h.5m2.4 0h.5m.5 0h.5m0 0h.5m-.4 0h.5m.2 0h.5m.3 0h.5m-.4 0h.5m-.1 0h.5m-.4 0h.5m-.4 0h.5m.8 0h.5m-.4 0h.5m-.3 0h.5m1.3 0h.5m9.4 0h.5m-.4 0h.5m-.4 0h.5m-.4 0h.5M372.4 139.25h.5m.4 0h.5m-.2 0h.5m.9 0h.5m-.3 0h.5m.1 0h.5m.3 0h.5m.4 0h.5m.1 0h.5m.3 0h.5m0 0h.5m.4 0h.5m-.3 0h.5m9.3 0h.5m-.3 0h.5m-.3 0h.5m-.3 0h.5m-.4 0h.5m-.4 0h.5m-.4 0h.5M373.4 139.5h.5m2 0h.5m-.4 0h.5m1.2 0h.5m1 0h.5m-.4 0h.5m.1 0h.5m10.1 0h.5m-.2 0h.5m.5 0h.5M370.2 139.75h.5m4 0h.5m.4 0h.5m0 0h.5m0 0h.5m-.3 0h.5m-.3 0h.5m0 0h.5m-.3 0h.5m1 0h.5m0 0h.5m-.2 0h.5m.2 0h.5m9.2 0h.5m-.4 0h.5m-.2 0h.5m-.4 0h.5m-.3 0h.5M371.2 140h.5m2.1 0h.5m.6 0h.5m-.3 0h.5m.2 0h.5m-.3 0h.5m-.4 0h.5m.1 0h.5m-.2 0h.5m-.1 0h.5m.6 0h.5m.5 0h.5m.2 0h.5m-.3 0h.5m9.4 0h.5m-.4 0h.5m-.4 0h.5m-.4 0h.5m-.4 0h.5m-.4 0h.5m-.4 0h.5m0 0h.5M374.1 140.25h.5m0 0h.5m-.4 0h.5m3.5 0h.5m-.3 0h.5m.1 0h.5m-.1 0h.5m-.3 0h.5m-.1 0h.5m-.1 0h.5m9 0h.5m-.4 0h.5m-.3 0h.5m-.4 0h.5M369.6 140.5h.5m1.5 0h.5m2.8 0h.5m.8 0h.5m1.7 0h.5m-.2 0h.5m0 0h.5m-.4 0h.5m-.1 0h.5m-.1 0h.5m-.1 0h.5m-.4 0h.5m9.1 0h.5m-.4 0h.5m-.3 0h.5m-.4 0h.5m-.4 0h.5m-.4 0h.5M373.9 140.75h.5m.2 0h.5m-.3 0h.5m3 0h.5m.3 0h.5m1 0h.5m-.3 0h.5m9 0h.5m-.3 0h.5m-.4 0h.5m-.4 0h.5M373.4 141h.5m1.5 0h.5m-.4 0h.5m.3 0h.5m.3 0h.5m.3 0h.5m-.4 0h.5m-.4 0h.5m.3 0h.5m-.4 0h.5m-.3 0h.5m-.2 0h.5m-.3 0h.5m.4 0h.5m-.4 0h.5m-.1 0h.5m9 0h.5m-.1 0h.5M369.3 141.25h.5m3.6 0h.5m.3 0h.5m-.4 0h.5m.7 0h.5m1.9 0h.5m-.2 0h.5m0 0h.5m-.1 0h.5m1.2 0h.5m-.2 0h.5m8.6 0h.5m-.4 0h.5m-.2 0h.5M370 141.5h.5m-.2 0h.5m1.9 0h.5m1.2 0h.5m1.9 0h.5m.3 0h.5m0 0h.5m1.3 0h.5m-.4 0h.5m-.3 0h.5m-.3 0h.5m-.4 0h.5m.3 0h.5m8.4 0h.5m-.3 0h.5m-.4 0h.5m-.4 0h.5M374.7 141.75h.5m-.4 0h.5m1.4 0h.5m-.3 0h.5m.2 0h.5m.2 0h.5m-.2 0h.5m-.4 0h.5m-.2 0h.5m-.4 0h.5m-.3 0h.5m-.3 0h.5m-.4 0h.5m.9 0h.5m-.3 0h.5m8.5 0h.5m-.4 0h.5m-.2 0h.5m-.4 0h.5M372.2 142h.5m2.4 0h.5m2.3 0h.5m-.3 0h.5m.2 0h.5m.8 0h.5m-.1 0h.5m-.2 0h.5m-.2 0h.5m8.5 0h.5m-.4 0h.5m-.4 0h.5m-.4 0h.5m-.3 0h.5m-.4 0h.5m1.5 0h.5M371.9 142.25h.5m-.2 0h.5m1.1 0h.5m.9 0h.5m.7 0h.5m.3 0h.5m-.4 0h.5m1.2 0h.5m-.2 0h.5m.5 0h.5m-.1 0h.5m8.9 0h.5m-.4 0h.5m-.4 0h.5m-.4 0h.5m-.4 0h.5m-.1 0h.5M373.7 142.5h.5m-.1 0h.5m.1 0h.5m.1 0h.5m.2 0h.5m.2 0h.5m.6 0h.5m-.3 0h.5m1.3 0h.5m-.3 0h.5m-.4 0h.5m-.2 0h.5m0 0h.5m8.7 0h.5m-.4 0h.5m-.4 0h.5m-.3 0h.5m-.4 0h.5m-.3 0h.5m-.4 0h.5m-.1 0h.5M373.6 142.75h.5m2.1 0h.5m.8 0h.5m.3 0h.5m.1 0h.5m.8 0h.5m-.3 0h.5m.8 0h.5m8 0h.5m-.4 0h.5m-.3 0h.5m0 0h.5m3 0h.5M372.5 143h.5m5.4 0h.5m-.3 0h.5m.2 0h.5m-.4 0h.5m-.4 0h.5m-.4 0h.5m-.2 0h.5m-.4 0h.5m-.2 0h.5m-.3 0h.5m-.4 0h.5m-.3 0h.5m-.2 0h.5m-.1 0h.5m-.2 0h.5m7.9 0h.5m-.4 0h.5m-.4 0h.5m-.4 0h.5m-.2 0h.5m-.4 0h.5m.2 0h.5M371.2 143.25h.5m2.3 0h.5m1.1 0h.5m-.4 0h.5m1.1 0h.5m.3 0h.5m-.4 0h.5m-.2 0h.5m-.2 0h.5m1.4 0h.5m.8 0h.5m7.6 0h.5m-.4 0h.5m-.2 0h.5m-.2 0h.5m-.3 0h.5M377.2 143.5h.5m.4 0h.5m.4 0h.5m.3 0h.5m-.4 0h.5m.3 0h.5m-.1 0h.5m-.4 0h.5m-.4 0h.5m8.3 0h.5m-.4 0h.5m-.2 0h.5m-.3 0h.5m-.1 0h.5m.8 0h.5M375.8 143.75h.5m.6 0h.5m-.1 0h.5m-.4 0h.5m-.3 0h.5m2.2 0h.5m-.4 0h.5m0 0h.5m.4 0h.5m-.4 0h.5m-.2 0h.5m7.3 0h.5m-.3 0h.5m-.4 0h.5m-.2 0h.5m1.9 0h.5M374 144h.5m15.6 0h.5m-.1 0h.5" stroke="#000" stroke-width="0.5" fill="none" opacity="1.0"/>
<rect x="392.95" y="106.95" width="29.899999999999988" height="19.900000000000002" fill="none" stroke="#a4a4a4" stroke-width="1.3"/>
<text x="411.7" y="113.1" font-size="3.0" font-weight="normal" text-anchor="start" fill="#666">IgG1</text>
<line x1="375.2" y1="144.2" x2="375.2" y2="145.39999999999998" stroke="#333" stroke-width="0.5"/>
<text x="373.2" y="149.2" font-size="3.0" font-weight="normal" text-anchor="start" fill="#555">10</text>
<text x="376.5" y="147.79999999999998" font-size="2.2" font-weight="normal" text-anchor="start" fill="#555">2</text>
<line x1="390.9" y1="144.2" x2="390.9" y2="145.39999999999998" stroke="#333" stroke-width="0.5"/>
<text x="388.9" y="149.2" font-size="3.0" font-weight="normal" text-anchor="start" fill="#555">10</text>
<text x="392.2" y="147.79999999999998" font-size="2.2" font-weight="normal" text-anchor="start" fill="#555">2</text>
<line x1="405.5" y1="144.2" x2="405.5" y2="145.39999999999998" stroke="#333" stroke-width="0.5"/>
<text x="403.5" y="149.2" font-size="3.0" font-weight="normal" text-anchor="start" fill="#555">10</text>
<text x="406.8" y="147.79999999999998" font-size="2.2" font-weight="normal" text-anchor="start" fill="#555">2</text>
<line x1="419.5" y1="144.2" x2="419.5" y2="145.39999999999998" stroke="#333" stroke-width="0.5"/>
<text x="417.5" y="149.2" font-size="3.0" font-weight="normal" text-anchor="start" fill="#555">10</text>
<text x="420.8" y="147.79999999999998" font-size="2.2" font-weight="normal" text-anchor="start" fill="#555">2</text>
<line x1="367.3" y1="96.2" x2="368.5" y2="96.2" stroke="#333" stroke-width="0.5"/>
<text x="362.9" y="97.8" font-size="3.0" font-weight="normal" text-anchor="start" fill="#555">10</text>
<text x="366.0" y="96.3" font-size="2.2" font-weight="normal" text-anchor="start" fill="#555">2</text>
<line x1="367.3" y1="109.5" x2="368.5" y2="109.5" stroke="#333" stroke-width="0.5"/>
<text x="362.9" y="111.1" font-size="3.0" font-weight="normal" text-anchor="start" fill="#555">10</text>
<text x="366.0" y="109.6" font-size="2.2" font-weight="normal" text-anchor="start" fill="#555">2</text>
<line x1="367.3" y1="122.8" x2="368.5" y2="122.8" stroke="#333" stroke-width="0.5"/>
<text x="362.9" y="124.39999999999999" font-size="3.0" font-weight="normal" text-anchor="start" fill="#555">10</text>
<text x="366.0" y="122.89999999999999" font-size="2.2" font-weight="normal" text-anchor="start" fill="#555">2</text>
<line x1="367.3" y1="136.1" x2="368.5" y2="136.1" stroke="#333" stroke-width="0.5"/>
<text x="362.9" y="137.7" font-size="3.0" font-weight="normal" text-anchor="start" fill="#555">10</text>
<text x="366.0" y="136.2" font-size="2.2" font-weight="normal" text-anchor="start" fill="#555">2</text>
<text x="397.5" y="153.89999999999998" font-size="3.5" font-weight="normal" text-anchor="middle" fill="#555">IgG1 FITC-A</text>
<text x="360.8" y="117.35" font-size="3.5" font-weight="normal" text-anchor="middle" fill="#555" transform="rotate(-90 360.8 117.35)">CD4 PerCP-A</text>
<rect x="439.4" y="90.5" width="57.400000000000034" height="53.599999999999994" fill="#fff" stroke="#858585" stroke-width="0.55"/>
<path d="M439.4,90.5V144.1H496.8" fill="none" stroke="#4a4a4a" stroke-width="0.6"/>
<line x1="439.4" y1="105.7" x2="463.2" y2="105.7" stroke="#8a8a8a" stroke-width="0.55"/>
<path d="M439.7,115.69999999999999 L455.9,114.89999999999999 Q457.9,115.1 457.9,118.1 L457.29999999999995,125.1 L453.5,143.79999999999998 L439.7,143.79999999999998 Z" fill="#000"/>
<path d="M441.3 113.75h.5M442.5 114h.5m2.2 0h.5m1.2 0h.5m3.7 0h.5M443.5 114.25h.5m-.2 0h.5m.7 0h.5m1.9 0h.5m-.3 0h.5m4.7 0h.5m1.1 0h.5m-.4 0h.5m.2 0h.5M440.8 114.5h.5m-.3 0h.5m-.1 0h.5m-.2 0h.5m-.3 0h.5m.8 0h.5m.5 0h.5m-.2 0h.5m-.2 0h.5m.2 0h.5m.1 0h.5m.3 0h.5m.6 0h.5m4.2 0h.5m0 0h.5m3.7 0h.5m-.2 0h.5M440.4 114.75h.5m.3 0h.5m0 0h.5m-.2 0h.5m0 0h.5m-.4 0h.5m0 0h.5m-.1 0h.5m-.2 0h.5m-.3 0h.5m-.4 0h.5m.1 0h.5m-.2 0h.5m1.6 0h.5m1 0h.5m1.3 0h.5m-.4 0h.5m.6 0h.5m-.1 0h.5m-.4 0h.5m-.3 0h.5m-.2 0h.5m-.4 0h.5m1.1 0h.5m.5 0h.5m-.3 0h.5m-.1 0h.5m.9 0h.5m-.2 0h.5m-.3 0h.5M440.3 115h.5m-.3 0h.5m-.3 0h.5m-.2 0h.5m-.4 0h.5m-.1 0h.5m.4 0h.5m-.4 0h.5m-.3 0h.5m.6 0h.5m-.4 0h.5m.4 0h.5m-.4 0h.5m-.4 0h.5m-.3 0h.5m-.4 0h.5m.1 0h.5m-.3 0h.5m-.2 0h.5m-.4 0h.5m-.3 0h.5m-.2 0h.5m-.3 0h.5m-.2 0h.5m-.4 0h.5m-.4 0h.5m-.3 0h.5m-.2 0h.5m-.4 0h.5m-.4 0h.5m-.4 0h.5m-.4 0h.5m-.2 0h.5m-.4 0h.5m-.4 0h.5m-.2 0h.5m-.2 0h.5m-.3 0h.5m-.1 0h.5m-.2 0h.5m-.4 0h.5m-.2 0h.5m-.1 0h.5m-.4 0h.5m-.3 0h.5m-.2 0h.5m-.1 0h.5m-.1 0h.5m-.4 0h.5m-.4 0h.5m-.4 0h.5m0 0h.5m-.1 0h.5m.2 0h.5m.1 0h.5m-.4 0h.5m-.2 0h.5m-.4 0h.5m-.4 0h.5m-.1 0h.5m-.4 0h.5m-.4 0h.5m-.4 0h.5m-.3 0h.5m-.4 0h.5m-.4 0h.5m-.4 0h.5m-.4 0h.5m-.4 0h.5m-.4 0h.5m-.3 0h.5m-.3 0h.5M439.9 115.25h.5m-.4 0h.5m-.4 0h.5m.5 0h.5m-.1 0h.5m-.2 0h.5m-.4 0h.5m-.4 0h.5m-.4 0h.5m-.4 0h.5m-.4 0h.5m-.3 0h.5m-.3 0h.5m-.2 0h.5m-.4 0h.5m-.3 0h.5m-.3 0h.5m-.3 0h.5m-.3 0h.5m.1 0h.5m-.3 0h.5m-.2 0h.5m-.4 0h.5m-.4 0h.5m-.3 0h.5m-.4 0h.5m-.4 0h.5m-.3 0h.5m-.3 0h.5m-.2 0h.5m-.1 0h.5m-.4 0h.5m.1 0h.5m-.3 0h.5m-.4 0h.5m.1 0h.5m.5 0h.5m-.2 0h.5m-.4 0h.5m-.2 0h.5m-.3 0h.5m-.4 0h.5m-.2 0h.5m-.4 0h.5m-.2 0h.5m-.3 0h.5m-.2 0h.5m-.4 0h.5m-.4 0h.5m-.4 0h.5m-.4 0h.5m-.4 0h.5m-.2 0h.5m-.4 0h.5m-.2 0h.5m-.4 0h.5m-.4 0h.5m-.3 0h.5m0 0h.5m-.3 0h.5m.2 0h.5m-.4 0h.5m-.2 0h.5m-.1 0h.5m-.4 0h.5m-.3 0h.5m-.2 0h.5m-.4 0h.5m-.2 0h.5m-.3 0h.5m0 0h.5m-.4 0h.5m-.4 0h.5m-.4 0h.5m-.4 0h.5m-.4 0h.5m-.4 0h.5m-.4 0h.5m-.4 0h.5m-.4 0h.5m-.4 0h.5M439.8 115.5h.5m-.4 0h.5m-.4 0h.5m-.3 0h.5m-.4 0h.5m-.4 0h.5m-.4 0h.5m-.4 0h.5m-.4 0h.5m-.3 0h.5m-.4 0h.5m-.2 0h.5m-.4 0h.5m-.4 0h.5m-.2 0h.5m-.1 0h.5m-.3 0h.5m-.3 0h.5m-.3 0h.5m-.4 0h.5m.1 0h.5m-.1 0h.5m-.4 0h.5m-.3 0h.5m-.2 0h.5m-.3 0h.5m-.3 0h.5m-.4 0h.5m-.4 0h.5m-.3 0h.5m-.2 0h.5m-.1 0h.5m-.4 0h.5m-.4 0h.5m-.3 0h.5m-.4 0h.5m-.2 0h.5m-.1 0h.5m-.2 0h.5m-.2 0h.5m-.2 0h.5m-.3 0h.5m-.2 0h.5m-.3 0h.5m-.4 0h.5m-.4 0h.5m-.4 0h.5m-.4 0h.5m.1 0h.5m-.4 0h.5m-.4 0h.5m-.4 0h.5m-.2 0h.5m.1 0h.5m-.4 0h.5m-.4 0h.5m-.1 0h.5m-.1 0h.5m-.4 0h.5m-.2 0h.5m.1 0h.5m-.4 0h.5m-.4 0h.5m-.2 0h.5m-.3 0h.5m-.3 0h.5m-.4 0h.5m0 0h.5m-.4 0h.5m-.4 0h.5m-.4 0h.5m-.4 0h.5m-.4 0h.5m-.3 0h.5m-.4 0h.5m-.4 0h.5m-.4 0h.5m-.2 0h.5m-.3 0h.5m-.4 0h.5m-.2 0h.5m-.4 0h.5m-.2 0h.5m-.4 0h.5m-.3 0h.5m-.4 0h.5m-.4 0h.5m-.4 0h.5m-.4 0h.5m-.4 0h.5m-.4 0h.5m-.4 0h.5m-.2 0h.5M439.8 115.75h.5m-.4 0h.5m-.4 0h.5m-.4 0h.5m-.4 0h.5m-.4 0h.5m-.4 0h.5m-.4 0h.5m-.4 0h.5m-.2 0h.5m-.3 0h.5m-.4 0h.5m-.2 0h.5m-.3 0h.5m-.4 0h.5m-.4 0h.5m-.3 0h.5m-.4 0h.5m-.4 0h.5m-.1 0h.5m-.3 0h.5m-.4 0h.5m-.4 0h.5m-.1 0h.5m.1 0h.5m-.4 0h.5m-.3 0h.5m-.4 0h.5m-.3 0h.5m-.3 0h.5m-.4 0h.5m-.4 0h.5m-.4 0h.5m-.3 0h.5m-.4 0h.5m-.3 0h.5m-.3 0h.5m-.3 0h.5m-.3 0h.5m-.4 0h.5m-.4 0h.5m-.4 0h.5m-.3 0h.5m-.4 0h.5m-.4 0h.5m-.4 0h.5m-.3 0h.5m-.1 0h.5m-.4 0h.5m-.4 0h.5m-.4 0h.5m-.2 0h.5m-.4 0h.5m-.1 0h.5m-.3 0h.5m-.4 0h.5m-.4 0h.5m-.2 0h.5m-.3 0h.5m.1 0h.5m-.3 0h.5m0 0h.5m-.3 0h.5m-.3 0h.5m-.3 0h.5m-.4 0h.5m-.4 0h.5m-.4 0h.5m-.4 0h.5m-.4 0h.5m-.2 0h.5m-.4 0h.5m-.4 0h.5m-.4 0h.5m-.4 0h.5m-.3 0h.5m-.4 0h.5m-.4 0h.5m-.4 0h.5m-.2 0h.5m-.3 0h.5m-.4 0h.5m-.4 0h.5m-.4 0h.5m-.4 0h.5m-.4 0h.5m-.3 0h.5m-.3 0h.5m-.2 0h.5m-.4 0h.5m-.4 0h.5m-.4 0h.5m-.3 0h.5m-.2 0h.5m-.4 0h.5m-.3 0h.5m-.3 0h.5m-.4 0h.5m-.3 0h.5m-.3 0h.5m-.3 0h.5m-.4 0h.5m-.4 0h.5m-.4 0h.5m-.4 0h.5m-.3 0h.5m-.4 0h.5m-.4 0h.5m-.3 0h.5m-.1 0h.5m-.3 0h.5m-.3 0h.5m-.4 0h.5m-.1 0h.5M439.7 116h.5m-.4 0h.5m-.2 0h.5m-.4 0h.5m-.4 0h.5m-.4 0h.5m-.4 0h.5m-.3 0h.5m-.4 0h.5m-.3 0h.5m-.4 0h.5m0 0h.5m-.4 0h.5m-.4 0h.5m-.4 0h.5m-.4 0h.5m-.4 0h.5m-.4 0h.5m-.4 0h.5m-.2 0h.5m-.4 0h.5m-.4 0h.5m-.3 0h.5m-.3 0h.5m-.4 0h.5m-.3 0h.5m-.3 0h.5m-.4 0h.5m-.4 0h.5m-.3 0h.5m-.2 0h.5m-.3 0h.5m-.4 0h.5m-.4 0h.5m-.3 0h.5m-.4 0h.5m-.4 0h.5m-.4 0h.5m-.4 0h.5m-.3 0h.5m-.4 0h.5m-.4 0h.5m-.1 0h.5m-.4 0h.5m-.4 0h.5m-.2 0h.5m-.4 0h.5m-.4 0h.5m-.4 0h.5m-.4 0h.5m-.2 0h.5m-.4 0h.5m-.4 0h.5m-.2 0h.5m-.4 0h.5m-.3 0h.5m-.2 0h.5m-.4 0h.5m-.4 0h.5m-.2 0h.5m-.2 0h.5m-.2 0h.5m-.4 0h.5m-.2 0h.5m-.4 0h.5m-.3 0h.5m-.4 0h.5m-.4 0h.5m-.4 0h.5m-.2 0h.5m-.3 0h.5m-.4 0h.5m-.2 0h.5m-.3 0h.5m-.3 0h.5m-.4 0h.5m-.4 0h.5m-.3 0h.5m-.1 0h.5m-.3 0h.5m-.2 0h.5m-.4 0h.5m-.4 0h.5m-.4 0h.5m-.3 0h.5m-.2 0h.5m-.4 0h.5m-.4 0h.5m-.4 0h.5m-.4 0h.5m-.4 0h.5m-.3 0h.5m-.4 0h.5m-.4 0h.5m-.3 0h.5m-.2 0h.5m-.4 0h.5m-.3 0h.5m-.4 0h.5m-.4 0h.5m-.4 0h.5m-.2 0h.5m-.4 0h.5m-.3 0h.5m-.4 0h.5m-.3 0h.5m-.4 0h.5m-.4 0h.5m-.4 0h.5m-.4 0h.5m-.4 0h.5m-.4 0h.5m-.4 0h.5m-.4 0h.5m-.3 0h.5m-.4 0h.5m-.3 0h.5m-.2 0h.5m-.3 0h.5m-.1 0h.5M457 116.25h.5m-.4 0h.5m-.4 0h.5m-.3 0h.5m-.4 0h.5m-.4 0h.5m-.3 0h.5m-.3 0h.5m-.4 0h.5m-.4 0h.5m-.3 0h.5M457.3 116.5h.5m-.4 0h.5m-.4 0h.5m-.2 0h.5m-.3 0h.5m-.4 0h.5m-.4 0h.5m-.4 0h.5m-.1 0h.5M457.2 116.75h.5m-.4 0h.5m-.4 0h.5m-.4 0h.5m-.3 0h.5m-.4 0h.5m-.4 0h.5m-.4 0h.5m-.1 0h.5m-.1 0h.5m-.3 0h.5M457.3 117h.5m-.4 0h.5m-.3 0h.5m.3 0h.5m-.4 0h.5M457.2 117.25h.5m-.4 0h.5m-.3 0h.5m-.4 0h.5m-.4 0h.5m-.4 0h.5m-.1 0h.5m-.1 0h.5M457.3 117.5h.5m-.4 0h.5m-.4 0h.5m-.4 0h.5m-.4 0h.5m-.3 0h.5m-.2 0h.5m.5 0h.5m-.4 0h.5m-.3 0h.5M457.2 117.75h.5m-.4 0h.5m-.3 0h.5m-.4 0h.5m-.4 0h.5m-.3 0h.5m-.2 0h.5m.4 0h.5M457.3 118h.5m-.3 0h.5m-.3 0h.5m-.3 0h.5m-.3 0h.5m-.3 0h.5m-.2 0h.5m.3 0h.5m.2 0h.5M457.3 118.25h.5m-.4 0h.5m-.4 0h.5m-.4 0h.5m-.2 0h.5m-.1 0h.5m-.1 0h.5m-.4 0h.5M457.2 118.5h.5m-.4 0h.5m-.4 0h.5m-.4 0h.5m-.3 0h.5m-.4 0h.5m-.4 0h.5m-.2 0h.5m-.1 0h.5m-.4 0h.5m-.2 0h.5M457.3 118.75h.5m-.4 0h.5m-.4 0h.5m-.4 0h.5m-.2 0h.5m-.4 0h.5m-.4 0h.5m-.4 0h.5m-.2 0h.5M457.3 119h.5m-.4 0h.5m-.4 0h.5m-.3 0h.5m-.4 0h.5m-.4 0h.5m.1 0h.5m-.3 0h.5m-.3 0h.5M457.2 119.25h.5m-.4 0h.5m-.4 0h.5m-.4 0h.5m-.4 0h.5m-.3 0h.5m-.3 0h.5M457.3 119.5h.5m-.3 0h.5m-.4 0h.5m-.1 0h.5m-.4 0h.5m.2 0h.5m-.4 0h.5M457.3 119.75h.5m-.4 0h.5m-.4 0h.5m-.4 0h.5m-.3 0h.5m-.4 0h.5m-.3 0h.5m-.3 0h.5m.6 0h.5M457.3 120h.5m-.3 0h.5m-.4 0h.5m-.4 0h.5m-.4 0h.5m-.4 0h.5m-.4 0h.5m-.4 0h.5m-.3 0h.5m-.4 0h.5M457.3 120.25h.5m-.4 0h.5m-.3 0h.5m-.2 0h.5m-.3 0h.5m0 0h.5m-.3 0h.5M457.2 120.5h.5m-.4 0h.5m-.4 0h.5m-.4 0h.5m-.4 0h.5m-.4 0h.5m-.4 0h.5m-.4 0h.5m.2 0h.5m-.1 0h.5M457.2 120.75h.5m-.4 0h.5m-.4 0h.5m-.4 0h.5m-.4 0h.5m-.4 0h.5m-.4 0h.5m-.4 0h.5m-.3 0h.5m-.4 0h.5m.5 0h.5m-.2 0h.5M457.3 121h.5m-.4 0h.5m-.4 0h.5m-.4 0h.5m-.4 0h.5m-.4 0h.5m-.3 0h.5m-.4 0h.5m-.4 0h.5m.1 0h.5M457.3 121.25h.5m-.4 0h.5m-.2 0h.5m-.4 0h.5m-.4 0h.5m-.4 0h.5m-.3 0h.5m-.3 0h.5m-.4 0h.5m.2 0h.5M457.5 121.5h.5m-.3 0h.5m-.4 0h.5m-.4 0h.5m-.4 0h.5m-.3 0h.5m.1 0h.5M457.2 121.75h.5m-.4 0h.5m-.3 0h.5m-.2 0h.5m-.4 0h.5m-.4 0h.5m-.2 0h.5m-.3 0h.5m0 0h.5m-.3 0h.5M457.3 122h.5m-.3 0h.5m-.4 0h.5m-.2 0h.5m-.3 0h.5m-.2 0h.5m-.1 0h.5m-.1 0h.5M457.3 122.25h.5m-.4 0h.5m-.4 0h.5m-.4 0h.5m-.4 0h.5m-.4 0h.5m-.2 0h.5m-.4 0h.5m0 0h.5M457.2 122.5h.5m-.4 0h.5m-.4 0h.5m-.3 0h.5m-.4 0h.5m-.4 0h.5m-.4 0h.5m-.4 0h.5m-.3 0h.5m0 0h.5M457.3 122.75h.5m-.3 0h.5m-.4 0h.5m-.4 0h.5m-.4 0h.5m-.4 0h.5m-.2 0h.5m-.3 0h.5m-.3 0h.5M457.3 123h.5m-.4 0h.5m-.4 0h.5m-.4 0h.5m-.4 0h.5m-.4 0h.5m-.3 0h.5m-.4 0h.5m-.1 0h.5m-.4 0h.5m-.4 0h.5m.2 0h.5M457.4 123.25h.5m-.4 0h.5m-.4 0h.5m-.4 0h.5m-.4 0h.5m-.4 0h.5m.1 0h.5M457.3 123.5h.5m-.2 0h.5m-.4 0h.5m-.3 0h.5m-.3 0h.5m.3 0h.5m.1 0h.5m-.4 0h.5M457.3 123.75h.5m-.4 0h.5m-.3 0h.5m-.2 0h.5M457.3 124h.5m-.4 0h.5m-.3 0h.5m-.4 0h.5m-.3 0h.5m-.3 0h.5m-.1 0h.5m-.3 0h.5M457.2 124.25h.5m-.4 0h.5m-.4 0h.5m-.1 0h.5m-.3 0h.5m-.3 0h.5M457.2 124.5h.5m-.4 0h.5m-.3 0h.5m.1 0h.5m-.1 0h.5M457.2 124.75h.5m-.4 0h.5m-.3 0h.5m-.4 0h.5m-.4 0h.5m-.4 0h.5m-.4 0h.5m-.3 0h.5m-.4 0h.5m0 0h.5M457.2 125h.5m-.4 0h.5m-.4 0h.5m-.4 0h.5m-.4 0h.5m.6 0h.5m-.4 0h.5M456.7 125.25h.5m-.3 0h.5m-.3 0h.5m-.4 0h.5m-.1 0h.5m-.4 0h.5m-.1 0h.5M456.7 125.5h.5m-.4 0h.5m-.4 0h.5m-.4 0h.5m-.2 0h.5m-.4 0h.5m-.4 0h.5m-.3 0h.5m-.2 0h.5m-.3 0h.5M456.6 125.75h.5m-.4 0h.5m-.4 0h.5m-.4 0h.5m.2 0h.5m-.3 0h.5m.6 0h.5M456.8 126h.5m-.4 0h.5m-.3 0h.5m-.4 0h.5m-.3 0h.5m-.3 0h.5m-.4 0h.5m-.4 0h.5m-.2 0h.5M456.5 126.25h.5m-.4 0h.5m-.1 0h.5M456.4 126.5h.5m-.4 0h.5m-.4 0h.5m-.4 0h.5m-.3 0h.5m-.4 0h.5m-.2 0h.5m-.3 0h.5m-.1 0h.5m-.3 0h.5M456.5 126.75h.5m-.2 0h.5m-.4 0h.5m-.4 0h.5m-.4 0h.5m-.2 0h.5m-.1 0h.5m.1 0h.5M456.4 127h.5m-.4 0h.5m-.4 0h.5m-.4 0h.5m-.4 0h.5m.2 0h.5m.1 0h.5M456.4 127.25h.5m-.4 0h.5m-.4 0h.5m-.3 0h.5m-.4 0h.5m.3 0h.5M456.3 127.5h.5m-.4 0h.5m-.4 0h.5m-.2 0h.5m-.4 0h.5m-.3 0h.5m-.4 0h.5m-.4 0h.5m-.4 0h.5m-.1 0h.5M456.2 127.75h.5m-.4 0h.5m-.4 0h.5m-.1 0h.5m-.4 0h.5m-.4 0h.5m-.4 0h.5m-.4 0h.5m-.3 0h.5m-.2 0h.5M456.2 128h.5m-.3 0h.5m-.3 0h.5m-.3 0h.5m-.1 0h.5m-.4 0h.5M456.1 128.25h.5m-.4 0h.5m-.3 0h.5m-.3 0h.5m-.3 0h.5m-.4 0h.5m-.4 0h.5m-.3 0h.5m-.4 0h.5M456 128.5h.5m-.4 0h.5m-.4 0h.5m-.3 0h.5m-.4 0h.5m-.3 0h.5m-.2 0h.5m-.4 0h.5m-.4 0h.5m-.3 0h.5M456.3 128.75h.5m-.4 0h.5m-.3 0h.5m-.4 0h.5m-.4 0h.5m-.4 0h.5m0 0h.5m-.4 0h.5M455.9 129h.5m-.4 0h.5m-.4 0h.5m-.3 0h.5m-.4 0h.5m-.4 0h.5m-.4 0h.5m-.3 0h.5m-.3 0h.5m0 0h.5M456 129.25h.5m-.4 0h.5m-.3 0h.5m-.3 0h.5m.1 0h.5m-.3 0h.5m-.2 0h.5M455.9 129.5h.5m-.4 0h.5m-.3 0h.5m-.3 0h.5m-.4 0h.5m-.3 0h.5m-.4 0h.5m.5 0h.5M455.8 129.75h.5m-.4 0h.5m-.4 0h.5m.1 0h.5m-.4 0h.5m-.3 0h.5m-.3 0h.5m-.4 0h.5m-.4 0h.5m-.3 0h.5M456.1 130h.5m-.4 0h.5m-.3 0h.5m-.3 0h.5m-.4 0h.5m-.4 0h.5m-.4 0h.5m.1 0h.5M455.8 130.25h.5m-.4 0h.5m-.4 0h.5m-.4 0h.5m-.2 0h.5m-.4 0h.5m-.4 0h.5m-.4 0h.5m-.4 0h.5m-.3 0h.5m-.4 0h.5M455.6 130.5h.5m-.2 0h.5m-.3 0h.5m-.3 0h.5m-.4 0h.5m0 0h.5m-.3 0h.5m-.4 0h.5m-.3 0h.5M455.6 130.75h.5m-.1 0h.5m-.4 0h.5m-.4 0h.5m-.4 0h.5m-.4 0h.5m-.1 0h.5m-.3 0h.5m-.4 0h.5M455.6 131h.5m-.2 0h.5m-.4 0h.5m-.1 0h.5m-.1 0h.5M455.5 131.25h.5m-.4 0h.5m-.4 0h.5m-.4 0h.5m-.3 0h.5m-.3 0h.5m-.4 0h.5m-.4 0h.5m-.3 0h.5m-.4 0h.5M455.4 131.5h.5m-.4 0h.5m-.4 0h.5m-.4 0h.5m-.4 0h.5m-.3 0h.5m-.4 0h.5m-.3 0h.5m-.4 0h.5m-.1 0h.5m.3 0h.5M455.4 131.75h.5m-.4 0h.5m-.3 0h.5m-.4 0h.5m-.4 0h.5m-.4 0h.5m-.4 0h.5m-.4 0h.5m0 0h.5m-.4 0h.5M455.3 132h.5m-.4 0h.5m-.4 0h.5m-.4 0h.5m-.4 0h.5m-.4 0h.5m-.4 0h.5m-.4 0h.5m-.4 0h.5m-.3 0h.5M455.4 132.25h.5m-.4 0h.5m-.1 0h.5m-.3 0h.5m-.4 0h.5m-.2 0h.5m-.2 0h.5M455.2 132.5h.5m-.4 0h.5m-.3 0h.5m-.4 0h.5m-.3 0h.5m-.4 0h.5m-.1 0h.5m-.2 0h.5m-.4 0h.5M455.2 132.75h.5m-.4 0h.5m-.3 0h.5m-.4 0h.5m-.4 0h.5m-.4 0h.5m-.4 0h.5m-.4 0h.5m-.4 0h.5m-.4 0h.5m-.4 0h.5m-.4 0h.5m-.3 0h.5m0 0h.5m-.4 0h.5M455.1 133h.5m-.2 0h.5m-.4 0h.5m-.3 0h.5m-.4 0h.5m-.4 0h.5m-.4 0h.5m-.2 0h.5m.1 0h.5M455.1 133.25h.5m-.4 0h.5m-.4 0h.5m-.4 0h.5m-.4 0h.5m-.4 0h.5m-.4 0h.5m-.4 0h.5m-.2 0h.5M455.1 133.5h.5m-.4 0h.5m-.4 0h.5m-.3 0h.5m-.4 0h.5m-.4 0h.5m-.2 0h.5m-.3 0h.5m-.4 0h.5m.1 0h.5M455.1 133.75h.5m-.4 0h.5m-.4 0h.5m-.4 0h.5m-.4 0h.5m-.3 0h.5m-.1 0h.5m-.2 0h.5M454.9 134h.5m-.4 0h.5m-.4 0h.5m-.4 0h.5m-.4 0h.5m-.1 0h.5m-.3 0h.5m-.4 0h.5m-.4 0h.5m-.3 0h.5m-.2 0h.5m.1 0h.5M455.2 134.25h.5m0 0h.5M454.9 134.5h.5m-.4 0h.5m-.4 0h.5m0 0h.5m-.4 0h.5m-.4 0h.5m.1 0h.5M454.8 134.75h.5m-.4 0h.5m-.3 0h.5m-.1 0h.5m-.2 0h.5m-.4 0h.5m-.3 0h.5m-.2 0h.5M454.8 135h.5m-.3 0h.5m-.3 0h.5m-.4 0h.5m-.3 0h.5m-.4 0h.5m-.4 0h.5m-.3 0h.5M454.8 135.25h.5m-.1 0h.5m-.3 0h.5m-.2 0h.5m-.4 0h.5M454.6 135.5h.5m-.3 0h.5m-.4 0h.5m-.4 0h.5m-.4 0h.5m-.3 0h.5m-.3 0h.5m.2 0h.5m.1 0h.5M454.6 135.75h.5m-.4 0h.5m-.3 0h.5m-.3 0h.5m-.3 0h.5m-.4 0h.5m-.3 0h.5m-.3 0h.5m-.3 0h.5M454.6 136h.5m-.4 0h.5m-.4 0h.5m-.4 0h.5m-.4 0h.5m-.3 0h.5m-.2 0h.5m-.1 0h.5m-.3 0h.5M454.6 136.25h.5m-.4 0h.5m-.3 0h.5m-.4 0h.5m-.3 0h.5m-.4 0h.5m0 0h.5m-.2 0h.5M454.4 136.5h.5m-.4 0h.5m-.2 0h.5m-.3 0h.5m-.4 0h.5m-.4 0h.5m.1 0h.5M454.5 136.75h.5m-.4 0h.5m-.2 0h.5m-.4 0h.5m-.4 0h.5m-.4 0h.5m0 0h.5m-.4 0h.5m-.3 0h.5m-.4 0h.5M454.5 137h.5m-.4 0h.5m-.3 0h.5m-.4 0h.5m0 0h.5m-.4 0h.5m.1 0h.5M454.3 137.25h.5m-.4 0h.5m-.4 0h.5m-.4 0h.5m-.4 0h.5m-.4 0h.5m-.4 0h.5m-.4 0h.5m-.2 0h.5m-.4 0h.5M454.2 137.5h.5m-.2 0h.5m-.4 0h.5m-.4 0h.5m-.4 0h.5m-.3 0h.5m-.3 0h.5m-.4 0h.5m-.4 0h.5m-.3 0h.5M454.2 137.75h.5m-.4 0h.5m-.4 0h.5m-.4 0h.5m-.1 0h.5m-.3 0h.5m-.1 0h.5m-.2 0h.5M454.2 138h.5m-.4 0h.5m-.3 0h.5m-.4 0h.5m.1 0h.5M454.1 138.25h.5m-.4 0h.5m-.4 0h.5m-.4 0h.5m-.3 0h.5m-.3 0h.5m-.4 0h.5m-.1 0h.5m-.3 0h.5M454 138.5h.5m-.4 0h.5m0 0h.5m0 0h.5m-.4 0h.5M453.9 138.75h.5m-.4 0h.5m-.4 0h.5m-.4 0h.5m-.3 0h.5m-.4 0h.5m-.4 0h.5m0 0h.5m-.4 0h.5m.6 0h.5M454 139h.5m-.4 0h.5m-.4 0h.5m-.3 0h.5m-.2 0h.5m0 0h.5m-.4 0h.5m0 0h.5M453.9 139.25h.5m-.3 0h.5m-.4 0h.5m-.4 0h.5m-.4 0h.5m-.4 0h.5m-.3 0h.5m.1 0h.5M453.8 139.5h.5m-.4 0h.5m-.4 0h.5m-.3 0h.5m-.4 0h.5m.1 0h.5m-.2 0h.5m-.1 0h.5M453.8 139.75h.5m-.4 0h.5m-.4 0h.5m-.4 0h.5m-.4 0h.5m.1 0h.5m-.1 0h.5m-.1 0h.5M453.7 140h.5m-.3 0h.5m-.4 0h.5m-.2 0h.5m-.2 0h.5m-.3 0h.5m-.2 0h.5m.3 0h.5M453.6 140.25h.5m-.4 0h.5m-.3 0h.5m-.4 0h.5m-.3 0h.5m-.3 0h.5m.1 0h.5m-.2 0h.5M453.6 140.5h.5m-.4 0h.5m-.2 0h.5m-.4 0h.5m-.4 0h.5m-.2 0h.5m-.4 0h.5m-.4 0h.5m-.2 0h.5m-.4 0h.5m.1 0h.5M453.6 140.75h.5m-.4 0h.5m-.4 0h.5m-.4 0h.5m-.4 0h.5m-.4 0h.5m-.4 0h.5m-.3 0h.5m-.1 0h.5m-.3 0h.5m-.4 0h.5M453.6 141h.5m-.4 0h.5m-.4 0h.5m-.2 0h.5m-.3 0h.5m-.2 0h.5M453.4 141.25h.5m-.3 0h.5m-.1 0h.5m-.4 0h.5m-.4 0h.5m-.4 0h.5m-.3 0h.5m-.4 0h.5m-.2 0h.5M453.4 141.5h.5m-.4 0h.5m-.4 0h.5m-.4 0h.5m-.3 0h.5m-.2 0h.5m-.4 0h.5m-.2 0h.5m-.4 0h.5M453.3 141.75h.5m-.4 0h.5m-.4 0h.5m-.4 0h.5m-.3 0h.5m-.4 0h.5m-.4 0h.5m.3 0h.5m-.4 0h.5M453.3 142h.5m-.3 0h.5m-.4 0h.5m-.4 0h.5m-.4 0h.5m-.4 0h.5m-.3 0h.5m-.4 0h.5m.8 0h.5M453.4 142.25h.5m-.4 0h.5m-.3 0h.5m-.3 0h.5m-.4 0h.5m-.3 0h.5m-.4 0h.5m-.3 0h.5m.4 0h.5M453.2 142.5h.5m-.4 0h.5m-.4 0h.5m-.4 0h.5m-.4 0h.5m-.4 0h.5m-.3 0h.5m0 0h.5m-.1 0h.5m-.3 0h.5M453.3 142.75h.5m-.4 0h.5m-.3 0h.5m-.4 0h.5m-.4 0h.5m-.4 0h.5m-.4 0h.5M453.1 143h.5m-.4 0h.5m-.4 0h.5m-.4 0h.5m-.4 0h.5m-.4 0h.5m-.4 0h.5m-.3 0h.5m-.4 0h.5m-.3 0h.5m-.3 0h.5m-.4 0h.5m-.3 0h.5m-.4 0h.5m-.1 0h.5M453.1 143.25h.5m-.4 0h.5m-.4 0h.5m-.4 0h.5m-.4 0h.5m-.3 0h.5m0 0h.5m-.2 0h.5M453 143.5h.5m-.3 0h.5m-.4 0h.5m-.3 0h.5m-.4 0h.5m-.3 0h.5m-.1 0h.5m-.3 0h.5M453 143.75h.5m-.3 0h.5m-.3 0h.5m-.3 0h.5m-.3 0h.5m-.1 0h.5" stroke="#000" stroke-width="0.5" fill="none" opacity="1.0"/>
<path d="M459.5 113.75h.5M470.9 114.75h.5M461.3 115h.5m3.2 0h.5M458.8 115.25h.5m.4 0h.5m2.9 0h.5m7.7 0h.5m2.7 0h.5M470.9 115.5h.5m7.2 0h.5M459.3 115.75h.5m4.6 0h.5m5 0h.5M465.6 116h.5m-.3 0h.5m5 0h.5M458.3 116.25h.5m-.2 0h.5m-.3 0h.5m-.1 0h.5m-.2 0h.5m4.2 0h.5m5 0h.5M458.7 116.5h.5m-.2 0h.5m.1 0h.5m.2 0h.5m.5 0h.5m3.1 0h.5m5.3 0h.5M459.4 116.75h.5m.4 0h.5m.6 0h.5m.8 0h.5m5.7 0h.5M460.9 117h.5m-.4 0h.5m.8 0h.5m-.4 0h.5m5.6 0h.5m1.7 0h.5m.3 0h.5m-.3 0h.5m-.3 0h.5M458.5 117.25h.5m1.9 0h.5m5.1 0h.5m.8 0h.5m-.2 0h.5m1.3 0h.5m1.4 0h.5M459 117.5h.5m1.5 0h.5m.3 0h.5m1 0h.5m2.4 0h.5m-.2 0h.5m.9 0h.5M458.9 117.75h.5m-.2 0h.5m-.1 0h.5m-.3 0h.5m-.3 0h.5m.5 0h.5m1.1 0h.5m.4 0h.5m-.3 0h.5m.3 0h.5m.6 0h.5m-.3 0h.5m.2 0h.5m3.4 0h.5m2.1 0h.5m1.4 0h.5M458.5 118h.5m-.4 0h.5m-.4 0h.5m-.4 0h.5m-.2 0h.5m.1 0h.5m-.2 0h.5m-.3 0h.5m0 0h.5m.6 0h.5m-.4 0h.5m.3 0h.5m.7 0h.5m.2 0h.5m0 0h.5m.2 0h.5m.2 0h.5m-.1 0h.5m-.2 0h.5m.3 0h.5m.7 0h.5m1.6 0h.5m2.4 0h.5M458.8 118.25h.5m-.4 0h.5m-.3 0h.5m-.3 0h.5m-.4 0h.5m-.2 0h.5m4.2 0h.5m1.8 0h.5m-.3 0h.5m2.3 0h.5m-.2 0h.5m-.2 0h.5m4.5 0h.5m2.7 0h.5M459 118.5h.5m-.1 0h.5m1.6 0h.5m-.2 0h.5m.5 0h.5m.4 0h.5m-.2 0h.5m.2 0h.5m1.4 0h.5m.4 0h.5m-.4 0h.5m0 0h.5m.7 0h.5m-.2 0h.5m1.8 0h.5m1.6 0h.5m.2 0h.5m3.4 0h.5M458.6 118.75h.5m-.1 0h.5m-.4 0h.5m-.2 0h.5m-.2 0h.5m-.1 0h.5m.7 0h.5m-.1 0h.5m-.4 0h.5m1.7 0h.5m.8 0h.5m.8 0h.5m-.4 0h.5m1.1 0h.5m.5 0h.5m0 0h.5m-.4 0h.5m8 0h.5m.5 0h.5M458.6 119h.5m.5 0h.5m-.3 0h.5m.2 0h.5m-.2 0h.5m.3 0h.5m.6 0h.5m0 0h.5m1.2 0h.5m-.4 0h.5m-.4 0h.5m.3 0h.5m-.4 0h.5m-.2 0h.5m-.3 0h.5m.1 0h.5m.7 0h.5m1.1 0h.5m0 0h.5M456 119.25h.5m2.1 0h.5m.9 0h.5m0 0h.5m0 0h.5m1.4 0h.5m-.4 0h.5m.4 0h.5m.6 0h.5m-.1 0h.5m.2 0h.5m-.4 0h.5m0 0h.5m-.1 0h.5m-.3 0h.5m.9 0h.5m-.3 0h.5m-.4 0h.5m-.4 0h.5m-.3 0h.5m2.4 0h.5m-.2 0h.5m.3 0h.5m1.7 0h.5M459.4 119.5h.5m-.2 0h.5m-.2 0h.5m0 0h.5m.2 0h.5m.1 0h.5m-.3 0h.5m.5 0h.5m.8 0h.5m-.3 0h.5m-.2 0h.5m-.3 0h.5m.2 0h.5m2.3 0h.5m1.1 0h.5m.1 0h.5m0 0h.5m0 0h.5m1.1 0h.5m.8 0h.5m.7 0h.5M458.5 119.75h.5m.1 0h.5m.6 0h.5m-.3 0h.5m-.4 0h.5m-.1 0h.5m-.1 0h.5m-.3 0h.5m0 0h.5m-.2 0h.5m-.1 0h.5m0 0h.5m-.4 0h.5m.2 0h.5m.3 0h.5m-.4 0h.5m-.1 0h.5m-.2 0h.5m-.3 0h.5m-.3 0h.5m.4 0h.5m-.3 0h.5m-.2 0h.5m.1 0h.5m.4 0h.5m.1 0h.5m-.4 0h.5m-.2 0h.5m.2 0h.5m0 0h.5m.3 0h.5m2.2 0h.5M457.9 120h.5m.1 0h.5m-.4 0h.5m0 0h.5m.2 0h.5m-.4 0h.5m.2 0h.5m2.9 0h.5m1.4 0h.5m-.4 0h.5m-.1 0h.5m.7 0h.5m-.1 0h.5m-.4 0h.5m.5 0h.5m-.4 0h.5m1.4 0h.5m.6 0h.5m-.3 0h.5m.3 0h.5m4.2 0h.5M458.4 120.25h.5m-.4 0h.5m0 0h.5m1.1 0h.5m-.4 0h.5m-.4 0h.5m-.3 0h.5m.1 0h.5m.1 0h.5m-.1 0h.5m.9 0h.5m.5 0h.5m.1 0h.5m-.4 0h.5m1.3 0h.5m-.1 0h.5m-.4 0h.5m-.3 0h.5m-.4 0h.5m-.4 0h.5m-.4 0h.5m.2 0h.5m-.4 0h.5m0 0h.5m-.3 0h.5m3.6 0h.5m3 0h.5M458.1 120.5h.5m-.4 0h.5m-.1 0h.5m2.1 0h.5m-.4 0h.5m-.4 0h.5m-.3 0h.5m-.3 0h.5m0 0h.5m-.4 0h.5m.5 0h.5m0 0h.5m-.1 0h.5m.4 0h.5m-.1 0h.5m.4 0h.5m.5 0h.5m2 0h.5m0 0h.5m-.2 0h.5m.2 0h.5M458.3 120.75h.5m-.4 0h.5m0 0h.5m-.3 0h.5m.3 0h.5m-.4 0h.5m-.4 0h.5m.1 0h.5m.7 0h.5m.4 0h.5m-.1 0h.5m-.1 0h.5m1 0h.5m.3 0h.5m3.8 0h.5m3.6 0h.5m-.2 0h.5m.9 0h.5m4.9 0h.5m5.6 0h.5M458 121h.5m.1 0h.5m-.3 0h.5m.1 0h.5m-.1 0h.5m.4 0h.5m.5 0h.5m-.2 0h.5m.3 0h.5m-.2 0h.5m0 0h.5m.4 0h.5m-.3 0h.5m.7 0h.5m-.4 0h.5m-.2 0h.5m.2 0h.5m.2 0h.5m-.3 0h.5m.2 0h.5m-.4 0h.5m.7 0h.5m.7 0h.5m.8 0h.5m6.3 0h.5m3.2 0h.5M458.7 121.25h.5m.6 0h.5m.8 0h.5m-.3 0h.5m-.4 0h.5m.5 0h.5m-.4 0h.5m1.6 0h.5m1.5 0h.5m-.1 0h.5m-.1 0h.5m-.1 0h.5m.1 0h.5m.3 0h.5m.4 0h.5m2.2 0h.5m3.4 0h.5m0 0h.5M458.5 121.5h.5m.4 0h.5m0 0h.5m.2 0h.5m2.3 0h.5m-.3 0h.5m2.1 0h.5m1.5 0h.5m-.2 0h.5m1.8 0h.5m0 0h.5m-.4 0h.5m1 0h.5m.3 0h.5M457.2 121.75h.5m2 0h.5m0 0h.5m-.1 0h.5m-.3 0h.5m.8 0h.5m1.5 0h.5m-.2 0h.5m1.8 0h.5m.3 0h.5m1.9 0h.5m0 0h.5M458.7 122h.5m0 0h.5m2.5 0h.5m.7 0h.5m1.5 0h.5m.4 0h.5m1.1 0h.5m-.3 0h.5m-.2 0h.5m.4 0h.5m-.1 0h.5m.2 0h.5m.7 0h.5m-.2 0h.5m1.1 0h.5m.1 0h.5M459.1 122.25h.5m.2 0h.5m6.3 0h.5m-.1 0h.5m2.3 0h.5m1.1 0h.5m1.4 0h.5m.3 0h.5m1.5 0h.5M458.5 122.5h.5m1.1 0h.5m.7 0h.5m.5 0h.5m1.2 0h.5m-.4 0h.5m-.1 0h.5m-.1 0h.5m1.5 0h.5m.5 0h.5m-.2 0h.5m4.5 0h.5M459.2 122.75h.5m2.1 0h.5m-.1 0h.5m.8 0h.5m.4 0h.5m.4 0h.5m.5 0h.5m4.6 0h.5m1.6 0h.5M459 123h.5m-.3 0h.5m.2 0h.5m-.1 0h.5m5.1 0h.5m-.2 0h.5m2.6 0h.5m8.3 0h.5M464 123.5h.5M460.5 123.75h.5m0 0h.5m1.1 0h.5m4.5 0h.5M470.9 124h.5m3.4 0h.5M459 124.25h.5M470.1 124.75h.5M468.7 125h.5M458 125.5h.5M459.1 125.75h.5M466.1 126h.5M458.2 126.5h.5M460.8 126.75h.5m2.7 0h.5M458.1 127h.5m.1 0h.5m8.3 0h.5M459.5 127.5h.5m7.2 0h.5M459.6 128h.5m-.1 0h.5m5.5 0h.5M458.9 128.5h.5M468.6 128.75h.5" stroke="#222" stroke-width="0.5" fill="none" opacity="1.0"/>
<rect x="463.84999999999997" y="106.95" width="29.799999999999965" height="19.900000000000002" fill="none" stroke="#a4a4a4" stroke-width="1.3"/>
<text x="481.7" y="112.7" font-size="3.2" font-weight="normal" text-anchor="start" fill="#888">IL-17A</text>
<text x="493.2" y="125.3" font-size="5.0" font-weight="bold" text-anchor="end" fill="#000">0,8%</text>
<line x1="446.09999999999997" y1="144.1" x2="446.09999999999997" y2="145.29999999999998" stroke="#333" stroke-width="0.5"/>
<text x="444.09999999999997" y="149.1" font-size="3.0" font-weight="normal" text-anchor="start" fill="#555">10</text>
<text x="447.4" y="147.7" font-size="2.2" font-weight="normal" text-anchor="start" fill="#555">2</text>
<line x1="461.79999999999995" y1="144.1" x2="461.79999999999995" y2="145.29999999999998" stroke="#333" stroke-width="0.5"/>
<text x="459.79999999999995" y="149.1" font-size="3.0" font-weight="normal" text-anchor="start" fill="#555">10</text>
<text x="463.09999999999997" y="147.7" font-size="2.2" font-weight="normal" text-anchor="start" fill="#555">2</text>
<line x1="476.4" y1="144.1" x2="476.4" y2="145.29999999999998" stroke="#333" stroke-width="0.5"/>
<text x="474.4" y="149.1" font-size="3.0" font-weight="normal" text-anchor="start" fill="#555">10</text>
<text x="477.7" y="147.7" font-size="2.2" font-weight="normal" text-anchor="start" fill="#555">2</text>
<line x1="490.4" y1="144.1" x2="490.4" y2="145.29999999999998" stroke="#333" stroke-width="0.5"/>
<text x="488.4" y="149.1" font-size="3.0" font-weight="normal" text-anchor="start" fill="#555">10</text>
<text x="491.7" y="147.7" font-size="2.2" font-weight="normal" text-anchor="start" fill="#555">2</text>
<line x1="438.2" y1="96.2" x2="439.4" y2="96.2" stroke="#333" stroke-width="0.5"/>
<text x="433.79999999999995" y="97.8" font-size="3.0" font-weight="normal" text-anchor="start" fill="#555">10</text>
<text x="436.9" y="96.3" font-size="2.2" font-weight="normal" text-anchor="start" fill="#555">2</text>
<line x1="438.2" y1="109.5" x2="439.4" y2="109.5" stroke="#333" stroke-width="0.5"/>
<text x="433.79999999999995" y="111.1" font-size="3.0" font-weight="normal" text-anchor="start" fill="#555">10</text>
<text x="436.9" y="109.6" font-size="2.2" font-weight="normal" text-anchor="start" fill="#555">2</text>
<line x1="438.2" y1="122.8" x2="439.4" y2="122.8" stroke="#333" stroke-width="0.5"/>
<text x="433.79999999999995" y="124.39999999999999" font-size="3.0" font-weight="normal" text-anchor="start" fill="#555">10</text>
<text x="436.9" y="122.89999999999999" font-size="2.2" font-weight="normal" text-anchor="start" fill="#555">2</text>
<line x1="438.2" y1="136.1" x2="439.4" y2="136.1" stroke="#333" stroke-width="0.5"/>
<text x="433.79999999999995" y="137.7" font-size="3.0" font-weight="normal" text-anchor="start" fill="#555">10</text>
<text x="436.9" y="136.2" font-size="2.2" font-weight="normal" text-anchor="start" fill="#555">2</text>
<text x="468.4" y="153.79999999999998" font-size="3.5" font-weight="normal" text-anchor="middle" fill="#555">IL-17A FITC-A</text>
<text x="431.7" y="117.3" font-size="3.5" font-weight="normal" text-anchor="middle" fill="#555" transform="rotate(-90 431.7 117.3)">CD4 PerCP-A</text>
<line x1="309.2" y1="12.875" x2="309.2" y2="132.125" stroke="#000" stroke-width="1.25"/>
<line x1="308.575" y1="131.5" x2="338.8" y2="131.5" stroke="#000" stroke-width="1.25"/>
<line x1="305.8" y1="131.50" x2="309.2" y2="131.50" stroke="#000" stroke-width="1.25"/>
<text x="304.7" y="134.0" font-size="6.9" font-weight="bold" text-anchor="end" fill="#000" stroke="#000" stroke-width="0.14">0.0%</text>
<line x1="305.8" y1="107.90" x2="309.2" y2="107.90" stroke="#000" stroke-width="1.25"/>
<text x="304.7" y="110.4" font-size="6.9" font-weight="bold" text-anchor="end" fill="#000" stroke="#000" stroke-width="0.14">1.0%</text>
<line x1="305.8" y1="84.30" x2="309.2" y2="84.30" stroke="#000" stroke-width="1.25"/>
<text x="304.7" y="86.8" font-size="6.9" font-weight="bold" text-anchor="end" fill="#000" stroke="#000" stroke-width="0.14">2.0%</text>
<line x1="305.8" y1="60.70" x2="309.2" y2="60.70" stroke="#000" stroke-width="1.25"/>
<text x="304.7" y="63.2" font-size="6.9" font-weight="bold" text-anchor="end" fill="#000" stroke="#000" stroke-width="0.14">3.0%</text>
<line x1="305.8" y1="37.10" x2="309.2" y2="37.10" stroke="#000" stroke-width="1.25"/>
<text x="304.7" y="39.6" font-size="6.9" font-weight="bold" text-anchor="end" fill="#000" stroke="#000" stroke-width="0.14">4.0%</text>
<line x1="305.8" y1="13.50" x2="309.2" y2="13.50" stroke="#000" stroke-width="1.25"/>
<text x="304.7" y="16.0" font-size="6.9" font-weight="bold" text-anchor="end" fill="#000" stroke="#000" stroke-width="0.14">5.0%</text>
<line x1="316.45" y1="29.8" x2="316.45" y2="46.7" stroke="#000" stroke-width="1.35"/>
<line x1="313.34999999999997" y1="29.8" x2="319.55" y2="29.8" stroke="#000" stroke-width="1.35"/>
<rect x="311.825" y="46.7" width="9.25" height="84.8" fill="#fff" stroke="#000" stroke-width="1.25"/>
<line x1="330.6" y1="61" x2="330.6" y2="69.4" stroke="#000" stroke-width="1.35"/>
<line x1="327.5" y1="61" x2="333.70000000000005" y2="61" stroke="#000" stroke-width="1.35"/>
<rect x="325.825" y="69.4" width="9.550000000000011" height="62.099999999999994" fill="#000" stroke="#000" stroke-width="1.25"/>
<line x1="323.6" y1="131.5" x2="323.6" y2="134.7" stroke="#000" stroke-width="1.25"/>
<text x="323.6" y="143" font-size="6.9" font-weight="bold" text-anchor="middle" fill="#000" stroke="#000" stroke-width="0.14">MM</text>
<text x="280.2" y="73.5" font-size="7.0" font-weight="bold" text-anchor="middle" fill="#000" transform="rotate(-90 280.2 73.5)" stroke="#000" stroke-width="0.14">Treg of CD4 T cells</text>
<line x1="46.1" y1="184.575" x2="46.1" y2="304.125" stroke="#000" stroke-width="1.25"/>
<line x1="45.475" y1="303.5" x2="75.6" y2="303.5" stroke="#000" stroke-width="1.25"/>
<line x1="42.7" y1="303.50" x2="46.1" y2="303.50" stroke="#000" stroke-width="1.25"/>
<text x="42.0" y="306.0" font-size="6.9" font-weight="bold" text-anchor="end" fill="#000" stroke="#000" stroke-width="0.14">0.0%</text>
<line x1="42.7" y1="279.84" x2="46.1" y2="279.84" stroke="#000" stroke-width="1.25"/>
<text x="42.0" y="282.34" font-size="6.9" font-weight="bold" text-anchor="end" fill="#000" stroke="#000" stroke-width="0.14">0.2%</text>
<line x1="42.7" y1="256.18" x2="46.1" y2="256.18" stroke="#000" stroke-width="1.25"/>
<text x="42.0" y="258.68" font-size="6.9" font-weight="bold" text-anchor="end" fill="#000" stroke="#000" stroke-width="0.14">0.4%</text>
<line x1="42.7" y1="232.52" x2="46.1" y2="232.52" stroke="#000" stroke-width="1.25"/>
<text x="42.0" y="235.02" font-size="6.9" font-weight="bold" text-anchor="end" fill="#000" stroke="#000" stroke-width="0.14">0.6%</text>
<line x1="42.7" y1="208.86" x2="46.1" y2="208.86" stroke="#000" stroke-width="1.25"/>
<text x="42.0" y="211.36" font-size="6.9" font-weight="bold" text-anchor="end" fill="#000" stroke="#000" stroke-width="0.14">0.8%</text>
<line x1="42.7" y1="185.20" x2="46.1" y2="185.20" stroke="#000" stroke-width="1.25"/>
<text x="42.0" y="187.7" font-size="6.9" font-weight="bold" text-anchor="end" fill="#000" stroke="#000" stroke-width="0.14">1.0%</text>
<line x1="53.5" y1="276.5" x2="53.5" y2="280.3" stroke="#000" stroke-width="1.35"/>
<line x1="50.4" y1="276.5" x2="56.6" y2="276.5" stroke="#000" stroke-width="1.35"/>
<rect x="48.625" y="280.3" width="9.75" height="23.19999999999999" fill="#fff" stroke="#000" stroke-width="1.25"/>
<line x1="67.75" y1="199.1" x2="67.75" y2="232.5" stroke="#000" stroke-width="1.35"/>
<line x1="64.65" y1="199.1" x2="70.85" y2="199.1" stroke="#000" stroke-width="1.35"/>
<rect x="62.825" y="232.5" width="9.849999999999994" height="71.0" fill="#000" stroke="#000" stroke-width="1.25"/>
<line x1="60.5" y1="303.5" x2="60.5" y2="306.7" stroke="#000" stroke-width="1.25"/>
<text x="60.5" y="314.4" font-size="6.9" font-weight="bold" text-anchor="middle" fill="#000" stroke="#000" stroke-width="0.14">MM</text>
<text x="18.2" y="246.1" font-size="7.0" font-weight="bold" text-anchor="middle" fill="#000" transform="rotate(-90 18.2 246.1)" stroke="#000" stroke-width="0.14">IL-17A producing cells of CD4 T cells</text>
<line x1="134.0" y1="184.675" x2="134.0" y2="304.025" stroke="#000" stroke-width="1.25"/>
<line x1="133.375" y1="303.4" x2="214.3" y2="303.4" stroke="#000" stroke-width="1.25"/>
<line x1="130.6" y1="303.40" x2="134.0" y2="303.40" stroke="#000" stroke-width="1.25"/>
<text x="129.5" y="305.9" font-size="6.9" font-weight="bold" text-anchor="end" fill="#000" stroke="#000" stroke-width="0.14">0.0%</text>
<line x1="130.6" y1="279.78" x2="134.0" y2="279.78" stroke="#000" stroke-width="1.25"/>
<text x="129.5" y="282.28" font-size="6.9" font-weight="bold" text-anchor="end" fill="#000" stroke="#000" stroke-width="0.14">20.0%</text>
<line x1="130.6" y1="256.16" x2="134.0" y2="256.16" stroke="#000" stroke-width="1.25"/>
<text x="129.5" y="258.66" font-size="6.9" font-weight="bold" text-anchor="end" fill="#000" stroke="#000" stroke-width="0.14">40.0%</text>
<line x1="130.6" y1="232.54" x2="134.0" y2="232.54" stroke="#000" stroke-width="1.25"/>
<text x="129.5" y="235.04" font-size="6.9" font-weight="bold" text-anchor="end" fill="#000" stroke="#000" stroke-width="0.14">60.0%</text>
<line x1="130.6" y1="208.92" x2="134.0" y2="208.92" stroke="#000" stroke-width="1.25"/>
<text x="129.5" y="211.42" font-size="6.9" font-weight="bold" text-anchor="end" fill="#000" stroke="#000" stroke-width="0.14">80.0%</text>
<line x1="130.6" y1="185.30" x2="134.0" y2="185.30" stroke="#000" stroke-width="1.25"/>
<text x="129.5" y="187.8" font-size="6.9" font-weight="bold" text-anchor="end" fill="#000" stroke="#000" stroke-width="0.14">100.0%</text>
<line x1="146.2" y1="256.3" x2="146.2" y2="269.1" stroke="#000" stroke-width="1.35"/>
<line x1="143.1" y1="256.3" x2="149.29999999999998" y2="256.3" stroke="#000" stroke-width="1.35"/>
<rect x="141.625" y="269.1" width="9.150000000000006" height="34.299999999999955" fill="#fff" stroke="#000" stroke-width="1.25"/>
<line x1="161.05" y1="259.1" x2="161.05" y2="269.8" stroke="#000" stroke-width="1.35"/>
<line x1="157.95000000000002" y1="259.1" x2="164.15" y2="259.1" stroke="#000" stroke-width="1.35"/>
<rect x="156.425" y="269.8" width="9.25" height="33.599999999999966" fill="#000" stroke="#000" stroke-width="1.25"/>
<line x1="185.65" y1="207.6" x2="185.65" y2="220.3" stroke="#000" stroke-width="1.35"/>
<line x1="182.55" y1="207.6" x2="188.75" y2="207.6" stroke="#000" stroke-width="1.35"/>
<rect x="181.025" y="220.3" width="9.25" height="83.09999999999997" fill="#fff" stroke="#000" stroke-width="1.25"/>
<line x1="200.5" y1="207.9" x2="200.5" y2="218.8" stroke="#000" stroke-width="1.35"/>
<line x1="197.4" y1="207.9" x2="203.6" y2="207.9" stroke="#000" stroke-width="1.35"/>
<rect x="195.625" y="218.8" width="9.75" height="84.59999999999997" fill="#000" stroke="#000" stroke-width="1.25"/>
<line x1="153.8" y1="303.4" x2="153.8" y2="306.59999999999997" stroke="#000" stroke-width="1.25"/>
<text x="153.8" y="314.8" font-size="6.9" font-weight="bold" text-anchor="middle" fill="#000" stroke="#000" stroke-width="0.14">CD8</text>
<line x1="193" y1="303.4" x2="193" y2="306.59999999999997" stroke="#000" stroke-width="1.25"/>
<text x="193" y="314.8" font-size="6.9" font-weight="bold" text-anchor="middle" fill="#000" stroke="#000" stroke-width="0.14">CD4</text>
<text x="104.5" y="244.5" font-size="7.0" font-weight="bold" text-anchor="middle" fill="#000" transform="rotate(-90 104.5 244.5)" stroke="#000" stroke-width="0.14">CD8/CD4 T cells of CD3 T cells</text>
<line x1="262.4" y1="184.975" x2="262.4" y2="304.025" stroke="#000" stroke-width="1.25"/>
<line x1="261.775" y1="303.4" x2="292" y2="303.4" stroke="#000" stroke-width="1.25"/>
<line x1="259.0" y1="303.40" x2="262.4" y2="303.40" stroke="#000" stroke-width="1.25"/>
<text x="257.0" y="305.9" font-size="6.9" font-weight="bold" text-anchor="end" fill="#000" stroke="#000" stroke-width="0.14">0.0</text>
<line x1="259.0" y1="273.95" x2="262.4" y2="273.95" stroke="#000" stroke-width="1.25"/>
<text x="257.0" y="276.45" font-size="6.9" font-weight="bold" text-anchor="end" fill="#000" stroke="#000" stroke-width="0.14">10.0</text>
<line x1="259.0" y1="244.50" x2="262.4" y2="244.50" stroke="#000" stroke-width="1.25"/>
<text x="257.0" y="247.0" font-size="6.9" font-weight="bold" text-anchor="end" fill="#000" stroke="#000" stroke-width="0.14">20.0</text>
<line x1="259.0" y1="215.05" x2="262.4" y2="215.05" stroke="#000" stroke-width="1.25"/>
<text x="257.0" y="217.55" font-size="6.9" font-weight="bold" text-anchor="end" fill="#000" stroke="#000" stroke-width="0.14">30.0</text>
<line x1="259.0" y1="185.60" x2="262.4" y2="185.60" stroke="#000" stroke-width="1.25"/>
<text x="257.0" y="188.1" font-size="6.9" font-weight="bold" text-anchor="end" fill="#000" stroke="#000" stroke-width="0.14">40.0</text>
<line x1="269.45000000000005" y1="225.4" x2="269.45000000000005" y2="258.5" stroke="#000" stroke-width="1.35"/>
<line x1="266.35" y1="225.4" x2="272.55000000000007" y2="225.4" stroke="#000" stroke-width="1.35"/>
<rect x="264.925" y="258.5" width="9.050000000000011" height="44.89999999999998" fill="#fff" stroke="#000" stroke-width="1.25"/>
<line x1="284.05" y1="246.4" x2="284.05" y2="282.8" stroke="#000" stroke-width="1.35"/>
<line x1="280.95" y1="246.4" x2="287.15000000000003" y2="246.4" stroke="#000" stroke-width="1.35"/>
<rect x="279.425" y="282.8" width="9.25" height="20.599999999999966" fill="#000" stroke="#000" stroke-width="1.25"/>
<line x1="276.8" y1="303.4" x2="276.8" y2="306.59999999999997" stroke="#000" stroke-width="1.25"/>
<text x="276.8" y="314.8" font-size="6.9" font-weight="bold" text-anchor="middle" fill="#000" stroke="#000" stroke-width="0.14">IL-10</text>
<text x="234" y="244.6" font-size="7.0" font-weight="bold" text-anchor="middle" fill="#000" transform="rotate(-90 234 244.6)" stroke="#000" stroke-width="0.14">Concentration (pg/ml)</text>
<line x1="338.2" y1="187.075" x2="338.2" y2="306.325" stroke="#000" stroke-width="1.25"/>
<line x1="337.575" y1="305.7" x2="367.5" y2="305.7" stroke="#000" stroke-width="1.25"/>
<line x1="334.8" y1="305.70" x2="338.2" y2="305.70" stroke="#000" stroke-width="1.25"/>
<text x="332.6" y="308.2" font-size="6.9" font-weight="bold" text-anchor="end" fill="#000" stroke="#000" stroke-width="0.14">0.0</text>
<line x1="334.8" y1="282.10" x2="338.2" y2="282.10" stroke="#000" stroke-width="1.25"/>
<text x="332.6" y="284.6" font-size="6.9" font-weight="bold" text-anchor="end" fill="#000" stroke="#000" stroke-width="0.14">10.0</text>
<line x1="334.8" y1="258.50" x2="338.2" y2="258.50" stroke="#000" stroke-width="1.25"/>
<text x="332.6" y="261.0" font-size="6.9" font-weight="bold" text-anchor="end" fill="#000" stroke="#000" stroke-width="0.14">20.0</text>
<line x1="334.8" y1="234.90" x2="338.2" y2="234.90" stroke="#000" stroke-width="1.25"/>
<text x="332.6" y="237.4" font-size="6.9" font-weight="bold" text-anchor="end" fill="#000" stroke="#000" stroke-width="0.14">30.0</text>
<line x1="334.8" y1="211.30" x2="338.2" y2="211.30" stroke="#000" stroke-width="1.25"/>
<text x="332.6" y="213.8" font-size="6.9" font-weight="bold" text-anchor="end" fill="#000" stroke="#000" stroke-width="0.14">40.0</text>
<line x1="334.8" y1="187.70" x2="338.2" y2="187.70" stroke="#000" stroke-width="1.25"/>
<text x="332.6" y="190.2" font-size="6.9" font-weight="bold" text-anchor="end" fill="#000" stroke="#000" stroke-width="0.14">50.0</text>
<line x1="345.45000000000005" y1="255.3" x2="345.45000000000005" y2="274.5" stroke="#000" stroke-width="1.35"/>
<line x1="342.35" y1="255.3" x2="348.55000000000007" y2="255.3" stroke="#000" stroke-width="1.35"/>
<rect x="340.925" y="274.5" width="9.050000000000011" height="31.19999999999999" fill="#fff" stroke="#000" stroke-width="1.25"/>
<line x1="359.9" y1="197.3" x2="359.9" y2="236.5" stroke="#000" stroke-width="1.35"/>
<line x1="356.79999999999995" y1="197.3" x2="363.0" y2="197.3" stroke="#000" stroke-width="1.35"/>
<rect x="354.925" y="236.5" width="9.949999999999989" height="69.19999999999999" fill="#000" stroke="#000" stroke-width="1.25"/>
<line x1="353.2" y1="305.7" x2="353.2" y2="308.9" stroke="#000" stroke-width="1.25"/>
<text x="353.2" y="316.8" font-size="6.9" font-weight="bold" text-anchor="middle" fill="#000" stroke="#000" stroke-width="0.14">IL-17A</text>
<text x="308.5" y="248.5" font-size="7.0" font-weight="bold" text-anchor="middle" fill="#000" transform="rotate(-90 308.5 248.5)" stroke="#000" stroke-width="0.14">Concentration (pg/ml)</text>
<line x1="413.6" y1="186.275" x2="413.6" y2="304.625" stroke="#000" stroke-width="1.25"/>
<line x1="412.975" y1="304.0" x2="442.5" y2="304.0" stroke="#000" stroke-width="1.25"/>
<line x1="410.20000000000005" y1="304.00" x2="413.6" y2="304.00" stroke="#000" stroke-width="1.25"/>
<text x="407.7" y="306.5" font-size="6.9" font-weight="bold" text-anchor="end" fill="#000" stroke="#000" stroke-width="0.14">0.0</text>
<line x1="410.20000000000005" y1="280.58" x2="413.6" y2="280.58" stroke="#000" stroke-width="1.25"/>
<text x="407.7" y="283.08" font-size="6.9" font-weight="bold" text-anchor="end" fill="#000" stroke="#000" stroke-width="0.14">50.0</text>
<line x1="410.20000000000005" y1="257.16" x2="413.6" y2="257.16" stroke="#000" stroke-width="1.25"/>
<text x="407.7" y="259.66" font-size="6.9" font-weight="bold" text-anchor="end" fill="#000" stroke="#000" stroke-width="0.14">100.0</text>
<line x1="410.20000000000005" y1="233.74" x2="413.6" y2="233.74" stroke="#000" stroke-width="1.25"/>
<text x="407.7" y="236.24" font-size="6.9" font-weight="bold" text-anchor="end" fill="#000" stroke="#000" stroke-width="0.14">150.0</text>
<line x1="410.20000000000005" y1="210.32" x2="413.6" y2="210.32" stroke="#000" stroke-width="1.25"/>
<text x="407.7" y="212.82" font-size="6.9" font-weight="bold" text-anchor="end" fill="#000" stroke="#000" stroke-width="0.14">200.0</text>
<line x1="410.20000000000005" y1="186.90" x2="413.6" y2="186.90" stroke="#000" stroke-width="1.25"/>
<text x="407.7" y="189.4" font-size="6.9" font-weight="bold" text-anchor="end" fill="#000" stroke="#000" stroke-width="0.14">250.0</text>
<line x1="420.45000000000005" y1="239.6" x2="420.45000000000005" y2="258.1" stroke="#000" stroke-width="1.35"/>
<line x1="417.35" y1="239.6" x2="423.55000000000007" y2="239.6" stroke="#000" stroke-width="1.35"/>
<rect x="415.925" y="258.1" width="9.050000000000011" height="45.89999999999998" fill="#fff" stroke="#000" stroke-width="1.25"/>
<line x1="434.95000000000005" y1="208.3" x2="434.95000000000005" y2="236.1" stroke="#000" stroke-width="1.35"/>
<line x1="431.85" y1="208.3" x2="438.05000000000007" y2="208.3" stroke="#000" stroke-width="1.35"/>
<rect x="430.225" y="236.1" width="9.449999999999989" height="67.9" fill="#000" stroke="#000" stroke-width="1.25"/>
<line x1="428.1" y1="304.0" x2="428.1" y2="307.2" stroke="#000" stroke-width="1.25"/>
<text x="428.1" y="316" font-size="6.9" font-weight="bold" text-anchor="middle" fill="#000" stroke="#000" stroke-width="0.14">IL-6</text>
<text x="385.5" y="245.3" font-size="7.0" font-weight="bold" text-anchor="middle" fill="#000" transform="rotate(-90 385.5 245.3)" stroke="#000" stroke-width="0.14">Concentration (pg/ml)</text>
<line x1="488.1" y1="185.375" x2="488.1" y2="303.925" stroke="#000" stroke-width="1.25"/>
<line x1="487.475" y1="303.3" x2="517" y2="303.3" stroke="#000" stroke-width="1.25"/>
<line x1="484.70000000000005" y1="303.30" x2="488.1" y2="303.30" stroke="#000" stroke-width="1.25"/>
<text x="482.2" y="305.8" font-size="6.9" font-weight="bold" text-anchor="end" fill="#000" stroke="#000" stroke-width="0.14">0.0</text>
<line x1="484.70000000000005" y1="279.84" x2="488.1" y2="279.84" stroke="#000" stroke-width="1.25"/>
<text x="482.2" y="282.34" font-size="6.9" font-weight="bold" text-anchor="end" fill="#000" stroke="#000" stroke-width="0.14">5.0</text>
<line x1="484.70000000000005" y1="256.38" x2="488.1" y2="256.38" stroke="#000" stroke-width="1.25"/>
<text x="482.2" y="258.88" font-size="6.9" font-weight="bold" text-anchor="end" fill="#000" stroke="#000" stroke-width="0.14">10.0</text>
<line x1="484.70000000000005" y1="232.92" x2="488.1" y2="232.92" stroke="#000" stroke-width="1.25"/>
<text x="482.2" y="235.42" font-size="6.9" font-weight="bold" text-anchor="end" fill="#000" stroke="#000" stroke-width="0.14">15.0</text>
<line x1="484.70000000000005" y1="209.46" x2="488.1" y2="209.46" stroke="#000" stroke-width="1.25"/>
<text x="482.2" y="211.96" font-size="6.9" font-weight="bold" text-anchor="end" fill="#000" stroke="#000" stroke-width="0.14">20.0</text>
<line x1="484.70000000000005" y1="186.00" x2="488.1" y2="186.00" stroke="#000" stroke-width="1.25"/>
<text x="482.2" y="188.5" font-size="6.9" font-weight="bold" text-anchor="end" fill="#000" stroke="#000" stroke-width="0.14">25.0</text>
<line x1="494.9" y1="252.4" x2="494.9" y2="259.8" stroke="#000" stroke-width="1.35"/>
<line x1="491.79999999999995" y1="252.4" x2="498.0" y2="252.4" stroke="#000" stroke-width="1.35"/>
<rect x="489.925" y="259.8" width="9.949999999999989" height="43.5" fill="#fff" stroke="#000" stroke-width="1.25"/>
<line x1="509.35" y1="201.3" x2="509.35" y2="232.3" stroke="#000" stroke-width="1.35"/>
<line x1="506.25" y1="201.3" x2="512.45" y2="201.3" stroke="#000" stroke-width="1.35"/>
<rect x="504.325" y="232.3" width="10.050000000000011" height="71.0" fill="#000" stroke="#000" stroke-width="1.25"/>
<line x1="502.5" y1="303.3" x2="502.5" y2="306.5" stroke="#000" stroke-width="1.25"/>
<text x="502.5" y="314.8" font-size="6.9" font-weight="bold" text-anchor="middle" fill="#000" stroke="#000" stroke-width="0.14">TNFa</text>
<text x="459.9" y="245.8" font-size="7.0" font-weight="bold" text-anchor="middle" fill="#000" transform="rotate(-90 459.9 245.8)" stroke="#000" stroke-width="0.14">Concentration (pg/ml)</text>
<rect x="11.9" y="334.9" width="13.4" height="3.2" rx="0.6" fill="#fff" stroke="#000" stroke-width="1.8"/>
<rect x="11" y="343.2" width="15.2" height="5.8" rx="0.9" fill="#000"/>
<text x="30.5" y="339.0" font-size="7.8" font-weight="normal" text-anchor="start" fill="#000">MART-1 + irrelevant peptide</text>
<text x="30.5" y="348.6" font-size="7.8" font-weight="normal" text-anchor="start" fill="#000">MART-1 + IDO peptide</text>
</svg>
</body></html>
